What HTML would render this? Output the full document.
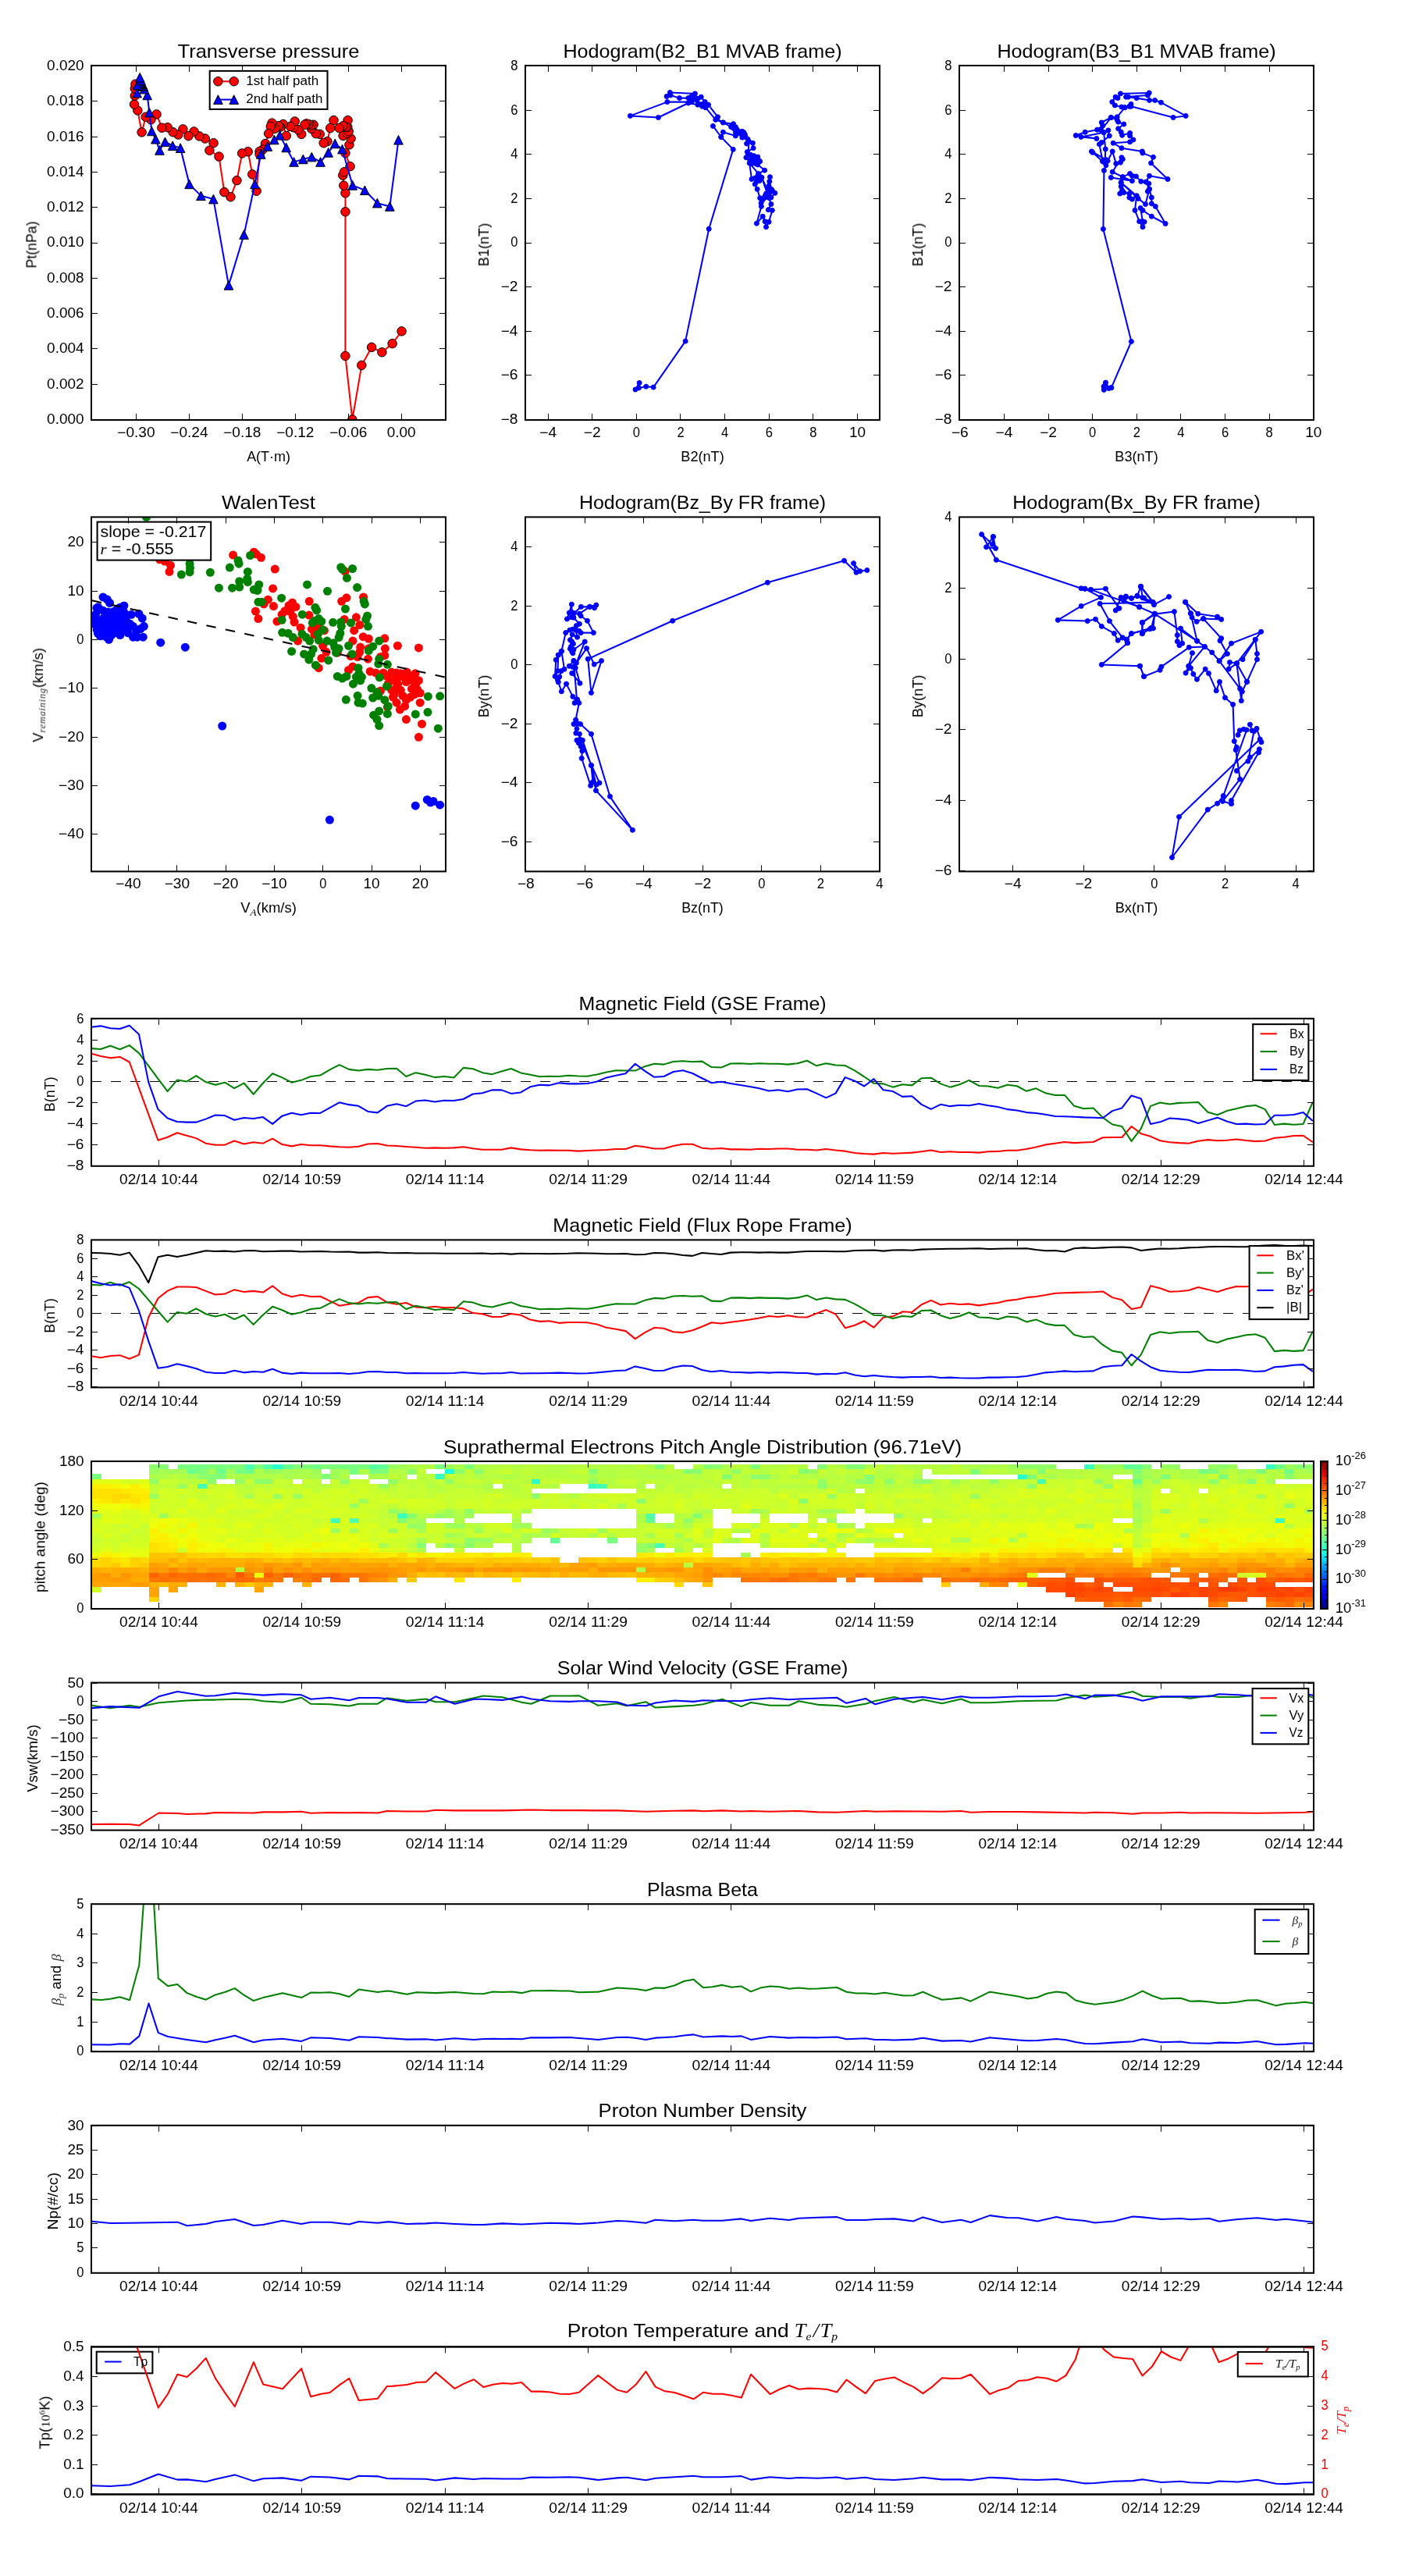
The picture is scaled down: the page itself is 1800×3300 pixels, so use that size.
<!DOCTYPE html>
<html><head><meta charset="utf-8"><title>figure</title>
<style>html,body{margin:0;padding:0;background:#fff}svg{display:block}text{font-family:"Liberation Sans", sans-serif;}</style></head>
<body>
<svg width="1800" height="3300" viewBox="0 0 1800 3300">
<rect x="0" y="0" width="1800" height="3300" fill="#fff"/>
<clipPath id="c_a1"><rect x="117" y="84" width="454" height="454"/></clipPath>
<g clip-path="url(#c_a1)">
<polyline points="514.58,424.34 502.63,440.14 489.39,451.24 476.15,444.83 463.34,467.89 451.38,537.5 442.41,455.94 442.46,271.25 442.46,247.33 440.32,237.65 439.32,224.56 441.03,220.28 448.58,213.17 442.46,196.09 447.44,185.41 449.57,177.58 439.61,174.02 445.02,171.17 446.73,168.33 445.3,162.63 445.59,154.09 443.17,162.63 439.61,161.21 434.63,164.06 427.51,154.09 423.24,164.06 419.4,181.14 414.7,183.27 409.72,171.89 404.73,171.17 399.04,164.77 401.6,159.79 398.33,160.5 395.48,159.07 392.63,158.36 390.5,159.79 386.23,171.89 381.96,166.19 376.26,163.35 377.69,155.52 371.99,161.92 366.73,174.02 362.74,159.07 359.18,162.63 357.05,161.21 352.06,164.77 348.51,157.65 346.8,161.92 344.23,171.17 339.96,183.99 336.41,191.81 332.56,193.95 332.63,197.44 328.65,244.7 323.24,223.35 317.69,194.31 310.14,196.44 303.45,231.17 295.48,252.24 287.37,246.12 280.53,200.57 268.43,192.74 273.56,183.2 262.74,177.51 255.34,174.38 248.51,168.54 241.53,174.23 234.41,165.41 228.29,172.53 221.6,169.25 214.77,163.27 207.37,163.7 200.53,146.48 193.42,153.31 186.73,149.75 181.6,169.4 176.33,141.49 172.06,133.67 172.78,122.7 172.78,113.45 173.49,107.76" fill="none" stroke="#ff0000" stroke-width="2.05" stroke-linejoin="round"/>
<circle cx="514.58" cy="424.34" r="5.75" fill="#ff0000" stroke="#000" stroke-width="1"/>
<circle cx="502.63" cy="440.14" r="5.75" fill="#ff0000" stroke="#000" stroke-width="1"/>
<circle cx="489.39" cy="451.24" r="5.75" fill="#ff0000" stroke="#000" stroke-width="1"/>
<circle cx="476.15" cy="444.83" r="5.75" fill="#ff0000" stroke="#000" stroke-width="1"/>
<circle cx="463.34" cy="467.89" r="5.75" fill="#ff0000" stroke="#000" stroke-width="1"/>
<circle cx="451.38" cy="537.5" r="5.75" fill="#ff0000" stroke="#000" stroke-width="1"/>
<circle cx="442.41" cy="455.94" r="5.75" fill="#ff0000" stroke="#000" stroke-width="1"/>
<circle cx="442.46" cy="271.25" r="5.75" fill="#ff0000" stroke="#000" stroke-width="1"/>
<circle cx="442.46" cy="247.33" r="5.75" fill="#ff0000" stroke="#000" stroke-width="1"/>
<circle cx="440.32" cy="237.65" r="5.75" fill="#ff0000" stroke="#000" stroke-width="1"/>
<circle cx="439.32" cy="224.56" r="5.75" fill="#ff0000" stroke="#000" stroke-width="1"/>
<circle cx="441.03" cy="220.28" r="5.75" fill="#ff0000" stroke="#000" stroke-width="1"/>
<circle cx="448.58" cy="213.17" r="5.75" fill="#ff0000" stroke="#000" stroke-width="1"/>
<circle cx="442.46" cy="196.09" r="5.75" fill="#ff0000" stroke="#000" stroke-width="1"/>
<circle cx="447.44" cy="185.41" r="5.75" fill="#ff0000" stroke="#000" stroke-width="1"/>
<circle cx="449.57" cy="177.58" r="5.75" fill="#ff0000" stroke="#000" stroke-width="1"/>
<circle cx="439.61" cy="174.02" r="5.75" fill="#ff0000" stroke="#000" stroke-width="1"/>
<circle cx="445.02" cy="171.17" r="5.75" fill="#ff0000" stroke="#000" stroke-width="1"/>
<circle cx="446.73" cy="168.33" r="5.75" fill="#ff0000" stroke="#000" stroke-width="1"/>
<circle cx="445.3" cy="162.63" r="5.75" fill="#ff0000" stroke="#000" stroke-width="1"/>
<circle cx="445.59" cy="154.09" r="5.75" fill="#ff0000" stroke="#000" stroke-width="1"/>
<circle cx="443.17" cy="162.63" r="5.75" fill="#ff0000" stroke="#000" stroke-width="1"/>
<circle cx="439.61" cy="161.21" r="5.75" fill="#ff0000" stroke="#000" stroke-width="1"/>
<circle cx="434.63" cy="164.06" r="5.75" fill="#ff0000" stroke="#000" stroke-width="1"/>
<circle cx="427.51" cy="154.09" r="5.75" fill="#ff0000" stroke="#000" stroke-width="1"/>
<circle cx="423.24" cy="164.06" r="5.75" fill="#ff0000" stroke="#000" stroke-width="1"/>
<circle cx="419.4" cy="181.14" r="5.75" fill="#ff0000" stroke="#000" stroke-width="1"/>
<circle cx="414.7" cy="183.27" r="5.75" fill="#ff0000" stroke="#000" stroke-width="1"/>
<circle cx="409.72" cy="171.89" r="5.75" fill="#ff0000" stroke="#000" stroke-width="1"/>
<circle cx="404.73" cy="171.17" r="5.75" fill="#ff0000" stroke="#000" stroke-width="1"/>
<circle cx="399.04" cy="164.77" r="5.75" fill="#ff0000" stroke="#000" stroke-width="1"/>
<circle cx="401.6" cy="159.79" r="5.75" fill="#ff0000" stroke="#000" stroke-width="1"/>
<circle cx="398.33" cy="160.5" r="5.75" fill="#ff0000" stroke="#000" stroke-width="1"/>
<circle cx="395.48" cy="159.07" r="5.75" fill="#ff0000" stroke="#000" stroke-width="1"/>
<circle cx="392.63" cy="158.36" r="5.75" fill="#ff0000" stroke="#000" stroke-width="1"/>
<circle cx="390.5" cy="159.79" r="5.75" fill="#ff0000" stroke="#000" stroke-width="1"/>
<circle cx="386.23" cy="171.89" r="5.75" fill="#ff0000" stroke="#000" stroke-width="1"/>
<circle cx="381.96" cy="166.19" r="5.75" fill="#ff0000" stroke="#000" stroke-width="1"/>
<circle cx="376.26" cy="163.35" r="5.75" fill="#ff0000" stroke="#000" stroke-width="1"/>
<circle cx="377.69" cy="155.52" r="5.75" fill="#ff0000" stroke="#000" stroke-width="1"/>
<circle cx="371.99" cy="161.92" r="5.75" fill="#ff0000" stroke="#000" stroke-width="1"/>
<circle cx="366.73" cy="174.02" r="5.75" fill="#ff0000" stroke="#000" stroke-width="1"/>
<circle cx="362.74" cy="159.07" r="5.75" fill="#ff0000" stroke="#000" stroke-width="1"/>
<circle cx="359.18" cy="162.63" r="5.75" fill="#ff0000" stroke="#000" stroke-width="1"/>
<circle cx="357.05" cy="161.21" r="5.75" fill="#ff0000" stroke="#000" stroke-width="1"/>
<circle cx="352.06" cy="164.77" r="5.75" fill="#ff0000" stroke="#000" stroke-width="1"/>
<circle cx="348.51" cy="157.65" r="5.75" fill="#ff0000" stroke="#000" stroke-width="1"/>
<circle cx="346.8" cy="161.92" r="5.75" fill="#ff0000" stroke="#000" stroke-width="1"/>
<circle cx="344.23" cy="171.17" r="5.75" fill="#ff0000" stroke="#000" stroke-width="1"/>
<circle cx="339.96" cy="183.99" r="5.75" fill="#ff0000" stroke="#000" stroke-width="1"/>
<circle cx="336.41" cy="191.81" r="5.75" fill="#ff0000" stroke="#000" stroke-width="1"/>
<circle cx="332.56" cy="193.95" r="5.75" fill="#ff0000" stroke="#000" stroke-width="1"/>
<circle cx="332.63" cy="197.44" r="5.75" fill="#ff0000" stroke="#000" stroke-width="1"/>
<circle cx="328.65" cy="244.7" r="5.75" fill="#ff0000" stroke="#000" stroke-width="1"/>
<circle cx="323.24" cy="223.35" r="5.75" fill="#ff0000" stroke="#000" stroke-width="1"/>
<circle cx="317.69" cy="194.31" r="5.75" fill="#ff0000" stroke="#000" stroke-width="1"/>
<circle cx="310.14" cy="196.44" r="5.75" fill="#ff0000" stroke="#000" stroke-width="1"/>
<circle cx="303.45" cy="231.17" r="5.75" fill="#ff0000" stroke="#000" stroke-width="1"/>
<circle cx="295.48" cy="252.24" r="5.75" fill="#ff0000" stroke="#000" stroke-width="1"/>
<circle cx="287.37" cy="246.12" r="5.75" fill="#ff0000" stroke="#000" stroke-width="1"/>
<circle cx="280.53" cy="200.57" r="5.75" fill="#ff0000" stroke="#000" stroke-width="1"/>
<circle cx="268.43" cy="192.74" r="5.75" fill="#ff0000" stroke="#000" stroke-width="1"/>
<circle cx="273.56" cy="183.2" r="5.75" fill="#ff0000" stroke="#000" stroke-width="1"/>
<circle cx="262.74" cy="177.51" r="5.75" fill="#ff0000" stroke="#000" stroke-width="1"/>
<circle cx="255.34" cy="174.38" r="5.75" fill="#ff0000" stroke="#000" stroke-width="1"/>
<circle cx="248.51" cy="168.54" r="5.75" fill="#ff0000" stroke="#000" stroke-width="1"/>
<circle cx="241.53" cy="174.23" r="5.75" fill="#ff0000" stroke="#000" stroke-width="1"/>
<circle cx="234.41" cy="165.41" r="5.75" fill="#ff0000" stroke="#000" stroke-width="1"/>
<circle cx="228.29" cy="172.53" r="5.75" fill="#ff0000" stroke="#000" stroke-width="1"/>
<circle cx="221.6" cy="169.25" r="5.75" fill="#ff0000" stroke="#000" stroke-width="1"/>
<circle cx="214.77" cy="163.27" r="5.75" fill="#ff0000" stroke="#000" stroke-width="1"/>
<circle cx="207.37" cy="163.7" r="5.75" fill="#ff0000" stroke="#000" stroke-width="1"/>
<circle cx="200.53" cy="146.48" r="5.75" fill="#ff0000" stroke="#000" stroke-width="1"/>
<circle cx="193.42" cy="153.31" r="5.75" fill="#ff0000" stroke="#000" stroke-width="1"/>
<circle cx="186.73" cy="149.75" r="5.75" fill="#ff0000" stroke="#000" stroke-width="1"/>
<circle cx="181.6" cy="169.4" r="5.75" fill="#ff0000" stroke="#000" stroke-width="1"/>
<circle cx="176.33" cy="141.49" r="5.75" fill="#ff0000" stroke="#000" stroke-width="1"/>
<circle cx="172.06" cy="133.67" r="5.75" fill="#ff0000" stroke="#000" stroke-width="1"/>
<circle cx="172.78" cy="122.7" r="5.75" fill="#ff0000" stroke="#000" stroke-width="1"/>
<circle cx="172.78" cy="113.45" r="5.75" fill="#ff0000" stroke="#000" stroke-width="1"/>
<circle cx="173.49" cy="107.76" r="5.75" fill="#ff0000" stroke="#000" stroke-width="1"/>
<polyline points="510.5,179.29 499.4,264.41 483.31,260.14 467.37,243.77 451.71,237.37 438.47,191.1 429.22,183.99 420.68,195.37 410.57,207.47 399.32,201.07 388.36,203.91 376.55,207.47 366.73,188.97 358.47,173.31 351.35,179 342.81,187.54 334.27,197.51 326.51,235.87 312.59,300.49 292.95,365.4 273.42,255.09 257.47,250.82 242.53,235.87 231.14,189.61 221.17,186.76 211.49,181.78 204.52,192.46 199.4,178.22 194.41,167.97 191.28,144.06 188.72,121.99 184.88,114.16 183.88,110.6 182.74,109.18 181.6,107.76 180.46,106.76 179.32,105.62 178.19,106.33 177.05,107.76 175.91,109.18 175.62,119.15 180.6,102.78 179.18,99.22" fill="none" stroke="#0000ff" stroke-width="2.05" stroke-linejoin="round"/>
<path d="M510.5,173.49 L504.7,185.09 L516.3,185.09 Z" fill="#0000ff" stroke="#000" stroke-width="1" stroke-linejoin="miter"/>
<path d="M499.4,258.61 L493.6,270.21 L505.2,270.21 Z" fill="#0000ff" stroke="#000" stroke-width="1" stroke-linejoin="miter"/>
<path d="M483.31,254.34 L477.51,265.94 L489.11,265.94 Z" fill="#0000ff" stroke="#000" stroke-width="1" stroke-linejoin="miter"/>
<path d="M467.37,237.97 L461.57,249.57 L473.17,249.57 Z" fill="#0000ff" stroke="#000" stroke-width="1" stroke-linejoin="miter"/>
<path d="M451.71,231.57 L445.91,243.17 L457.51,243.17 Z" fill="#0000ff" stroke="#000" stroke-width="1" stroke-linejoin="miter"/>
<path d="M438.47,185.3 L432.67,196.9 L444.27,196.9 Z" fill="#0000ff" stroke="#000" stroke-width="1" stroke-linejoin="miter"/>
<path d="M429.22,178.19 L423.42,189.79 L435.02,189.79 Z" fill="#0000ff" stroke="#000" stroke-width="1" stroke-linejoin="miter"/>
<path d="M420.68,189.57 L414.88,201.17 L426.48,201.17 Z" fill="#0000ff" stroke="#000" stroke-width="1" stroke-linejoin="miter"/>
<path d="M410.57,201.67 L404.77,213.27 L416.37,213.27 Z" fill="#0000ff" stroke="#000" stroke-width="1" stroke-linejoin="miter"/>
<path d="M399.32,195.27 L393.52,206.87 L405.12,206.87 Z" fill="#0000ff" stroke="#000" stroke-width="1" stroke-linejoin="miter"/>
<path d="M388.36,198.11 L382.56,209.71 L394.16,209.71 Z" fill="#0000ff" stroke="#000" stroke-width="1" stroke-linejoin="miter"/>
<path d="M376.55,201.67 L370.75,213.27 L382.35,213.27 Z" fill="#0000ff" stroke="#000" stroke-width="1" stroke-linejoin="miter"/>
<path d="M366.73,183.17 L360.93,194.77 L372.53,194.77 Z" fill="#0000ff" stroke="#000" stroke-width="1" stroke-linejoin="miter"/>
<path d="M358.47,167.51 L352.67,179.11 L364.27,179.11 Z" fill="#0000ff" stroke="#000" stroke-width="1" stroke-linejoin="miter"/>
<path d="M351.35,173.2 L345.55,184.8 L357.15,184.8 Z" fill="#0000ff" stroke="#000" stroke-width="1" stroke-linejoin="miter"/>
<path d="M342.81,181.74 L337.01,193.34 L348.61,193.34 Z" fill="#0000ff" stroke="#000" stroke-width="1" stroke-linejoin="miter"/>
<path d="M334.27,191.71 L328.47,203.31 L340.07,203.31 Z" fill="#0000ff" stroke="#000" stroke-width="1" stroke-linejoin="miter"/>
<path d="M326.51,230.07 L320.71,241.67 L332.31,241.67 Z" fill="#0000ff" stroke="#000" stroke-width="1" stroke-linejoin="miter"/>
<path d="M312.59,294.69 L306.79,306.29 L318.39,306.29 Z" fill="#0000ff" stroke="#000" stroke-width="1" stroke-linejoin="miter"/>
<path d="M292.95,359.6 L287.15,371.2 L298.75,371.2 Z" fill="#0000ff" stroke="#000" stroke-width="1" stroke-linejoin="miter"/>
<path d="M273.42,249.29 L267.62,260.89 L279.22,260.89 Z" fill="#0000ff" stroke="#000" stroke-width="1" stroke-linejoin="miter"/>
<path d="M257.47,245.02 L251.67,256.62 L263.27,256.62 Z" fill="#0000ff" stroke="#000" stroke-width="1" stroke-linejoin="miter"/>
<path d="M242.53,230.07 L236.73,241.67 L248.33,241.67 Z" fill="#0000ff" stroke="#000" stroke-width="1" stroke-linejoin="miter"/>
<path d="M231.14,183.81 L225.34,195.41 L236.94,195.41 Z" fill="#0000ff" stroke="#000" stroke-width="1" stroke-linejoin="miter"/>
<path d="M221.17,180.96 L215.37,192.56 L226.97,192.56 Z" fill="#0000ff" stroke="#000" stroke-width="1" stroke-linejoin="miter"/>
<path d="M211.49,175.98 L205.69,187.58 L217.29,187.58 Z" fill="#0000ff" stroke="#000" stroke-width="1" stroke-linejoin="miter"/>
<path d="M204.52,186.66 L198.72,198.26 L210.32,198.26 Z" fill="#0000ff" stroke="#000" stroke-width="1" stroke-linejoin="miter"/>
<path d="M199.4,172.42 L193.6,184.02 L205.2,184.02 Z" fill="#0000ff" stroke="#000" stroke-width="1" stroke-linejoin="miter"/>
<path d="M194.41,162.17 L188.61,173.77 L200.21,173.77 Z" fill="#0000ff" stroke="#000" stroke-width="1" stroke-linejoin="miter"/>
<path d="M191.28,138.26 L185.48,149.86 L197.08,149.86 Z" fill="#0000ff" stroke="#000" stroke-width="1" stroke-linejoin="miter"/>
<path d="M188.72,116.19 L182.92,127.79 L194.52,127.79 Z" fill="#0000ff" stroke="#000" stroke-width="1" stroke-linejoin="miter"/>
<path d="M184.88,108.36 L179.08,119.96 L190.68,119.96 Z" fill="#0000ff" stroke="#000" stroke-width="1" stroke-linejoin="miter"/>
<path d="M183.88,104.8 L178.08,116.4 L189.68,116.4 Z" fill="#0000ff" stroke="#000" stroke-width="1" stroke-linejoin="miter"/>
<path d="M182.74,103.38 L176.94,114.98 L188.54,114.98 Z" fill="#0000ff" stroke="#000" stroke-width="1" stroke-linejoin="miter"/>
<path d="M181.6,101.96 L175.8,113.56 L187.4,113.56 Z" fill="#0000ff" stroke="#000" stroke-width="1" stroke-linejoin="miter"/>
<path d="M180.46,100.96 L174.66,112.56 L186.26,112.56 Z" fill="#0000ff" stroke="#000" stroke-width="1" stroke-linejoin="miter"/>
<path d="M179.32,99.82 L173.52,111.42 L185.12,111.42 Z" fill="#0000ff" stroke="#000" stroke-width="1" stroke-linejoin="miter"/>
<path d="M178.19,100.53 L172.39,112.13 L183.99,112.13 Z" fill="#0000ff" stroke="#000" stroke-width="1" stroke-linejoin="miter"/>
<path d="M177.05,101.96 L171.25,113.56 L182.85,113.56 Z" fill="#0000ff" stroke="#000" stroke-width="1" stroke-linejoin="miter"/>
<path d="M175.91,103.38 L170.11,114.98 L181.71,114.98 Z" fill="#0000ff" stroke="#000" stroke-width="1" stroke-linejoin="miter"/>
<path d="M175.62,113.35 L169.82,124.95 L181.42,124.95 Z" fill="#0000ff" stroke="#000" stroke-width="1" stroke-linejoin="miter"/>
<path d="M180.6,96.98 L174.8,108.58 L186.4,108.58 Z" fill="#0000ff" stroke="#000" stroke-width="1" stroke-linejoin="miter"/>
<path d="M179.18,93.42 L173.38,105.02 L184.98,105.02 Z" fill="#0000ff" stroke="#000" stroke-width="1" stroke-linejoin="miter"/>
</g>
<rect x="268.7" y="90.9" width="150.8" height="49" fill="#fff" stroke="#000" stroke-width="2.05"/>
<line x1="279.4" y1="104.3" x2="299.7" y2="104.3" stroke="#ff0000" stroke-width="2.05"/>
<circle cx="279.4" cy="104.3" r="5.75" fill="#ff0000" stroke="#000" stroke-width="1"/>
<circle cx="299.7" cy="104.3" r="5.75" fill="#ff0000" stroke="#000" stroke-width="1"/>
<line x1="279.4" y1="127.6" x2="299.7" y2="127.6" stroke="#0000ff" stroke-width="2.05"/>
<path d="M279.4,121.8 L273.6,133.4 L285.2,133.4 Z" fill="#0000ff" stroke="#000" stroke-width="1" stroke-linejoin="miter"/>
<path d="M299.7,121.8 L293.9,133.4 L305.5,133.4 Z" fill="#0000ff" stroke="#000" stroke-width="1" stroke-linejoin="miter"/>
<rect x="117" y="84" width="454" height="454" fill="none" stroke="#000" stroke-width="2.05"/>
<line x1="174.5" y1="538" x2="174.5" y2="530" stroke="#000" stroke-width="1"/>
<line x1="174.5" y1="84" x2="174.5" y2="92" stroke="#000" stroke-width="1"/>
<line x1="242.5" y1="538" x2="242.5" y2="530" stroke="#000" stroke-width="1"/>
<line x1="242.5" y1="84" x2="242.5" y2="92" stroke="#000" stroke-width="1"/>
<line x1="310.5" y1="538" x2="310.5" y2="530" stroke="#000" stroke-width="1"/>
<line x1="310.5" y1="84" x2="310.5" y2="92" stroke="#000" stroke-width="1"/>
<line x1="378.5" y1="538" x2="378.5" y2="530" stroke="#000" stroke-width="1"/>
<line x1="378.5" y1="84" x2="378.5" y2="92" stroke="#000" stroke-width="1"/>
<line x1="446.5" y1="538" x2="446.5" y2="530" stroke="#000" stroke-width="1"/>
<line x1="446.5" y1="84" x2="446.5" y2="92" stroke="#000" stroke-width="1"/>
<line x1="514.5" y1="538" x2="514.5" y2="530" stroke="#000" stroke-width="1"/>
<line x1="514.5" y1="84" x2="514.5" y2="92" stroke="#000" stroke-width="1"/>
<line x1="117" y1="537.5" x2="125" y2="537.5" stroke="#000" stroke-width="1"/>
<line x1="571" y1="537.5" x2="563" y2="537.5" stroke="#000" stroke-width="1"/>
<line x1="117" y1="492.5" x2="125" y2="492.5" stroke="#000" stroke-width="1"/>
<line x1="571" y1="492.5" x2="563" y2="492.5" stroke="#000" stroke-width="1"/>
<line x1="117" y1="446.5" x2="125" y2="446.5" stroke="#000" stroke-width="1"/>
<line x1="571" y1="446.5" x2="563" y2="446.5" stroke="#000" stroke-width="1"/>
<line x1="117" y1="401.5" x2="125" y2="401.5" stroke="#000" stroke-width="1"/>
<line x1="571" y1="401.5" x2="563" y2="401.5" stroke="#000" stroke-width="1"/>
<line x1="117" y1="356.5" x2="125" y2="356.5" stroke="#000" stroke-width="1"/>
<line x1="571" y1="356.5" x2="563" y2="356.5" stroke="#000" stroke-width="1"/>
<line x1="117" y1="311.5" x2="125" y2="311.5" stroke="#000" stroke-width="1"/>
<line x1="571" y1="311.5" x2="563" y2="311.5" stroke="#000" stroke-width="1"/>
<line x1="117" y1="265.5" x2="125" y2="265.5" stroke="#000" stroke-width="1"/>
<line x1="571" y1="265.5" x2="563" y2="265.5" stroke="#000" stroke-width="1"/>
<line x1="117" y1="220.5" x2="125" y2="220.5" stroke="#000" stroke-width="1"/>
<line x1="571" y1="220.5" x2="563" y2="220.5" stroke="#000" stroke-width="1"/>
<line x1="117" y1="175.5" x2="125" y2="175.5" stroke="#000" stroke-width="1"/>
<line x1="571" y1="175.5" x2="563" y2="175.5" stroke="#000" stroke-width="1"/>
<line x1="117" y1="129.5" x2="125" y2="129.5" stroke="#000" stroke-width="1"/>
<line x1="571" y1="129.5" x2="563" y2="129.5" stroke="#000" stroke-width="1"/>
<line x1="117" y1="84.5" x2="125" y2="84.5" stroke="#000" stroke-width="1"/>
<line x1="571" y1="84.5" x2="563" y2="84.5" stroke="#000" stroke-width="1"/>
<clipPath id="c_h21"><rect x="673" y="84" width="454" height="454"/></clipPath>
<g clip-path="url(#c_h21)">
<polyline points="814,499 819.1,490.5 818.3,497 827.7,495.2 837.1,496.1 878.1,437.1 908.2,293.3 939.22,191.39 923.84,175.44 926.41,169.32 942.35,174.02 948.04,171.17 940.21,164.77 939.5,158.65 926.41,156.94 918.15,151.96 919.57,149.82 907.47,134.16 903.91,137.72 899.64,136.3 894.66,133.45 903.2,130.6 898.22,124.2 893.95,126.33 890.39,119.93 858.36,118.51 854.09,123.49 859.07,122.06 870.46,125.62 881.85,125.62 886.12,123.49 886.12,130.6 854.8,130.6 807.4,148.4 843.42,150.53 881.85,132.03 893.95,134.16 903.91,137.72 916.73,153.38 926.41,156.94 936.65,162.63 942.35,169.75 950.89,168.33 954.45,172.6 950.89,176.16 958.01,178.29 956.58,183.99 964.41,183.27 965.12,189.68 957.3,194.66 955.87,201.78 961.57,198.22 965.84,199.64 970.82,201.07 960.85,205.34 966.55,206.76 973.67,206.76 970.82,211.03 979.64,218.15 971.53,222.42 960.14,208.9 962.99,229.54 969.4,228.11 975.8,227.4 972.95,231.67 967.26,235.94 970.11,242.35 973.67,253.74 977.94,254.45 980.07,250.89 983.63,246.62 985.05,238.08 986.48,226.69 985.77,232.38 987.9,242.35 992.88,247.33 987.9,253.02 975.8,227.4 987.9,261.57 984.34,268.68 989.32,269.4 985.05,284.34 981.49,290.75 980.07,283.63 977.22,277.22 969.4,286.19 975.37,264.41 975.09,260.14 977.94,254.45" fill="none" stroke="#0000ff" stroke-width="2.05" stroke-linejoin="round"/>
<polyline points="923.84,175.44 913.45,161.49" fill="none" stroke="#0000ff" stroke-width="2.05" stroke-linejoin="round"/>
<polyline points="883.99,126.33 888.26,124.91 885.41,127.76 892.53,128.47 899.64,133.45 901.78,134.16 905.34,134.88" fill="none" stroke="#0000ff" stroke-width="2.05" stroke-linejoin="round"/>
<polyline points="937.37,161.21 942.35,162.63 943.77,165.48 946.62,168.33 949.47,171.17 953.02,169.75 955.16,175.44 959.43,181.14 958.72,198.22 963.7,201.78 967.97,203.2 971.53,204.63 969.4,206.05 963.7,206.05 962.99,209.61 967.97,209.61" fill="none" stroke="#0000ff" stroke-width="2.05" stroke-linejoin="round"/>
<polyline points="972.24,223.84 970.82,225.27 967.26,228.11 973.67,228.83 969.4,232.38" fill="none" stroke="#0000ff" stroke-width="2.05" stroke-linejoin="round"/>
<polyline points="989.32,243.77 985.05,242.35 986.48,246.62 981.49,248.04 983.63,250.89 985.77,253.74 976.51,256.58" fill="none" stroke="#0000ff" stroke-width="2.05" stroke-linejoin="round"/>
<circle cx="814" cy="499" r="3" fill="#0000ff" stroke="#0000ff" stroke-width="1"/>
<circle cx="819.1" cy="490.5" r="3" fill="#0000ff" stroke="#0000ff" stroke-width="1"/>
<circle cx="818.3" cy="497" r="3" fill="#0000ff" stroke="#0000ff" stroke-width="1"/>
<circle cx="827.7" cy="495.2" r="3" fill="#0000ff" stroke="#0000ff" stroke-width="1"/>
<circle cx="837.1" cy="496.1" r="3" fill="#0000ff" stroke="#0000ff" stroke-width="1"/>
<circle cx="878.1" cy="437.1" r="3" fill="#0000ff" stroke="#0000ff" stroke-width="1"/>
<circle cx="908.2" cy="293.3" r="3" fill="#0000ff" stroke="#0000ff" stroke-width="1"/>
<circle cx="939.22" cy="191.39" r="3" fill="#0000ff" stroke="#0000ff" stroke-width="1"/>
<circle cx="923.84" cy="175.44" r="3" fill="#0000ff" stroke="#0000ff" stroke-width="1"/>
<circle cx="926.41" cy="169.32" r="3" fill="#0000ff" stroke="#0000ff" stroke-width="1"/>
<circle cx="942.35" cy="174.02" r="3" fill="#0000ff" stroke="#0000ff" stroke-width="1"/>
<circle cx="948.04" cy="171.17" r="3" fill="#0000ff" stroke="#0000ff" stroke-width="1"/>
<circle cx="940.21" cy="164.77" r="3" fill="#0000ff" stroke="#0000ff" stroke-width="1"/>
<circle cx="939.5" cy="158.65" r="3" fill="#0000ff" stroke="#0000ff" stroke-width="1"/>
<circle cx="926.41" cy="156.94" r="3" fill="#0000ff" stroke="#0000ff" stroke-width="1"/>
<circle cx="918.15" cy="151.96" r="3" fill="#0000ff" stroke="#0000ff" stroke-width="1"/>
<circle cx="919.57" cy="149.82" r="3" fill="#0000ff" stroke="#0000ff" stroke-width="1"/>
<circle cx="907.47" cy="134.16" r="3" fill="#0000ff" stroke="#0000ff" stroke-width="1"/>
<circle cx="903.91" cy="137.72" r="3" fill="#0000ff" stroke="#0000ff" stroke-width="1"/>
<circle cx="899.64" cy="136.3" r="3" fill="#0000ff" stroke="#0000ff" stroke-width="1"/>
<circle cx="894.66" cy="133.45" r="3" fill="#0000ff" stroke="#0000ff" stroke-width="1"/>
<circle cx="903.2" cy="130.6" r="3" fill="#0000ff" stroke="#0000ff" stroke-width="1"/>
<circle cx="898.22" cy="124.2" r="3" fill="#0000ff" stroke="#0000ff" stroke-width="1"/>
<circle cx="893.95" cy="126.33" r="3" fill="#0000ff" stroke="#0000ff" stroke-width="1"/>
<circle cx="890.39" cy="119.93" r="3" fill="#0000ff" stroke="#0000ff" stroke-width="1"/>
<circle cx="858.36" cy="118.51" r="3" fill="#0000ff" stroke="#0000ff" stroke-width="1"/>
<circle cx="854.09" cy="123.49" r="3" fill="#0000ff" stroke="#0000ff" stroke-width="1"/>
<circle cx="859.07" cy="122.06" r="3" fill="#0000ff" stroke="#0000ff" stroke-width="1"/>
<circle cx="870.46" cy="125.62" r="3" fill="#0000ff" stroke="#0000ff" stroke-width="1"/>
<circle cx="881.85" cy="125.62" r="3" fill="#0000ff" stroke="#0000ff" stroke-width="1"/>
<circle cx="886.12" cy="123.49" r="3" fill="#0000ff" stroke="#0000ff" stroke-width="1"/>
<circle cx="886.12" cy="130.6" r="3" fill="#0000ff" stroke="#0000ff" stroke-width="1"/>
<circle cx="854.8" cy="130.6" r="3" fill="#0000ff" stroke="#0000ff" stroke-width="1"/>
<circle cx="807.4" cy="148.4" r="3" fill="#0000ff" stroke="#0000ff" stroke-width="1"/>
<circle cx="843.42" cy="150.53" r="3" fill="#0000ff" stroke="#0000ff" stroke-width="1"/>
<circle cx="881.85" cy="132.03" r="3" fill="#0000ff" stroke="#0000ff" stroke-width="1"/>
<circle cx="893.95" cy="134.16" r="3" fill="#0000ff" stroke="#0000ff" stroke-width="1"/>
<circle cx="903.91" cy="137.72" r="3" fill="#0000ff" stroke="#0000ff" stroke-width="1"/>
<circle cx="916.73" cy="153.38" r="3" fill="#0000ff" stroke="#0000ff" stroke-width="1"/>
<circle cx="926.41" cy="156.94" r="3" fill="#0000ff" stroke="#0000ff" stroke-width="1"/>
<circle cx="936.65" cy="162.63" r="3" fill="#0000ff" stroke="#0000ff" stroke-width="1"/>
<circle cx="942.35" cy="169.75" r="3" fill="#0000ff" stroke="#0000ff" stroke-width="1"/>
<circle cx="950.89" cy="168.33" r="3" fill="#0000ff" stroke="#0000ff" stroke-width="1"/>
<circle cx="954.45" cy="172.6" r="3" fill="#0000ff" stroke="#0000ff" stroke-width="1"/>
<circle cx="950.89" cy="176.16" r="3" fill="#0000ff" stroke="#0000ff" stroke-width="1"/>
<circle cx="958.01" cy="178.29" r="3" fill="#0000ff" stroke="#0000ff" stroke-width="1"/>
<circle cx="956.58" cy="183.99" r="3" fill="#0000ff" stroke="#0000ff" stroke-width="1"/>
<circle cx="964.41" cy="183.27" r="3" fill="#0000ff" stroke="#0000ff" stroke-width="1"/>
<circle cx="965.12" cy="189.68" r="3" fill="#0000ff" stroke="#0000ff" stroke-width="1"/>
<circle cx="957.3" cy="194.66" r="3" fill="#0000ff" stroke="#0000ff" stroke-width="1"/>
<circle cx="955.87" cy="201.78" r="3" fill="#0000ff" stroke="#0000ff" stroke-width="1"/>
<circle cx="961.57" cy="198.22" r="3" fill="#0000ff" stroke="#0000ff" stroke-width="1"/>
<circle cx="965.84" cy="199.64" r="3" fill="#0000ff" stroke="#0000ff" stroke-width="1"/>
<circle cx="970.82" cy="201.07" r="3" fill="#0000ff" stroke="#0000ff" stroke-width="1"/>
<circle cx="960.85" cy="205.34" r="3" fill="#0000ff" stroke="#0000ff" stroke-width="1"/>
<circle cx="966.55" cy="206.76" r="3" fill="#0000ff" stroke="#0000ff" stroke-width="1"/>
<circle cx="973.67" cy="206.76" r="3" fill="#0000ff" stroke="#0000ff" stroke-width="1"/>
<circle cx="970.82" cy="211.03" r="3" fill="#0000ff" stroke="#0000ff" stroke-width="1"/>
<circle cx="979.64" cy="218.15" r="3" fill="#0000ff" stroke="#0000ff" stroke-width="1"/>
<circle cx="971.53" cy="222.42" r="3" fill="#0000ff" stroke="#0000ff" stroke-width="1"/>
<circle cx="960.14" cy="208.9" r="3" fill="#0000ff" stroke="#0000ff" stroke-width="1"/>
<circle cx="962.99" cy="229.54" r="3" fill="#0000ff" stroke="#0000ff" stroke-width="1"/>
<circle cx="969.4" cy="228.11" r="3" fill="#0000ff" stroke="#0000ff" stroke-width="1"/>
<circle cx="975.8" cy="227.4" r="3" fill="#0000ff" stroke="#0000ff" stroke-width="1"/>
<circle cx="972.95" cy="231.67" r="3" fill="#0000ff" stroke="#0000ff" stroke-width="1"/>
<circle cx="967.26" cy="235.94" r="3" fill="#0000ff" stroke="#0000ff" stroke-width="1"/>
<circle cx="970.11" cy="242.35" r="3" fill="#0000ff" stroke="#0000ff" stroke-width="1"/>
<circle cx="973.67" cy="253.74" r="3" fill="#0000ff" stroke="#0000ff" stroke-width="1"/>
<circle cx="977.94" cy="254.45" r="3" fill="#0000ff" stroke="#0000ff" stroke-width="1"/>
<circle cx="980.07" cy="250.89" r="3" fill="#0000ff" stroke="#0000ff" stroke-width="1"/>
<circle cx="983.63" cy="246.62" r="3" fill="#0000ff" stroke="#0000ff" stroke-width="1"/>
<circle cx="985.05" cy="238.08" r="3" fill="#0000ff" stroke="#0000ff" stroke-width="1"/>
<circle cx="986.48" cy="226.69" r="3" fill="#0000ff" stroke="#0000ff" stroke-width="1"/>
<circle cx="985.77" cy="232.38" r="3" fill="#0000ff" stroke="#0000ff" stroke-width="1"/>
<circle cx="987.9" cy="242.35" r="3" fill="#0000ff" stroke="#0000ff" stroke-width="1"/>
<circle cx="992.88" cy="247.33" r="3" fill="#0000ff" stroke="#0000ff" stroke-width="1"/>
<circle cx="987.9" cy="253.02" r="3" fill="#0000ff" stroke="#0000ff" stroke-width="1"/>
<circle cx="975.8" cy="227.4" r="3" fill="#0000ff" stroke="#0000ff" stroke-width="1"/>
<circle cx="987.9" cy="261.57" r="3" fill="#0000ff" stroke="#0000ff" stroke-width="1"/>
<circle cx="984.34" cy="268.68" r="3" fill="#0000ff" stroke="#0000ff" stroke-width="1"/>
<circle cx="989.32" cy="269.4" r="3" fill="#0000ff" stroke="#0000ff" stroke-width="1"/>
<circle cx="985.05" cy="284.34" r="3" fill="#0000ff" stroke="#0000ff" stroke-width="1"/>
<circle cx="981.49" cy="290.75" r="3" fill="#0000ff" stroke="#0000ff" stroke-width="1"/>
<circle cx="980.07" cy="283.63" r="3" fill="#0000ff" stroke="#0000ff" stroke-width="1"/>
<circle cx="977.22" cy="277.22" r="3" fill="#0000ff" stroke="#0000ff" stroke-width="1"/>
<circle cx="969.4" cy="286.19" r="3" fill="#0000ff" stroke="#0000ff" stroke-width="1"/>
<circle cx="975.37" cy="264.41" r="3" fill="#0000ff" stroke="#0000ff" stroke-width="1"/>
<circle cx="975.09" cy="260.14" r="3" fill="#0000ff" stroke="#0000ff" stroke-width="1"/>
<circle cx="977.94" cy="254.45" r="3" fill="#0000ff" stroke="#0000ff" stroke-width="1"/>
<circle cx="923.84" cy="175.44" r="3" fill="#0000ff" stroke="#0000ff" stroke-width="1"/>
<circle cx="913.45" cy="161.49" r="3" fill="#0000ff" stroke="#0000ff" stroke-width="1"/>
<circle cx="883.99" cy="126.33" r="3" fill="#0000ff" stroke="#0000ff" stroke-width="1"/>
<circle cx="888.26" cy="124.91" r="3" fill="#0000ff" stroke="#0000ff" stroke-width="1"/>
<circle cx="885.41" cy="127.76" r="3" fill="#0000ff" stroke="#0000ff" stroke-width="1"/>
<circle cx="892.53" cy="128.47" r="3" fill="#0000ff" stroke="#0000ff" stroke-width="1"/>
<circle cx="899.64" cy="133.45" r="3" fill="#0000ff" stroke="#0000ff" stroke-width="1"/>
<circle cx="901.78" cy="134.16" r="3" fill="#0000ff" stroke="#0000ff" stroke-width="1"/>
<circle cx="905.34" cy="134.88" r="3" fill="#0000ff" stroke="#0000ff" stroke-width="1"/>
<circle cx="937.37" cy="161.21" r="3" fill="#0000ff" stroke="#0000ff" stroke-width="1"/>
<circle cx="942.35" cy="162.63" r="3" fill="#0000ff" stroke="#0000ff" stroke-width="1"/>
<circle cx="943.77" cy="165.48" r="3" fill="#0000ff" stroke="#0000ff" stroke-width="1"/>
<circle cx="946.62" cy="168.33" r="3" fill="#0000ff" stroke="#0000ff" stroke-width="1"/>
<circle cx="949.47" cy="171.17" r="3" fill="#0000ff" stroke="#0000ff" stroke-width="1"/>
<circle cx="953.02" cy="169.75" r="3" fill="#0000ff" stroke="#0000ff" stroke-width="1"/>
<circle cx="955.16" cy="175.44" r="3" fill="#0000ff" stroke="#0000ff" stroke-width="1"/>
<circle cx="959.43" cy="181.14" r="3" fill="#0000ff" stroke="#0000ff" stroke-width="1"/>
<circle cx="958.72" cy="198.22" r="3" fill="#0000ff" stroke="#0000ff" stroke-width="1"/>
<circle cx="963.7" cy="201.78" r="3" fill="#0000ff" stroke="#0000ff" stroke-width="1"/>
<circle cx="967.97" cy="203.2" r="3" fill="#0000ff" stroke="#0000ff" stroke-width="1"/>
<circle cx="971.53" cy="204.63" r="3" fill="#0000ff" stroke="#0000ff" stroke-width="1"/>
<circle cx="969.4" cy="206.05" r="3" fill="#0000ff" stroke="#0000ff" stroke-width="1"/>
<circle cx="963.7" cy="206.05" r="3" fill="#0000ff" stroke="#0000ff" stroke-width="1"/>
<circle cx="962.99" cy="209.61" r="3" fill="#0000ff" stroke="#0000ff" stroke-width="1"/>
<circle cx="967.97" cy="209.61" r="3" fill="#0000ff" stroke="#0000ff" stroke-width="1"/>
<circle cx="972.24" cy="223.84" r="3" fill="#0000ff" stroke="#0000ff" stroke-width="1"/>
<circle cx="970.82" cy="225.27" r="3" fill="#0000ff" stroke="#0000ff" stroke-width="1"/>
<circle cx="967.26" cy="228.11" r="3" fill="#0000ff" stroke="#0000ff" stroke-width="1"/>
<circle cx="973.67" cy="228.83" r="3" fill="#0000ff" stroke="#0000ff" stroke-width="1"/>
<circle cx="969.4" cy="232.38" r="3" fill="#0000ff" stroke="#0000ff" stroke-width="1"/>
<circle cx="989.32" cy="243.77" r="3" fill="#0000ff" stroke="#0000ff" stroke-width="1"/>
<circle cx="985.05" cy="242.35" r="3" fill="#0000ff" stroke="#0000ff" stroke-width="1"/>
<circle cx="986.48" cy="246.62" r="3" fill="#0000ff" stroke="#0000ff" stroke-width="1"/>
<circle cx="981.49" cy="248.04" r="3" fill="#0000ff" stroke="#0000ff" stroke-width="1"/>
<circle cx="983.63" cy="250.89" r="3" fill="#0000ff" stroke="#0000ff" stroke-width="1"/>
<circle cx="985.77" cy="253.74" r="3" fill="#0000ff" stroke="#0000ff" stroke-width="1"/>
<circle cx="976.51" cy="256.58" r="3" fill="#0000ff" stroke="#0000ff" stroke-width="1"/>
</g>
<rect x="673" y="84" width="454" height="454" fill="none" stroke="#000" stroke-width="2.05"/>
<line x1="702.5" y1="538" x2="702.5" y2="530" stroke="#000" stroke-width="1"/>
<line x1="702.5" y1="84" x2="702.5" y2="92" stroke="#000" stroke-width="1"/>
<line x1="758.5" y1="538" x2="758.5" y2="530" stroke="#000" stroke-width="1"/>
<line x1="758.5" y1="84" x2="758.5" y2="92" stroke="#000" stroke-width="1"/>
<line x1="815.5" y1="538" x2="815.5" y2="530" stroke="#000" stroke-width="1"/>
<line x1="815.5" y1="84" x2="815.5" y2="92" stroke="#000" stroke-width="1"/>
<line x1="871.5" y1="538" x2="871.5" y2="530" stroke="#000" stroke-width="1"/>
<line x1="871.5" y1="84" x2="871.5" y2="92" stroke="#000" stroke-width="1"/>
<line x1="928.5" y1="538" x2="928.5" y2="530" stroke="#000" stroke-width="1"/>
<line x1="928.5" y1="84" x2="928.5" y2="92" stroke="#000" stroke-width="1"/>
<line x1="985.5" y1="538" x2="985.5" y2="530" stroke="#000" stroke-width="1"/>
<line x1="985.5" y1="84" x2="985.5" y2="92" stroke="#000" stroke-width="1"/>
<line x1="1041.5" y1="538" x2="1041.5" y2="530" stroke="#000" stroke-width="1"/>
<line x1="1041.5" y1="84" x2="1041.5" y2="92" stroke="#000" stroke-width="1"/>
<line x1="1098.5" y1="538" x2="1098.5" y2="530" stroke="#000" stroke-width="1"/>
<line x1="1098.5" y1="84" x2="1098.5" y2="92" stroke="#000" stroke-width="1"/>
<line x1="673" y1="537.5" x2="681" y2="537.5" stroke="#000" stroke-width="1"/>
<line x1="1127" y1="537.5" x2="1119" y2="537.5" stroke="#000" stroke-width="1"/>
<line x1="673" y1="480.5" x2="681" y2="480.5" stroke="#000" stroke-width="1"/>
<line x1="1127" y1="480.5" x2="1119" y2="480.5" stroke="#000" stroke-width="1"/>
<line x1="673" y1="424.5" x2="681" y2="424.5" stroke="#000" stroke-width="1"/>
<line x1="1127" y1="424.5" x2="1119" y2="424.5" stroke="#000" stroke-width="1"/>
<line x1="673" y1="367.5" x2="681" y2="367.5" stroke="#000" stroke-width="1"/>
<line x1="1127" y1="367.5" x2="1119" y2="367.5" stroke="#000" stroke-width="1"/>
<line x1="673" y1="311.5" x2="681" y2="311.5" stroke="#000" stroke-width="1"/>
<line x1="1127" y1="311.5" x2="1119" y2="311.5" stroke="#000" stroke-width="1"/>
<line x1="673" y1="254.5" x2="681" y2="254.5" stroke="#000" stroke-width="1"/>
<line x1="1127" y1="254.5" x2="1119" y2="254.5" stroke="#000" stroke-width="1"/>
<line x1="673" y1="197.5" x2="681" y2="197.5" stroke="#000" stroke-width="1"/>
<line x1="1127" y1="197.5" x2="1119" y2="197.5" stroke="#000" stroke-width="1"/>
<line x1="673" y1="141.5" x2="681" y2="141.5" stroke="#000" stroke-width="1"/>
<line x1="1127" y1="141.5" x2="1119" y2="141.5" stroke="#000" stroke-width="1"/>
<line x1="673" y1="84.5" x2="681" y2="84.5" stroke="#000" stroke-width="1"/>
<line x1="1127" y1="84.5" x2="1119" y2="84.5" stroke="#000" stroke-width="1"/>
<clipPath id="c_h31"><rect x="1229" y="84" width="454" height="454"/></clipPath>
<g clip-path="url(#c_h31)">
<polyline points="1423.8,496.6 1420.5,497.6 1416.5,490.1 1414,495.2 1414.3,499.4 1416,493 1423.8,496.6 1449.4,437.5 1413.4,293.4 1414.41,218.43 1416.98,211.74 1415.55,208.19 1412.7,206.76 1399.89,195.37 1398.47,193.95 1416.98,204.63 1419.11,206.05 1425.23,193.95 1429.79,209.61 1435.48,208.19 1438.33,203.91 1436.9,201.78 1425.23,220.28 1438.33,226.69 1447.58,222.42 1450.43,225.27 1455.41,225.98 1461.81,232.38 1468.22,233.1 1472.49,225.27 1495.98,229.54 1474.63,208.9 1477.47,201.35 1463.95,196.09 1463.24,193.95 1436.9,189.68 1426.23,183.27 1447.58,181.85 1451.85,179 1447.58,174.02 1447.58,170.46 1437.62,173.31 1436.19,169.04 1432.63,164.77 1439.75,159.07 1432.63,156.23 1431.21,153.38 1423.38,150.53 1411.28,156.94 1412.7,161.21 1405.59,166.19 1390.21,169.32 1378.26,173.59 1404.88,177.58 1384.95,175.44 1414.13,169.75 1419.82,166.9 1421.25,174.02 1411.28,182.56 1408.43,184.7 1412.7,206.76 1415.55,208.19 1416.26,191.1 1414.13,169.75 1410.57,166.9 1423.38,150.53 1431.21,149.82 1441.17,137.72 1436.9,137.01 1428.36,134.88 1424.8,130.6 1429.07,124.2 1431.92,125.62 1435.48,119.93 1472.21,118.93 1470.36,122.06 1442.6,124.2 1445.44,124.2 1456.12,125.62 1472.49,128.47 1479.61,128.47 1487.44,131.32 1519.18,148.4 1503.1,150.53 1449,136.3 1446.87,136.3 1449,133.45 1441.17,137.72" fill="none" stroke="#0000ff" stroke-width="2.05" stroke-linejoin="round"/>
<polyline points="1423.38,227.4 1450.43,231.67 1438.33,226.69 1436.19,233.81 1436.19,238.79 1437.62,243.77 1434.77,248.04 1439.75,246.62 1446.87,248.04 1446.87,253.02 1450.43,255.16 1456.12,250.89 1436.19,233.81 1458.26,254.45 1467.51,261.57 1472.49,242.35 1470.36,245.2 1471.78,235.23 1468.22,233.1 1472.49,242.35 1475.34,253.02 1475.34,260.85 1480.32,264.41 1493.13,286.48 1475.34,277.22 1463.95,269.4 1461.1,266.55 1463.95,283.63 1466.09,284.34 1463.95,290.75 1459.68,283.63 1453.99,269.4 1456.12,250.89" fill="none" stroke="#0000ff" stroke-width="2.05" stroke-linejoin="round"/>
<circle cx="1423.8" cy="496.6" r="3" fill="#0000ff" stroke="#0000ff" stroke-width="1"/>
<circle cx="1420.5" cy="497.6" r="3" fill="#0000ff" stroke="#0000ff" stroke-width="1"/>
<circle cx="1416.5" cy="490.1" r="3" fill="#0000ff" stroke="#0000ff" stroke-width="1"/>
<circle cx="1414" cy="495.2" r="3" fill="#0000ff" stroke="#0000ff" stroke-width="1"/>
<circle cx="1414.3" cy="499.4" r="3" fill="#0000ff" stroke="#0000ff" stroke-width="1"/>
<circle cx="1416" cy="493" r="3" fill="#0000ff" stroke="#0000ff" stroke-width="1"/>
<circle cx="1423.8" cy="496.6" r="3" fill="#0000ff" stroke="#0000ff" stroke-width="1"/>
<circle cx="1449.4" cy="437.5" r="3" fill="#0000ff" stroke="#0000ff" stroke-width="1"/>
<circle cx="1413.4" cy="293.4" r="3" fill="#0000ff" stroke="#0000ff" stroke-width="1"/>
<circle cx="1414.41" cy="218.43" r="3" fill="#0000ff" stroke="#0000ff" stroke-width="1"/>
<circle cx="1416.98" cy="211.74" r="3" fill="#0000ff" stroke="#0000ff" stroke-width="1"/>
<circle cx="1415.55" cy="208.19" r="3" fill="#0000ff" stroke="#0000ff" stroke-width="1"/>
<circle cx="1412.7" cy="206.76" r="3" fill="#0000ff" stroke="#0000ff" stroke-width="1"/>
<circle cx="1399.89" cy="195.37" r="3" fill="#0000ff" stroke="#0000ff" stroke-width="1"/>
<circle cx="1398.47" cy="193.95" r="3" fill="#0000ff" stroke="#0000ff" stroke-width="1"/>
<circle cx="1416.98" cy="204.63" r="3" fill="#0000ff" stroke="#0000ff" stroke-width="1"/>
<circle cx="1419.11" cy="206.05" r="3" fill="#0000ff" stroke="#0000ff" stroke-width="1"/>
<circle cx="1425.23" cy="193.95" r="3" fill="#0000ff" stroke="#0000ff" stroke-width="1"/>
<circle cx="1429.79" cy="209.61" r="3" fill="#0000ff" stroke="#0000ff" stroke-width="1"/>
<circle cx="1435.48" cy="208.19" r="3" fill="#0000ff" stroke="#0000ff" stroke-width="1"/>
<circle cx="1438.33" cy="203.91" r="3" fill="#0000ff" stroke="#0000ff" stroke-width="1"/>
<circle cx="1436.9" cy="201.78" r="3" fill="#0000ff" stroke="#0000ff" stroke-width="1"/>
<circle cx="1425.23" cy="220.28" r="3" fill="#0000ff" stroke="#0000ff" stroke-width="1"/>
<circle cx="1438.33" cy="226.69" r="3" fill="#0000ff" stroke="#0000ff" stroke-width="1"/>
<circle cx="1447.58" cy="222.42" r="3" fill="#0000ff" stroke="#0000ff" stroke-width="1"/>
<circle cx="1450.43" cy="225.27" r="3" fill="#0000ff" stroke="#0000ff" stroke-width="1"/>
<circle cx="1455.41" cy="225.98" r="3" fill="#0000ff" stroke="#0000ff" stroke-width="1"/>
<circle cx="1461.81" cy="232.38" r="3" fill="#0000ff" stroke="#0000ff" stroke-width="1"/>
<circle cx="1468.22" cy="233.1" r="3" fill="#0000ff" stroke="#0000ff" stroke-width="1"/>
<circle cx="1472.49" cy="225.27" r="3" fill="#0000ff" stroke="#0000ff" stroke-width="1"/>
<circle cx="1495.98" cy="229.54" r="3" fill="#0000ff" stroke="#0000ff" stroke-width="1"/>
<circle cx="1474.63" cy="208.9" r="3" fill="#0000ff" stroke="#0000ff" stroke-width="1"/>
<circle cx="1477.47" cy="201.35" r="3" fill="#0000ff" stroke="#0000ff" stroke-width="1"/>
<circle cx="1463.95" cy="196.09" r="3" fill="#0000ff" stroke="#0000ff" stroke-width="1"/>
<circle cx="1463.24" cy="193.95" r="3" fill="#0000ff" stroke="#0000ff" stroke-width="1"/>
<circle cx="1436.9" cy="189.68" r="3" fill="#0000ff" stroke="#0000ff" stroke-width="1"/>
<circle cx="1426.23" cy="183.27" r="3" fill="#0000ff" stroke="#0000ff" stroke-width="1"/>
<circle cx="1447.58" cy="181.85" r="3" fill="#0000ff" stroke="#0000ff" stroke-width="1"/>
<circle cx="1451.85" cy="179" r="3" fill="#0000ff" stroke="#0000ff" stroke-width="1"/>
<circle cx="1447.58" cy="174.02" r="3" fill="#0000ff" stroke="#0000ff" stroke-width="1"/>
<circle cx="1447.58" cy="170.46" r="3" fill="#0000ff" stroke="#0000ff" stroke-width="1"/>
<circle cx="1437.62" cy="173.31" r="3" fill="#0000ff" stroke="#0000ff" stroke-width="1"/>
<circle cx="1436.19" cy="169.04" r="3" fill="#0000ff" stroke="#0000ff" stroke-width="1"/>
<circle cx="1432.63" cy="164.77" r="3" fill="#0000ff" stroke="#0000ff" stroke-width="1"/>
<circle cx="1439.75" cy="159.07" r="3" fill="#0000ff" stroke="#0000ff" stroke-width="1"/>
<circle cx="1432.63" cy="156.23" r="3" fill="#0000ff" stroke="#0000ff" stroke-width="1"/>
<circle cx="1431.21" cy="153.38" r="3" fill="#0000ff" stroke="#0000ff" stroke-width="1"/>
<circle cx="1423.38" cy="150.53" r="3" fill="#0000ff" stroke="#0000ff" stroke-width="1"/>
<circle cx="1411.28" cy="156.94" r="3" fill="#0000ff" stroke="#0000ff" stroke-width="1"/>
<circle cx="1412.7" cy="161.21" r="3" fill="#0000ff" stroke="#0000ff" stroke-width="1"/>
<circle cx="1405.59" cy="166.19" r="3" fill="#0000ff" stroke="#0000ff" stroke-width="1"/>
<circle cx="1390.21" cy="169.32" r="3" fill="#0000ff" stroke="#0000ff" stroke-width="1"/>
<circle cx="1378.26" cy="173.59" r="3" fill="#0000ff" stroke="#0000ff" stroke-width="1"/>
<circle cx="1404.88" cy="177.58" r="3" fill="#0000ff" stroke="#0000ff" stroke-width="1"/>
<circle cx="1384.95" cy="175.44" r="3" fill="#0000ff" stroke="#0000ff" stroke-width="1"/>
<circle cx="1414.13" cy="169.75" r="3" fill="#0000ff" stroke="#0000ff" stroke-width="1"/>
<circle cx="1419.82" cy="166.9" r="3" fill="#0000ff" stroke="#0000ff" stroke-width="1"/>
<circle cx="1421.25" cy="174.02" r="3" fill="#0000ff" stroke="#0000ff" stroke-width="1"/>
<circle cx="1411.28" cy="182.56" r="3" fill="#0000ff" stroke="#0000ff" stroke-width="1"/>
<circle cx="1408.43" cy="184.7" r="3" fill="#0000ff" stroke="#0000ff" stroke-width="1"/>
<circle cx="1412.7" cy="206.76" r="3" fill="#0000ff" stroke="#0000ff" stroke-width="1"/>
<circle cx="1415.55" cy="208.19" r="3" fill="#0000ff" stroke="#0000ff" stroke-width="1"/>
<circle cx="1416.26" cy="191.1" r="3" fill="#0000ff" stroke="#0000ff" stroke-width="1"/>
<circle cx="1414.13" cy="169.75" r="3" fill="#0000ff" stroke="#0000ff" stroke-width="1"/>
<circle cx="1410.57" cy="166.9" r="3" fill="#0000ff" stroke="#0000ff" stroke-width="1"/>
<circle cx="1423.38" cy="150.53" r="3" fill="#0000ff" stroke="#0000ff" stroke-width="1"/>
<circle cx="1431.21" cy="149.82" r="3" fill="#0000ff" stroke="#0000ff" stroke-width="1"/>
<circle cx="1441.17" cy="137.72" r="3" fill="#0000ff" stroke="#0000ff" stroke-width="1"/>
<circle cx="1436.9" cy="137.01" r="3" fill="#0000ff" stroke="#0000ff" stroke-width="1"/>
<circle cx="1428.36" cy="134.88" r="3" fill="#0000ff" stroke="#0000ff" stroke-width="1"/>
<circle cx="1424.8" cy="130.6" r="3" fill="#0000ff" stroke="#0000ff" stroke-width="1"/>
<circle cx="1429.07" cy="124.2" r="3" fill="#0000ff" stroke="#0000ff" stroke-width="1"/>
<circle cx="1431.92" cy="125.62" r="3" fill="#0000ff" stroke="#0000ff" stroke-width="1"/>
<circle cx="1435.48" cy="119.93" r="3" fill="#0000ff" stroke="#0000ff" stroke-width="1"/>
<circle cx="1472.21" cy="118.93" r="3" fill="#0000ff" stroke="#0000ff" stroke-width="1"/>
<circle cx="1470.36" cy="122.06" r="3" fill="#0000ff" stroke="#0000ff" stroke-width="1"/>
<circle cx="1442.6" cy="124.2" r="3" fill="#0000ff" stroke="#0000ff" stroke-width="1"/>
<circle cx="1445.44" cy="124.2" r="3" fill="#0000ff" stroke="#0000ff" stroke-width="1"/>
<circle cx="1456.12" cy="125.62" r="3" fill="#0000ff" stroke="#0000ff" stroke-width="1"/>
<circle cx="1472.49" cy="128.47" r="3" fill="#0000ff" stroke="#0000ff" stroke-width="1"/>
<circle cx="1479.61" cy="128.47" r="3" fill="#0000ff" stroke="#0000ff" stroke-width="1"/>
<circle cx="1487.44" cy="131.32" r="3" fill="#0000ff" stroke="#0000ff" stroke-width="1"/>
<circle cx="1519.18" cy="148.4" r="3" fill="#0000ff" stroke="#0000ff" stroke-width="1"/>
<circle cx="1503.1" cy="150.53" r="3" fill="#0000ff" stroke="#0000ff" stroke-width="1"/>
<circle cx="1449" cy="136.3" r="3" fill="#0000ff" stroke="#0000ff" stroke-width="1"/>
<circle cx="1446.87" cy="136.3" r="3" fill="#0000ff" stroke="#0000ff" stroke-width="1"/>
<circle cx="1449" cy="133.45" r="3" fill="#0000ff" stroke="#0000ff" stroke-width="1"/>
<circle cx="1441.17" cy="137.72" r="3" fill="#0000ff" stroke="#0000ff" stroke-width="1"/>
<circle cx="1423.38" cy="227.4" r="3" fill="#0000ff" stroke="#0000ff" stroke-width="1"/>
<circle cx="1450.43" cy="231.67" r="3" fill="#0000ff" stroke="#0000ff" stroke-width="1"/>
<circle cx="1438.33" cy="226.69" r="3" fill="#0000ff" stroke="#0000ff" stroke-width="1"/>
<circle cx="1436.19" cy="233.81" r="3" fill="#0000ff" stroke="#0000ff" stroke-width="1"/>
<circle cx="1436.19" cy="238.79" r="3" fill="#0000ff" stroke="#0000ff" stroke-width="1"/>
<circle cx="1437.62" cy="243.77" r="3" fill="#0000ff" stroke="#0000ff" stroke-width="1"/>
<circle cx="1434.77" cy="248.04" r="3" fill="#0000ff" stroke="#0000ff" stroke-width="1"/>
<circle cx="1439.75" cy="246.62" r="3" fill="#0000ff" stroke="#0000ff" stroke-width="1"/>
<circle cx="1446.87" cy="248.04" r="3" fill="#0000ff" stroke="#0000ff" stroke-width="1"/>
<circle cx="1446.87" cy="253.02" r="3" fill="#0000ff" stroke="#0000ff" stroke-width="1"/>
<circle cx="1450.43" cy="255.16" r="3" fill="#0000ff" stroke="#0000ff" stroke-width="1"/>
<circle cx="1456.12" cy="250.89" r="3" fill="#0000ff" stroke="#0000ff" stroke-width="1"/>
<circle cx="1436.19" cy="233.81" r="3" fill="#0000ff" stroke="#0000ff" stroke-width="1"/>
<circle cx="1458.26" cy="254.45" r="3" fill="#0000ff" stroke="#0000ff" stroke-width="1"/>
<circle cx="1467.51" cy="261.57" r="3" fill="#0000ff" stroke="#0000ff" stroke-width="1"/>
<circle cx="1472.49" cy="242.35" r="3" fill="#0000ff" stroke="#0000ff" stroke-width="1"/>
<circle cx="1470.36" cy="245.2" r="3" fill="#0000ff" stroke="#0000ff" stroke-width="1"/>
<circle cx="1471.78" cy="235.23" r="3" fill="#0000ff" stroke="#0000ff" stroke-width="1"/>
<circle cx="1468.22" cy="233.1" r="3" fill="#0000ff" stroke="#0000ff" stroke-width="1"/>
<circle cx="1472.49" cy="242.35" r="3" fill="#0000ff" stroke="#0000ff" stroke-width="1"/>
<circle cx="1475.34" cy="253.02" r="3" fill="#0000ff" stroke="#0000ff" stroke-width="1"/>
<circle cx="1475.34" cy="260.85" r="3" fill="#0000ff" stroke="#0000ff" stroke-width="1"/>
<circle cx="1480.32" cy="264.41" r="3" fill="#0000ff" stroke="#0000ff" stroke-width="1"/>
<circle cx="1493.13" cy="286.48" r="3" fill="#0000ff" stroke="#0000ff" stroke-width="1"/>
<circle cx="1475.34" cy="277.22" r="3" fill="#0000ff" stroke="#0000ff" stroke-width="1"/>
<circle cx="1463.95" cy="269.4" r="3" fill="#0000ff" stroke="#0000ff" stroke-width="1"/>
<circle cx="1461.1" cy="266.55" r="3" fill="#0000ff" stroke="#0000ff" stroke-width="1"/>
<circle cx="1463.95" cy="283.63" r="3" fill="#0000ff" stroke="#0000ff" stroke-width="1"/>
<circle cx="1466.09" cy="284.34" r="3" fill="#0000ff" stroke="#0000ff" stroke-width="1"/>
<circle cx="1463.95" cy="290.75" r="3" fill="#0000ff" stroke="#0000ff" stroke-width="1"/>
<circle cx="1459.68" cy="283.63" r="3" fill="#0000ff" stroke="#0000ff" stroke-width="1"/>
<circle cx="1453.99" cy="269.4" r="3" fill="#0000ff" stroke="#0000ff" stroke-width="1"/>
<circle cx="1456.12" cy="250.89" r="3" fill="#0000ff" stroke="#0000ff" stroke-width="1"/>
</g>
<rect x="1229" y="84" width="454" height="454" fill="none" stroke="#000" stroke-width="2.05"/>
<line x1="1229.5" y1="538" x2="1229.5" y2="530" stroke="#000" stroke-width="1"/>
<line x1="1229.5" y1="84" x2="1229.5" y2="92" stroke="#000" stroke-width="1"/>
<line x1="1286.5" y1="538" x2="1286.5" y2="530" stroke="#000" stroke-width="1"/>
<line x1="1286.5" y1="84" x2="1286.5" y2="92" stroke="#000" stroke-width="1"/>
<line x1="1343.5" y1="538" x2="1343.5" y2="530" stroke="#000" stroke-width="1"/>
<line x1="1343.5" y1="84" x2="1343.5" y2="92" stroke="#000" stroke-width="1"/>
<line x1="1399.5" y1="538" x2="1399.5" y2="530" stroke="#000" stroke-width="1"/>
<line x1="1399.5" y1="84" x2="1399.5" y2="92" stroke="#000" stroke-width="1"/>
<line x1="1456.5" y1="538" x2="1456.5" y2="530" stroke="#000" stroke-width="1"/>
<line x1="1456.5" y1="84" x2="1456.5" y2="92" stroke="#000" stroke-width="1"/>
<line x1="1512.5" y1="538" x2="1512.5" y2="530" stroke="#000" stroke-width="1"/>
<line x1="1512.5" y1="84" x2="1512.5" y2="92" stroke="#000" stroke-width="1"/>
<line x1="1569.5" y1="538" x2="1569.5" y2="530" stroke="#000" stroke-width="1"/>
<line x1="1569.5" y1="84" x2="1569.5" y2="92" stroke="#000" stroke-width="1"/>
<line x1="1626.5" y1="538" x2="1626.5" y2="530" stroke="#000" stroke-width="1"/>
<line x1="1626.5" y1="84" x2="1626.5" y2="92" stroke="#000" stroke-width="1"/>
<line x1="1682.5" y1="538" x2="1682.5" y2="530" stroke="#000" stroke-width="1"/>
<line x1="1682.5" y1="84" x2="1682.5" y2="92" stroke="#000" stroke-width="1"/>
<line x1="1229" y1="537.5" x2="1237" y2="537.5" stroke="#000" stroke-width="1"/>
<line x1="1683" y1="537.5" x2="1675" y2="537.5" stroke="#000" stroke-width="1"/>
<line x1="1229" y1="480.5" x2="1237" y2="480.5" stroke="#000" stroke-width="1"/>
<line x1="1683" y1="480.5" x2="1675" y2="480.5" stroke="#000" stroke-width="1"/>
<line x1="1229" y1="424.5" x2="1237" y2="424.5" stroke="#000" stroke-width="1"/>
<line x1="1683" y1="424.5" x2="1675" y2="424.5" stroke="#000" stroke-width="1"/>
<line x1="1229" y1="367.5" x2="1237" y2="367.5" stroke="#000" stroke-width="1"/>
<line x1="1683" y1="367.5" x2="1675" y2="367.5" stroke="#000" stroke-width="1"/>
<line x1="1229" y1="311.5" x2="1237" y2="311.5" stroke="#000" stroke-width="1"/>
<line x1="1683" y1="311.5" x2="1675" y2="311.5" stroke="#000" stroke-width="1"/>
<line x1="1229" y1="254.5" x2="1237" y2="254.5" stroke="#000" stroke-width="1"/>
<line x1="1683" y1="254.5" x2="1675" y2="254.5" stroke="#000" stroke-width="1"/>
<line x1="1229" y1="197.5" x2="1237" y2="197.5" stroke="#000" stroke-width="1"/>
<line x1="1683" y1="197.5" x2="1675" y2="197.5" stroke="#000" stroke-width="1"/>
<line x1="1229" y1="141.5" x2="1237" y2="141.5" stroke="#000" stroke-width="1"/>
<line x1="1683" y1="141.5" x2="1675" y2="141.5" stroke="#000" stroke-width="1"/>
<line x1="1229" y1="84.5" x2="1237" y2="84.5" stroke="#000" stroke-width="1"/>
<line x1="1683" y1="84.5" x2="1675" y2="84.5" stroke="#000" stroke-width="1"/>
<clipPath id="c_a4"><rect x="117" y="662.4" width="454" height="454"/></clipPath>
<g clip-path="url(#c_a4)">
<circle cx="298.59" cy="711.11" r="5.5" fill="#ff0000" stroke="none" stroke-width="0"/>
<circle cx="325.28" cy="707.26" r="5.5" fill="#ff0000" stroke="none" stroke-width="0"/>
<circle cx="218.51" cy="724.35" r="5.5" fill="#ff0000" stroke="none" stroke-width="0"/>
<circle cx="217.02" cy="732.46" r="5.5" fill="#ff0000" stroke="none" stroke-width="0"/>
<circle cx="211.04" cy="719.01" r="5.5" fill="#ff0000" stroke="none" stroke-width="0"/>
<circle cx="204.63" cy="716.87" r="5.5" fill="#ff0000" stroke="none" stroke-width="0"/>
<circle cx="327.42" cy="783.07" r="5.5" fill="#ff0000" stroke="none" stroke-width="0"/>
<circle cx="334.45" cy="714.27" r="5.5" fill="#ff0000" stroke="none" stroke-width="0"/>
<circle cx="352.24" cy="729.04" r="5.5" fill="#ff0000" stroke="none" stroke-width="0"/>
<circle cx="349.57" cy="753.95" r="5.5" fill="#ff0000" stroke="none" stroke-width="0"/>
<circle cx="343.35" cy="768.19" r="5.5" fill="#ff0000" stroke="none" stroke-width="0"/>
<circle cx="338.01" cy="773.88" r="5.5" fill="#ff0000" stroke="none" stroke-width="0"/>
<circle cx="350.46" cy="776.55" r="5.5" fill="#ff0000" stroke="none" stroke-width="0"/>
<circle cx="330.89" cy="792.56" r="5.5" fill="#ff0000" stroke="none" stroke-width="0"/>
<circle cx="354.91" cy="796.12" r="5.5" fill="#ff0000" stroke="none" stroke-width="0"/>
<circle cx="374.48" cy="772.1" r="5.5" fill="#ff0000" stroke="none" stroke-width="0"/>
<circle cx="370.04" cy="775.66" r="5.5" fill="#ff0000" stroke="none" stroke-width="0"/>
<circle cx="378.93" cy="777.44" r="5.5" fill="#ff0000" stroke="none" stroke-width="0"/>
<circle cx="364.7" cy="782.78" r="5.5" fill="#ff0000" stroke="none" stroke-width="0"/>
<circle cx="371.81" cy="783.67" r="5.5" fill="#ff0000" stroke="none" stroke-width="0"/>
<circle cx="361.14" cy="787.22" r="5.5" fill="#ff0000" stroke="none" stroke-width="0"/>
<circle cx="375.37" cy="789.89" r="5.5" fill="#ff0000" stroke="none" stroke-width="0"/>
<circle cx="377.15" cy="797.01" r="5.5" fill="#ff0000" stroke="none" stroke-width="0"/>
<circle cx="385.16" cy="804.13" r="5.5" fill="#ff0000" stroke="none" stroke-width="0"/>
<circle cx="381.6" cy="821.03" r="5.5" fill="#ff0000" stroke="none" stroke-width="0"/>
<circle cx="396.19" cy="770.32" r="5.5" fill="#ff0000" stroke="none" stroke-width="0"/>
<circle cx="395.84" cy="788.11" r="5.5" fill="#ff0000" stroke="none" stroke-width="0"/>
<circle cx="399.4" cy="805.91" r="5.5" fill="#ff0000" stroke="none" stroke-width="0"/>
<circle cx="408.29" cy="804.13" r="5.5" fill="#ff0000" stroke="none" stroke-width="0"/>
<circle cx="415.41" cy="807.69" r="5.5" fill="#ff0000" stroke="none" stroke-width="0"/>
<circle cx="402.95" cy="813.02" r="5.5" fill="#ff0000" stroke="none" stroke-width="0"/>
<circle cx="437.65" cy="770.32" r="5.5" fill="#ff0000" stroke="none" stroke-width="0"/>
<circle cx="443.88" cy="765.87" r="5.5" fill="#ff0000" stroke="none" stroke-width="0"/>
<circle cx="442.1" cy="732.06" r="5.5" fill="#ff0000" stroke="none" stroke-width="0"/>
<circle cx="465.59" cy="764.98" r="5.5" fill="#ff0000" stroke="none" stroke-width="0"/>
<circle cx="441.21" cy="793.45" r="5.5" fill="#ff0000" stroke="none" stroke-width="0"/>
<circle cx="456.33" cy="790.78" r="5.5" fill="#ff0000" stroke="none" stroke-width="0"/>
<circle cx="460.78" cy="800.57" r="5.5" fill="#ff0000" stroke="none" stroke-width="0"/>
<circle cx="453.67" cy="807.69" r="5.5" fill="#ff0000" stroke="none" stroke-width="0"/>
<circle cx="465.23" cy="815.69" r="5.5" fill="#ff0000" stroke="none" stroke-width="0"/>
<circle cx="472.35" cy="818.36" r="5.5" fill="#ff0000" stroke="none" stroke-width="0"/>
<circle cx="451.89" cy="821.03" r="5.5" fill="#ff0000" stroke="none" stroke-width="0"/>
<circle cx="461.67" cy="829.04" r="5.5" fill="#ff0000" stroke="none" stroke-width="0"/>
<circle cx="460.78" cy="835.27" r="5.5" fill="#ff0000" stroke="none" stroke-width="0"/>
<circle cx="472.35" cy="830.82" r="5.5" fill="#ff0000" stroke="none" stroke-width="0"/>
<circle cx="411.85" cy="843.27" r="5.5" fill="#ff0000" stroke="none" stroke-width="0"/>
<circle cx="408.29" cy="855.73" r="5.5" fill="#ff0000" stroke="none" stroke-width="0"/>
<circle cx="413.63" cy="827.26" r="5.5" fill="#ff0000" stroke="none" stroke-width="0"/>
<circle cx="418.08" cy="835.27" r="5.5" fill="#ff0000" stroke="none" stroke-width="0"/>
<circle cx="432.31" cy="836.16" r="5.5" fill="#ff0000" stroke="none" stroke-width="0"/>
<circle cx="449.22" cy="840.6" r="5.5" fill="#ff0000" stroke="none" stroke-width="0"/>
<circle cx="458.11" cy="841.49" r="5.5" fill="#ff0000" stroke="none" stroke-width="0"/>
<circle cx="471.46" cy="844.16" r="5.5" fill="#ff0000" stroke="none" stroke-width="0"/>
<circle cx="451.89" cy="853.95" r="5.5" fill="#ff0000" stroke="none" stroke-width="0"/>
<circle cx="446.55" cy="858.4" r="5.5" fill="#ff0000" stroke="none" stroke-width="0"/>
<circle cx="492.81" cy="817.83" r="5.5" fill="#ff0000" stroke="none" stroke-width="0"/>
<circle cx="509.36" cy="827.26" r="5.5" fill="#ff0000" stroke="none" stroke-width="0"/>
<circle cx="536.41" cy="829.93" r="5.5" fill="#ff0000" stroke="none" stroke-width="0"/>
<circle cx="493.35" cy="830.82" r="5.5" fill="#ff0000" stroke="none" stroke-width="0"/>
<circle cx="492.81" cy="839.72" r="5.5" fill="#ff0000" stroke="none" stroke-width="0"/>
<circle cx="487.47" cy="841.49" r="5.5" fill="#ff0000" stroke="none" stroke-width="0"/>
<circle cx="474.13" cy="860.18" r="5.5" fill="#ff0000" stroke="none" stroke-width="0"/>
<circle cx="481.25" cy="861.96" r="5.5" fill="#ff0000" stroke="none" stroke-width="0"/>
<circle cx="491.03" cy="861.96" r="5.5" fill="#ff0000" stroke="none" stroke-width="0"/>
<circle cx="501.71" cy="861.07" r="5.5" fill="#ff0000" stroke="none" stroke-width="0"/>
<circle cx="507.94" cy="861.96" r="5.5" fill="#ff0000" stroke="none" stroke-width="0"/>
<circle cx="513.27" cy="862.85" r="5.5" fill="#ff0000" stroke="none" stroke-width="0"/>
<circle cx="521.28" cy="861.07" r="5.5" fill="#ff0000" stroke="none" stroke-width="0"/>
<circle cx="531.96" cy="862.85" r="5.5" fill="#ff0000" stroke="none" stroke-width="0"/>
<circle cx="525.73" cy="866.41" r="5.5" fill="#ff0000" stroke="none" stroke-width="0"/>
<circle cx="536.41" cy="871.74" r="5.5" fill="#ff0000" stroke="none" stroke-width="0"/>
<circle cx="520.39" cy="873.52" r="5.5" fill="#ff0000" stroke="none" stroke-width="0"/>
<circle cx="501.71" cy="871.74" r="5.5" fill="#ff0000" stroke="none" stroke-width="0"/>
<circle cx="513.27" cy="884.2" r="5.5" fill="#ff0000" stroke="none" stroke-width="0"/>
<circle cx="527.51" cy="882.42" r="5.5" fill="#ff0000" stroke="none" stroke-width="0"/>
<circle cx="534.63" cy="883.31" r="5.5" fill="#ff0000" stroke="none" stroke-width="0"/>
<circle cx="538.19" cy="887.76" r="5.5" fill="#ff0000" stroke="none" stroke-width="0"/>
<circle cx="501.71" cy="884.2" r="5.5" fill="#ff0000" stroke="none" stroke-width="0"/>
<circle cx="487.47" cy="885.09" r="5.5" fill="#ff0000" stroke="none" stroke-width="0"/>
<circle cx="503.49" cy="893.1" r="5.5" fill="#ff0000" stroke="none" stroke-width="0"/>
<circle cx="525.73" cy="893.1" r="5.5" fill="#ff0000" stroke="none" stroke-width="0"/>
<circle cx="520.39" cy="896.65" r="5.5" fill="#ff0000" stroke="none" stroke-width="0"/>
<circle cx="538.19" cy="900.21" r="5.5" fill="#ff0000" stroke="none" stroke-width="0"/>
<circle cx="507.94" cy="900.21" r="5.5" fill="#ff0000" stroke="none" stroke-width="0"/>
<circle cx="518.61" cy="904.66" r="5.5" fill="#ff0000" stroke="none" stroke-width="0"/>
<circle cx="512.38" cy="909.11" r="5.5" fill="#ff0000" stroke="none" stroke-width="0"/>
<circle cx="496.37" cy="905.55" r="5.5" fill="#ff0000" stroke="none" stroke-width="0"/>
<circle cx="520.39" cy="921.57" r="5.5" fill="#ff0000" stroke="none" stroke-width="0"/>
<circle cx="540.5" cy="927.44" r="5.5" fill="#ff0000" stroke="none" stroke-width="0"/>
<circle cx="536.41" cy="944.34" r="5.5" fill="#ff0000" stroke="none" stroke-width="0"/>
<circle cx="328.22" cy="709.82" r="5.5" fill="#ff0000" stroke="none" stroke-width="0"/>
<circle cx="495.48" cy="866.41" r="5.5" fill="#ff0000" stroke="none" stroke-width="0"/>
<circle cx="507.94" cy="869.07" r="5.5" fill="#ff0000" stroke="none" stroke-width="0"/>
<circle cx="516.83" cy="867.3" r="5.5" fill="#ff0000" stroke="none" stroke-width="0"/>
<circle cx="529.29" cy="872.63" r="5.5" fill="#ff0000" stroke="none" stroke-width="0"/>
<circle cx="509.72" cy="876.19" r="5.5" fill="#ff0000" stroke="none" stroke-width="0"/>
<circle cx="497.26" cy="876.19" r="5.5" fill="#ff0000" stroke="none" stroke-width="0"/>
<circle cx="505.27" cy="889.54" r="5.5" fill="#ff0000" stroke="none" stroke-width="0"/>
<circle cx="531.07" cy="889.54" r="5.5" fill="#ff0000" stroke="none" stroke-width="0"/>
<circle cx="515.94" cy="891.32" r="5.5" fill="#ff0000" stroke="none" stroke-width="0"/>
<circle cx="532.85" cy="876.19" r="5.5" fill="#ff0000" stroke="none" stroke-width="0"/>
<circle cx="507.94" cy="880.64" r="5.5" fill="#ff0000" stroke="none" stroke-width="0"/>
<circle cx="187.55" cy="662.42" r="5.5" fill="#008000" stroke="none" stroke-width="0"/>
<circle cx="232.39" cy="736.09" r="5.5" fill="#008000" stroke="none" stroke-width="0"/>
<circle cx="243.07" cy="722.21" r="5.5" fill="#008000" stroke="none" stroke-width="0"/>
<circle cx="243.5" cy="727.55" r="5.5" fill="#008000" stroke="none" stroke-width="0"/>
<circle cx="243.07" cy="732.89" r="5.5" fill="#008000" stroke="none" stroke-width="0"/>
<circle cx="269.34" cy="733.32" r="5.5" fill="#008000" stroke="none" stroke-width="0"/>
<circle cx="280.44" cy="753.18" r="5.5" fill="#008000" stroke="none" stroke-width="0"/>
<circle cx="294.32" cy="727.12" r="5.5" fill="#008000" stroke="none" stroke-width="0"/>
<circle cx="297.52" cy="753.18" r="5.5" fill="#008000" stroke="none" stroke-width="0"/>
<circle cx="305" cy="717.94" r="5.5" fill="#008000" stroke="none" stroke-width="0"/>
<circle cx="306.06" cy="722.21" r="5.5" fill="#008000" stroke="none" stroke-width="0"/>
<circle cx="320.59" cy="711.54" r="5.5" fill="#008000" stroke="none" stroke-width="0"/>
<circle cx="317.38" cy="732.46" r="5.5" fill="#008000" stroke="none" stroke-width="0"/>
<circle cx="306.71" cy="744.63" r="5.5" fill="#008000" stroke="none" stroke-width="0"/>
<circle cx="306.71" cy="752.11" r="5.5" fill="#008000" stroke="none" stroke-width="0"/>
<circle cx="316.74" cy="741.43" r="5.5" fill="#008000" stroke="none" stroke-width="0"/>
<circle cx="317.38" cy="745.7" r="5.5" fill="#008000" stroke="none" stroke-width="0"/>
<circle cx="325.28" cy="755.31" r="5.5" fill="#008000" stroke="none" stroke-width="0"/>
<circle cx="329.55" cy="756.38" r="5.5" fill="#008000" stroke="none" stroke-width="0"/>
<circle cx="331.78" cy="748.97" r="5.5" fill="#008000" stroke="none" stroke-width="0"/>
<circle cx="330" cy="756.09" r="5.5" fill="#008000" stroke="none" stroke-width="0"/>
<circle cx="330.89" cy="771.21" r="5.5" fill="#008000" stroke="none" stroke-width="0"/>
<circle cx="335.34" cy="771.21" r="5.5" fill="#008000" stroke="none" stroke-width="0"/>
<circle cx="360.6" cy="766.23" r="5.5" fill="#008000" stroke="none" stroke-width="0"/>
<circle cx="393.52" cy="748.97" r="5.5" fill="#008000" stroke="none" stroke-width="0"/>
<circle cx="419.5" cy="757.33" r="5.5" fill="#008000" stroke="none" stroke-width="0"/>
<circle cx="436.76" cy="726.73" r="5.5" fill="#008000" stroke="none" stroke-width="0"/>
<circle cx="438.9" cy="729.4" r="5.5" fill="#008000" stroke="none" stroke-width="0"/>
<circle cx="451.53" cy="728.51" r="5.5" fill="#008000" stroke="none" stroke-width="0"/>
<circle cx="444.41" cy="740.43" r="5.5" fill="#008000" stroke="none" stroke-width="0"/>
<circle cx="457.58" cy="752.53" r="5.5" fill="#008000" stroke="none" stroke-width="0"/>
<circle cx="466.12" cy="770.32" r="5.5" fill="#008000" stroke="none" stroke-width="0"/>
<circle cx="467.37" cy="773.88" r="5.5" fill="#008000" stroke="none" stroke-width="0"/>
<circle cx="442.46" cy="780.11" r="5.5" fill="#008000" stroke="none" stroke-width="0"/>
<circle cx="403.84" cy="778.33" r="5.5" fill="#008000" stroke="none" stroke-width="0"/>
<circle cx="405.62" cy="781.89" r="5.5" fill="#008000" stroke="none" stroke-width="0"/>
<circle cx="387.3" cy="787.22" r="5.5" fill="#008000" stroke="none" stroke-width="0"/>
<circle cx="361.14" cy="794.34" r="5.5" fill="#008000" stroke="none" stroke-width="0"/>
<circle cx="408.29" cy="792.56" r="5.5" fill="#008000" stroke="none" stroke-width="0"/>
<circle cx="411.85" cy="796.12" r="5.5" fill="#008000" stroke="none" stroke-width="0"/>
<circle cx="402.95" cy="795.23" r="5.5" fill="#008000" stroke="none" stroke-width="0"/>
<circle cx="400.28" cy="797.9" r="5.5" fill="#008000" stroke="none" stroke-width="0"/>
<circle cx="426.62" cy="797.37" r="5.5" fill="#008000" stroke="none" stroke-width="0"/>
<circle cx="436.76" cy="797.01" r="5.5" fill="#008000" stroke="none" stroke-width="0"/>
<circle cx="437.3" cy="802.35" r="5.5" fill="#008000" stroke="none" stroke-width="0"/>
<circle cx="449.57" cy="797.9" r="5.5" fill="#008000" stroke="none" stroke-width="0"/>
<circle cx="470.57" cy="789" r="5.5" fill="#008000" stroke="none" stroke-width="0"/>
<circle cx="468.79" cy="793.45" r="5.5" fill="#008000" stroke="none" stroke-width="0"/>
<circle cx="471.46" cy="802.35" r="5.5" fill="#008000" stroke="none" stroke-width="0"/>
<circle cx="413.63" cy="806.8" r="5.5" fill="#008000" stroke="none" stroke-width="0"/>
<circle cx="407.4" cy="812.14" r="5.5" fill="#008000" stroke="none" stroke-width="0"/>
<circle cx="408.29" cy="820.14" r="5.5" fill="#008000" stroke="none" stroke-width="0"/>
<circle cx="361.67" cy="810.36" r="5.5" fill="#008000" stroke="none" stroke-width="0"/>
<circle cx="369.15" cy="811.25" r="5.5" fill="#008000" stroke="none" stroke-width="0"/>
<circle cx="375.37" cy="816.58" r="5.5" fill="#008000" stroke="none" stroke-width="0"/>
<circle cx="386.94" cy="812.14" r="5.5" fill="#008000" stroke="none" stroke-width="0"/>
<circle cx="392.28" cy="816.58" r="5.5" fill="#008000" stroke="none" stroke-width="0"/>
<circle cx="396.73" cy="821.03" r="5.5" fill="#008000" stroke="none" stroke-width="0"/>
<circle cx="418.97" cy="821.03" r="5.5" fill="#008000" stroke="none" stroke-width="0"/>
<circle cx="426.98" cy="823.7" r="5.5" fill="#008000" stroke="none" stroke-width="0"/>
<circle cx="428.75" cy="829.04" r="5.5" fill="#008000" stroke="none" stroke-width="0"/>
<circle cx="434.09" cy="830.82" r="5.5" fill="#008000" stroke="none" stroke-width="0"/>
<circle cx="430.53" cy="836.16" r="5.5" fill="#008000" stroke="none" stroke-width="0"/>
<circle cx="435.87" cy="811.25" r="5.5" fill="#008000" stroke="none" stroke-width="0"/>
<circle cx="434.09" cy="816.58" r="5.5" fill="#008000" stroke="none" stroke-width="0"/>
<circle cx="446.55" cy="827.26" r="5.5" fill="#008000" stroke="none" stroke-width="0"/>
<circle cx="451" cy="837.94" r="5.5" fill="#008000" stroke="none" stroke-width="0"/>
<circle cx="485.69" cy="821.03" r="5.5" fill="#008000" stroke="none" stroke-width="0"/>
<circle cx="477.69" cy="828.15" r="5.5" fill="#008000" stroke="none" stroke-width="0"/>
<circle cx="472.35" cy="833.49" r="5.5" fill="#008000" stroke="none" stroke-width="0"/>
<circle cx="401.17" cy="831.71" r="5.5" fill="#008000" stroke="none" stroke-width="0"/>
<circle cx="398.51" cy="837.94" r="5.5" fill="#008000" stroke="none" stroke-width="0"/>
<circle cx="389.61" cy="837.94" r="5.5" fill="#008000" stroke="none" stroke-width="0"/>
<circle cx="373.59" cy="834.38" r="5.5" fill="#008000" stroke="none" stroke-width="0"/>
<circle cx="395.84" cy="845.05" r="5.5" fill="#008000" stroke="none" stroke-width="0"/>
<circle cx="404.38" cy="852.17" r="5.5" fill="#008000" stroke="none" stroke-width="0"/>
<circle cx="420.75" cy="845.94" r="5.5" fill="#008000" stroke="none" stroke-width="0"/>
<circle cx="485.69" cy="844.16" r="5.5" fill="#008000" stroke="none" stroke-width="0"/>
<circle cx="484.8" cy="850.39" r="5.5" fill="#008000" stroke="none" stroke-width="0"/>
<circle cx="496.37" cy="851.28" r="5.5" fill="#008000" stroke="none" stroke-width="0"/>
<circle cx="459" cy="855.73" r="5.5" fill="#008000" stroke="none" stroke-width="0"/>
<circle cx="459.89" cy="862.85" r="5.5" fill="#008000" stroke="none" stroke-width="0"/>
<circle cx="463.45" cy="867.3" r="5.5" fill="#008000" stroke="none" stroke-width="0"/>
<circle cx="456.33" cy="867.3" r="5.5" fill="#008000" stroke="none" stroke-width="0"/>
<circle cx="461.67" cy="871.74" r="5.5" fill="#008000" stroke="none" stroke-width="0"/>
<circle cx="452.42" cy="876.19" r="5.5" fill="#008000" stroke="none" stroke-width="0"/>
<circle cx="432.31" cy="866.41" r="5.5" fill="#008000" stroke="none" stroke-width="0"/>
<circle cx="438.54" cy="869.07" r="5.5" fill="#008000" stroke="none" stroke-width="0"/>
<circle cx="443.88" cy="866.41" r="5.5" fill="#008000" stroke="none" stroke-width="0"/>
<circle cx="486.23" cy="867.83" r="5.5" fill="#008000" stroke="none" stroke-width="0"/>
<circle cx="495.48" cy="879.22" r="5.5" fill="#008000" stroke="none" stroke-width="0"/>
<circle cx="475.91" cy="881.53" r="5.5" fill="#008000" stroke="none" stroke-width="0"/>
<circle cx="483.02" cy="886.87" r="5.5" fill="#008000" stroke="none" stroke-width="0"/>
<circle cx="484.8" cy="891.32" r="5.5" fill="#008000" stroke="none" stroke-width="0"/>
<circle cx="477.69" cy="893.99" r="5.5" fill="#008000" stroke="none" stroke-width="0"/>
<circle cx="492.81" cy="896.65" r="5.5" fill="#008000" stroke="none" stroke-width="0"/>
<circle cx="497.26" cy="904.66" r="5.5" fill="#008000" stroke="none" stroke-width="0"/>
<circle cx="458.11" cy="891.32" r="5.5" fill="#008000" stroke="none" stroke-width="0"/>
<circle cx="443.35" cy="896.3" r="5.5" fill="#008000" stroke="none" stroke-width="0"/>
<circle cx="459" cy="900.21" r="5.5" fill="#008000" stroke="none" stroke-width="0"/>
<circle cx="464.34" cy="901.1" r="5.5" fill="#008000" stroke="none" stroke-width="0"/>
<circle cx="485.69" cy="910.89" r="5.5" fill="#008000" stroke="none" stroke-width="0"/>
<circle cx="478.58" cy="916.23" r="5.5" fill="#008000" stroke="none" stroke-width="0"/>
<circle cx="483.02" cy="921.57" r="5.5" fill="#008000" stroke="none" stroke-width="0"/>
<circle cx="485.69" cy="929.57" r="5.5" fill="#008000" stroke="none" stroke-width="0"/>
<circle cx="496.37" cy="914.45" r="5.5" fill="#008000" stroke="none" stroke-width="0"/>
<circle cx="532.31" cy="914.98" r="5.5" fill="#008000" stroke="none" stroke-width="0"/>
<circle cx="547.97" cy="912.31" r="5.5" fill="#008000" stroke="none" stroke-width="0"/>
<circle cx="548.33" cy="892.21" r="5.5" fill="#008000" stroke="none" stroke-width="0"/>
<circle cx="563.63" cy="891.85" r="5.5" fill="#008000" stroke="none" stroke-width="0"/>
<circle cx="561.32" cy="933.13" r="5.5" fill="#008000" stroke="none" stroke-width="0"/>
<circle cx="140.77" cy="803.05" r="5.5" fill="#0000ff" stroke="none" stroke-width="0"/>
<circle cx="141.12" cy="794.23" r="5.5" fill="#0000ff" stroke="none" stroke-width="0"/>
<circle cx="132.85" cy="795.31" r="5.5" fill="#0000ff" stroke="none" stroke-width="0"/>
<circle cx="156.83" cy="802.12" r="5.5" fill="#0000ff" stroke="none" stroke-width="0"/>
<circle cx="155.95" cy="800.25" r="5.5" fill="#0000ff" stroke="none" stroke-width="0"/>
<circle cx="148.41" cy="799.57" r="5.5" fill="#0000ff" stroke="none" stroke-width="0"/>
<circle cx="124.21" cy="806.72" r="5.5" fill="#0000ff" stroke="none" stroke-width="0"/>
<circle cx="149.72" cy="802.92" r="5.5" fill="#0000ff" stroke="none" stroke-width="0"/>
<circle cx="123.91" cy="778.97" r="5.5" fill="#0000ff" stroke="none" stroke-width="0"/>
<circle cx="133.33" cy="792.59" r="5.5" fill="#0000ff" stroke="none" stroke-width="0"/>
<circle cx="147.36" cy="797.1" r="5.5" fill="#0000ff" stroke="none" stroke-width="0"/>
<circle cx="149.89" cy="790.73" r="5.5" fill="#0000ff" stroke="none" stroke-width="0"/>
<circle cx="147.4" cy="801.8" r="5.5" fill="#0000ff" stroke="none" stroke-width="0"/>
<circle cx="136.01" cy="815.93" r="5.5" fill="#0000ff" stroke="none" stroke-width="0"/>
<circle cx="150.31" cy="810.37" r="5.5" fill="#0000ff" stroke="none" stroke-width="0"/>
<circle cx="136.49" cy="789.7" r="5.5" fill="#0000ff" stroke="none" stroke-width="0"/>
<circle cx="139.73" cy="796.46" r="5.5" fill="#0000ff" stroke="none" stroke-width="0"/>
<circle cx="151.2" cy="800.24" r="5.5" fill="#0000ff" stroke="none" stroke-width="0"/>
<circle cx="138.52" cy="787.37" r="5.5" fill="#0000ff" stroke="none" stroke-width="0"/>
<circle cx="137.66" cy="810.63" r="5.5" fill="#0000ff" stroke="none" stroke-width="0"/>
<circle cx="134.29" cy="800.2" r="5.5" fill="#0000ff" stroke="none" stroke-width="0"/>
<circle cx="148.78" cy="781.69" r="5.5" fill="#0000ff" stroke="none" stroke-width="0"/>
<circle cx="144.34" cy="811.54" r="5.5" fill="#0000ff" stroke="none" stroke-width="0"/>
<circle cx="120.12" cy="794.16" r="5.5" fill="#0000ff" stroke="none" stroke-width="0"/>
<circle cx="142.53" cy="788.87" r="5.5" fill="#0000ff" stroke="none" stroke-width="0"/>
<circle cx="149.62" cy="796.93" r="5.5" fill="#0000ff" stroke="none" stroke-width="0"/>
<circle cx="126.57" cy="806.43" r="5.5" fill="#0000ff" stroke="none" stroke-width="0"/>
<circle cx="151.64" cy="807.69" r="5.5" fill="#0000ff" stroke="none" stroke-width="0"/>
<circle cx="160.69" cy="801.46" r="5.5" fill="#0000ff" stroke="none" stroke-width="0"/>
<circle cx="145.18" cy="783.72" r="5.5" fill="#0000ff" stroke="none" stroke-width="0"/>
<circle cx="151" cy="791.06" r="5.5" fill="#0000ff" stroke="none" stroke-width="0"/>
<circle cx="138.46" cy="784.09" r="5.5" fill="#0000ff" stroke="none" stroke-width="0"/>
<circle cx="132.41" cy="791.92" r="5.5" fill="#0000ff" stroke="none" stroke-width="0"/>
<circle cx="158.91" cy="775.9" r="5.5" fill="#0000ff" stroke="none" stroke-width="0"/>
<circle cx="126.66" cy="800.15" r="5.5" fill="#0000ff" stroke="none" stroke-width="0"/>
<circle cx="160.73" cy="803.77" r="5.5" fill="#0000ff" stroke="none" stroke-width="0"/>
<circle cx="147.97" cy="789.73" r="5.5" fill="#0000ff" stroke="none" stroke-width="0"/>
<circle cx="130.62" cy="808.03" r="5.5" fill="#0000ff" stroke="none" stroke-width="0"/>
<circle cx="156.72" cy="799.27" r="5.5" fill="#0000ff" stroke="none" stroke-width="0"/>
<circle cx="146.66" cy="802.23" r="5.5" fill="#0000ff" stroke="none" stroke-width="0"/>
<circle cx="162.5" cy="804.2" r="5.5" fill="#0000ff" stroke="none" stroke-width="0"/>
<circle cx="149.87" cy="803.44" r="5.5" fill="#0000ff" stroke="none" stroke-width="0"/>
<circle cx="125.36" cy="811.28" r="5.5" fill="#0000ff" stroke="none" stroke-width="0"/>
<circle cx="154.99" cy="803.25" r="5.5" fill="#0000ff" stroke="none" stroke-width="0"/>
<circle cx="120.59" cy="790.83" r="5.5" fill="#0000ff" stroke="none" stroke-width="0"/>
<circle cx="153.67" cy="778.25" r="5.5" fill="#0000ff" stroke="none" stroke-width="0"/>
<circle cx="141.61" cy="808.48" r="5.5" fill="#0000ff" stroke="none" stroke-width="0"/>
<circle cx="128.38" cy="814.78" r="5.5" fill="#0000ff" stroke="none" stroke-width="0"/>
<circle cx="150.26" cy="795.99" r="5.5" fill="#0000ff" stroke="none" stroke-width="0"/>
<circle cx="147.59" cy="804.53" r="5.5" fill="#0000ff" stroke="none" stroke-width="0"/>
<circle cx="145.19" cy="809.82" r="5.5" fill="#0000ff" stroke="none" stroke-width="0"/>
<circle cx="136.01" cy="793.16" r="5.5" fill="#0000ff" stroke="none" stroke-width="0"/>
<circle cx="156.01" cy="797.88" r="5.5" fill="#0000ff" stroke="none" stroke-width="0"/>
<circle cx="133.43" cy="807.7" r="5.5" fill="#0000ff" stroke="none" stroke-width="0"/>
<circle cx="160.99" cy="792.84" r="5.5" fill="#0000ff" stroke="none" stroke-width="0"/>
<circle cx="127.57" cy="796.15" r="5.5" fill="#0000ff" stroke="none" stroke-width="0"/>
<circle cx="142.03" cy="794.41" r="5.5" fill="#0000ff" stroke="none" stroke-width="0"/>
<circle cx="160.27" cy="786.63" r="5.5" fill="#0000ff" stroke="none" stroke-width="0"/>
<circle cx="158.58" cy="784.05" r="5.5" fill="#0000ff" stroke="none" stroke-width="0"/>
<circle cx="134.53" cy="804.33" r="5.5" fill="#0000ff" stroke="none" stroke-width="0"/>
<circle cx="157.03" cy="806.76" r="5.5" fill="#0000ff" stroke="none" stroke-width="0"/>
<circle cx="147.83" cy="799.11" r="5.5" fill="#0000ff" stroke="none" stroke-width="0"/>
<circle cx="145.57" cy="803.73" r="5.5" fill="#0000ff" stroke="none" stroke-width="0"/>
<circle cx="141.71" cy="800.55" r="5.5" fill="#0000ff" stroke="none" stroke-width="0"/>
<circle cx="150.5" cy="797.6" r="5.5" fill="#0000ff" stroke="none" stroke-width="0"/>
<circle cx="152.75" cy="803.63" r="5.5" fill="#0000ff" stroke="none" stroke-width="0"/>
<circle cx="138.75" cy="793.61" r="5.5" fill="#0000ff" stroke="none" stroke-width="0"/>
<circle cx="143.62" cy="807.45" r="5.5" fill="#0000ff" stroke="none" stroke-width="0"/>
<circle cx="139.82" cy="801.71" r="5.5" fill="#0000ff" stroke="none" stroke-width="0"/>
<circle cx="130.58" cy="800.2" r="5.5" fill="#0000ff" stroke="none" stroke-width="0"/>
<circle cx="148.45" cy="800.14" r="5.5" fill="#0000ff" stroke="none" stroke-width="0"/>
<circle cx="138.71" cy="804.59" r="5.5" fill="#0000ff" stroke="none" stroke-width="0"/>
<circle cx="147.09" cy="792.02" r="5.5" fill="#0000ff" stroke="none" stroke-width="0"/>
<circle cx="137.27" cy="796.53" r="5.5" fill="#0000ff" stroke="none" stroke-width="0"/>
<circle cx="141.13" cy="796.92" r="5.5" fill="#0000ff" stroke="none" stroke-width="0"/>
<circle cx="155.62" cy="785.11" r="5.5" fill="#0000ff" stroke="none" stroke-width="0"/>
<circle cx="142.99" cy="807.77" r="5.5" fill="#0000ff" stroke="none" stroke-width="0"/>
<circle cx="153.83" cy="813.51" r="5.5" fill="#0000ff" stroke="none" stroke-width="0"/>
<circle cx="123.79" cy="793.82" r="5.5" fill="#0000ff" stroke="none" stroke-width="0"/>
<circle cx="139.77" cy="804.25" r="5.5" fill="#0000ff" stroke="none" stroke-width="0"/>
<circle cx="156.56" cy="782.14" r="5.5" fill="#0000ff" stroke="none" stroke-width="0"/>
<circle cx="151.8" cy="781.66" r="5.5" fill="#0000ff" stroke="none" stroke-width="0"/>
<circle cx="145.84" cy="810.35" r="5.5" fill="#0000ff" stroke="none" stroke-width="0"/>
<circle cx="142.02" cy="799.63" r="5.5" fill="#0000ff" stroke="none" stroke-width="0"/>
<circle cx="153.14" cy="799.1" r="5.5" fill="#0000ff" stroke="none" stroke-width="0"/>
<circle cx="142.74" cy="813.96" r="5.5" fill="#0000ff" stroke="none" stroke-width="0"/>
<circle cx="156.09" cy="794.45" r="5.5" fill="#0000ff" stroke="none" stroke-width="0"/>
<circle cx="154.52" cy="794.75" r="5.5" fill="#0000ff" stroke="none" stroke-width="0"/>
<circle cx="145.33" cy="805.12" r="5.5" fill="#0000ff" stroke="none" stroke-width="0"/>
<circle cx="146.39" cy="804.41" r="5.5" fill="#0000ff" stroke="none" stroke-width="0"/>
<circle cx="125.84" cy="781.47" r="5.5" fill="#0000ff" stroke="none" stroke-width="0"/>
<circle cx="151" cy="787.31" r="5.5" fill="#0000ff" stroke="none" stroke-width="0"/>
<circle cx="131.72" cy="781.89" r="5.5" fill="#0000ff" stroke="none" stroke-width="0"/>
<circle cx="158.65" cy="805.56" r="5.5" fill="#0000ff" stroke="none" stroke-width="0"/>
<circle cx="161.08" cy="787.58" r="5.5" fill="#0000ff" stroke="none" stroke-width="0"/>
<circle cx="132.03" cy="764.92" r="5.5" fill="#0000ff" stroke="none" stroke-width="0"/>
<circle cx="137.37" cy="768.12" r="5.5" fill="#0000ff" stroke="none" stroke-width="0"/>
<circle cx="125.62" cy="777.73" r="5.5" fill="#0000ff" stroke="none" stroke-width="0"/>
<circle cx="155.52" cy="780.94" r="5.5" fill="#0000ff" stroke="none" stroke-width="0"/>
<circle cx="168.33" cy="787.34" r="5.5" fill="#0000ff" stroke="none" stroke-width="0"/>
<circle cx="177.94" cy="786.27" r="5.5" fill="#0000ff" stroke="none" stroke-width="0"/>
<circle cx="182.21" cy="792.04" r="5.5" fill="#0000ff" stroke="none" stroke-width="0"/>
<circle cx="184.35" cy="802.29" r="5.5" fill="#0000ff" stroke="none" stroke-width="0"/>
<circle cx="183.28" cy="816.17" r="5.5" fill="#0000ff" stroke="none" stroke-width="0"/>
<circle cx="175.81" cy="816.17" r="5.5" fill="#0000ff" stroke="none" stroke-width="0"/>
<circle cx="139.5" cy="819.37" r="5.5" fill="#0000ff" stroke="none" stroke-width="0"/>
<circle cx="129.9" cy="814.03" r="5.5" fill="#0000ff" stroke="none" stroke-width="0"/>
<circle cx="118.15" cy="799.09" r="5.5" fill="#0000ff" stroke="none" stroke-width="0"/>
<circle cx="170.47" cy="802.29" r="5.5" fill="#0000ff" stroke="none" stroke-width="0"/>
<circle cx="174.74" cy="808.7" r="5.5" fill="#0000ff" stroke="none" stroke-width="0"/>
<circle cx="164.06" cy="810.83" r="5.5" fill="#0000ff" stroke="none" stroke-width="0"/>
<circle cx="170.47" cy="816.17" r="5.5" fill="#0000ff" stroke="none" stroke-width="0"/>
<circle cx="166.2" cy="799.09" r="5.5" fill="#0000ff" stroke="none" stroke-width="0"/>
<circle cx="180.08" cy="805.49" r="5.5" fill="#0000ff" stroke="none" stroke-width="0"/>
<circle cx="205.7" cy="823.22" r="5.5" fill="#0000ff" stroke="none" stroke-width="0"/>
<circle cx="237.31" cy="829.19" r="5.5" fill="#0000ff" stroke="none" stroke-width="0"/>
<circle cx="284.71" cy="929.99" r="5.5" fill="#0000ff" stroke="none" stroke-width="0"/>
<circle cx="140.57" cy="772.39" r="5.5" fill="#0000ff" stroke="none" stroke-width="0"/>
<circle cx="122.42" cy="787.34" r="5.5" fill="#0000ff" stroke="none" stroke-width="0"/>
<circle cx="422.4" cy="1050.3" r="5.5" fill="#0000ff" stroke="none" stroke-width="0"/>
<circle cx="532.3" cy="1032.2" r="5.5" fill="#0000ff" stroke="none" stroke-width="0"/>
<circle cx="547.3" cy="1024.4" r="5.5" fill="#0000ff" stroke="none" stroke-width="0"/>
<circle cx="551.5" cy="1028" r="5.5" fill="#0000ff" stroke="none" stroke-width="0"/>
<circle cx="555.1" cy="1026.5" r="5.5" fill="#0000ff" stroke="none" stroke-width="0"/>
<circle cx="563.6" cy="1031.2" r="5.5" fill="#0000ff" stroke="none" stroke-width="0"/>
<line x1="117.8" y1="769.33" x2="570.8" y2="867.63" stroke="#000" stroke-width="2.05" stroke-dasharray="12.5,12.5"/>
</g>
<rect x="124.6" y="668.6" width="145.6" height="49" fill="#fff" stroke="#000" stroke-width="2.05"/>
<rect x="117" y="662.4" width="454" height="454" fill="none" stroke="#000" stroke-width="2.05"/>
<line x1="164.5" y1="1116.4" x2="164.5" y2="1108.4" stroke="#000" stroke-width="1"/>
<line x1="164.5" y1="662.4" x2="164.5" y2="670.4" stroke="#000" stroke-width="1"/>
<line x1="226.5" y1="1116.4" x2="226.5" y2="1108.4" stroke="#000" stroke-width="1"/>
<line x1="226.5" y1="662.4" x2="226.5" y2="670.4" stroke="#000" stroke-width="1"/>
<line x1="289.5" y1="1116.4" x2="289.5" y2="1108.4" stroke="#000" stroke-width="1"/>
<line x1="289.5" y1="662.4" x2="289.5" y2="670.4" stroke="#000" stroke-width="1"/>
<line x1="351.5" y1="1116.4" x2="351.5" y2="1108.4" stroke="#000" stroke-width="1"/>
<line x1="351.5" y1="662.4" x2="351.5" y2="670.4" stroke="#000" stroke-width="1"/>
<line x1="413.5" y1="1116.4" x2="413.5" y2="1108.4" stroke="#000" stroke-width="1"/>
<line x1="413.5" y1="662.4" x2="413.5" y2="670.4" stroke="#000" stroke-width="1"/>
<line x1="476.5" y1="1116.4" x2="476.5" y2="1108.4" stroke="#000" stroke-width="1"/>
<line x1="476.5" y1="662.4" x2="476.5" y2="670.4" stroke="#000" stroke-width="1"/>
<line x1="538.5" y1="1116.4" x2="538.5" y2="1108.4" stroke="#000" stroke-width="1"/>
<line x1="538.5" y1="662.4" x2="538.5" y2="670.4" stroke="#000" stroke-width="1"/>
<line x1="117" y1="1068.5" x2="125" y2="1068.5" stroke="#000" stroke-width="1"/>
<line x1="571" y1="1068.5" x2="563" y2="1068.5" stroke="#000" stroke-width="1"/>
<line x1="117" y1="1006.5" x2="125" y2="1006.5" stroke="#000" stroke-width="1"/>
<line x1="571" y1="1006.5" x2="563" y2="1006.5" stroke="#000" stroke-width="1"/>
<line x1="117" y1="944.5" x2="125" y2="944.5" stroke="#000" stroke-width="1"/>
<line x1="571" y1="944.5" x2="563" y2="944.5" stroke="#000" stroke-width="1"/>
<line x1="117" y1="881.5" x2="125" y2="881.5" stroke="#000" stroke-width="1"/>
<line x1="571" y1="881.5" x2="563" y2="881.5" stroke="#000" stroke-width="1"/>
<line x1="117" y1="819.5" x2="125" y2="819.5" stroke="#000" stroke-width="1"/>
<line x1="571" y1="819.5" x2="563" y2="819.5" stroke="#000" stroke-width="1"/>
<line x1="117" y1="757.5" x2="125" y2="757.5" stroke="#000" stroke-width="1"/>
<line x1="571" y1="757.5" x2="563" y2="757.5" stroke="#000" stroke-width="1"/>
<line x1="117" y1="694.5" x2="125" y2="694.5" stroke="#000" stroke-width="1"/>
<line x1="571" y1="694.5" x2="563" y2="694.5" stroke="#000" stroke-width="1"/>
<clipPath id="c_zy"><rect x="673" y="662.4" width="454" height="454"/></clipPath>
<g clip-path="url(#c_zy)">
<polyline points="1110.8,730.5 1101.7,731.7 1093.5,721.6 1097,733.3 1081.5,718.3 983.4,746.3 861.7,795.3 753.21,844.21 757.43,887.49 770.52,846.49 761.18,851.05 751.5,830.55 738.41,849.34 749.23,822 734.99,832.26 733.85,836.81 732.71,834.53 730.43,831.12 731.57,828.27 734.42,824.85 732.71,822 730.43,819.73 733.28,812.89 739.54,816.31 737.84,807.2 741.82,808.34 744.1,810.62 760.39,810.62 752.41,795.24 744.1,788.97 742.39,786.13 755.49,777.36 761.53,778.72 763.8,775.08 755.49,777.36 744.44,777.36 735.56,785.56 732.71,784.42 732.37,774.17 729.29,784.99 726.45,792.96 732.14,790.68 734.99,791.25 742.39,799.23 738.41,801.5 733.85,806.06 729.86,807.2 724.74,810.62 719.38,834.31 715.28,839.09 712.21,845.35 711.07,866.42 714.49,859.59 715.28,839.09 719.38,834.31 723.03,857.31 719.04,859.59 716.77,866.99 714.49,870.98 715.28,873.83 719.38,885.79 725.54,876.1 733.85,892.39 738.97,896.04 734.99,846.49 729.29,853.33 733.85,854.46 737.27,855.6 732.71,862.44 742.96,875.31 734.99,846.49 738.97,896.04" fill="none" stroke="#0000ff" stroke-width="2.05" stroke-linejoin="round"/>
<polyline points="739.54,895.95 736.13,900.5 741.82,900.5 737.61,922.14 734.99,927.61 739.54,926.7 743.53,927.61 757.43,940.36 781.46,1020.32 810.39,1063.37 763.46,1012.69 757.43,980.46 746.38,948.34 742.96,947.2 738.97,948.34 741.25,951.75 744.1,956.31 745.81,962 745.24,971.46 756.63,1006.42 759.48,1001.87 757.43,980.46 764.03,1005.28 768.02,1003.01 742.96,947.2 742.39,940.36 737.84,939.23 738.97,933.53 739.54,926.7" fill="none" stroke="#0000ff" stroke-width="2.05" stroke-linejoin="round"/>
<circle cx="1110.8" cy="730.5" r="3" fill="#0000ff" stroke="#0000ff" stroke-width="1"/>
<circle cx="1101.7" cy="731.7" r="3" fill="#0000ff" stroke="#0000ff" stroke-width="1"/>
<circle cx="1093.5" cy="721.6" r="3" fill="#0000ff" stroke="#0000ff" stroke-width="1"/>
<circle cx="1097" cy="733.3" r="3" fill="#0000ff" stroke="#0000ff" stroke-width="1"/>
<circle cx="1081.5" cy="718.3" r="3" fill="#0000ff" stroke="#0000ff" stroke-width="1"/>
<circle cx="983.4" cy="746.3" r="3" fill="#0000ff" stroke="#0000ff" stroke-width="1"/>
<circle cx="861.7" cy="795.3" r="3" fill="#0000ff" stroke="#0000ff" stroke-width="1"/>
<circle cx="753.21" cy="844.21" r="3" fill="#0000ff" stroke="#0000ff" stroke-width="1"/>
<circle cx="757.43" cy="887.49" r="3" fill="#0000ff" stroke="#0000ff" stroke-width="1"/>
<circle cx="770.52" cy="846.49" r="3" fill="#0000ff" stroke="#0000ff" stroke-width="1"/>
<circle cx="761.18" cy="851.05" r="3" fill="#0000ff" stroke="#0000ff" stroke-width="1"/>
<circle cx="751.5" cy="830.55" r="3" fill="#0000ff" stroke="#0000ff" stroke-width="1"/>
<circle cx="738.41" cy="849.34" r="3" fill="#0000ff" stroke="#0000ff" stroke-width="1"/>
<circle cx="749.23" cy="822" r="3" fill="#0000ff" stroke="#0000ff" stroke-width="1"/>
<circle cx="734.99" cy="832.26" r="3" fill="#0000ff" stroke="#0000ff" stroke-width="1"/>
<circle cx="733.85" cy="836.81" r="3" fill="#0000ff" stroke="#0000ff" stroke-width="1"/>
<circle cx="732.71" cy="834.53" r="3" fill="#0000ff" stroke="#0000ff" stroke-width="1"/>
<circle cx="730.43" cy="831.12" r="3" fill="#0000ff" stroke="#0000ff" stroke-width="1"/>
<circle cx="731.57" cy="828.27" r="3" fill="#0000ff" stroke="#0000ff" stroke-width="1"/>
<circle cx="734.42" cy="824.85" r="3" fill="#0000ff" stroke="#0000ff" stroke-width="1"/>
<circle cx="732.71" cy="822" r="3" fill="#0000ff" stroke="#0000ff" stroke-width="1"/>
<circle cx="730.43" cy="819.73" r="3" fill="#0000ff" stroke="#0000ff" stroke-width="1"/>
<circle cx="733.28" cy="812.89" r="3" fill="#0000ff" stroke="#0000ff" stroke-width="1"/>
<circle cx="739.54" cy="816.31" r="3" fill="#0000ff" stroke="#0000ff" stroke-width="1"/>
<circle cx="737.84" cy="807.2" r="3" fill="#0000ff" stroke="#0000ff" stroke-width="1"/>
<circle cx="741.82" cy="808.34" r="3" fill="#0000ff" stroke="#0000ff" stroke-width="1"/>
<circle cx="744.1" cy="810.62" r="3" fill="#0000ff" stroke="#0000ff" stroke-width="1"/>
<circle cx="760.39" cy="810.62" r="3" fill="#0000ff" stroke="#0000ff" stroke-width="1"/>
<circle cx="752.41" cy="795.24" r="3" fill="#0000ff" stroke="#0000ff" stroke-width="1"/>
<circle cx="744.1" cy="788.97" r="3" fill="#0000ff" stroke="#0000ff" stroke-width="1"/>
<circle cx="742.39" cy="786.13" r="3" fill="#0000ff" stroke="#0000ff" stroke-width="1"/>
<circle cx="755.49" cy="777.36" r="3" fill="#0000ff" stroke="#0000ff" stroke-width="1"/>
<circle cx="761.53" cy="778.72" r="3" fill="#0000ff" stroke="#0000ff" stroke-width="1"/>
<circle cx="763.8" cy="775.08" r="3" fill="#0000ff" stroke="#0000ff" stroke-width="1"/>
<circle cx="755.49" cy="777.36" r="3" fill="#0000ff" stroke="#0000ff" stroke-width="1"/>
<circle cx="744.44" cy="777.36" r="3" fill="#0000ff" stroke="#0000ff" stroke-width="1"/>
<circle cx="735.56" cy="785.56" r="3" fill="#0000ff" stroke="#0000ff" stroke-width="1"/>
<circle cx="732.71" cy="784.42" r="3" fill="#0000ff" stroke="#0000ff" stroke-width="1"/>
<circle cx="732.37" cy="774.17" r="3" fill="#0000ff" stroke="#0000ff" stroke-width="1"/>
<circle cx="729.29" cy="784.99" r="3" fill="#0000ff" stroke="#0000ff" stroke-width="1"/>
<circle cx="726.45" cy="792.96" r="3" fill="#0000ff" stroke="#0000ff" stroke-width="1"/>
<circle cx="732.14" cy="790.68" r="3" fill="#0000ff" stroke="#0000ff" stroke-width="1"/>
<circle cx="734.99" cy="791.25" r="3" fill="#0000ff" stroke="#0000ff" stroke-width="1"/>
<circle cx="742.39" cy="799.23" r="3" fill="#0000ff" stroke="#0000ff" stroke-width="1"/>
<circle cx="738.41" cy="801.5" r="3" fill="#0000ff" stroke="#0000ff" stroke-width="1"/>
<circle cx="733.85" cy="806.06" r="3" fill="#0000ff" stroke="#0000ff" stroke-width="1"/>
<circle cx="729.86" cy="807.2" r="3" fill="#0000ff" stroke="#0000ff" stroke-width="1"/>
<circle cx="724.74" cy="810.62" r="3" fill="#0000ff" stroke="#0000ff" stroke-width="1"/>
<circle cx="719.38" cy="834.31" r="3" fill="#0000ff" stroke="#0000ff" stroke-width="1"/>
<circle cx="715.28" cy="839.09" r="3" fill="#0000ff" stroke="#0000ff" stroke-width="1"/>
<circle cx="712.21" cy="845.35" r="3" fill="#0000ff" stroke="#0000ff" stroke-width="1"/>
<circle cx="711.07" cy="866.42" r="3" fill="#0000ff" stroke="#0000ff" stroke-width="1"/>
<circle cx="714.49" cy="859.59" r="3" fill="#0000ff" stroke="#0000ff" stroke-width="1"/>
<circle cx="715.28" cy="839.09" r="3" fill="#0000ff" stroke="#0000ff" stroke-width="1"/>
<circle cx="719.38" cy="834.31" r="3" fill="#0000ff" stroke="#0000ff" stroke-width="1"/>
<circle cx="723.03" cy="857.31" r="3" fill="#0000ff" stroke="#0000ff" stroke-width="1"/>
<circle cx="719.04" cy="859.59" r="3" fill="#0000ff" stroke="#0000ff" stroke-width="1"/>
<circle cx="716.77" cy="866.99" r="3" fill="#0000ff" stroke="#0000ff" stroke-width="1"/>
<circle cx="714.49" cy="870.98" r="3" fill="#0000ff" stroke="#0000ff" stroke-width="1"/>
<circle cx="715.28" cy="873.83" r="3" fill="#0000ff" stroke="#0000ff" stroke-width="1"/>
<circle cx="719.38" cy="885.79" r="3" fill="#0000ff" stroke="#0000ff" stroke-width="1"/>
<circle cx="725.54" cy="876.1" r="3" fill="#0000ff" stroke="#0000ff" stroke-width="1"/>
<circle cx="733.85" cy="892.39" r="3" fill="#0000ff" stroke="#0000ff" stroke-width="1"/>
<circle cx="738.97" cy="896.04" r="3" fill="#0000ff" stroke="#0000ff" stroke-width="1"/>
<circle cx="734.99" cy="846.49" r="3" fill="#0000ff" stroke="#0000ff" stroke-width="1"/>
<circle cx="729.29" cy="853.33" r="3" fill="#0000ff" stroke="#0000ff" stroke-width="1"/>
<circle cx="733.85" cy="854.46" r="3" fill="#0000ff" stroke="#0000ff" stroke-width="1"/>
<circle cx="737.27" cy="855.6" r="3" fill="#0000ff" stroke="#0000ff" stroke-width="1"/>
<circle cx="732.71" cy="862.44" r="3" fill="#0000ff" stroke="#0000ff" stroke-width="1"/>
<circle cx="742.96" cy="875.31" r="3" fill="#0000ff" stroke="#0000ff" stroke-width="1"/>
<circle cx="734.99" cy="846.49" r="3" fill="#0000ff" stroke="#0000ff" stroke-width="1"/>
<circle cx="738.97" cy="896.04" r="3" fill="#0000ff" stroke="#0000ff" stroke-width="1"/>
<circle cx="739.54" cy="895.95" r="3" fill="#0000ff" stroke="#0000ff" stroke-width="1"/>
<circle cx="736.13" cy="900.5" r="3" fill="#0000ff" stroke="#0000ff" stroke-width="1"/>
<circle cx="741.82" cy="900.5" r="3" fill="#0000ff" stroke="#0000ff" stroke-width="1"/>
<circle cx="737.61" cy="922.14" r="3" fill="#0000ff" stroke="#0000ff" stroke-width="1"/>
<circle cx="734.99" cy="927.61" r="3" fill="#0000ff" stroke="#0000ff" stroke-width="1"/>
<circle cx="739.54" cy="926.7" r="3" fill="#0000ff" stroke="#0000ff" stroke-width="1"/>
<circle cx="743.53" cy="927.61" r="3" fill="#0000ff" stroke="#0000ff" stroke-width="1"/>
<circle cx="757.43" cy="940.36" r="3" fill="#0000ff" stroke="#0000ff" stroke-width="1"/>
<circle cx="781.46" cy="1020.32" r="3" fill="#0000ff" stroke="#0000ff" stroke-width="1"/>
<circle cx="810.39" cy="1063.37" r="3" fill="#0000ff" stroke="#0000ff" stroke-width="1"/>
<circle cx="763.46" cy="1012.69" r="3" fill="#0000ff" stroke="#0000ff" stroke-width="1"/>
<circle cx="757.43" cy="980.46" r="3" fill="#0000ff" stroke="#0000ff" stroke-width="1"/>
<circle cx="746.38" cy="948.34" r="3" fill="#0000ff" stroke="#0000ff" stroke-width="1"/>
<circle cx="742.96" cy="947.2" r="3" fill="#0000ff" stroke="#0000ff" stroke-width="1"/>
<circle cx="738.97" cy="948.34" r="3" fill="#0000ff" stroke="#0000ff" stroke-width="1"/>
<circle cx="741.25" cy="951.75" r="3" fill="#0000ff" stroke="#0000ff" stroke-width="1"/>
<circle cx="744.1" cy="956.31" r="3" fill="#0000ff" stroke="#0000ff" stroke-width="1"/>
<circle cx="745.81" cy="962" r="3" fill="#0000ff" stroke="#0000ff" stroke-width="1"/>
<circle cx="745.24" cy="971.46" r="3" fill="#0000ff" stroke="#0000ff" stroke-width="1"/>
<circle cx="756.63" cy="1006.42" r="3" fill="#0000ff" stroke="#0000ff" stroke-width="1"/>
<circle cx="759.48" cy="1001.87" r="3" fill="#0000ff" stroke="#0000ff" stroke-width="1"/>
<circle cx="757.43" cy="980.46" r="3" fill="#0000ff" stroke="#0000ff" stroke-width="1"/>
<circle cx="764.03" cy="1005.28" r="3" fill="#0000ff" stroke="#0000ff" stroke-width="1"/>
<circle cx="768.02" cy="1003.01" r="3" fill="#0000ff" stroke="#0000ff" stroke-width="1"/>
<circle cx="742.96" cy="947.2" r="3" fill="#0000ff" stroke="#0000ff" stroke-width="1"/>
<circle cx="742.39" cy="940.36" r="3" fill="#0000ff" stroke="#0000ff" stroke-width="1"/>
<circle cx="737.84" cy="939.23" r="3" fill="#0000ff" stroke="#0000ff" stroke-width="1"/>
<circle cx="738.97" cy="933.53" r="3" fill="#0000ff" stroke="#0000ff" stroke-width="1"/>
<circle cx="739.54" cy="926.7" r="3" fill="#0000ff" stroke="#0000ff" stroke-width="1"/>
</g>
<rect x="673" y="662.4" width="454" height="454" fill="none" stroke="#000" stroke-width="2.05"/>
<line x1="673.5" y1="1116.4" x2="673.5" y2="1108.4" stroke="#000" stroke-width="1"/>
<line x1="673.5" y1="662.4" x2="673.5" y2="670.4" stroke="#000" stroke-width="1"/>
<line x1="749.5" y1="1116.4" x2="749.5" y2="1108.4" stroke="#000" stroke-width="1"/>
<line x1="749.5" y1="662.4" x2="749.5" y2="670.4" stroke="#000" stroke-width="1"/>
<line x1="824.5" y1="1116.4" x2="824.5" y2="1108.4" stroke="#000" stroke-width="1"/>
<line x1="824.5" y1="662.4" x2="824.5" y2="670.4" stroke="#000" stroke-width="1"/>
<line x1="900.5" y1="1116.4" x2="900.5" y2="1108.4" stroke="#000" stroke-width="1"/>
<line x1="900.5" y1="662.4" x2="900.5" y2="670.4" stroke="#000" stroke-width="1"/>
<line x1="975.5" y1="1116.4" x2="975.5" y2="1108.4" stroke="#000" stroke-width="1"/>
<line x1="975.5" y1="662.4" x2="975.5" y2="670.4" stroke="#000" stroke-width="1"/>
<line x1="1051.5" y1="1116.4" x2="1051.5" y2="1108.4" stroke="#000" stroke-width="1"/>
<line x1="1051.5" y1="662.4" x2="1051.5" y2="670.4" stroke="#000" stroke-width="1"/>
<line x1="1126.5" y1="1116.4" x2="1126.5" y2="1108.4" stroke="#000" stroke-width="1"/>
<line x1="1126.5" y1="662.4" x2="1126.5" y2="670.4" stroke="#000" stroke-width="1"/>
<line x1="673" y1="1078.5" x2="681" y2="1078.5" stroke="#000" stroke-width="1"/>
<line x1="1127" y1="1078.5" x2="1119" y2="1078.5" stroke="#000" stroke-width="1"/>
<line x1="673" y1="1002.5" x2="681" y2="1002.5" stroke="#000" stroke-width="1"/>
<line x1="1127" y1="1002.5" x2="1119" y2="1002.5" stroke="#000" stroke-width="1"/>
<line x1="673" y1="927.5" x2="681" y2="927.5" stroke="#000" stroke-width="1"/>
<line x1="1127" y1="927.5" x2="1119" y2="927.5" stroke="#000" stroke-width="1"/>
<line x1="673" y1="851.5" x2="681" y2="851.5" stroke="#000" stroke-width="1"/>
<line x1="1127" y1="851.5" x2="1119" y2="851.5" stroke="#000" stroke-width="1"/>
<line x1="673" y1="776.5" x2="681" y2="776.5" stroke="#000" stroke-width="1"/>
<line x1="1127" y1="776.5" x2="1119" y2="776.5" stroke="#000" stroke-width="1"/>
<line x1="673" y1="700.5" x2="681" y2="700.5" stroke="#000" stroke-width="1"/>
<line x1="1127" y1="700.5" x2="1119" y2="700.5" stroke="#000" stroke-width="1"/>
<clipPath id="c_xy"><rect x="1229" y="662.4" width="454" height="454"/></clipPath>
<g clip-path="url(#c_xy)">
<polyline points="1272.46,687.59 1263.57,700.75 1275.53,702.46 1272.46,687.59 1271.26,697.33 1257.59,684.52 1276.39,717.32 1385.2,753.7 1389.98,754.22 1397.5,755.41 1416.46,754.22 1433.88,779.33 1429.27,781.89 1436.11,765.32 1442.43,763.95 1449.6,766.52 1456.95,763.1 1463.78,765.66 1461.56,751.14 1477.44,771.64 1409.12,773.35 1421.41,795.56 1438.16,816.91 1443.28,819.47 1449.6,811.44 1473.17,805.8 1477.44,804.95 1479.15,786.16 1463.44,797.26 1463.44,811.44" fill="none" stroke="#0000ff" stroke-width="2.05" stroke-linejoin="round"/>
<polyline points="1389.98,754.22 1410.48,765.32 1385.2,776.42 1355.31,794.36 1393.23,795.56 1403.48,793.33 1411.34,802.39 1427.39,811.44 1432.18,820.32 1438.16,816.91 1444.65,823.74 1411.34,851.41 1460.36,853.29 1465.49,866.45 1460.5,853.24 1465.62,866.57 1486.12,858.37 1487.83,854.1 1523.36,829.33 1543.35,828.47 1522.85,853.24 1527.46,836.5" fill="none" stroke="#0000ff" stroke-width="2.05" stroke-linejoin="round"/>
<polyline points="1397.5,755.41 1459.51,777.62 1479.15,786.16 1479.63,786.62 1463.4,797.72 1463.4,811.73 1475.02,804.56 1479.63,786.62 1504.4,783.55 1508.33,813.61 1508.33,821.64 1510.89,826.76 1514.65,824.2 1512.6,805.07 1533.61,821.13 1479.63,786.62 1459.64,777.57 1440,769.54" fill="none" stroke="#0000ff" stroke-width="2.05" stroke-linejoin="round"/>
<polyline points="1442.56,764.76 1449.4,766.12 1457.08,763.56 1461.35,751.6 1476.73,771.25 1465.62,766.12 1457.08,763.56 1478.44,774.66 1497.57,764.41" fill="none" stroke="#0000ff" stroke-width="2.05" stroke-linejoin="round"/>
<polyline points="1475.02,804.56 1449.4,811.73 1443.42,819.08 1444.27,823.35" fill="none" stroke="#0000ff" stroke-width="2.05" stroke-linejoin="round"/>
<polyline points="1518.58,771.25 1534.81,786.28 1559.58,790.04 1564.7,793.45 1541.64,792.6 1533.1,796.36 1527.12,790.89 1525.41,785.77 1518.58,771.25 1525.41,785.77 1533.61,821.13 1543.35,828.47 1552.74,835.82 1562.14,846.75 1577.51,824.2 1615.61,809.34 1584.35,849.83 1608.26,819.42 1610.48,837.53 1610.48,844.7 1597.5,873.4 1591.18,886.04 1590.32,897.66 1584.35,849.83 1575.46,848.46 1574.1,857.17 1584.35,849.83 1597.5,873.4" fill="none" stroke="#0000ff" stroke-width="2.05" stroke-linejoin="round"/>
<polyline points="1541.64,792.6 1564.7,817.71 1562.99,820.79 1572.39,837.53 1562.14,846.75 1588.62,882.28 1591.18,886.04" fill="none" stroke="#0000ff" stroke-width="2.05" stroke-linejoin="round"/>
<polyline points="1592.03,844.7 1608.26,819.42" fill="none" stroke="#0000ff" stroke-width="2.05" stroke-linejoin="round"/>
<polyline points="1522.85,853.24 1519.09,862.13 1525.41,855.8 1528.83,863.49 1533.44,870.32 1544.2,857.17 1548.47,862.64 1558.21,884.84 1562.48,873.4 1569.48,893.73 1579.56,902.44 1581.27,949.54 1584.35,957.23 1583.15,960.64 1588.62,998.22 1566.41,1026.41 1577.51,1029.83 1577.51,1025.56 1612.53,964.06 1613.39,959.79 1584.35,987.46" fill="none" stroke="#0000ff" stroke-width="2.05" stroke-linejoin="round"/>
<polyline points="1586.05,941.51 1588.27,935.87 1593.4,934.16 1597.16,935.02 1567.26,1019.58 1559.58,1029.31 1547.28,1037.17 1501.5,1098.5 1510.55,1046.4 1614.24,946.98 1615.95,950.73 1609.97,933.31 1603.99,935.87 1601.43,928.19" fill="none" stroke="#0000ff" stroke-width="2.05" stroke-linejoin="round"/>
<polyline points="1606.55,936.73 1598.87,975.16 1601.43,970.04" fill="none" stroke="#0000ff" stroke-width="2.05" stroke-linejoin="round"/>
<circle cx="1272.46" cy="687.59" r="3" fill="#0000ff" stroke="#0000ff" stroke-width="1"/>
<circle cx="1263.57" cy="700.75" r="3" fill="#0000ff" stroke="#0000ff" stroke-width="1"/>
<circle cx="1275.53" cy="702.46" r="3" fill="#0000ff" stroke="#0000ff" stroke-width="1"/>
<circle cx="1272.46" cy="687.59" r="3" fill="#0000ff" stroke="#0000ff" stroke-width="1"/>
<circle cx="1271.26" cy="697.33" r="3" fill="#0000ff" stroke="#0000ff" stroke-width="1"/>
<circle cx="1257.59" cy="684.52" r="3" fill="#0000ff" stroke="#0000ff" stroke-width="1"/>
<circle cx="1276.39" cy="717.32" r="3" fill="#0000ff" stroke="#0000ff" stroke-width="1"/>
<circle cx="1385.2" cy="753.7" r="3" fill="#0000ff" stroke="#0000ff" stroke-width="1"/>
<circle cx="1389.98" cy="754.22" r="3" fill="#0000ff" stroke="#0000ff" stroke-width="1"/>
<circle cx="1397.5" cy="755.41" r="3" fill="#0000ff" stroke="#0000ff" stroke-width="1"/>
<circle cx="1416.46" cy="754.22" r="3" fill="#0000ff" stroke="#0000ff" stroke-width="1"/>
<circle cx="1433.88" cy="779.33" r="3" fill="#0000ff" stroke="#0000ff" stroke-width="1"/>
<circle cx="1429.27" cy="781.89" r="3" fill="#0000ff" stroke="#0000ff" stroke-width="1"/>
<circle cx="1436.11" cy="765.32" r="3" fill="#0000ff" stroke="#0000ff" stroke-width="1"/>
<circle cx="1442.43" cy="763.95" r="3" fill="#0000ff" stroke="#0000ff" stroke-width="1"/>
<circle cx="1449.6" cy="766.52" r="3" fill="#0000ff" stroke="#0000ff" stroke-width="1"/>
<circle cx="1456.95" cy="763.1" r="3" fill="#0000ff" stroke="#0000ff" stroke-width="1"/>
<circle cx="1463.78" cy="765.66" r="3" fill="#0000ff" stroke="#0000ff" stroke-width="1"/>
<circle cx="1461.56" cy="751.14" r="3" fill="#0000ff" stroke="#0000ff" stroke-width="1"/>
<circle cx="1477.44" cy="771.64" r="3" fill="#0000ff" stroke="#0000ff" stroke-width="1"/>
<circle cx="1409.12" cy="773.35" r="3" fill="#0000ff" stroke="#0000ff" stroke-width="1"/>
<circle cx="1421.41" cy="795.56" r="3" fill="#0000ff" stroke="#0000ff" stroke-width="1"/>
<circle cx="1438.16" cy="816.91" r="3" fill="#0000ff" stroke="#0000ff" stroke-width="1"/>
<circle cx="1443.28" cy="819.47" r="3" fill="#0000ff" stroke="#0000ff" stroke-width="1"/>
<circle cx="1449.6" cy="811.44" r="3" fill="#0000ff" stroke="#0000ff" stroke-width="1"/>
<circle cx="1473.17" cy="805.8" r="3" fill="#0000ff" stroke="#0000ff" stroke-width="1"/>
<circle cx="1477.44" cy="804.95" r="3" fill="#0000ff" stroke="#0000ff" stroke-width="1"/>
<circle cx="1479.15" cy="786.16" r="3" fill="#0000ff" stroke="#0000ff" stroke-width="1"/>
<circle cx="1463.44" cy="797.26" r="3" fill="#0000ff" stroke="#0000ff" stroke-width="1"/>
<circle cx="1463.44" cy="811.44" r="3" fill="#0000ff" stroke="#0000ff" stroke-width="1"/>
<circle cx="1389.98" cy="754.22" r="3" fill="#0000ff" stroke="#0000ff" stroke-width="1"/>
<circle cx="1410.48" cy="765.32" r="3" fill="#0000ff" stroke="#0000ff" stroke-width="1"/>
<circle cx="1385.2" cy="776.42" r="3" fill="#0000ff" stroke="#0000ff" stroke-width="1"/>
<circle cx="1355.31" cy="794.36" r="3" fill="#0000ff" stroke="#0000ff" stroke-width="1"/>
<circle cx="1393.23" cy="795.56" r="3" fill="#0000ff" stroke="#0000ff" stroke-width="1"/>
<circle cx="1403.48" cy="793.33" r="3" fill="#0000ff" stroke="#0000ff" stroke-width="1"/>
<circle cx="1411.34" cy="802.39" r="3" fill="#0000ff" stroke="#0000ff" stroke-width="1"/>
<circle cx="1427.39" cy="811.44" r="3" fill="#0000ff" stroke="#0000ff" stroke-width="1"/>
<circle cx="1432.18" cy="820.32" r="3" fill="#0000ff" stroke="#0000ff" stroke-width="1"/>
<circle cx="1438.16" cy="816.91" r="3" fill="#0000ff" stroke="#0000ff" stroke-width="1"/>
<circle cx="1444.65" cy="823.74" r="3" fill="#0000ff" stroke="#0000ff" stroke-width="1"/>
<circle cx="1411.34" cy="851.41" r="3" fill="#0000ff" stroke="#0000ff" stroke-width="1"/>
<circle cx="1460.36" cy="853.29" r="3" fill="#0000ff" stroke="#0000ff" stroke-width="1"/>
<circle cx="1465.49" cy="866.45" r="3" fill="#0000ff" stroke="#0000ff" stroke-width="1"/>
<circle cx="1460.5" cy="853.24" r="3" fill="#0000ff" stroke="#0000ff" stroke-width="1"/>
<circle cx="1465.62" cy="866.57" r="3" fill="#0000ff" stroke="#0000ff" stroke-width="1"/>
<circle cx="1486.12" cy="858.37" r="3" fill="#0000ff" stroke="#0000ff" stroke-width="1"/>
<circle cx="1487.83" cy="854.1" r="3" fill="#0000ff" stroke="#0000ff" stroke-width="1"/>
<circle cx="1523.36" cy="829.33" r="3" fill="#0000ff" stroke="#0000ff" stroke-width="1"/>
<circle cx="1543.35" cy="828.47" r="3" fill="#0000ff" stroke="#0000ff" stroke-width="1"/>
<circle cx="1522.85" cy="853.24" r="3" fill="#0000ff" stroke="#0000ff" stroke-width="1"/>
<circle cx="1527.46" cy="836.5" r="3" fill="#0000ff" stroke="#0000ff" stroke-width="1"/>
<circle cx="1397.5" cy="755.41" r="3" fill="#0000ff" stroke="#0000ff" stroke-width="1"/>
<circle cx="1459.51" cy="777.62" r="3" fill="#0000ff" stroke="#0000ff" stroke-width="1"/>
<circle cx="1479.15" cy="786.16" r="3" fill="#0000ff" stroke="#0000ff" stroke-width="1"/>
<circle cx="1479.63" cy="786.62" r="3" fill="#0000ff" stroke="#0000ff" stroke-width="1"/>
<circle cx="1463.4" cy="797.72" r="3" fill="#0000ff" stroke="#0000ff" stroke-width="1"/>
<circle cx="1463.4" cy="811.73" r="3" fill="#0000ff" stroke="#0000ff" stroke-width="1"/>
<circle cx="1475.02" cy="804.56" r="3" fill="#0000ff" stroke="#0000ff" stroke-width="1"/>
<circle cx="1479.63" cy="786.62" r="3" fill="#0000ff" stroke="#0000ff" stroke-width="1"/>
<circle cx="1504.4" cy="783.55" r="3" fill="#0000ff" stroke="#0000ff" stroke-width="1"/>
<circle cx="1508.33" cy="813.61" r="3" fill="#0000ff" stroke="#0000ff" stroke-width="1"/>
<circle cx="1508.33" cy="821.64" r="3" fill="#0000ff" stroke="#0000ff" stroke-width="1"/>
<circle cx="1510.89" cy="826.76" r="3" fill="#0000ff" stroke="#0000ff" stroke-width="1"/>
<circle cx="1514.65" cy="824.2" r="3" fill="#0000ff" stroke="#0000ff" stroke-width="1"/>
<circle cx="1512.6" cy="805.07" r="3" fill="#0000ff" stroke="#0000ff" stroke-width="1"/>
<circle cx="1533.61" cy="821.13" r="3" fill="#0000ff" stroke="#0000ff" stroke-width="1"/>
<circle cx="1479.63" cy="786.62" r="3" fill="#0000ff" stroke="#0000ff" stroke-width="1"/>
<circle cx="1459.64" cy="777.57" r="3" fill="#0000ff" stroke="#0000ff" stroke-width="1"/>
<circle cx="1440" cy="769.54" r="3" fill="#0000ff" stroke="#0000ff" stroke-width="1"/>
<circle cx="1442.56" cy="764.76" r="3" fill="#0000ff" stroke="#0000ff" stroke-width="1"/>
<circle cx="1449.4" cy="766.12" r="3" fill="#0000ff" stroke="#0000ff" stroke-width="1"/>
<circle cx="1457.08" cy="763.56" r="3" fill="#0000ff" stroke="#0000ff" stroke-width="1"/>
<circle cx="1461.35" cy="751.6" r="3" fill="#0000ff" stroke="#0000ff" stroke-width="1"/>
<circle cx="1476.73" cy="771.25" r="3" fill="#0000ff" stroke="#0000ff" stroke-width="1"/>
<circle cx="1465.62" cy="766.12" r="3" fill="#0000ff" stroke="#0000ff" stroke-width="1"/>
<circle cx="1457.08" cy="763.56" r="3" fill="#0000ff" stroke="#0000ff" stroke-width="1"/>
<circle cx="1478.44" cy="774.66" r="3" fill="#0000ff" stroke="#0000ff" stroke-width="1"/>
<circle cx="1497.57" cy="764.41" r="3" fill="#0000ff" stroke="#0000ff" stroke-width="1"/>
<circle cx="1475.02" cy="804.56" r="3" fill="#0000ff" stroke="#0000ff" stroke-width="1"/>
<circle cx="1449.4" cy="811.73" r="3" fill="#0000ff" stroke="#0000ff" stroke-width="1"/>
<circle cx="1443.42" cy="819.08" r="3" fill="#0000ff" stroke="#0000ff" stroke-width="1"/>
<circle cx="1444.27" cy="823.35" r="3" fill="#0000ff" stroke="#0000ff" stroke-width="1"/>
<circle cx="1518.58" cy="771.25" r="3" fill="#0000ff" stroke="#0000ff" stroke-width="1"/>
<circle cx="1534.81" cy="786.28" r="3" fill="#0000ff" stroke="#0000ff" stroke-width="1"/>
<circle cx="1559.58" cy="790.04" r="3" fill="#0000ff" stroke="#0000ff" stroke-width="1"/>
<circle cx="1564.7" cy="793.45" r="3" fill="#0000ff" stroke="#0000ff" stroke-width="1"/>
<circle cx="1541.64" cy="792.6" r="3" fill="#0000ff" stroke="#0000ff" stroke-width="1"/>
<circle cx="1533.1" cy="796.36" r="3" fill="#0000ff" stroke="#0000ff" stroke-width="1"/>
<circle cx="1527.12" cy="790.89" r="3" fill="#0000ff" stroke="#0000ff" stroke-width="1"/>
<circle cx="1525.41" cy="785.77" r="3" fill="#0000ff" stroke="#0000ff" stroke-width="1"/>
<circle cx="1518.58" cy="771.25" r="3" fill="#0000ff" stroke="#0000ff" stroke-width="1"/>
<circle cx="1525.41" cy="785.77" r="3" fill="#0000ff" stroke="#0000ff" stroke-width="1"/>
<circle cx="1533.61" cy="821.13" r="3" fill="#0000ff" stroke="#0000ff" stroke-width="1"/>
<circle cx="1543.35" cy="828.47" r="3" fill="#0000ff" stroke="#0000ff" stroke-width="1"/>
<circle cx="1552.74" cy="835.82" r="3" fill="#0000ff" stroke="#0000ff" stroke-width="1"/>
<circle cx="1562.14" cy="846.75" r="3" fill="#0000ff" stroke="#0000ff" stroke-width="1"/>
<circle cx="1577.51" cy="824.2" r="3" fill="#0000ff" stroke="#0000ff" stroke-width="1"/>
<circle cx="1615.61" cy="809.34" r="3" fill="#0000ff" stroke="#0000ff" stroke-width="1"/>
<circle cx="1584.35" cy="849.83" r="3" fill="#0000ff" stroke="#0000ff" stroke-width="1"/>
<circle cx="1608.26" cy="819.42" r="3" fill="#0000ff" stroke="#0000ff" stroke-width="1"/>
<circle cx="1610.48" cy="837.53" r="3" fill="#0000ff" stroke="#0000ff" stroke-width="1"/>
<circle cx="1610.48" cy="844.7" r="3" fill="#0000ff" stroke="#0000ff" stroke-width="1"/>
<circle cx="1597.5" cy="873.4" r="3" fill="#0000ff" stroke="#0000ff" stroke-width="1"/>
<circle cx="1591.18" cy="886.04" r="3" fill="#0000ff" stroke="#0000ff" stroke-width="1"/>
<circle cx="1590.32" cy="897.66" r="3" fill="#0000ff" stroke="#0000ff" stroke-width="1"/>
<circle cx="1584.35" cy="849.83" r="3" fill="#0000ff" stroke="#0000ff" stroke-width="1"/>
<circle cx="1575.46" cy="848.46" r="3" fill="#0000ff" stroke="#0000ff" stroke-width="1"/>
<circle cx="1574.1" cy="857.17" r="3" fill="#0000ff" stroke="#0000ff" stroke-width="1"/>
<circle cx="1584.35" cy="849.83" r="3" fill="#0000ff" stroke="#0000ff" stroke-width="1"/>
<circle cx="1597.5" cy="873.4" r="3" fill="#0000ff" stroke="#0000ff" stroke-width="1"/>
<circle cx="1541.64" cy="792.6" r="3" fill="#0000ff" stroke="#0000ff" stroke-width="1"/>
<circle cx="1564.7" cy="817.71" r="3" fill="#0000ff" stroke="#0000ff" stroke-width="1"/>
<circle cx="1562.99" cy="820.79" r="3" fill="#0000ff" stroke="#0000ff" stroke-width="1"/>
<circle cx="1572.39" cy="837.53" r="3" fill="#0000ff" stroke="#0000ff" stroke-width="1"/>
<circle cx="1562.14" cy="846.75" r="3" fill="#0000ff" stroke="#0000ff" stroke-width="1"/>
<circle cx="1588.62" cy="882.28" r="3" fill="#0000ff" stroke="#0000ff" stroke-width="1"/>
<circle cx="1591.18" cy="886.04" r="3" fill="#0000ff" stroke="#0000ff" stroke-width="1"/>
<circle cx="1592.03" cy="844.7" r="3" fill="#0000ff" stroke="#0000ff" stroke-width="1"/>
<circle cx="1608.26" cy="819.42" r="3" fill="#0000ff" stroke="#0000ff" stroke-width="1"/>
<circle cx="1522.85" cy="853.24" r="3" fill="#0000ff" stroke="#0000ff" stroke-width="1"/>
<circle cx="1519.09" cy="862.13" r="3" fill="#0000ff" stroke="#0000ff" stroke-width="1"/>
<circle cx="1525.41" cy="855.8" r="3" fill="#0000ff" stroke="#0000ff" stroke-width="1"/>
<circle cx="1528.83" cy="863.49" r="3" fill="#0000ff" stroke="#0000ff" stroke-width="1"/>
<circle cx="1533.44" cy="870.32" r="3" fill="#0000ff" stroke="#0000ff" stroke-width="1"/>
<circle cx="1544.2" cy="857.17" r="3" fill="#0000ff" stroke="#0000ff" stroke-width="1"/>
<circle cx="1548.47" cy="862.64" r="3" fill="#0000ff" stroke="#0000ff" stroke-width="1"/>
<circle cx="1558.21" cy="884.84" r="3" fill="#0000ff" stroke="#0000ff" stroke-width="1"/>
<circle cx="1562.48" cy="873.4" r="3" fill="#0000ff" stroke="#0000ff" stroke-width="1"/>
<circle cx="1569.48" cy="893.73" r="3" fill="#0000ff" stroke="#0000ff" stroke-width="1"/>
<circle cx="1579.56" cy="902.44" r="3" fill="#0000ff" stroke="#0000ff" stroke-width="1"/>
<circle cx="1581.27" cy="949.54" r="3" fill="#0000ff" stroke="#0000ff" stroke-width="1"/>
<circle cx="1584.35" cy="957.23" r="3" fill="#0000ff" stroke="#0000ff" stroke-width="1"/>
<circle cx="1583.15" cy="960.64" r="3" fill="#0000ff" stroke="#0000ff" stroke-width="1"/>
<circle cx="1588.62" cy="998.22" r="3" fill="#0000ff" stroke="#0000ff" stroke-width="1"/>
<circle cx="1566.41" cy="1026.41" r="3" fill="#0000ff" stroke="#0000ff" stroke-width="1"/>
<circle cx="1577.51" cy="1029.83" r="3" fill="#0000ff" stroke="#0000ff" stroke-width="1"/>
<circle cx="1577.51" cy="1025.56" r="3" fill="#0000ff" stroke="#0000ff" stroke-width="1"/>
<circle cx="1612.53" cy="964.06" r="3" fill="#0000ff" stroke="#0000ff" stroke-width="1"/>
<circle cx="1613.39" cy="959.79" r="3" fill="#0000ff" stroke="#0000ff" stroke-width="1"/>
<circle cx="1584.35" cy="987.46" r="3" fill="#0000ff" stroke="#0000ff" stroke-width="1"/>
<circle cx="1586.05" cy="941.51" r="3" fill="#0000ff" stroke="#0000ff" stroke-width="1"/>
<circle cx="1588.27" cy="935.87" r="3" fill="#0000ff" stroke="#0000ff" stroke-width="1"/>
<circle cx="1593.4" cy="934.16" r="3" fill="#0000ff" stroke="#0000ff" stroke-width="1"/>
<circle cx="1597.16" cy="935.02" r="3" fill="#0000ff" stroke="#0000ff" stroke-width="1"/>
<circle cx="1567.26" cy="1019.58" r="3" fill="#0000ff" stroke="#0000ff" stroke-width="1"/>
<circle cx="1559.58" cy="1029.31" r="3" fill="#0000ff" stroke="#0000ff" stroke-width="1"/>
<circle cx="1547.28" cy="1037.17" r="3" fill="#0000ff" stroke="#0000ff" stroke-width="1"/>
<circle cx="1501.5" cy="1098.5" r="3" fill="#0000ff" stroke="#0000ff" stroke-width="1"/>
<circle cx="1510.55" cy="1046.4" r="3" fill="#0000ff" stroke="#0000ff" stroke-width="1"/>
<circle cx="1614.24" cy="946.98" r="3" fill="#0000ff" stroke="#0000ff" stroke-width="1"/>
<circle cx="1615.95" cy="950.73" r="3" fill="#0000ff" stroke="#0000ff" stroke-width="1"/>
<circle cx="1609.97" cy="933.31" r="3" fill="#0000ff" stroke="#0000ff" stroke-width="1"/>
<circle cx="1603.99" cy="935.87" r="3" fill="#0000ff" stroke="#0000ff" stroke-width="1"/>
<circle cx="1601.43" cy="928.19" r="3" fill="#0000ff" stroke="#0000ff" stroke-width="1"/>
<circle cx="1606.55" cy="936.73" r="3" fill="#0000ff" stroke="#0000ff" stroke-width="1"/>
<circle cx="1598.87" cy="975.16" r="3" fill="#0000ff" stroke="#0000ff" stroke-width="1"/>
<circle cx="1601.43" cy="970.04" r="3" fill="#0000ff" stroke="#0000ff" stroke-width="1"/>
</g>
<rect x="1229" y="662.4" width="454" height="454" fill="none" stroke="#000" stroke-width="2.05"/>
<line x1="1297.5" y1="1116.4" x2="1297.5" y2="1108.4" stroke="#000" stroke-width="1"/>
<line x1="1297.5" y1="662.4" x2="1297.5" y2="670.4" stroke="#000" stroke-width="1"/>
<line x1="1388.5" y1="1116.4" x2="1388.5" y2="1108.4" stroke="#000" stroke-width="1"/>
<line x1="1388.5" y1="662.4" x2="1388.5" y2="670.4" stroke="#000" stroke-width="1"/>
<line x1="1478.5" y1="1116.4" x2="1478.5" y2="1108.4" stroke="#000" stroke-width="1"/>
<line x1="1478.5" y1="662.4" x2="1478.5" y2="670.4" stroke="#000" stroke-width="1"/>
<line x1="1569.5" y1="1116.4" x2="1569.5" y2="1108.4" stroke="#000" stroke-width="1"/>
<line x1="1569.5" y1="662.4" x2="1569.5" y2="670.4" stroke="#000" stroke-width="1"/>
<line x1="1660.5" y1="1116.4" x2="1660.5" y2="1108.4" stroke="#000" stroke-width="1"/>
<line x1="1660.5" y1="662.4" x2="1660.5" y2="670.4" stroke="#000" stroke-width="1"/>
<line x1="1229" y1="1115.5" x2="1237" y2="1115.5" stroke="#000" stroke-width="1"/>
<line x1="1683" y1="1115.5" x2="1675" y2="1115.5" stroke="#000" stroke-width="1"/>
<line x1="1229" y1="1025.5" x2="1237" y2="1025.5" stroke="#000" stroke-width="1"/>
<line x1="1683" y1="1025.5" x2="1675" y2="1025.5" stroke="#000" stroke-width="1"/>
<line x1="1229" y1="934.5" x2="1237" y2="934.5" stroke="#000" stroke-width="1"/>
<line x1="1683" y1="934.5" x2="1675" y2="934.5" stroke="#000" stroke-width="1"/>
<line x1="1229" y1="844.5" x2="1237" y2="844.5" stroke="#000" stroke-width="1"/>
<line x1="1683" y1="844.5" x2="1675" y2="844.5" stroke="#000" stroke-width="1"/>
<line x1="1229" y1="753.5" x2="1237" y2="753.5" stroke="#000" stroke-width="1"/>
<line x1="1683" y1="753.5" x2="1675" y2="753.5" stroke="#000" stroke-width="1"/>
<line x1="1229" y1="662.5" x2="1237" y2="662.5" stroke="#000" stroke-width="1"/>
<line x1="1683" y1="662.5" x2="1675" y2="662.5" stroke="#000" stroke-width="1"/>
<g shape-rendering="crispEdges">
<path fill="#1cffdb" d="M570.18,1881.93H582.71V1888.53H570.18Z"/>
<path fill="#29ffce" d="M350.1,1875.63H362.63V1882.23H350.1ZM680.22,1894.53H692.75V1901.13H680.22ZM1303.78,1888.23H1316.3V1894.83H1303.78Z"/>
<path fill="#36ffc0" d="M509.05,1938.63H521.58V1945.23H509.05ZM557.96,1888.23H570.48V1894.83H557.96ZM753.58,1900.83H766.11V1907.43H753.58ZM1389.36,1875.63H1401.89V1882.23H1389.36ZM1621.67,1875.63H1634.19V1882.23H1621.67ZM1633.89,1944.93H1646.42V1951.53H1633.89Z"/>
<path fill="#43ffb3" d="M252.29,1900.83H264.82V1907.43H252.29ZM423.46,1944.93H435.99V1951.53H423.46ZM765.81,1900.83H778.33V1907.43H765.81ZM839.17,1976.43H851.69V1983.03H839.17ZM1328.23,1894.53H1340.76V1901.13H1328.23Z"/>
<path fill="#4affad" d="M313.43,1875.63H325.95V1882.23H313.43Z"/>
<path fill="#51ffa6" d="M337.88,1875.63H350.4V1882.23H337.88ZM447.92,1944.93H460.44V1951.53H447.92ZM826.94,1938.63H839.47V1945.23H826.94Z"/>
<path fill="#57ffa0" d="M472.37,1875.63H484.9V1882.23H472.37Z"/>
<path fill="#64ff92" d="M362.33,1875.63H374.86V1882.23H362.33ZM484.6,1875.63H497.12V1882.23H484.6ZM826.94,1944.93H839.47V1951.53H826.94ZM1438.27,1875.63H1450.8V1882.23H1438.27ZM1450.5,1875.63H1463.02V1882.23H1450.5ZM1450.5,1894.53H1463.02V1901.13H1450.5ZM704.67,1970.13H717.2V1976.73H704.67Z"/>
<path fill="#6bff8c" d="M240.07,1881.93H252.59V1888.53H240.07ZM276.75,1881.93H289.27V1888.53H276.75ZM313.43,1881.93H325.95V1888.53H313.43ZM1633.89,1875.63H1646.42V1882.23H1633.89Z"/>
<path fill="#72ff85" d="M252.29,1875.63H264.82V1882.23H252.29ZM399.01,1875.63H411.54V1882.23H399.01ZM1646.12,1881.93H1658.65V1888.53H1646.12Z"/>
<path fill="#78ff7f" d="M227.84,1875.63H240.37V1882.23H227.84ZM240.07,1875.63H252.59V1882.23H240.07ZM276.75,1875.63H289.27V1882.23H276.75ZM301.2,1881.93H313.73V1888.53H301.2ZM435.69,1875.63H448.22V1882.23H435.69ZM447.92,1875.63H460.44V1882.23H447.92ZM447.92,1881.93H460.44V1888.53H447.92ZM460.14,1875.63H472.67V1882.23H460.14ZM472.37,1881.93H484.9V1888.53H472.37ZM557.96,1875.63H570.48V1882.23H557.96ZM1536.08,1881.93H1548.61V1888.53H1536.08ZM778.03,1970.13H790.56V1976.73H778.03ZM117.8,1888.23H130.33V1894.83H117.8Z"/>
<path fill="#7fff78" d="M252.29,1881.93H264.82V1888.53H252.29ZM264.52,1875.63H277.05V1882.23H264.52ZM276.75,1888.23H289.27V1894.83H276.75ZM288.97,1875.63H301.5V1882.23H288.97ZM325.65,1875.63H338.18V1882.23H325.65ZM386.78,1875.63H399.31V1882.23H386.78ZM411.24,1875.63H423.76V1882.23H411.24ZM411.24,1888.23H423.76V1894.83H411.24ZM423.46,1875.63H435.99V1882.23H423.46ZM484.6,1881.93H497.12V1888.53H484.6ZM594.64,1875.63H607.16V1882.23H594.64ZM839.17,1875.63H851.69V1882.23H839.17ZM961.43,1875.63H973.96V1882.23H961.43ZM1242.64,1881.93H1255.17V1888.53H1242.64ZM1316,1888.23H1328.53V1894.83H1316ZM1487.17,1888.23H1499.7V1894.83H1487.17ZM1548.31,1881.93H1560.83V1888.53H1548.31ZM1560.53,1888.23H1573.06V1894.83H1560.53ZM1609.44,1881.93H1621.97V1888.53H1609.44Z"/>
<path fill="#85ff72" d="M203.39,1875.63H215.91V1882.23H203.39ZM264.52,1888.23H277.05V1894.83H264.52ZM301.2,1875.63H313.73V1882.23H301.2ZM374.56,1875.63H387.08V1882.23H374.56ZM509.05,1944.93H521.58V1951.53H509.05ZM521.28,1938.63H533.8V1945.23H521.28ZM533.5,1976.43H546.03V1983.03H533.5ZM753.58,1881.93H766.11V1888.53H753.58ZM826.94,1976.43H839.47V1983.03H826.94ZM875.85,1881.93H888.37V1888.53H875.85ZM888.07,1938.63H900.6V1945.23H888.07ZM900.3,1875.63H912.83V1882.23H900.3ZM924.75,1888.23H937.28V1894.83H924.75ZM1022.57,1881.93H1035.09V1888.53H1022.57ZM1047.02,1875.63H1059.55V1882.23H1047.02ZM1083.7,1875.63H1096.22V1882.23H1083.7ZM1095.92,1875.63H1108.45V1882.23H1095.92ZM1108.15,1888.23H1120.68V1894.83H1108.15ZM1328.23,1881.93H1340.76V1888.53H1328.23ZM1450.5,1881.93H1463.02V1888.53H1450.5ZM1462.72,1875.63H1475.25V1882.23H1462.72ZM1597.21,1894.53H1609.74V1901.13H1597.21ZM1658.35,1875.63H1670.87V1882.23H1658.35Z"/>
<path fill="#8cff6b" d="M191.16,1875.63H203.69V1882.23H191.16ZM252.29,1888.23H264.82V1894.83H252.29ZM264.52,1894.53H277.05V1901.13H264.52ZM325.65,1894.53H338.18V1901.13H325.65ZM337.88,1894.53H350.4V1901.13H337.88ZM521.28,1881.93H533.8V1888.53H521.28ZM570.18,1976.43H582.71V1983.03H570.18ZM582.41,1881.93H594.94V1888.53H582.41ZM594.64,1976.43H607.16V1983.03H594.64ZM606.86,1881.93H619.39V1888.53H606.86ZM680.22,1913.43H692.75V1920.03H680.22ZM814.71,1919.73H827.24V1926.33H814.71ZM888.07,1881.93H900.6V1888.53H888.07ZM912.53,1875.63H925.05V1882.23H912.53ZM961.43,1888.23H973.96V1894.83H961.43ZM973.66,1888.23H986.19V1894.83H973.66ZM1022.57,1919.73H1035.09V1926.33H1022.57ZM1047.02,1900.83H1059.55V1907.43H1047.02ZM1108.15,1894.53H1120.68V1901.13H1108.15ZM1132.6,1894.53H1145.13V1901.13H1132.6ZM1181.51,1894.53H1194.04V1901.13H1181.51ZM1316,1875.63H1328.53V1882.23H1316ZM1548.31,1894.53H1560.83V1901.13H1548.31ZM1560.53,1875.63H1573.06V1882.23H1560.53ZM1646.12,1888.23H1658.65V1894.83H1646.12ZM1670.57,1875.63H1683.1V1882.23H1670.57Z"/>
<path fill="#92ff64" d="M191.16,1894.53H203.69V1901.13H191.16ZM301.2,1894.53H313.73V1901.13H301.2ZM435.69,1894.53H448.22V1901.13H435.69ZM496.82,1894.53H509.35V1901.13H496.82ZM521.28,1951.23H533.8V1957.83H521.28ZM557.96,1938.63H570.48V1945.23H557.96ZM570.18,1894.53H582.71V1901.13H570.18ZM594.64,1932.33H607.16V1938.93H594.64ZM594.64,1970.13H607.16V1976.73H594.64ZM753.58,1894.53H766.11V1901.13H753.58ZM814.71,1982.73H827.24V1989.33H814.71ZM875.85,1944.93H888.37V1951.53H875.85ZM936.98,1881.93H949.51V1888.53H936.98ZM1047.02,1894.53H1059.55V1901.13H1047.02ZM1095.92,1894.53H1108.45V1901.13H1095.92ZM1169.28,1894.53H1181.81V1901.13H1169.28ZM1267.1,1894.53H1279.62V1901.13H1267.1ZM1303.78,1875.63H1316.3V1882.23H1303.78ZM1316,1900.83H1328.53V1907.43H1316ZM1328.23,1875.63H1340.76V1882.23H1328.23ZM1340.46,1875.63H1352.98V1882.23H1340.46ZM1401.59,1894.53H1414.12V1901.13H1401.59ZM1413.82,1875.63H1426.34V1882.23H1413.82ZM1413.82,1900.83H1426.34V1907.43H1413.82ZM1450.5,1888.23H1463.02V1894.83H1450.5ZM1499.4,1875.63H1511.93V1882.23H1499.4ZM1646.12,1926.03H1658.65V1932.63H1646.12Z"/>
<path fill="#99ff5e" d="M191.16,1881.93H203.69V1888.53H191.16ZM191.16,1913.43H203.69V1920.03H191.16ZM227.84,1900.83H240.37V1907.43H227.84ZM337.88,1881.93H350.4V1888.53H337.88ZM350.1,1881.93H362.63V1888.53H350.1ZM350.1,1913.43H362.63V1920.03H350.1ZM374.56,1913.43H387.08V1920.03H374.56ZM447.92,1926.03H460.44V1932.63H447.92ZM484.6,1900.83H497.12V1907.43H484.6ZM496.82,1875.63H509.35V1882.23H496.82ZM496.82,1932.33H509.35V1938.93H496.82ZM533.5,1951.23H546.03V1957.83H533.5ZM582.41,1951.23H594.94V1957.83H582.41ZM606.86,1970.13H619.39V1976.73H606.86ZM619.09,1970.13H631.62V1976.73H619.09ZM692.45,1957.53H704.97V1964.13H692.45ZM814.71,1976.43H827.24V1983.03H814.71ZM1034.79,1881.93H1047.32V1888.53H1034.79ZM1059.25,1913.43H1071.77V1920.03H1059.25ZM1144.83,1938.63H1157.36V1945.23H1144.83ZM1242.64,1913.43H1255.17V1920.03H1242.64ZM1474.95,1894.53H1487.47V1901.13H1474.95ZM1487.17,1875.63H1499.7V1882.23H1487.17ZM1487.17,1932.33H1499.7V1938.93H1487.17ZM1548.31,1875.63H1560.83V1882.23H1548.31Z"/>
<path fill="#a0ff57" d="M117.8,1938.63H130.33V1945.23H117.8ZM203.39,1938.63H215.91V1945.23H203.39ZM215.61,1881.93H228.14V1888.53H215.61ZM264.52,1881.93H277.05V1888.53H264.52ZM288.97,1881.93H301.5V1888.53H288.97ZM399.01,1881.93H411.54V1888.53H399.01ZM423.46,1881.93H435.99V1888.53H423.46ZM423.46,1888.23H435.99V1894.83H423.46ZM423.46,1957.53H435.99V1964.13H423.46ZM460.14,1919.73H472.67V1926.33H460.14ZM496.82,1957.53H509.35V1964.13H496.82ZM509.05,1875.63H521.58V1882.23H509.05ZM570.18,1875.63H582.71V1882.23H570.18ZM570.18,1932.33H582.71V1938.93H570.18ZM570.18,1938.63H582.71V1945.23H570.18ZM570.18,1951.23H582.71V1957.83H570.18ZM570.18,1963.83H582.71V1970.43H570.18ZM594.64,1938.63H607.16V1945.23H594.64ZM606.86,1957.53H619.39V1964.13H606.86ZM655.77,1951.23H668.3V1957.83H655.77ZM668,1951.23H680.52V1957.83H668ZM765.81,1957.53H778.33V1964.13H765.81ZM961.43,1932.33H973.96V1938.93H961.43ZM1059.25,1944.93H1071.77V1951.53H1059.25ZM1218.19,1894.53H1230.72V1901.13H1218.19ZM1291.55,1875.63H1304.08V1882.23H1291.55ZM1401.59,1875.63H1414.12V1882.23H1401.59ZM1426.04,1875.63H1438.57V1882.23H1426.04ZM1450.5,1900.83H1463.02V1907.43H1450.5ZM1450.5,1926.03H1463.02V1932.63H1450.5ZM1462.72,1888.23H1475.25V1894.83H1462.72ZM1572.76,1875.63H1585.29V1882.23H1572.76ZM1584.99,1881.93H1597.51V1888.53H1584.99ZM1646.12,1875.63H1658.65V1882.23H1646.12Z"/>
<path fill="#a6ff51" d="M203.39,1881.93H215.91V1888.53H203.39ZM227.84,1881.93H240.37V1888.53H227.84ZM240.07,1888.23H252.59V1894.83H240.07ZM313.43,1913.43H325.95V1920.03H313.43ZM362.33,1881.93H374.86V1888.53H362.33ZM362.33,1888.23H374.86V1894.83H362.33ZM374.56,1881.93H387.08V1888.53H374.56ZM399.01,1888.23H411.54V1894.83H399.01ZM435.69,1881.93H448.22V1888.53H435.69ZM447.92,1957.53H460.44V1964.13H447.92ZM484.6,1976.43H497.12V1983.03H484.6ZM509.05,1932.33H521.58V1938.93H509.05ZM533.5,1944.93H546.03V1951.53H533.5ZM533.5,1957.53H546.03V1964.13H533.5ZM533.5,1970.13H546.03V1976.73H533.5ZM668,1963.83H680.52V1970.43H668ZM692.45,1963.83H704.97V1970.43H692.45ZM704.67,1957.53H717.2V1964.13H704.67ZM753.58,1888.23H766.11V1894.83H753.58ZM790.26,1926.03H802.79V1932.63H790.26ZM826.94,1963.83H839.47V1970.43H826.94ZM826.94,1982.73H839.47V1989.33H826.94ZM851.39,1951.23H863.92V1957.83H851.39ZM863.62,1963.83H876.15V1970.43H863.62ZM863.62,1982.73H876.15V1989.33H863.62ZM949.21,1989.03H961.73V1995.63H949.21ZM1047.02,1932.33H1059.55V1938.93H1047.02ZM1059.25,1932.33H1071.77V1938.93H1059.25ZM1071.47,1951.23H1084V1957.83H1071.47ZM1230.42,1970.13H1242.94V1976.73H1230.42ZM1254.87,1875.63H1267.4V1882.23H1254.87ZM1340.46,1888.23H1352.98V1894.83H1340.46ZM1377.14,1951.23H1389.66V1957.83H1377.14ZM1450.5,1944.93H1463.02V1951.53H1450.5ZM1462.72,1881.93H1475.25V1888.53H1462.72ZM1609.44,1913.43H1621.97V1920.03H1609.44ZM1621.67,1894.53H1634.19V1901.13H1621.67ZM1670.57,1881.93H1683.1V1888.53H1670.57ZM1670.57,1932.33H1683.1V1938.93H1670.57Z"/>
<path fill="#adff4a" d="M191.16,1888.23H203.69V1894.83H191.16ZM203.39,1888.23H215.91V1894.83H203.39ZM288.97,1888.23H301.5V1894.83H288.97ZM301.2,1888.23H313.73V1894.83H301.2ZM313.43,1888.23H325.95V1894.83H313.43ZM325.65,1881.93H338.18V1888.53H325.65ZM325.65,1888.23H338.18V1894.83H325.65ZM374.56,1888.23H387.08V1894.83H374.56ZM386.78,1881.93H399.31V1888.53H386.78ZM386.78,1888.23H399.31V1894.83H386.78ZM472.37,1888.23H484.9V1894.83H472.37ZM484.6,1888.23H497.12V1894.83H484.6ZM521.28,1875.63H533.8V1882.23H521.28ZM521.28,1944.93H533.8V1951.53H521.28ZM545.73,1938.63H558.26V1945.23H545.73ZM582.41,1875.63H594.94V1882.23H582.41ZM582.41,1938.63H594.94V1945.23H582.41ZM582.41,1963.83H594.94V1970.43H582.41ZM582.41,1976.43H594.94V1983.03H582.41ZM606.86,1875.63H619.39V1882.23H606.86ZM606.86,1888.23H619.39V1894.83H606.86ZM606.86,1976.43H619.39V1983.03H606.86ZM619.09,1900.83H631.62V1907.43H619.09ZM619.09,1976.43H631.62V1983.03H619.09ZM643.54,1888.23H656.07V1894.83H643.54ZM655.77,1944.93H668.3V1951.53H655.77ZM668,1932.33H680.52V1938.93H668ZM668,1970.13H680.52V1976.73H668ZM680.22,1963.83H692.75V1970.43H680.22ZM753.58,1963.83H766.11V1970.43H753.58ZM814.71,1938.63H827.24V1945.23H814.71ZM826.94,1888.23H839.47V1894.83H826.94ZM875.85,1951.23H888.37V1957.83H875.85ZM875.85,1970.13H888.37V1976.73H875.85ZM900.3,1932.33H912.83V1938.93H900.3ZM924.75,1875.63H937.28V1882.23H924.75ZM936.98,1970.13H949.51V1976.73H936.98ZM949.21,1957.53H961.73V1964.13H949.21ZM973.66,1932.33H986.19V1938.93H973.66ZM973.66,1963.83H986.19V1970.43H973.66ZM985.89,1888.23H998.41V1894.83H985.89ZM1071.47,1932.33H1084V1938.93H1071.47ZM1071.47,1963.83H1084V1970.43H1071.47ZM1108.15,1875.63H1120.68V1882.23H1108.15ZM1108.15,1970.13H1120.68V1976.73H1108.15ZM1132.6,1875.63H1145.13V1882.23H1132.6ZM1169.28,1888.23H1181.81V1894.83H1169.28ZM1205.96,1875.63H1218.49V1882.23H1205.96ZM1230.42,1875.63H1242.94V1882.23H1230.42ZM1242.64,1875.63H1255.17V1882.23H1242.64ZM1267.1,1875.63H1279.62V1882.23H1267.1ZM1279.32,1875.63H1291.85V1882.23H1279.32ZM1291.55,1881.93H1304.08V1888.53H1291.55ZM1291.55,1970.13H1304.08V1976.73H1291.55ZM1389.36,1951.23H1401.89V1957.83H1389.36ZM1438.27,1881.93H1450.8V1888.53H1438.27ZM1450.5,1919.73H1463.02V1926.33H1450.5ZM1450.5,1932.33H1463.02V1938.93H1450.5ZM1450.5,1938.63H1463.02V1945.23H1450.5ZM1474.95,1881.93H1487.47V1888.53H1474.95ZM1474.95,1888.23H1487.47V1894.83H1474.95ZM1511.63,1881.93H1524.15V1888.53H1511.63ZM1511.63,1888.23H1524.15V1894.83H1511.63ZM1511.63,1963.83H1524.15V1970.43H1511.63ZM1523.85,1881.93H1536.38V1888.53H1523.85ZM1523.85,1888.23H1536.38V1894.83H1523.85ZM1536.08,1944.93H1548.61V1951.53H1536.08ZM1560.53,1881.93H1573.06V1888.53H1560.53ZM1658.35,1881.93H1670.87V1888.53H1658.35Z"/>
<path fill="#b3ff43" d="M227.84,1888.23H240.37V1894.83H227.84ZM337.88,1888.23H350.4V1894.83H337.88ZM350.1,1888.23H362.63V1894.83H350.1ZM435.69,1888.23H448.22V1894.83H435.69ZM460.14,1881.93H472.67V1888.53H460.14ZM496.82,1881.93H509.35V1888.53H496.82ZM509.05,1881.93H521.58V1888.53H509.05ZM533.5,1875.63H546.03V1882.23H533.5ZM533.5,1982.73H546.03V1989.33H533.5ZM545.73,1875.63H558.26V1882.23H545.73ZM545.73,1900.83H558.26V1907.43H545.73ZM557.96,1976.43H570.48V1983.03H557.96ZM582.41,1900.83H594.94V1907.43H582.41ZM582.41,1944.93H594.94V1951.53H582.41ZM606.86,1951.23H619.39V1957.83H606.86ZM619.09,1875.63H631.62V1882.23H619.09ZM631.32,1875.63H643.84V1882.23H631.32ZM631.32,1888.23H643.84V1894.83H631.32ZM631.32,1963.83H643.84V1970.43H631.32ZM643.54,1900.83H656.07V1907.43H643.54ZM643.54,1963.83H656.07V1970.43H643.54ZM655.77,1875.63H668.3V1882.23H655.77ZM655.77,1888.23H668.3V1894.83H655.77ZM655.77,1976.43H668.3V1983.03H655.77ZM692.45,1881.93H704.97V1888.53H692.45ZM704.67,1875.63H717.2V1882.23H704.67ZM704.67,1881.93H717.2V1888.53H704.67ZM704.67,1900.83H717.2V1907.43H704.67ZM716.9,1875.63H729.43V1882.23H716.9ZM729.13,1888.23H741.65V1894.83H729.13ZM729.13,1913.43H741.65V1920.03H729.13ZM753.58,1875.63H766.11V1882.23H753.58ZM765.81,1875.63H778.33V1882.23H765.81ZM765.81,1881.93H778.33V1888.53H765.81ZM765.81,1888.23H778.33V1894.83H765.81ZM778.03,1881.93H790.56V1888.53H778.03ZM778.03,1888.23H790.56V1894.83H778.03ZM778.03,1894.53H790.56V1901.13H778.03ZM778.03,1963.83H790.56V1970.43H778.03ZM790.26,1875.63H802.79V1882.23H790.26ZM802.49,1875.63H815.01V1882.23H802.49ZM814.71,1881.93H827.24V1888.53H814.71ZM814.71,1888.23H827.24V1894.83H814.71ZM814.71,1900.83H827.24V1907.43H814.71ZM814.71,1944.93H827.24V1951.53H814.71ZM814.71,2007.93H827.24V2014.53H814.71ZM826.94,1875.63H839.47V1882.23H826.94ZM839.17,1888.23H851.69V1894.83H839.17ZM839.17,1900.83H851.69V1907.43H839.17ZM851.39,1888.23H863.92V1894.83H851.39ZM863.62,1938.63H876.15V1945.23H863.62ZM888.07,1875.63H900.6V1882.23H888.07ZM888.07,1888.23H900.6V1894.83H888.07ZM888.07,1976.43H900.6V1983.03H888.07ZM924.75,1881.93H937.28V1888.53H924.75ZM949.21,1888.23H961.73V1894.83H949.21ZM973.66,1881.93H986.19V1888.53H973.66ZM973.66,1976.43H986.19V1983.03H973.66ZM985.89,1875.63H998.41V1882.23H985.89ZM998.11,1900.83H1010.64V1907.43H998.11ZM1010.34,1888.23H1022.87V1894.83H1010.34ZM1010.34,1900.83H1022.87V1907.43H1010.34ZM1010.34,1951.23H1022.87V1957.83H1010.34ZM1022.57,1875.63H1035.09V1882.23H1022.57ZM1034.79,1888.23H1047.32V1894.83H1034.79ZM1047.02,1970.13H1059.55V1976.73H1047.02ZM1059.25,1900.83H1071.77V1907.43H1059.25ZM1071.47,1875.63H1084V1882.23H1071.47ZM1071.47,1907.13H1084V1913.73H1071.47ZM1083.7,1888.23H1096.22V1894.83H1083.7ZM1083.7,1894.53H1096.22V1901.13H1083.7ZM1083.7,1951.23H1096.22V1957.83H1083.7ZM1095.92,1957.53H1108.45V1964.13H1095.92ZM1120.38,1881.93H1132.9V1888.53H1120.38ZM1120.38,1888.23H1132.9V1894.83H1120.38ZM1120.38,1970.13H1132.9V1976.73H1120.38ZM1132.6,1888.23H1145.13V1894.83H1132.6ZM1132.6,1900.83H1145.13V1907.43H1132.6ZM1132.6,1970.13H1145.13V1976.73H1132.6ZM1157.06,1875.63H1169.58V1882.23H1157.06ZM1169.28,1875.63H1181.81V1882.23H1169.28ZM1218.19,1970.13H1230.72V1976.73H1218.19ZM1303.78,1881.93H1316.3V1888.53H1303.78ZM1303.78,1963.83H1316.3V1970.43H1303.78ZM1352.68,1881.93H1365.21V1888.53H1352.68ZM1364.91,1881.93H1377.44V1888.53H1364.91ZM1364.91,1888.23H1377.44V1894.83H1364.91ZM1377.14,1888.23H1389.66V1894.83H1377.14ZM1413.82,1881.93H1426.34V1888.53H1413.82ZM1426.04,1881.93H1438.57V1888.53H1426.04ZM1438.27,1957.53H1450.8V1964.13H1438.27ZM1450.5,1951.23H1463.02V1957.83H1450.5ZM1487.17,1881.93H1499.7V1888.53H1487.17ZM1499.4,1881.93H1511.93V1888.53H1499.4ZM1536.08,1888.23H1548.61V1894.83H1536.08ZM1584.99,1888.23H1597.51V1894.83H1584.99ZM1584.99,1894.53H1597.51V1901.13H1584.99ZM1597.21,1881.93H1609.74V1888.53H1597.21ZM1597.21,1888.23H1609.74V1894.83H1597.21ZM1621.67,1881.93H1634.19V1888.53H1621.67ZM1621.67,1888.23H1634.19V1894.83H1621.67ZM1633.89,1881.93H1646.42V1888.53H1633.89ZM1658.35,1888.23H1670.87V1894.83H1658.35Z"/>
<path fill="#baff3d" d="M215.61,1888.23H228.14V1894.83H215.61ZM240.07,1894.53H252.59V1901.13H240.07ZM301.2,2007.93H313.73V2014.53H301.2ZM313.43,1900.83H325.95V1907.43H313.43ZM411.24,1900.83H423.76V1907.43H411.24ZM496.82,1900.83H509.35V1907.43H496.82ZM496.82,1938.63H509.35V1945.23H496.82ZM509.05,1888.23H521.58V1894.83H509.05ZM509.05,1894.53H521.58V1901.13H509.05ZM521.28,1900.83H533.8V1907.43H521.28ZM521.28,1976.43H533.8V1983.03H521.28ZM533.5,1888.23H546.03V1894.83H533.5ZM533.5,1938.63H546.03V1945.23H533.5ZM545.73,1888.23H558.26V1894.83H545.73ZM545.73,1894.53H558.26V1901.13H545.73ZM557.96,1900.83H570.48V1907.43H557.96ZM557.96,1907.13H570.48V1913.73H557.96ZM557.96,1932.33H570.48V1938.93H557.96ZM582.41,1888.23H594.94V1894.83H582.41ZM582.41,1932.33H594.94V1938.93H582.41ZM594.64,1900.83H607.16V1907.43H594.64ZM594.64,1951.23H607.16V1957.83H594.64ZM606.86,1900.83H619.39V1907.43H606.86ZM619.09,1881.93H631.62V1888.53H619.09ZM619.09,1888.23H631.62V1894.83H619.09ZM619.09,1894.53H631.62V1901.13H619.09ZM619.09,1907.13H631.62V1913.73H619.09ZM643.54,1875.63H656.07V1882.23H643.54ZM655.77,1881.93H668.3V1888.53H655.77ZM655.77,1900.83H668.3V1907.43H655.77ZM655.77,1907.13H668.3V1913.73H655.77ZM655.77,1970.13H668.3V1976.73H655.77ZM655.77,1982.73H668.3V1989.33H655.77ZM668,1875.63H680.52V1882.23H668ZM668,1888.23H680.52V1894.83H668ZM668,1894.53H680.52V1901.13H668ZM680.22,1875.63H692.75V1882.23H680.22ZM680.22,1881.93H692.75V1888.53H680.22ZM680.22,1888.23H692.75V1894.83H680.22ZM692.45,1875.63H704.97V1882.23H692.45ZM692.45,1888.23H704.97V1894.83H692.45ZM692.45,1900.83H704.97V1907.43H692.45ZM704.67,1888.23H717.2V1894.83H704.67ZM716.9,1881.93H729.43V1888.53H716.9ZM716.9,1888.23H729.43V1894.83H716.9ZM729.13,1875.63H741.65V1882.23H729.13ZM741.35,1875.63H753.88V1882.23H741.35ZM741.35,1888.23H753.88V1894.83H741.35ZM778.03,1875.63H790.56V1882.23H778.03ZM778.03,1900.83H790.56V1907.43H778.03ZM790.26,1881.93H802.79V1888.53H790.26ZM790.26,1888.23H802.79V1894.83H790.26ZM790.26,1900.83H802.79V1907.43H790.26ZM802.49,1881.93H815.01V1888.53H802.49ZM802.49,1888.23H815.01V1894.83H802.49ZM814.71,1894.53H827.24V1901.13H814.71ZM826.94,1881.93H839.47V1888.53H826.94ZM839.17,1881.93H851.69V1888.53H839.17ZM851.39,1875.63H863.92V1882.23H851.39ZM851.39,1894.53H863.92V1901.13H851.39ZM863.62,1881.93H876.15V1888.53H863.62ZM863.62,1888.23H876.15V1894.83H863.62ZM863.62,1900.83H876.15V1907.43H863.62ZM863.62,1907.13H876.15V1913.73H863.62ZM863.62,1976.43H876.15V1983.03H863.62ZM875.85,1900.83H888.37V1907.43H875.85ZM875.85,1938.63H888.37V1945.23H875.85ZM875.85,2001.63H888.37V2008.23H875.85ZM888.07,1900.83H900.6V1907.43H888.07ZM888.07,1932.33H900.6V1938.93H888.07ZM900.3,1894.53H912.83V1901.13H900.3ZM900.3,1957.53H912.83V1964.13H900.3ZM900.3,1963.83H912.83V1970.43H900.3ZM912.53,1900.83H925.05V1907.43H912.53ZM924.75,1970.13H937.28V1976.73H924.75ZM936.98,1957.53H949.51V1964.13H936.98ZM949.21,1875.63H961.73V1882.23H949.21ZM949.21,1894.53H961.73V1901.13H949.21ZM949.21,1900.83H961.73V1907.43H949.21ZM961.43,1951.23H973.96V1957.83H961.43ZM973.66,1875.63H986.19V1882.23H973.66ZM973.66,1894.53H986.19V1901.13H973.66ZM973.66,1900.83H986.19V1907.43H973.66ZM973.66,1970.13H986.19V1976.73H973.66ZM985.89,1900.83H998.41V1907.43H985.89ZM985.89,1907.13H998.41V1913.73H985.89ZM998.11,1875.63H1010.64V1882.23H998.11ZM1022.57,1888.23H1035.09V1894.83H1022.57ZM1022.57,1900.83H1035.09V1907.43H1022.57ZM1034.79,1900.83H1047.32V1907.43H1034.79ZM1047.02,1888.23H1059.55V1894.83H1047.02ZM1047.02,1938.63H1059.55V1945.23H1047.02ZM1059.25,1875.63H1071.77V1882.23H1059.25ZM1059.25,1881.93H1071.77V1888.53H1059.25ZM1059.25,1888.23H1071.77V1894.83H1059.25ZM1059.25,1976.43H1071.77V1983.03H1059.25ZM1071.47,1888.23H1084V1894.83H1071.47ZM1071.47,1900.83H1084V1907.43H1071.47ZM1071.47,1970.13H1084V1976.73H1071.47ZM1083.7,1907.13H1096.22V1913.73H1083.7ZM1083.7,1963.83H1096.22V1970.43H1083.7ZM1095.92,1881.93H1108.45V1888.53H1095.92ZM1095.92,1888.23H1108.45V1894.83H1095.92ZM1095.92,1900.83H1108.45V1907.43H1095.92ZM1095.92,1970.13H1108.45V1976.73H1095.92ZM1108.15,1900.83H1120.68V1907.43H1108.15ZM1132.6,1881.93H1145.13V1888.53H1132.6ZM1144.83,1888.23H1157.36V1894.83H1144.83ZM1144.83,1900.83H1157.36V1907.43H1144.83ZM1157.06,1894.53H1169.58V1901.13H1157.06ZM1169.28,1881.93H1181.81V1888.53H1169.28ZM1169.28,1900.83H1181.81V1907.43H1169.28ZM1181.51,1875.63H1194.04V1882.23H1181.51ZM1193.74,1875.63H1206.26V1882.23H1193.74ZM1193.74,1881.93H1206.26V1888.53H1193.74ZM1193.74,1894.53H1206.26V1901.13H1193.74ZM1193.74,1900.83H1206.26V1907.43H1193.74ZM1193.74,1907.13H1206.26V1913.73H1193.74ZM1218.19,1900.83H1230.72V1907.43H1218.19ZM1230.42,1894.53H1242.94V1901.13H1230.42ZM1242.64,1900.83H1255.17V1907.43H1242.64ZM1254.87,1881.93H1267.4V1888.53H1254.87ZM1279.32,1881.93H1291.85V1888.53H1279.32ZM1316,1881.93H1328.53V1888.53H1316ZM1328.23,1888.23H1340.76V1894.83H1328.23ZM1340.46,1881.93H1352.98V1888.53H1340.46ZM1352.68,1888.23H1365.21V1894.83H1352.68ZM1377.14,1881.93H1389.66V1888.53H1377.14ZM1389.36,1881.93H1401.89V1888.53H1389.36ZM1401.59,1881.93H1414.12V1888.53H1401.59ZM1401.59,1888.23H1414.12V1894.83H1401.59ZM1413.82,1888.23H1426.34V1894.83H1413.82ZM1450.5,1907.13H1463.02V1913.73H1450.5ZM1450.5,1913.43H1463.02V1920.03H1450.5ZM1450.5,1976.43H1463.02V1983.03H1450.5ZM1462.72,1894.53H1475.25V1901.13H1462.72ZM1462.72,1907.13H1475.25V1913.73H1462.72ZM1462.72,1932.33H1475.25V1938.93H1462.72ZM1499.4,1888.23H1511.93V1894.83H1499.4ZM1536.08,1894.53H1548.61V1901.13H1536.08ZM1572.76,1881.93H1585.29V1888.53H1572.76ZM1633.89,1888.23H1646.42V1894.83H1633.89ZM1646.12,1951.23H1658.65V1957.83H1646.12ZM1670.57,1888.23H1683.1V1894.83H1670.57Z"/>
<path fill="#c0ff36" d="M191.16,1900.83H203.69V1907.43H191.16ZM191.16,1907.13H203.69V1913.73H191.16ZM203.39,1900.83H215.91V1907.43H203.39ZM215.61,1900.83H228.14V1907.43H215.61ZM227.84,1894.53H240.37V1901.13H227.84ZM252.29,1894.53H264.82V1901.13H252.29ZM252.29,1913.43H264.82V1920.03H252.29ZM301.2,1900.83H313.73V1907.43H301.2ZM301.2,1907.13H313.73V1913.73H301.2ZM313.43,1907.13H325.95V1913.73H313.43ZM325.65,1900.83H338.18V1907.43H325.65ZM337.88,1900.83H350.4V1907.43H337.88ZM362.33,1900.83H374.86V1907.43H362.33ZM386.78,1900.83H399.31V1907.43H386.78ZM399.01,1894.53H411.54V1901.13H399.01ZM399.01,1900.83H411.54V1907.43H399.01ZM399.01,1907.13H411.54V1913.73H399.01ZM435.69,1900.83H448.22V1907.43H435.69ZM484.6,1907.13H497.12V1913.73H484.6ZM484.6,1938.63H497.12V1945.23H484.6ZM496.82,1888.23H509.35V1894.83H496.82ZM496.82,1907.13H509.35V1913.73H496.82ZM496.82,1926.03H509.35V1932.63H496.82ZM521.28,1894.53H533.8V1901.13H521.28ZM521.28,1913.43H533.8V1920.03H521.28ZM533.5,1881.93H546.03V1888.53H533.5ZM533.5,1894.53H546.03V1901.13H533.5ZM545.73,1907.13H558.26V1913.73H545.73ZM545.73,1913.43H558.26V1920.03H545.73ZM570.18,1888.23H582.71V1894.83H570.18ZM570.18,1900.83H582.71V1907.43H570.18ZM570.18,1907.13H582.71V1913.73H570.18ZM570.18,1970.13H582.71V1976.73H570.18ZM582.41,1894.53H594.94V1901.13H582.41ZM582.41,1957.53H594.94V1964.13H582.41ZM582.41,1970.13H594.94V1976.73H582.41ZM594.64,1881.93H607.16V1888.53H594.64ZM594.64,1888.23H607.16V1894.83H594.64ZM606.86,1907.13H619.39V1913.73H606.86ZM606.86,1932.33H619.39V1938.93H606.86ZM631.32,1881.93H643.84V1888.53H631.32ZM631.32,1907.13H643.84V1913.73H631.32ZM631.32,1932.33H643.84V1938.93H631.32ZM631.32,1970.13H643.84V1976.73H631.32ZM643.54,1894.53H656.07V1901.13H643.54ZM643.54,1907.13H656.07V1913.73H643.54ZM643.54,1932.33H656.07V1938.93H643.54ZM655.77,1894.53H668.3V1901.13H655.77ZM655.77,1913.43H668.3V1920.03H655.77ZM655.77,1938.63H668.3V1945.23H655.77ZM655.77,1957.53H668.3V1964.13H655.77ZM668,1881.93H680.52V1888.53H668ZM668,1907.13H680.52V1913.73H668ZM668,1913.43H680.52V1920.03H668ZM680.22,1900.83H692.75V1907.43H680.22ZM716.9,1913.43H729.43V1920.03H716.9ZM716.9,1963.83H729.43V1970.43H716.9ZM729.13,1881.93H741.65V1888.53H729.13ZM729.13,1894.53H741.65V1901.13H729.13ZM729.13,1926.03H741.65V1932.63H729.13ZM741.35,1894.53H753.88V1901.13H741.35ZM765.81,1894.53H778.33V1901.13H765.81ZM765.81,1919.73H778.33V1926.33H765.81ZM802.49,1900.83H815.01V1907.43H802.49ZM814.71,1875.63H827.24V1882.23H814.71ZM814.71,1907.13H827.24V1913.73H814.71ZM814.71,1951.23H827.24V1957.83H814.71ZM826.94,1913.43H839.47V1920.03H826.94ZM839.17,1894.53H851.69V1901.13H839.17ZM839.17,1907.13H851.69V1913.73H839.17ZM839.17,1951.23H851.69V1957.83H839.17ZM851.39,1881.93H863.92V1888.53H851.39ZM851.39,1976.43H863.92V1983.03H851.39ZM863.62,1894.53H876.15V1901.13H863.62ZM863.62,1944.93H876.15V1951.53H863.62ZM863.62,1951.23H876.15V1957.83H863.62ZM863.62,1970.13H876.15V1976.73H863.62ZM875.85,1888.23H888.37V1894.83H875.85ZM875.85,1894.53H888.37V1901.13H875.85ZM875.85,1907.13H888.37V1913.73H875.85ZM875.85,1913.43H888.37V1920.03H875.85ZM888.07,1894.53H900.6V1901.13H888.07ZM888.07,1944.93H900.6V1951.53H888.07ZM900.3,1881.93H912.83V1888.53H900.3ZM900.3,1888.23H912.83V1894.83H900.3ZM900.3,1900.83H912.83V1907.43H900.3ZM900.3,1938.63H912.83V1945.23H900.3ZM912.53,1881.93H925.05V1888.53H912.53ZM912.53,1894.53H925.05V1901.13H912.53ZM924.75,1907.13H937.28V1913.73H924.75ZM936.98,1875.63H949.51V1882.23H936.98ZM936.98,1888.23H949.51V1894.83H936.98ZM936.98,1894.53H949.51V1901.13H936.98ZM936.98,1900.83H949.51V1907.43H936.98ZM949.21,1881.93H961.73V1888.53H949.21ZM961.43,1881.93H973.96V1888.53H961.43ZM961.43,1900.83H973.96V1907.43H961.43ZM973.66,1938.63H986.19V1945.23H973.66ZM985.89,1881.93H998.41V1888.53H985.89ZM985.89,1894.53H998.41V1901.13H985.89ZM998.11,1881.93H1010.64V1888.53H998.11ZM998.11,1888.23H1010.64V1894.83H998.11ZM998.11,1957.53H1010.64V1964.13H998.11ZM1010.34,1875.63H1022.87V1882.23H1010.34ZM1010.34,1913.43H1022.87V1920.03H1010.34ZM1022.57,1894.53H1035.09V1901.13H1022.57ZM1022.57,1907.13H1035.09V1913.73H1022.57ZM1034.79,1951.23H1047.32V1957.83H1034.79ZM1034.79,1976.43H1047.32V1983.03H1034.79ZM1047.02,1907.13H1059.55V1913.73H1047.02ZM1059.25,1894.53H1071.77V1901.13H1059.25ZM1059.25,1938.63H1071.77V1945.23H1059.25ZM1071.47,1894.53H1084V1901.13H1071.47ZM1083.7,1881.93H1096.22V1888.53H1083.7ZM1083.7,1900.83H1096.22V1907.43H1083.7ZM1095.92,1926.03H1108.45V1932.63H1095.92ZM1108.15,1907.13H1120.68V1913.73H1108.15ZM1108.15,1957.53H1120.68V1964.13H1108.15ZM1120.38,1875.63H1132.9V1882.23H1120.38ZM1120.38,1894.53H1132.9V1901.13H1120.38ZM1120.38,1900.83H1132.9V1907.43H1120.38ZM1132.6,1907.13H1145.13V1913.73H1132.6ZM1144.83,1875.63H1157.36V1882.23H1144.83ZM1144.83,1881.93H1157.36V1888.53H1144.83ZM1144.83,1907.13H1157.36V1913.73H1144.83ZM1144.83,1919.73H1157.36V1926.33H1144.83ZM1157.06,1888.23H1169.58V1894.83H1157.06ZM1157.06,1900.83H1169.58V1907.43H1157.06ZM1169.28,1919.73H1181.81V1926.33H1169.28ZM1169.28,1938.63H1181.81V1945.23H1169.28ZM1193.74,1932.33H1206.26V1938.93H1193.74ZM1193.74,1938.63H1206.26V1945.23H1193.74ZM1205.96,1881.93H1218.49V1888.53H1205.96ZM1205.96,1900.83H1218.49V1907.43H1205.96ZM1205.96,1938.63H1218.49V1945.23H1205.96ZM1218.19,1875.63H1230.72V1882.23H1218.19ZM1218.19,1881.93H1230.72V1888.53H1218.19ZM1230.42,1881.93H1242.94V1888.53H1230.42ZM1254.87,1894.53H1267.4V1901.13H1254.87ZM1254.87,1900.83H1267.4V1907.43H1254.87ZM1254.87,1907.13H1267.4V1913.73H1254.87ZM1267.1,1881.93H1279.62V1888.53H1267.1ZM1267.1,1900.83H1279.62V1907.43H1267.1ZM1279.32,1894.53H1291.85V1901.13H1279.32ZM1279.32,1900.83H1291.85V1907.43H1279.32ZM1279.32,1938.63H1291.85V1945.23H1279.32ZM1291.55,1894.53H1304.08V1901.13H1291.55ZM1316,1894.53H1328.53V1901.13H1316ZM1389.36,1888.23H1401.89V1894.83H1389.36ZM1413.82,1894.53H1426.34V1901.13H1413.82ZM1450.5,1957.53H1463.02V1964.13H1450.5ZM1450.5,1963.83H1463.02V1970.43H1450.5ZM1462.72,1900.83H1475.25V1907.43H1462.72ZM1462.72,1913.43H1475.25V1920.03H1462.72ZM1462.72,1919.73H1475.25V1926.33H1462.72ZM1462.72,1926.03H1475.25V1932.63H1462.72ZM1462.72,1938.63H1475.25V1945.23H1462.72ZM1462.72,1944.93H1475.25V1951.53H1462.72ZM1523.85,1894.53H1536.38V1901.13H1523.85ZM1572.76,1888.23H1585.29V1894.83H1572.76ZM1572.76,1894.53H1585.29V1901.13H1572.76ZM1609.44,1888.23H1621.97V1894.83H1609.44Z"/>
<path fill="#c7ff30" d="M117.8,1970.13H130.33V1976.73H117.8ZM154.48,1951.23H167.01V1957.83H154.48ZM154.48,1963.83H167.01V1970.43H154.48ZM154.48,1970.13H167.01V1976.73H154.48ZM166.71,1957.53H179.23V1964.13H166.71ZM178.93,1951.23H191.46V1957.83H178.93ZM215.61,1894.53H228.14V1901.13H215.61ZM227.84,1913.43H240.37V1920.03H227.84ZM240.07,1900.83H252.59V1907.43H240.07ZM264.52,1900.83H277.05V1907.43H264.52ZM264.52,1926.03H277.05V1932.63H264.52ZM288.97,1900.83H301.5V1907.43H288.97ZM301.2,1913.43H313.73V1920.03H301.2ZM313.43,1894.53H325.95V1901.13H313.43ZM313.43,1932.33H325.95V1938.93H313.43ZM337.88,1907.13H350.4V1913.73H337.88ZM337.88,1919.73H350.4V1926.33H337.88ZM350.1,1894.53H362.63V1901.13H350.1ZM350.1,1900.83H362.63V1907.43H350.1ZM362.33,1894.53H374.86V1901.13H362.33ZM362.33,1932.33H374.86V1938.93H362.33ZM374.56,1907.13H387.08V1913.73H374.56ZM386.78,1894.53H399.31V1901.13H386.78ZM399.01,1944.93H411.54V1951.53H399.01ZM423.46,1894.53H435.99V1901.13H423.46ZM423.46,1900.83H435.99V1907.43H423.46ZM447.92,1894.53H460.44V1901.13H447.92ZM447.92,1907.13H460.44V1913.73H447.92ZM460.14,1894.53H472.67V1901.13H460.14ZM472.37,1900.83H484.9V1907.43H472.37ZM472.37,1907.13H484.9V1913.73H472.37ZM472.37,1932.33H484.9V1938.93H472.37ZM472.37,1944.93H484.9V1951.53H472.37ZM484.6,1926.03H497.12V1932.63H484.6ZM484.6,1932.33H497.12V1938.93H484.6ZM484.6,1944.93H497.12V1951.53H484.6ZM484.6,1951.23H497.12V1957.83H484.6ZM496.82,1913.43H509.35V1920.03H496.82ZM496.82,1944.93H509.35V1951.53H496.82ZM509.05,1900.83H521.58V1907.43H509.05ZM509.05,1907.13H521.58V1913.73H509.05ZM509.05,1913.43H521.58V1920.03H509.05ZM521.28,1907.13H533.8V1913.73H521.28ZM521.28,1932.33H533.8V1938.93H521.28ZM521.28,1957.53H533.8V1964.13H521.28ZM521.28,1970.13H533.8V1976.73H521.28ZM521.28,1982.73H533.8V1989.33H521.28ZM533.5,1900.83H546.03V1907.43H533.5ZM533.5,1907.13H546.03V1913.73H533.5ZM533.5,1913.43H546.03V1920.03H533.5ZM533.5,1932.33H546.03V1938.93H533.5ZM545.73,1963.83H558.26V1970.43H545.73ZM545.73,1970.13H558.26V1976.73H545.73ZM557.96,1894.53H570.48V1901.13H557.96ZM557.96,1963.83H570.48V1970.43H557.96ZM570.18,1913.43H582.71V1920.03H570.18ZM570.18,1919.73H582.71V1926.33H570.18ZM570.18,1926.03H582.71V1932.63H570.18ZM570.18,1957.53H582.71V1964.13H570.18ZM582.41,1907.13H594.94V1913.73H582.41ZM582.41,1913.43H594.94V1920.03H582.41ZM582.41,1982.73H594.94V1989.33H582.41ZM594.64,1894.53H607.16V1901.13H594.64ZM594.64,1907.13H607.16V1913.73H594.64ZM594.64,1913.43H607.16V1920.03H594.64ZM594.64,1957.53H607.16V1964.13H594.64ZM594.64,1963.83H607.16V1970.43H594.64ZM606.86,1894.53H619.39V1901.13H606.86ZM606.86,1913.43H619.39V1920.03H606.86ZM619.09,1932.33H631.62V1938.93H619.09ZM619.09,1957.53H631.62V1964.13H619.09ZM619.09,1963.83H631.62V1970.43H619.09ZM631.32,1919.73H643.84V1926.33H631.32ZM631.32,1957.53H643.84V1964.13H631.32ZM643.54,1881.93H656.07V1888.53H643.54ZM643.54,1913.43H656.07V1920.03H643.54ZM643.54,1919.73H656.07V1926.33H643.54ZM643.54,1970.13H656.07V1976.73H643.54ZM655.77,1932.33H668.3V1938.93H655.77ZM655.77,1963.83H668.3V1970.43H655.77ZM668,1900.83H680.52V1907.43H668ZM692.45,1894.53H704.97V1901.13H692.45ZM692.45,1919.73H704.97V1926.33H692.45ZM692.45,1926.03H704.97V1932.63H692.45ZM704.67,1894.53H717.2V1901.13H704.67ZM716.9,1894.53H729.43V1901.13H716.9ZM716.9,1919.73H729.43V1926.33H716.9ZM716.9,1957.53H729.43V1964.13H716.9ZM729.13,1957.53H741.65V1964.13H729.13ZM729.13,1963.83H741.65V1970.43H729.13ZM741.35,1881.93H753.88V1888.53H741.35ZM741.35,1913.43H753.88V1920.03H741.35ZM741.35,1919.73H753.88V1926.33H741.35ZM741.35,1963.83H753.88V1970.43H741.35ZM753.58,1919.73H766.11V1926.33H753.58ZM753.58,1926.03H766.11V1932.63H753.58ZM778.03,1926.03H790.56V1932.63H778.03ZM790.26,1894.53H802.79V1901.13H790.26ZM790.26,1957.53H802.79V1964.13H790.26ZM802.49,1894.53H815.01V1901.13H802.49ZM802.49,1957.53H815.01V1964.13H802.49ZM802.49,1963.83H815.01V1970.43H802.49ZM814.71,1932.33H827.24V1938.93H814.71ZM814.71,1957.53H827.24V1964.13H814.71ZM814.71,1963.83H827.24V1970.43H814.71ZM814.71,1970.13H827.24V1976.73H814.71ZM826.94,1894.53H839.47V1901.13H826.94ZM826.94,1907.13H839.47V1913.73H826.94ZM826.94,1919.73H839.47V1926.33H826.94ZM826.94,1932.33H839.47V1938.93H826.94ZM826.94,1951.23H839.47V1957.83H826.94ZM826.94,1970.13H839.47V1976.73H826.94ZM839.17,1970.13H851.69V1976.73H839.17ZM851.39,1900.83H863.92V1907.43H851.39ZM851.39,1907.13H863.92V1913.73H851.39ZM851.39,1932.33H863.92V1938.93H851.39ZM875.85,1926.03H888.37V1932.63H875.85ZM875.85,1957.53H888.37V1964.13H875.85ZM875.85,1976.43H888.37V1983.03H875.85ZM875.85,1982.73H888.37V1989.33H875.85ZM888.07,1907.13H900.6V1913.73H888.07ZM888.07,1919.73H900.6V1926.33H888.07ZM888.07,1926.03H900.6V1932.63H888.07ZM900.3,1907.13H912.83V1913.73H900.3ZM900.3,1944.93H912.83V1951.53H900.3ZM900.3,1976.43H912.83V1983.03H900.3ZM912.53,1888.23H925.05V1894.83H912.53ZM912.53,1907.13H925.05V1913.73H912.53ZM912.53,1913.43H925.05V1920.03H912.53ZM924.75,1894.53H937.28V1901.13H924.75ZM936.98,1926.03H949.51V1932.63H936.98ZM949.21,1907.13H961.73V1913.73H949.21ZM961.43,1894.53H973.96V1901.13H961.43ZM985.89,1926.03H998.41V1932.63H985.89ZM998.11,1894.53H1010.64V1901.13H998.11ZM998.11,1907.13H1010.64V1913.73H998.11ZM998.11,1919.73H1010.64V1926.33H998.11ZM998.11,1926.03H1010.64V1932.63H998.11ZM1010.34,1894.53H1022.87V1901.13H1010.34ZM1010.34,1907.13H1022.87V1913.73H1010.34ZM1022.57,1926.03H1035.09V1932.63H1022.57ZM1022.57,1932.33H1035.09V1938.93H1022.57ZM1034.79,1907.13H1047.32V1913.73H1034.79ZM1034.79,1932.33H1047.32V1938.93H1034.79ZM1034.79,1938.63H1047.32V1945.23H1034.79ZM1047.02,1881.93H1059.55V1888.53H1047.02ZM1071.47,1881.93H1084V1888.53H1071.47ZM1095.92,1913.43H1108.45V1920.03H1095.92ZM1095.92,1919.73H1108.45V1926.33H1095.92ZM1108.15,1932.33H1120.68V1938.93H1108.15ZM1120.38,1907.13H1132.9V1913.73H1120.38ZM1120.38,1926.03H1132.9V1932.63H1120.38ZM1120.38,1932.33H1132.9V1938.93H1120.38ZM1132.6,1913.43H1145.13V1920.03H1132.6ZM1144.83,1894.53H1157.36V1901.13H1144.83ZM1144.83,1926.03H1157.36V1932.63H1144.83ZM1157.06,1881.93H1169.58V1888.53H1157.06ZM1157.06,1919.73H1169.58V1926.33H1157.06ZM1157.06,1932.33H1169.58V1938.93H1157.06ZM1157.06,1938.63H1169.58V1945.23H1157.06ZM1169.28,1907.13H1181.81V1913.73H1169.28ZM1169.28,1944.93H1181.81V1951.53H1169.28ZM1181.51,1907.13H1194.04V1913.73H1181.51ZM1181.51,1938.63H1194.04V1945.23H1181.51ZM1193.74,1913.43H1206.26V1920.03H1193.74ZM1205.96,1894.53H1218.49V1901.13H1205.96ZM1205.96,1907.13H1218.49V1913.73H1205.96ZM1205.96,1913.43H1218.49V1920.03H1205.96ZM1205.96,1919.73H1218.49V1926.33H1205.96ZM1205.96,1932.33H1218.49V1938.93H1205.96ZM1218.19,1907.13H1230.72V1913.73H1218.19ZM1218.19,1926.03H1230.72V1932.63H1218.19ZM1218.19,1944.93H1230.72V1951.53H1218.19ZM1230.42,1900.83H1242.94V1907.43H1230.42ZM1230.42,1907.13H1242.94V1913.73H1230.42ZM1230.42,1938.63H1242.94V1945.23H1230.42ZM1242.64,1894.53H1255.17V1901.13H1242.64ZM1242.64,1907.13H1255.17V1913.73H1242.64ZM1267.1,1913.43H1279.62V1920.03H1267.1ZM1267.1,1926.03H1279.62V1932.63H1267.1ZM1303.78,1894.53H1316.3V1901.13H1303.78ZM1303.78,1900.83H1316.3V1907.43H1303.78ZM1328.23,1926.03H1340.76V1932.63H1328.23ZM1340.46,1900.83H1352.98V1907.43H1340.46ZM1352.68,1894.53H1365.21V1901.13H1352.68ZM1364.91,1894.53H1377.44V1901.13H1364.91ZM1364.91,1900.83H1377.44V1907.43H1364.91ZM1364.91,1907.13H1377.44V1913.73H1364.91ZM1389.36,1907.13H1401.89V1913.73H1389.36ZM1401.59,1900.83H1414.12V1907.43H1401.59ZM1401.59,1919.73H1414.12V1926.33H1401.59ZM1413.82,1919.73H1426.34V1926.33H1413.82ZM1426.04,1894.53H1438.57V1901.13H1426.04ZM1426.04,1919.73H1438.57V1926.33H1426.04ZM1426.04,1932.33H1438.57V1938.93H1426.04ZM1438.27,1900.83H1450.8V1907.43H1438.27ZM1450.5,1970.13H1463.02V1976.73H1450.5ZM1474.95,1900.83H1487.47V1907.43H1474.95ZM1487.17,1894.53H1499.7V1901.13H1487.17ZM1487.17,1900.83H1499.7V1907.43H1487.17ZM1499.4,1907.13H1511.93V1913.73H1499.4ZM1511.63,1894.53H1524.15V1901.13H1511.63ZM1523.85,1900.83H1536.38V1907.43H1523.85ZM1548.31,1888.23H1560.83V1894.83H1548.31ZM1548.31,1900.83H1560.83V1907.43H1548.31ZM1560.53,1900.83H1573.06V1907.43H1560.53ZM1584.99,1907.13H1597.51V1913.73H1584.99ZM1646.12,1900.83H1658.65V1907.43H1646.12Z"/>
<path fill="#ceff29" d="M117.8,1963.83H130.33V1970.43H117.8ZM117.8,1976.43H130.33V1983.03H117.8ZM130.03,1970.13H142.55V1976.73H130.03ZM142.25,1951.23H154.78V1957.83H142.25ZM142.25,1957.53H154.78V1964.13H142.25ZM142.25,1970.13H154.78V1976.73H142.25ZM142.25,1976.43H154.78V1983.03H142.25ZM166.71,1963.83H179.23V1970.43H166.71ZM178.93,1957.53H191.46V1964.13H178.93ZM178.93,1963.83H191.46V1970.43H178.93ZM178.93,1970.13H191.46V1976.73H178.93ZM191.16,1926.03H203.69V1932.63H191.16ZM191.16,1932.33H203.69V1938.93H191.16ZM203.39,1894.53H215.91V1901.13H203.39ZM203.39,1919.73H215.91V1926.33H203.39ZM215.61,1907.13H228.14V1913.73H215.61ZM215.61,1926.03H228.14V1932.63H215.61ZM227.84,1919.73H240.37V1926.33H227.84ZM227.84,1926.03H240.37V1932.63H227.84ZM227.84,1982.73H240.37V1989.33H227.84ZM240.07,1907.13H252.59V1913.73H240.07ZM240.07,1913.43H252.59V1920.03H240.07ZM240.07,1932.33H252.59V1938.93H240.07ZM252.29,1907.13H264.82V1913.73H252.29ZM252.29,1919.73H264.82V1926.33H252.29ZM252.29,1938.63H264.82V1945.23H252.29ZM264.52,1913.43H277.05V1920.03H264.52ZM264.52,1919.73H277.05V1926.33H264.52ZM264.52,1932.33H277.05V1938.93H264.52ZM276.75,1900.83H289.27V1907.43H276.75ZM276.75,1907.13H289.27V1913.73H276.75ZM276.75,1919.73H289.27V1926.33H276.75ZM276.75,1938.63H289.27V1945.23H276.75ZM288.97,1932.33H301.5V1938.93H288.97ZM288.97,1944.93H301.5V1951.53H288.97ZM301.2,1932.33H313.73V1938.93H301.2ZM301.2,1938.63H313.73V1945.23H301.2ZM325.65,1907.13H338.18V1913.73H325.65ZM325.65,1913.43H338.18V1920.03H325.65ZM325.65,1919.73H338.18V1926.33H325.65ZM325.65,1932.33H338.18V1938.93H325.65ZM325.65,1951.23H338.18V1957.83H325.65ZM337.88,1944.93H350.4V1951.53H337.88ZM350.1,1919.73H362.63V1926.33H350.1ZM350.1,1938.63H362.63V1945.23H350.1ZM350.1,1944.93H362.63V1951.53H350.1ZM362.33,1907.13H374.86V1913.73H362.33ZM362.33,1913.43H374.86V1920.03H362.33ZM362.33,1926.03H374.86V1932.63H362.33ZM362.33,1951.23H374.86V1957.83H362.33ZM374.56,1900.83H387.08V1907.43H374.56ZM374.56,1919.73H387.08V1926.33H374.56ZM374.56,1926.03H387.08V1932.63H374.56ZM374.56,1938.63H387.08V1945.23H374.56ZM386.78,1913.43H399.31V1920.03H386.78ZM386.78,1926.03H399.31V1932.63H386.78ZM386.78,1938.63H399.31V1945.23H386.78ZM399.01,1932.33H411.54V1938.93H399.01ZM399.01,1951.23H411.54V1957.83H399.01ZM411.24,1907.13H423.76V1913.73H411.24ZM411.24,1913.43H423.76V1920.03H411.24ZM411.24,1944.93H423.76V1951.53H411.24ZM423.46,1926.03H435.99V1932.63H423.46ZM435.69,1913.43H448.22V1920.03H435.69ZM435.69,1919.73H448.22V1926.33H435.69ZM435.69,1938.63H448.22V1945.23H435.69ZM447.92,1900.83H460.44V1907.43H447.92ZM447.92,1919.73H460.44V1926.33H447.92ZM447.92,1932.33H460.44V1938.93H447.92ZM460.14,1900.83H472.67V1907.43H460.14ZM460.14,1913.43H472.67V1920.03H460.14ZM460.14,1926.03H472.67V1932.63H460.14ZM460.14,1932.33H472.67V1938.93H460.14ZM460.14,1944.93H472.67V1951.53H460.14ZM472.37,1913.43H484.9V1920.03H472.37ZM472.37,1919.73H484.9V1926.33H472.37ZM472.37,1938.63H484.9V1945.23H472.37ZM472.37,1957.53H484.9V1964.13H472.37ZM472.37,1970.13H484.9V1976.73H472.37ZM484.6,1913.43H497.12V1920.03H484.6ZM496.82,1951.23H509.35V1957.83H496.82ZM496.82,1970.13H509.35V1976.73H496.82ZM496.82,1976.43H509.35V1983.03H496.82ZM509.05,1919.73H521.58V1926.33H509.05ZM509.05,1926.03H521.58V1932.63H509.05ZM509.05,1951.23H521.58V1957.83H509.05ZM509.05,1957.53H521.58V1964.13H509.05ZM509.05,1970.13H521.58V1976.73H509.05ZM509.05,1976.43H521.58V1983.03H509.05ZM521.28,1963.83H533.8V1970.43H521.28ZM533.5,1963.83H546.03V1970.43H533.5ZM545.73,1926.03H558.26V1932.63H545.73ZM545.73,1932.33H558.26V1938.93H545.73ZM545.73,1951.23H558.26V1957.83H545.73ZM557.96,1913.43H570.48V1920.03H557.96ZM557.96,1919.73H570.48V1926.33H557.96ZM557.96,1951.23H570.48V1957.83H557.96ZM557.96,1957.53H570.48V1964.13H557.96ZM557.96,1970.13H570.48V1976.73H557.96ZM582.41,1919.73H594.94V1926.33H582.41ZM582.41,1926.03H594.94V1932.63H582.41ZM594.64,1919.73H607.16V1926.33H594.64ZM606.86,1919.73H619.39V1926.33H606.86ZM606.86,1926.03H619.39V1932.63H606.86ZM606.86,1963.83H619.39V1970.43H606.86ZM619.09,1913.43H631.62V1920.03H619.09ZM619.09,1951.23H631.62V1957.83H619.09ZM631.32,1894.53H643.84V1901.13H631.32ZM631.32,1926.03H643.84V1932.63H631.32ZM643.54,1951.23H656.07V1957.83H643.54ZM655.77,1919.73H668.3V1926.33H655.77ZM668,1919.73H680.52V1926.33H668ZM668,1926.03H680.52V1932.63H668ZM680.22,1919.73H692.75V1926.33H680.22ZM680.22,1926.03H692.75V1932.63H680.22ZM680.22,1957.53H692.75V1964.13H680.22ZM692.45,1913.43H704.97V1920.03H692.45ZM704.67,1913.43H717.2V1920.03H704.67ZM704.67,1919.73H717.2V1926.33H704.67ZM704.67,1926.03H717.2V1932.63H704.67ZM716.9,1926.03H729.43V1932.63H716.9ZM729.13,1919.73H741.65V1926.33H729.13ZM741.35,1957.53H753.88V1964.13H741.35ZM753.58,1913.43H766.11V1920.03H753.58ZM778.03,1919.73H790.56V1926.33H778.03ZM778.03,1957.53H790.56V1964.13H778.03ZM790.26,1913.43H802.79V1920.03H790.26ZM790.26,1919.73H802.79V1926.33H790.26ZM790.26,1963.83H802.79V1970.43H790.26ZM802.49,1913.43H815.01V1920.03H802.49ZM802.49,1919.73H815.01V1926.33H802.49ZM802.49,1926.03H815.01V1932.63H802.49ZM814.71,1913.43H827.24V1920.03H814.71ZM814.71,1926.03H827.24V1932.63H814.71ZM826.94,1926.03H839.47V1932.63H826.94ZM826.94,1957.53H839.47V1964.13H826.94ZM839.17,1913.43H851.69V1920.03H839.17ZM839.17,1926.03H851.69V1932.63H839.17ZM839.17,1932.33H851.69V1938.93H839.17ZM851.39,1913.43H863.92V1920.03H851.39ZM851.39,1919.73H863.92V1926.33H851.39ZM851.39,1926.03H863.92V1932.63H851.39ZM851.39,1970.13H863.92V1976.73H851.39ZM863.62,1913.43H876.15V1920.03H863.62ZM863.62,1957.53H876.15V1964.13H863.62ZM875.85,1919.73H888.37V1926.33H875.85ZM875.85,1932.33H888.37V1938.93H875.85ZM900.3,1913.43H912.83V1920.03H900.3ZM900.3,1919.73H912.83V1926.33H900.3ZM900.3,1926.03H912.83V1932.63H900.3ZM912.53,1926.03H925.05V1932.63H912.53ZM924.75,1913.43H937.28V1920.03H924.75ZM924.75,1919.73H937.28V1926.33H924.75ZM924.75,1926.03H937.28V1932.63H924.75ZM936.98,1907.13H949.51V1913.73H936.98ZM936.98,1913.43H949.51V1920.03H936.98ZM936.98,1919.73H949.51V1926.33H936.98ZM936.98,1932.33H949.51V1938.93H936.98ZM949.21,1913.43H961.73V1920.03H949.21ZM949.21,1932.33H961.73V1938.93H949.21ZM961.43,1907.13H973.96V1913.73H961.43ZM961.43,1913.43H973.96V1920.03H961.43ZM973.66,1907.13H986.19V1913.73H973.66ZM973.66,1913.43H986.19V1920.03H973.66ZM973.66,1919.73H986.19V1926.33H973.66ZM973.66,1926.03H986.19V1932.63H973.66ZM985.89,1913.43H998.41V1920.03H985.89ZM985.89,1919.73H998.41V1926.33H985.89ZM998.11,1932.33H1010.64V1938.93H998.11ZM1010.34,1881.93H1022.87V1888.53H1010.34ZM1034.79,1894.53H1047.32V1901.13H1034.79ZM1034.79,1913.43H1047.32V1920.03H1034.79ZM1034.79,1926.03H1047.32V1932.63H1034.79ZM1034.79,1944.93H1047.32V1951.53H1034.79ZM1047.02,1926.03H1059.55V1932.63H1047.02ZM1059.25,1919.73H1071.77V1926.33H1059.25ZM1059.25,1926.03H1071.77V1932.63H1059.25ZM1071.47,1913.43H1084V1920.03H1071.47ZM1083.7,1913.43H1096.22V1920.03H1083.7ZM1083.7,1919.73H1096.22V1926.33H1083.7ZM1083.7,1932.33H1096.22V1938.93H1083.7ZM1108.15,1881.93H1120.68V1888.53H1108.15ZM1120.38,1913.43H1132.9V1920.03H1120.38ZM1120.38,1919.73H1132.9V1926.33H1120.38ZM1132.6,1932.33H1145.13V1938.93H1132.6ZM1144.83,1932.33H1157.36V1938.93H1144.83ZM1157.06,1907.13H1169.58V1913.73H1157.06ZM1157.06,1926.03H1169.58V1932.63H1157.06ZM1169.28,1932.33H1181.81V1938.93H1169.28ZM1169.28,1951.23H1181.81V1957.83H1169.28ZM1181.51,1900.83H1194.04V1907.43H1181.51ZM1181.51,1919.73H1194.04V1926.33H1181.51ZM1181.51,1926.03H1194.04V1932.63H1181.51ZM1181.51,1932.33H1194.04V1938.93H1181.51ZM1193.74,1919.73H1206.26V1926.33H1193.74ZM1193.74,1926.03H1206.26V1932.63H1193.74ZM1193.74,1944.93H1206.26V1951.53H1193.74ZM1205.96,1926.03H1218.49V1932.63H1205.96ZM1218.19,1938.63H1230.72V1945.23H1218.19ZM1230.42,1913.43H1242.94V1920.03H1230.42ZM1230.42,1919.73H1242.94V1926.33H1230.42ZM1242.64,1944.93H1255.17V1951.53H1242.64ZM1254.87,1913.43H1267.4V1920.03H1254.87ZM1254.87,1938.63H1267.4V1945.23H1254.87ZM1267.1,1907.13H1279.62V1913.73H1267.1ZM1267.1,1938.63H1279.62V1945.23H1267.1ZM1279.32,1907.13H1291.85V1913.73H1279.32ZM1279.32,1919.73H1291.85V1926.33H1279.32ZM1279.32,1926.03H1291.85V1932.63H1279.32ZM1291.55,1900.83H1304.08V1907.43H1291.55ZM1291.55,1907.13H1304.08V1913.73H1291.55ZM1291.55,1926.03H1304.08V1932.63H1291.55ZM1303.78,1919.73H1316.3V1926.33H1303.78ZM1303.78,1926.03H1316.3V1932.63H1303.78ZM1303.78,1938.63H1316.3V1945.23H1303.78ZM1316,1907.13H1328.53V1913.73H1316ZM1316,1919.73H1328.53V1926.33H1316ZM1328.23,1913.43H1340.76V1920.03H1328.23ZM1328.23,1919.73H1340.76V1926.33H1328.23ZM1328.23,1932.33H1340.76V1938.93H1328.23ZM1340.46,1894.53H1352.98V1901.13H1340.46ZM1340.46,1919.73H1352.98V1926.33H1340.46ZM1340.46,1926.03H1352.98V1932.63H1340.46ZM1352.68,1900.83H1365.21V1907.43H1352.68ZM1352.68,1919.73H1365.21V1926.33H1352.68ZM1352.68,1932.33H1365.21V1938.93H1352.68ZM1352.68,1938.63H1365.21V1945.23H1352.68ZM1364.91,1919.73H1377.44V1926.33H1364.91ZM1377.14,1900.83H1389.66V1907.43H1377.14ZM1389.36,1894.53H1401.89V1901.13H1389.36ZM1389.36,1926.03H1401.89V1932.63H1389.36ZM1389.36,1944.93H1401.89V1951.53H1389.36ZM1401.59,1907.13H1414.12V1913.73H1401.59ZM1401.59,1913.43H1414.12V1920.03H1401.59ZM1426.04,1907.13H1438.57V1913.73H1426.04ZM1426.04,1938.63H1438.57V1945.23H1426.04ZM1426.04,1976.43H1438.57V1983.03H1426.04ZM1438.27,1894.53H1450.8V1901.13H1438.27ZM1438.27,1907.13H1450.8V1913.73H1438.27ZM1438.27,1913.43H1450.8V1920.03H1438.27ZM1462.72,1951.23H1475.25V1957.83H1462.72ZM1462.72,1957.53H1475.25V1964.13H1462.72ZM1462.72,1970.13H1475.25V1976.73H1462.72ZM1474.95,1932.33H1487.47V1938.93H1474.95ZM1499.4,1894.53H1511.93V1901.13H1499.4ZM1499.4,1900.83H1511.93V1907.43H1499.4ZM1499.4,1926.03H1511.93V1932.63H1499.4ZM1511.63,1913.43H1524.15V1920.03H1511.63ZM1511.63,1926.03H1524.15V1932.63H1511.63ZM1523.85,1907.13H1536.38V1913.73H1523.85ZM1536.08,1900.83H1548.61V1907.43H1536.08ZM1548.31,1907.13H1560.83V1913.73H1548.31ZM1548.31,1932.33H1560.83V1938.93H1548.31ZM1560.53,1894.53H1573.06V1901.13H1560.53ZM1560.53,1919.73H1573.06V1926.33H1560.53ZM1584.99,2014.23H1597.51V2020.83H1584.99ZM1597.21,1900.83H1609.74V1907.43H1597.21ZM1597.21,1926.03H1609.74V1932.63H1597.21ZM1609.44,1894.53H1621.97V1901.13H1609.44ZM1621.67,1900.83H1634.19V1907.43H1621.67ZM1633.89,1907.13H1646.42V1913.73H1633.89ZM1633.89,1913.43H1646.42V1920.03H1633.89ZM1633.89,1932.33H1646.42V1938.93H1633.89ZM1646.12,1919.73H1658.65V1926.33H1646.12ZM1658.35,1900.83H1670.87V1907.43H1658.35Z"/>
<path fill="#d4ff23" d="M117.8,1944.93H130.33V1951.53H117.8ZM117.8,1951.23H130.33V1957.83H117.8ZM117.8,1982.73H130.33V1989.33H117.8ZM117.8,2033.13H130.33V2039.73H117.8ZM130.03,1951.23H142.55V1957.83H130.03ZM130.03,1957.53H142.55V1964.13H130.03ZM130.03,1976.43H142.55V1983.03H130.03ZM142.25,1963.83H154.78V1970.43H142.25ZM142.25,1982.73H154.78V1989.33H142.25ZM154.48,1894.53H167.01V1901.13H154.48ZM154.48,1938.63H167.01V1945.23H154.48ZM166.71,1894.53H179.23V1901.13H166.71ZM166.71,1938.63H179.23V1945.23H166.71ZM166.71,1944.93H179.23V1951.53H166.71ZM166.71,1970.13H179.23V1976.73H166.71ZM166.71,1976.43H179.23V1983.03H166.71ZM178.93,1976.43H191.46V1983.03H178.93ZM191.16,1919.73H203.69V1926.33H191.16ZM203.39,1907.13H215.91V1913.73H203.39ZM203.39,1913.43H215.91V1920.03H203.39ZM203.39,1926.03H215.91V1932.63H203.39ZM203.39,1932.33H215.91V1938.93H203.39ZM215.61,1913.43H228.14V1920.03H215.61ZM215.61,1919.73H228.14V1926.33H215.61ZM215.61,1932.33H228.14V1938.93H215.61ZM215.61,1938.63H228.14V1945.23H215.61ZM227.84,1907.13H240.37V1913.73H227.84ZM227.84,1938.63H240.37V1945.23H227.84ZM240.07,1938.63H252.59V1945.23H240.07ZM252.29,1932.33H264.82V1938.93H252.29ZM264.52,1907.13H277.05V1913.73H264.52ZM264.52,1938.63H277.05V1945.23H264.52ZM276.75,1913.43H289.27V1920.03H276.75ZM276.75,1926.03H289.27V1932.63H276.75ZM276.75,1951.23H289.27V1957.83H276.75ZM288.97,1907.13H301.5V1913.73H288.97ZM288.97,1919.73H301.5V1926.33H288.97ZM288.97,1938.63H301.5V1945.23H288.97ZM288.97,1951.23H301.5V1957.83H288.97ZM288.97,1963.83H301.5V1970.43H288.97ZM301.2,1919.73H313.73V1926.33H301.2ZM301.2,1926.03H313.73V1932.63H301.2ZM301.2,1963.83H313.73V1970.43H301.2ZM313.43,1938.63H325.95V1945.23H313.43ZM313.43,1944.93H325.95V1951.53H313.43ZM313.43,1957.53H325.95V1964.13H313.43ZM313.43,1970.13H325.95V1976.73H313.43ZM325.65,1944.93H338.18V1951.53H325.65ZM325.65,1957.53H338.18V1964.13H325.65ZM325.65,1963.83H338.18V1970.43H325.65ZM337.88,1913.43H350.4V1920.03H337.88ZM337.88,1926.03H350.4V1932.63H337.88ZM350.1,1907.13H362.63V1913.73H350.1ZM350.1,1932.33H362.63V1938.93H350.1ZM350.1,1951.23H362.63V1957.83H350.1ZM350.1,1957.53H362.63V1964.13H350.1ZM362.33,1919.73H374.86V1926.33H362.33ZM362.33,1938.63H374.86V1945.23H362.33ZM362.33,1944.93H374.86V1951.53H362.33ZM362.33,1957.53H374.86V1964.13H362.33ZM362.33,1963.83H374.86V1970.43H362.33ZM374.56,1944.93H387.08V1951.53H374.56ZM374.56,1957.53H387.08V1964.13H374.56ZM374.56,1963.83H387.08V1970.43H374.56ZM386.78,1907.13H399.31V1913.73H386.78ZM386.78,1919.73H399.31V1926.33H386.78ZM386.78,1944.93H399.31V1951.53H386.78ZM386.78,1951.23H399.31V1957.83H386.78ZM386.78,1957.53H399.31V1964.13H386.78ZM399.01,1913.43H411.54V1920.03H399.01ZM399.01,1919.73H411.54V1926.33H399.01ZM399.01,1938.63H411.54V1945.23H399.01ZM411.24,1919.73H423.76V1926.33H411.24ZM411.24,1926.03H423.76V1932.63H411.24ZM411.24,1932.33H423.76V1938.93H411.24ZM411.24,1938.63H423.76V1945.23H411.24ZM423.46,1907.13H435.99V1913.73H423.46ZM423.46,1913.43H435.99V1920.03H423.46ZM423.46,1919.73H435.99V1926.33H423.46ZM423.46,1938.63H435.99V1945.23H423.46ZM423.46,1951.23H435.99V1957.83H423.46ZM435.69,1907.13H448.22V1913.73H435.69ZM435.69,1926.03H448.22V1932.63H435.69ZM435.69,1932.33H448.22V1938.93H435.69ZM435.69,1951.23H448.22V1957.83H435.69ZM447.92,1913.43H460.44V1920.03H447.92ZM447.92,1938.63H460.44V1945.23H447.92ZM460.14,1907.13H472.67V1913.73H460.14ZM460.14,1938.63H472.67V1945.23H460.14ZM460.14,1951.23H472.67V1957.83H460.14ZM472.37,1926.03H484.9V1932.63H472.37ZM472.37,1963.83H484.9V1970.43H472.37ZM484.6,1919.73H497.12V1926.33H484.6ZM484.6,1957.53H497.12V1964.13H484.6ZM484.6,1970.13H497.12V1976.73H484.6ZM509.05,1963.83H521.58V1970.43H509.05ZM521.28,1926.03H533.8V1932.63H521.28ZM533.5,1919.73H546.03V1926.33H533.5ZM533.5,1926.03H546.03V1932.63H533.5ZM545.73,1919.73H558.26V1926.33H545.73ZM545.73,1957.53H558.26V1964.13H545.73ZM557.96,1926.03H570.48V1932.63H557.96ZM594.64,1926.03H607.16V1932.63H594.64ZM619.09,1919.73H631.62V1926.33H619.09ZM619.09,1926.03H631.62V1932.63H619.09ZM631.32,1913.43H643.84V1920.03H631.32ZM631.32,1951.23H643.84V1957.83H631.32ZM643.54,1926.03H656.07V1932.63H643.54ZM655.77,1926.03H668.3V1932.63H655.77ZM668,1957.53H680.52V1964.13H668ZM704.67,1963.83H717.2V1970.43H704.67ZM741.35,1926.03H753.88V1932.63H741.35ZM753.58,1957.53H766.11V1964.13H753.58ZM765.81,1913.43H778.33V1920.03H765.81ZM765.81,1963.83H778.33V1970.43H765.81ZM778.03,1913.43H790.56V1920.03H778.03ZM839.17,1919.73H851.69V1926.33H839.17ZM839.17,1957.53H851.69V1964.13H839.17ZM839.17,1963.83H851.69V1970.43H839.17ZM851.39,1957.53H863.92V1964.13H851.39ZM851.39,1963.83H863.92V1970.43H851.39ZM863.62,1919.73H876.15V1926.33H863.62ZM863.62,1932.33H876.15V1938.93H863.62ZM875.85,1963.83H888.37V1970.43H875.85ZM888.07,1913.43H900.6V1920.03H888.07ZM888.07,1951.23H900.6V1957.83H888.07ZM888.07,1970.13H900.6V1976.73H888.07ZM900.3,1951.23H912.83V1957.83H900.3ZM900.3,1970.13H912.83V1976.73H900.3ZM912.53,1919.73H925.05V1926.33H912.53ZM936.98,1951.23H949.51V1957.83H936.98ZM949.21,1919.73H961.73V1926.33H949.21ZM961.43,1919.73H973.96V1926.33H961.43ZM961.43,1926.03H973.96V1932.63H961.43ZM973.66,1944.93H986.19V1951.53H973.66ZM985.89,1932.33H998.41V1938.93H985.89ZM985.89,1957.53H998.41V1964.13H985.89ZM1010.34,1926.03H1022.87V1932.63H1010.34ZM1010.34,1932.33H1022.87V1938.93H1010.34ZM1010.34,1963.83H1022.87V1970.43H1010.34ZM1022.57,1913.43H1035.09V1920.03H1022.57ZM1034.79,1919.73H1047.32V1926.33H1034.79ZM1047.02,1919.73H1059.55V1926.33H1047.02ZM1059.25,1907.13H1071.77V1913.73H1059.25ZM1071.47,1919.73H1084V1926.33H1071.47ZM1071.47,1926.03H1084V1932.63H1071.47ZM1083.7,1926.03H1096.22V1932.63H1083.7ZM1108.15,1913.43H1120.68V1920.03H1108.15ZM1108.15,1919.73H1120.68V1926.33H1108.15ZM1108.15,1951.23H1120.68V1957.83H1108.15ZM1108.15,1963.83H1120.68V1970.43H1108.15ZM1120.38,1963.83H1132.9V1970.43H1120.38ZM1120.38,1976.43H1132.9V1983.03H1120.38ZM1132.6,1919.73H1145.13V1926.33H1132.6ZM1132.6,1926.03H1145.13V1932.63H1132.6ZM1132.6,1951.23H1145.13V1957.83H1132.6ZM1132.6,1976.43H1145.13V1983.03H1132.6ZM1144.83,1913.43H1157.36V1920.03H1144.83ZM1144.83,1944.93H1157.36V1951.53H1144.83ZM1144.83,1970.13H1157.36V1976.73H1144.83ZM1144.83,1976.43H1157.36V1983.03H1144.83ZM1157.06,1913.43H1169.58V1920.03H1157.06ZM1157.06,1944.93H1169.58V1951.53H1157.06ZM1157.06,1976.43H1169.58V1983.03H1157.06ZM1169.28,1913.43H1181.81V1920.03H1169.28ZM1169.28,1926.03H1181.81V1932.63H1169.28ZM1181.51,1951.23H1194.04V1957.83H1181.51ZM1181.51,1976.43H1194.04V1983.03H1181.51ZM1205.96,1944.93H1218.49V1951.53H1205.96ZM1205.96,1976.43H1218.49V1983.03H1205.96ZM1218.19,1913.43H1230.72V1920.03H1218.19ZM1218.19,1919.73H1230.72V1926.33H1218.19ZM1218.19,1932.33H1230.72V1938.93H1218.19ZM1218.19,1963.83H1230.72V1970.43H1218.19ZM1230.42,1926.03H1242.94V1932.63H1230.42ZM1230.42,1932.33H1242.94V1938.93H1230.42ZM1242.64,1919.73H1255.17V1926.33H1242.64ZM1242.64,1932.33H1255.17V1938.93H1242.64ZM1242.64,1938.63H1255.17V1945.23H1242.64ZM1242.64,1951.23H1255.17V1957.83H1242.64ZM1254.87,1919.73H1267.4V1926.33H1254.87ZM1254.87,1926.03H1267.4V1932.63H1254.87ZM1267.1,1919.73H1279.62V1926.33H1267.1ZM1267.1,1932.33H1279.62V1938.93H1267.1ZM1267.1,1944.93H1279.62V1951.53H1267.1ZM1279.32,1913.43H1291.85V1920.03H1279.32ZM1279.32,1932.33H1291.85V1938.93H1279.32ZM1279.32,1944.93H1291.85V1951.53H1279.32ZM1291.55,1913.43H1304.08V1920.03H1291.55ZM1291.55,1932.33H1304.08V1938.93H1291.55ZM1291.55,1938.63H1304.08V1945.23H1291.55ZM1291.55,1944.93H1304.08V1951.53H1291.55ZM1303.78,1932.33H1316.3V1938.93H1303.78ZM1316,1926.03H1328.53V1932.63H1316ZM1316,1938.63H1328.53V1945.23H1316ZM1316,1944.93H1328.53V1951.53H1316ZM1328.23,1900.83H1340.76V1907.43H1328.23ZM1328.23,1938.63H1340.76V1945.23H1328.23ZM1340.46,1907.13H1352.98V1913.73H1340.46ZM1340.46,1913.43H1352.98V1920.03H1340.46ZM1340.46,1938.63H1352.98V1945.23H1340.46ZM1340.46,1944.93H1352.98V1951.53H1340.46ZM1352.68,1907.13H1365.21V1913.73H1352.68ZM1352.68,1913.43H1365.21V1920.03H1352.68ZM1364.91,1926.03H1377.44V1932.63H1364.91ZM1364.91,1932.33H1377.44V1938.93H1364.91ZM1364.91,1938.63H1377.44V1945.23H1364.91ZM1377.14,1894.53H1389.66V1901.13H1377.14ZM1377.14,1926.03H1389.66V1932.63H1377.14ZM1377.14,1932.33H1389.66V1938.93H1377.14ZM1389.36,1900.83H1401.89V1907.43H1389.36ZM1389.36,1919.73H1401.89V1926.33H1389.36ZM1389.36,1932.33H1401.89V1938.93H1389.36ZM1401.59,1932.33H1414.12V1938.93H1401.59ZM1401.59,1938.63H1414.12V1945.23H1401.59ZM1401.59,1944.93H1414.12V1951.53H1401.59ZM1413.82,1907.13H1426.34V1913.73H1413.82ZM1413.82,1938.63H1426.34V1945.23H1413.82ZM1426.04,1913.43H1438.57V1920.03H1426.04ZM1426.04,1926.03H1438.57V1932.63H1426.04ZM1438.27,1932.33H1450.8V1938.93H1438.27ZM1438.27,1938.63H1450.8V1945.23H1438.27ZM1474.95,1907.13H1487.47V1913.73H1474.95ZM1474.95,1913.43H1487.47V1920.03H1474.95ZM1474.95,1938.63H1487.47V1945.23H1474.95ZM1474.95,1957.53H1487.47V1964.13H1474.95ZM1499.4,1932.33H1511.93V1938.93H1499.4ZM1511.63,1900.83H1524.15V1907.43H1511.63ZM1511.63,1907.13H1524.15V1913.73H1511.63ZM1511.63,1919.73H1524.15V1926.33H1511.63ZM1511.63,1932.33H1524.15V1938.93H1511.63ZM1523.85,1913.43H1536.38V1920.03H1523.85ZM1536.08,1913.43H1548.61V1920.03H1536.08ZM1536.08,1919.73H1548.61V1926.33H1536.08ZM1536.08,1926.03H1548.61V1932.63H1536.08ZM1536.08,1932.33H1548.61V1938.93H1536.08ZM1548.31,1926.03H1560.83V1932.63H1548.31ZM1548.31,1938.63H1560.83V1945.23H1548.31ZM1548.31,1944.93H1560.83V1951.53H1548.31ZM1560.53,1907.13H1573.06V1913.73H1560.53ZM1560.53,1913.43H1573.06V1920.03H1560.53ZM1560.53,1932.33H1573.06V1938.93H1560.53ZM1560.53,1938.63H1573.06V1945.23H1560.53ZM1572.76,1900.83H1585.29V1907.43H1572.76ZM1572.76,1913.43H1585.29V1920.03H1572.76ZM1572.76,1926.03H1585.29V1932.63H1572.76ZM1584.99,1900.83H1597.51V1907.43H1584.99ZM1584.99,1913.43H1597.51V1920.03H1584.99ZM1597.21,1907.13H1609.74V1913.73H1597.21ZM1597.21,1913.43H1609.74V1920.03H1597.21ZM1597.21,1932.33H1609.74V1938.93H1597.21ZM1597.21,2014.23H1609.74V2020.83H1597.21ZM1609.44,1900.83H1621.97V1907.43H1609.44ZM1609.44,1919.73H1621.97V1926.33H1609.44ZM1609.44,1932.33H1621.97V1938.93H1609.44ZM1621.67,1907.13H1634.19V1913.73H1621.67ZM1621.67,1938.63H1634.19V1945.23H1621.67ZM1621.67,1944.93H1634.19V1951.53H1621.67ZM1621.67,1963.83H1634.19V1970.43H1621.67ZM1633.89,1919.73H1646.42V1926.33H1633.89ZM1633.89,1926.03H1646.42V1932.63H1633.89ZM1658.35,1919.73H1670.87V1926.33H1658.35ZM1658.35,1926.03H1670.87V1932.63H1658.35ZM1670.57,1900.83H1683.1V1907.43H1670.57ZM1670.57,1944.93H1683.1V1951.53H1670.57Z"/>
<path fill="#dbff1c" d="M117.8,1957.53H130.33V1964.13H117.8ZM130.03,1938.63H142.55V1945.23H130.03ZM130.03,1963.83H142.55V1970.43H130.03ZM142.25,1938.63H154.78V1945.23H142.25ZM154.48,1932.33H167.01V1938.93H154.48ZM154.48,1944.93H167.01V1951.53H154.48ZM154.48,1957.53H167.01V1964.13H154.48ZM154.48,1976.43H167.01V1983.03H154.48ZM166.71,1932.33H179.23V1938.93H166.71ZM166.71,1951.23H179.23V1957.83H166.71ZM178.93,1938.63H191.46V1945.23H178.93ZM178.93,1944.93H191.46V1951.53H178.93ZM191.16,1938.63H203.69V1945.23H191.16ZM227.84,1951.23H240.37V1957.83H227.84ZM240.07,1926.03H252.59V1932.63H240.07ZM252.29,1926.03H264.82V1932.63H252.29ZM252.29,1944.93H264.82V1951.53H252.29ZM252.29,1951.23H264.82V1957.83H252.29ZM276.75,1944.93H289.27V1951.53H276.75ZM276.75,1963.83H289.27V1970.43H276.75ZM276.75,1970.13H289.27V1976.73H276.75ZM288.97,1913.43H301.5V1920.03H288.97ZM288.97,1926.03H301.5V1932.63H288.97ZM288.97,1957.53H301.5V1964.13H288.97ZM288.97,1976.43H301.5V1983.03H288.97ZM301.2,1944.93H313.73V1951.53H301.2ZM301.2,1957.53H313.73V1964.13H301.2ZM313.43,1919.73H325.95V1926.33H313.43ZM313.43,1926.03H325.95V1932.63H313.43ZM313.43,1963.83H325.95V1970.43H313.43ZM325.65,1926.03H338.18V1932.63H325.65ZM325.65,1938.63H338.18V1945.23H325.65ZM337.88,1932.33H350.4V1938.93H337.88ZM337.88,1938.63H350.4V1945.23H337.88ZM337.88,1951.23H350.4V1957.83H337.88ZM337.88,1963.83H350.4V1970.43H337.88ZM350.1,1963.83H362.63V1970.43H350.1ZM362.33,1970.13H374.86V1976.73H362.33ZM374.56,1932.33H387.08V1938.93H374.56ZM374.56,1951.23H387.08V1957.83H374.56ZM386.78,1932.33H399.31V1938.93H386.78ZM399.01,1926.03H411.54V1932.63H399.01ZM399.01,1963.83H411.54V1970.43H399.01ZM399.01,1970.13H411.54V1976.73H399.01ZM411.24,1951.23H423.76V1957.83H411.24ZM423.46,1932.33H435.99V1938.93H423.46ZM423.46,1963.83H435.99V1970.43H423.46ZM435.69,1944.93H448.22V1951.53H435.69ZM435.69,1957.53H448.22V1964.13H435.69ZM447.92,1951.23H460.44V1957.83H447.92ZM460.14,1957.53H472.67V1964.13H460.14ZM460.14,1963.83H472.67V1970.43H460.14ZM460.14,1970.13H472.67V1976.73H460.14ZM472.37,1951.23H484.9V1957.83H472.37ZM484.6,1963.83H497.12V1970.43H484.6ZM484.6,1982.73H497.12V1989.33H484.6ZM496.82,1919.73H509.35V1926.33H496.82ZM496.82,1963.83H509.35V1970.43H496.82ZM496.82,1982.73H509.35V1989.33H496.82ZM509.05,1982.73H521.58V1989.33H509.05ZM521.28,1919.73H533.8V1926.33H521.28ZM643.54,1957.53H656.07V1964.13H643.54ZM765.81,1926.03H778.33V1932.63H765.81ZM863.62,1926.03H876.15V1932.63H863.62ZM888.07,1963.83H900.6V1970.43H888.07ZM900.3,1982.73H912.83V1989.33H900.3ZM912.53,1957.53H925.05V1964.13H912.53ZM924.75,1957.53H937.28V1964.13H924.75ZM924.75,1963.83H937.28V1970.43H924.75ZM949.21,1951.23H961.73V1957.83H949.21ZM961.43,1970.13H973.96V1976.73H961.43ZM973.66,1951.23H986.19V1957.83H973.66ZM985.89,1951.23H998.41V1957.83H985.89ZM985.89,1963.83H998.41V1970.43H985.89ZM985.89,1976.43H998.41V1983.03H985.89ZM998.11,1913.43H1010.64V1920.03H998.11ZM998.11,1951.23H1010.64V1957.83H998.11ZM998.11,1963.83H1010.64V1970.43H998.11ZM998.11,1976.43H1010.64V1983.03H998.11ZM1010.34,1919.73H1022.87V1926.33H1010.34ZM1022.57,1957.53H1035.09V1964.13H1022.57ZM1022.57,1970.13H1035.09V1976.73H1022.57ZM1034.79,1957.53H1047.32V1964.13H1034.79ZM1047.02,1913.43H1059.55V1920.03H1047.02ZM1047.02,1951.23H1059.55V1957.83H1047.02ZM1047.02,1957.53H1059.55V1964.13H1047.02ZM1047.02,1976.43H1059.55V1983.03H1047.02ZM1059.25,1963.83H1071.77V1970.43H1059.25ZM1059.25,1970.13H1071.77V1976.73H1059.25ZM1083.7,1970.13H1096.22V1976.73H1083.7ZM1108.15,1926.03H1120.68V1932.63H1108.15ZM1120.38,1951.23H1132.9V1957.83H1120.38ZM1132.6,1963.83H1145.13V1970.43H1132.6ZM1144.83,1951.23H1157.36V1957.83H1144.83ZM1157.06,1951.23H1169.58V1957.83H1157.06ZM1157.06,1970.13H1169.58V1976.73H1157.06ZM1169.28,1957.53H1181.81V1964.13H1169.28ZM1169.28,1963.83H1181.81V1970.43H1169.28ZM1169.28,1976.43H1181.81V1983.03H1169.28ZM1181.51,1913.43H1194.04V1920.03H1181.51ZM1181.51,1963.83H1194.04V1970.43H1181.51ZM1181.51,1970.13H1194.04V1976.73H1181.51ZM1193.74,1951.23H1206.26V1957.83H1193.74ZM1193.74,1957.53H1206.26V1964.13H1193.74ZM1193.74,1963.83H1206.26V1970.43H1193.74ZM1193.74,1976.43H1206.26V1983.03H1193.74ZM1205.96,1951.23H1218.49V1957.83H1205.96ZM1205.96,1957.53H1218.49V1964.13H1205.96ZM1205.96,1963.83H1218.49V1970.43H1205.96ZM1218.19,1957.53H1230.72V1964.13H1218.19ZM1218.19,1976.43H1230.72V1983.03H1218.19ZM1230.42,1944.93H1242.94V1951.53H1230.42ZM1230.42,1957.53H1242.94V1964.13H1230.42ZM1230.42,1963.83H1242.94V1970.43H1230.42ZM1230.42,1976.43H1242.94V1983.03H1230.42ZM1242.64,1963.83H1255.17V1970.43H1242.64ZM1242.64,1976.43H1255.17V1983.03H1242.64ZM1254.87,1932.33H1267.4V1938.93H1254.87ZM1254.87,1944.93H1267.4V1951.53H1254.87ZM1254.87,1957.53H1267.4V1964.13H1254.87ZM1267.1,1951.23H1279.62V1957.83H1267.1ZM1267.1,1963.83H1279.62V1970.43H1267.1ZM1291.55,1919.73H1304.08V1926.33H1291.55ZM1291.55,1963.83H1304.08V1970.43H1291.55ZM1303.78,1907.13H1316.3V1913.73H1303.78ZM1303.78,1913.43H1316.3V1920.03H1303.78ZM1303.78,1944.93H1316.3V1951.53H1303.78ZM1316,1913.43H1328.53V1920.03H1316ZM1316,1932.33H1328.53V1938.93H1316ZM1328.23,1907.13H1340.76V1913.73H1328.23ZM1328.23,1944.93H1340.76V1951.53H1328.23ZM1340.46,1951.23H1352.98V1957.83H1340.46ZM1352.68,1926.03H1365.21V1932.63H1352.68ZM1364.91,1913.43H1377.44V1920.03H1364.91ZM1364.91,1944.93H1377.44V1951.53H1364.91ZM1377.14,1907.13H1389.66V1913.73H1377.14ZM1377.14,1913.43H1389.66V1920.03H1377.14ZM1377.14,1938.63H1389.66V1945.23H1377.14ZM1377.14,1944.93H1389.66V1951.53H1377.14ZM1389.36,1913.43H1401.89V1920.03H1389.36ZM1389.36,1938.63H1401.89V1945.23H1389.36ZM1401.59,1926.03H1414.12V1932.63H1401.59ZM1413.82,1913.43H1426.34V1920.03H1413.82ZM1413.82,1926.03H1426.34V1932.63H1413.82ZM1413.82,1932.33H1426.34V1938.93H1413.82ZM1413.82,1944.93H1426.34V1951.53H1413.82ZM1426.04,1900.83H1438.57V1907.43H1426.04ZM1426.04,1951.23H1438.57V1957.83H1426.04ZM1438.27,1919.73H1450.8V1926.33H1438.27ZM1462.72,1976.43H1475.25V1983.03H1462.72ZM1474.95,1919.73H1487.47V1926.33H1474.95ZM1474.95,1926.03H1487.47V1932.63H1474.95ZM1487.17,1913.43H1499.7V1920.03H1487.17ZM1487.17,1919.73H1499.7V1926.33H1487.17ZM1487.17,1926.03H1499.7V1932.63H1487.17ZM1499.4,1913.43H1511.93V1920.03H1499.4ZM1499.4,1919.73H1511.93V1926.33H1499.4ZM1499.4,1938.63H1511.93V1945.23H1499.4ZM1499.4,1944.93H1511.93V1951.53H1499.4ZM1511.63,1938.63H1524.15V1945.23H1511.63ZM1511.63,1944.93H1524.15V1951.53H1511.63ZM1523.85,1919.73H1536.38V1926.33H1523.85ZM1523.85,1932.33H1536.38V1938.93H1523.85ZM1523.85,1938.63H1536.38V1945.23H1523.85ZM1536.08,1938.63H1548.61V1945.23H1536.08ZM1536.08,1951.23H1548.61V1957.83H1536.08ZM1548.31,1913.43H1560.83V1920.03H1548.31ZM1560.53,1926.03H1573.06V1932.63H1560.53ZM1560.53,1944.93H1573.06V1951.53H1560.53ZM1572.76,1919.73H1585.29V1926.33H1572.76ZM1572.76,1938.63H1585.29V1945.23H1572.76ZM1584.99,1919.73H1597.51V1926.33H1584.99ZM1584.99,1944.93H1597.51V1951.53H1584.99ZM1597.21,1919.73H1609.74V1926.33H1597.21ZM1597.21,1944.93H1609.74V1951.53H1597.21ZM1609.44,1907.13H1621.97V1913.73H1609.44ZM1609.44,1926.03H1621.97V1932.63H1609.44ZM1609.44,1938.63H1621.97V1945.23H1609.44ZM1609.44,1944.93H1621.97V1951.53H1609.44ZM1621.67,1913.43H1634.19V1920.03H1621.67ZM1621.67,1919.73H1634.19V1926.33H1621.67ZM1621.67,1926.03H1634.19V1932.63H1621.67ZM1633.89,1900.83H1646.42V1907.43H1633.89ZM1646.12,1907.13H1658.65V1913.73H1646.12ZM1646.12,1932.33H1658.65V1938.93H1646.12ZM1646.12,1938.63H1658.65V1945.23H1646.12ZM1658.35,1907.13H1670.87V1913.73H1658.35ZM1658.35,1913.43H1670.87V1920.03H1658.35ZM1658.35,1938.63H1670.87V1945.23H1658.35ZM1658.35,1944.93H1670.87V1951.53H1658.35ZM1658.35,1951.23H1670.87V1957.83H1658.35ZM1670.57,1907.13H1683.1V1913.73H1670.57ZM1670.57,1919.73H1683.1V1926.33H1670.57ZM1670.57,1926.03H1683.1V1932.63H1670.57ZM1670.57,1938.63H1683.1V1945.23H1670.57Z"/>
<path fill="#e1ff15" d="M117.8,1894.53H130.33V1901.13H117.8ZM117.8,1932.33H130.33V1938.93H117.8ZM130.03,1894.53H142.55V1901.13H130.03ZM130.03,1932.33H142.55V1938.93H130.03ZM130.03,1944.93H142.55V1951.53H130.03ZM130.03,1982.73H142.55V1989.33H130.03ZM142.25,1894.53H154.78V1901.13H142.25ZM142.25,1944.93H154.78V1951.53H142.25ZM154.48,1982.73H167.01V1989.33H154.48ZM166.71,1982.73H179.23V1989.33H166.71ZM178.93,1894.53H191.46V1901.13H178.93ZM178.93,1982.73H191.46V1989.33H178.93ZM215.61,1957.53H228.14V1964.13H215.61ZM227.84,1932.33H240.37V1938.93H227.84ZM227.84,1963.83H240.37V1970.43H227.84ZM240.07,1919.73H252.59V1926.33H240.07ZM240.07,1944.93H252.59V1951.53H240.07ZM252.29,1957.53H264.82V1964.13H252.29ZM252.29,1963.83H264.82V1970.43H252.29ZM264.52,1944.93H277.05V1951.53H264.52ZM264.52,1951.23H277.05V1957.83H264.52ZM264.52,1957.53H277.05V1964.13H264.52ZM264.52,1963.83H277.05V1970.43H264.52ZM264.52,1970.13H277.05V1976.73H264.52ZM276.75,1932.33H289.27V1938.93H276.75ZM301.2,1951.23H313.73V1957.83H301.2ZM301.2,1970.13H313.73V1976.73H301.2ZM301.2,1976.43H313.73V1983.03H301.2ZM313.43,1951.23H325.95V1957.83H313.43ZM325.65,1970.13H338.18V1976.73H325.65ZM337.88,1957.53H350.4V1964.13H337.88ZM337.88,1970.13H350.4V1976.73H337.88ZM350.1,1926.03H362.63V1932.63H350.1ZM350.1,1970.13H362.63V1976.73H350.1ZM350.1,1976.43H362.63V1983.03H350.1ZM374.56,1970.13H387.08V1976.73H374.56ZM386.78,1963.83H399.31V1970.43H386.78ZM386.78,1970.13H399.31V1976.73H386.78ZM399.01,1957.53H411.54V1964.13H399.01ZM411.24,1963.83H423.76V1970.43H411.24ZM411.24,1970.13H423.76V1976.73H411.24ZM411.24,1982.73H423.76V1989.33H411.24ZM423.46,1970.13H435.99V1976.73H423.46ZM435.69,1963.83H448.22V1970.43H435.69ZM435.69,1970.13H448.22V1976.73H435.69ZM447.92,1963.83H460.44V1970.43H447.92ZM447.92,1976.43H460.44V1983.03H447.92ZM472.37,1976.43H484.9V1983.03H472.37ZM888.07,1957.53H900.6V1964.13H888.07ZM912.53,1963.83H925.05V1970.43H912.53ZM912.53,1970.13H925.05V1976.73H912.53ZM949.21,1926.03H961.73V1932.63H949.21ZM949.21,1970.13H961.73V1976.73H949.21ZM961.43,1957.53H973.96V1964.13H961.43ZM961.43,1963.83H973.96V1970.43H961.43ZM973.66,1957.53H986.19V1964.13H973.66ZM985.89,1970.13H998.41V1976.73H985.89ZM998.11,1970.13H1010.64V1976.73H998.11ZM1010.34,1970.13H1022.87V1976.73H1010.34ZM1010.34,1976.43H1022.87V1983.03H1010.34ZM1022.57,1951.23H1035.09V1957.83H1022.57ZM1022.57,1963.83H1035.09V1970.43H1022.57ZM1022.57,1976.43H1035.09V1983.03H1022.57ZM1047.02,1963.83H1059.55V1970.43H1047.02ZM1059.25,1951.23H1071.77V1957.83H1059.25ZM1071.47,1976.43H1084V1983.03H1071.47ZM1157.06,1963.83H1169.58V1970.43H1157.06ZM1181.51,1957.53H1194.04V1964.13H1181.51ZM1193.74,1970.13H1206.26V1976.73H1193.74ZM1218.19,1951.23H1230.72V1957.83H1218.19ZM1218.19,1982.73H1230.72V1989.33H1218.19ZM1230.42,1951.23H1242.94V1957.83H1230.42ZM1230.42,1982.73H1242.94V1989.33H1230.42ZM1242.64,1926.03H1255.17V1932.63H1242.64ZM1242.64,1957.53H1255.17V1964.13H1242.64ZM1254.87,1963.83H1267.4V1970.43H1254.87ZM1254.87,1970.13H1267.4V1976.73H1254.87ZM1254.87,1976.43H1267.4V1983.03H1254.87ZM1267.1,1957.53H1279.62V1964.13H1267.1ZM1267.1,1976.43H1279.62V1983.03H1267.1ZM1279.32,1957.53H1291.85V1964.13H1279.32ZM1279.32,1963.83H1291.85V1970.43H1279.32ZM1291.55,1951.23H1304.08V1957.83H1291.55ZM1291.55,1957.53H1304.08V1964.13H1291.55ZM1303.78,1951.23H1316.3V1957.83H1303.78ZM1303.78,1957.53H1316.3V1964.13H1303.78ZM1316,2014.23H1328.53V2020.83H1316ZM1340.46,1932.33H1352.98V1938.93H1340.46ZM1352.68,1944.93H1365.21V1951.53H1352.68ZM1352.68,1957.53H1365.21V1964.13H1352.68ZM1377.14,1919.73H1389.66V1926.33H1377.14ZM1389.36,1957.53H1401.89V1964.13H1389.36ZM1389.36,1970.13H1401.89V1976.73H1389.36ZM1401.59,1963.83H1414.12V1970.43H1401.59ZM1413.82,1951.23H1426.34V1957.83H1413.82ZM1413.82,1957.53H1426.34V1964.13H1413.82ZM1426.04,1957.53H1438.57V1964.13H1426.04ZM1426.04,1963.83H1438.57V1970.43H1426.04ZM1438.27,1926.03H1450.8V1932.63H1438.27ZM1450.5,1982.73H1463.02V1989.33H1450.5ZM1462.72,1963.83H1475.25V1970.43H1462.72ZM1474.95,1944.93H1487.47V1951.53H1474.95ZM1474.95,1951.23H1487.47V1957.83H1474.95ZM1487.17,1938.63H1499.7V1945.23H1487.17ZM1487.17,1944.93H1499.7V1951.53H1487.17ZM1487.17,1951.23H1499.7V1957.83H1487.17ZM1487.17,1957.53H1499.7V1964.13H1487.17ZM1499.4,1951.23H1511.93V1957.83H1499.4ZM1499.4,1957.53H1511.93V1964.13H1499.4ZM1511.63,1957.53H1524.15V1964.13H1511.63ZM1511.63,1970.13H1524.15V1976.73H1511.63ZM1523.85,1926.03H1536.38V1932.63H1523.85ZM1523.85,1944.93H1536.38V1951.53H1523.85ZM1523.85,1951.23H1536.38V1957.83H1523.85ZM1523.85,1957.53H1536.38V1964.13H1523.85ZM1548.31,1919.73H1560.83V1926.33H1548.31ZM1548.31,1951.23H1560.83V1957.83H1548.31ZM1560.53,1951.23H1573.06V1957.83H1560.53ZM1572.76,1907.13H1585.29V1913.73H1572.76ZM1572.76,1932.33H1585.29V1938.93H1572.76ZM1572.76,1944.93H1585.29V1951.53H1572.76ZM1584.99,1926.03H1597.51V1932.63H1584.99ZM1584.99,1932.33H1597.51V1938.93H1584.99ZM1584.99,1938.63H1597.51V1945.23H1584.99ZM1584.99,1951.23H1597.51V1957.83H1584.99ZM1597.21,1938.63H1609.74V1945.23H1597.21ZM1597.21,1951.23H1609.74V1957.83H1597.21ZM1597.21,1963.83H1609.74V1970.43H1597.21ZM1609.44,1957.53H1621.97V1964.13H1609.44ZM1609.44,2014.23H1621.97V2020.83H1609.44ZM1621.67,1932.33H1634.19V1938.93H1621.67ZM1621.67,1951.23H1634.19V1957.83H1621.67ZM1633.89,1938.63H1646.42V1945.23H1633.89ZM1633.89,1957.53H1646.42V1964.13H1633.89ZM1646.12,1944.93H1658.65V1951.53H1646.12ZM1658.35,1932.33H1670.87V1938.93H1658.35ZM1670.57,1913.43H1683.1V1920.03H1670.57ZM1670.57,1951.23H1683.1V1957.83H1670.57Z"/>
<path fill="#e8ff0f" d="M142.25,1932.33H154.78V1938.93H142.25ZM166.71,1989.03H179.23V1995.63H166.71ZM178.93,1932.33H191.46V1938.93H178.93ZM178.93,1989.03H191.46V1995.63H178.93ZM191.16,1944.93H203.69V1951.53H191.16ZM203.39,1957.53H215.91V1964.13H203.39ZM215.61,1951.23H228.14V1957.83H215.61ZM227.84,1944.93H240.37V1951.53H227.84ZM240.07,1957.53H252.59V1964.13H240.07ZM252.29,1970.13H264.82V1976.73H252.29ZM276.75,1957.53H289.27V1964.13H276.75ZM288.97,1970.13H301.5V1976.73H288.97ZM301.2,1982.73H313.73V1989.33H301.2ZM313.43,1976.43H325.95V1983.03H313.43ZM313.43,1982.73H325.95V1989.33H313.43ZM325.65,1976.43H338.18V1983.03H325.65ZM362.33,1976.43H374.86V1983.03H362.33ZM374.56,1976.43H387.08V1983.03H374.56ZM386.78,1976.43H399.31V1983.03H386.78ZM399.01,1982.73H411.54V1989.33H399.01ZM423.46,1976.43H435.99V1983.03H423.46ZM423.46,1982.73H435.99V1989.33H423.46ZM447.92,1970.13H460.44V1976.73H447.92ZM472.37,1982.73H484.9V1989.33H472.37ZM1010.34,1957.53H1022.87V1964.13H1010.34ZM1034.79,1970.13H1047.32V1976.73H1034.79ZM1059.25,1982.73H1071.77V1989.33H1059.25ZM1071.47,1957.53H1084V1964.13H1071.47ZM1083.7,1957.53H1096.22V1964.13H1083.7ZM1095.92,1963.83H1108.45V1970.43H1095.92ZM1120.38,1957.53H1132.9V1964.13H1120.38ZM1157.06,1957.53H1169.58V1964.13H1157.06ZM1169.28,1970.13H1181.81V1976.73H1169.28ZM1193.74,1982.73H1206.26V1989.33H1193.74ZM1205.96,1970.13H1218.49V1976.73H1205.96ZM1205.96,1982.73H1218.49V1989.33H1205.96ZM1242.64,1970.13H1255.17V1976.73H1242.64ZM1254.87,1951.23H1267.4V1957.83H1254.87ZM1279.32,1951.23H1291.85V1957.83H1279.32ZM1279.32,1976.43H1291.85V1983.03H1279.32ZM1291.55,1976.43H1304.08V1983.03H1291.55ZM1303.78,1970.13H1316.3V1976.73H1303.78ZM1303.78,1976.43H1316.3V1983.03H1303.78ZM1303.78,2026.83H1316.3V2033.43H1303.78ZM1316,1951.23H1328.53V1957.83H1316ZM1316,1957.53H1328.53V1964.13H1316ZM1316,1963.83H1328.53V1970.43H1316ZM1316,1970.13H1328.53V1976.73H1316ZM1328.23,1951.23H1340.76V1957.83H1328.23ZM1328.23,1957.53H1340.76V1964.13H1328.23ZM1328.23,1963.83H1340.76V1970.43H1328.23ZM1328.23,1970.13H1340.76V1976.73H1328.23ZM1340.46,1957.53H1352.98V1964.13H1340.46ZM1340.46,1970.13H1352.98V1976.73H1340.46ZM1352.68,1951.23H1365.21V1957.83H1352.68ZM1352.68,1963.83H1365.21V1970.43H1352.68ZM1364.91,1951.23H1377.44V1957.83H1364.91ZM1364.91,1957.53H1377.44V1964.13H1364.91ZM1364.91,1976.43H1377.44V1983.03H1364.91ZM1377.14,1963.83H1389.66V1970.43H1377.14ZM1377.14,1970.13H1389.66V1976.73H1377.14ZM1401.59,1957.53H1414.12V1964.13H1401.59ZM1438.27,1951.23H1450.8V1957.83H1438.27ZM1462.72,1982.73H1475.25V1989.33H1462.72ZM1487.17,1970.13H1499.7V1976.73H1487.17ZM1499.4,1963.83H1511.93V1970.43H1499.4ZM1499.4,1970.13H1511.93V1976.73H1499.4ZM1511.63,1976.43H1524.15V1983.03H1511.63ZM1548.31,1957.53H1560.83V1964.13H1548.31ZM1560.53,1976.43H1573.06V1983.03H1560.53ZM1572.76,1951.23H1585.29V1957.83H1572.76ZM1572.76,1957.53H1585.29V1964.13H1572.76ZM1597.21,1970.13H1609.74V1976.73H1597.21ZM1609.44,1951.23H1621.97V1957.83H1609.44ZM1609.44,1963.83H1621.97V1970.43H1609.44ZM1621.67,1957.53H1634.19V1964.13H1621.67ZM1633.89,1963.83H1646.42V1970.43H1633.89ZM1646.12,1913.43H1658.65V1920.03H1646.12ZM1646.12,1957.53H1658.65V1964.13H1646.12ZM1646.12,1963.83H1658.65V1970.43H1646.12ZM1646.12,1970.13H1658.65V1976.73H1646.12ZM1658.35,1963.83H1670.87V1970.43H1658.35Z"/>
<path fill="#efff08" d="M117.8,1926.03H130.33V1932.63H117.8ZM117.8,1989.03H130.33V1995.63H117.8ZM130.03,1926.03H142.55V1932.63H130.03ZM142.25,1926.03H154.78V1932.63H142.25ZM154.48,1900.83H167.01V1907.43H154.48ZM154.48,1926.03H167.01V1932.63H154.48ZM154.48,1989.03H167.01V1995.63H154.48ZM178.93,1900.83H191.46V1907.43H178.93ZM191.16,1951.23H203.69V1957.83H191.16ZM203.39,1944.93H215.91V1951.53H203.39ZM215.61,1944.93H228.14V1951.53H215.61ZM215.61,1963.83H228.14V1970.43H215.61ZM227.84,1970.13H240.37V1976.73H227.84ZM227.84,1976.43H240.37V1983.03H227.84ZM240.07,1963.83H252.59V1970.43H240.07ZM252.29,1982.73H264.82V1989.33H252.29ZM264.52,1976.43H277.05V1983.03H264.52ZM264.52,1982.73H277.05V1989.33H264.52ZM276.75,1976.43H289.27V1983.03H276.75ZM325.65,1982.73H338.18V1989.33H325.65ZM325.65,2014.23H338.18V2020.83H325.65ZM350.1,1982.73H362.63V1989.33H350.1ZM362.33,1982.73H374.86V1989.33H362.33ZM411.24,1957.53H423.76V1964.13H411.24ZM411.24,1976.43H423.76V1983.03H411.24ZM435.69,1976.43H448.22V1983.03H435.69ZM435.69,1982.73H448.22V1989.33H435.69ZM447.92,1982.73H460.44V1989.33H447.92ZM460.14,1976.43H472.67V1983.03H460.14ZM839.17,1989.03H851.69V1995.63H839.17ZM1059.25,1957.53H1071.77V1964.13H1059.25ZM1132.6,1957.53H1145.13V1964.13H1132.6ZM1144.83,1957.53H1157.36V1964.13H1144.83ZM1242.64,1982.73H1255.17V1989.33H1242.64ZM1254.87,1982.73H1267.4V1989.33H1254.87ZM1267.1,1982.73H1279.62V1989.33H1267.1ZM1279.32,1970.13H1291.85V1976.73H1279.32ZM1340.46,1963.83H1352.98V1970.43H1340.46ZM1340.46,1976.43H1352.98V1983.03H1340.46ZM1364.91,1963.83H1377.44V1970.43H1364.91ZM1377.14,1957.53H1389.66V1964.13H1377.14ZM1389.36,1963.83H1401.89V1970.43H1389.36ZM1401.59,1951.23H1414.12V1957.83H1401.59ZM1401.59,1970.13H1414.12V1976.73H1401.59ZM1401.59,1976.43H1414.12V1983.03H1401.59ZM1413.82,1963.83H1426.34V1970.43H1413.82ZM1413.82,1970.13H1426.34V1976.73H1413.82ZM1413.82,1976.43H1426.34V1983.03H1413.82ZM1426.04,1970.13H1438.57V1976.73H1426.04ZM1438.27,1963.83H1450.8V1970.43H1438.27ZM1438.27,1970.13H1450.8V1976.73H1438.27ZM1438.27,1976.43H1450.8V1983.03H1438.27ZM1450.5,1989.03H1463.02V1995.63H1450.5ZM1474.95,1963.83H1487.47V1970.43H1474.95ZM1474.95,1970.13H1487.47V1976.73H1474.95ZM1474.95,1976.43H1487.47V1983.03H1474.95ZM1487.17,1963.83H1499.7V1970.43H1487.17ZM1499.4,1976.43H1511.93V1983.03H1499.4ZM1511.63,1951.23H1524.15V1957.83H1511.63ZM1523.85,1976.43H1536.38V1983.03H1523.85ZM1536.08,1963.83H1548.61V1970.43H1536.08ZM1548.31,1963.83H1560.83V1970.43H1548.31ZM1548.31,1970.13H1560.83V1976.73H1548.31ZM1560.53,1963.83H1573.06V1970.43H1560.53ZM1560.53,1970.13H1573.06V1976.73H1560.53ZM1572.76,1963.83H1585.29V1970.43H1572.76ZM1572.76,1976.43H1585.29V1983.03H1572.76ZM1584.99,1957.53H1597.51V1964.13H1584.99ZM1584.99,1963.83H1597.51V1970.43H1584.99ZM1584.99,1970.13H1597.51V1976.73H1584.99ZM1597.21,1957.53H1609.74V1964.13H1597.21ZM1609.44,1970.13H1621.97V1976.73H1609.44ZM1633.89,1951.23H1646.42V1957.83H1633.89ZM1633.89,1970.13H1646.42V1976.73H1633.89ZM1646.12,1976.43H1658.65V1983.03H1646.12ZM1658.35,1957.53H1670.87V1964.13H1658.35ZM1670.57,1957.53H1683.1V1964.13H1670.57ZM1670.57,1970.13H1683.1V1976.73H1670.57Z"/>
<path fill="#f5f702" d="M142.25,1900.83H154.78V1907.43H142.25ZM142.25,1989.03H154.78V1995.63H142.25ZM166.71,1926.03H179.23V1932.63H166.71ZM178.93,1926.03H191.46V1932.63H178.93ZM191.16,1963.83H203.69V1970.43H191.16ZM203.39,1951.23H215.91V1957.83H203.39ZM215.61,1970.13H228.14V1976.73H215.61ZM227.84,1957.53H240.37V1964.13H227.84ZM240.07,1951.23H252.59V1957.83H240.07ZM240.07,1970.13H252.59V1976.73H240.07ZM252.29,1976.43H264.82V1983.03H252.29ZM276.75,1982.73H289.27V1989.33H276.75ZM288.97,1982.73H301.5V1989.33H288.97ZM337.88,1976.43H350.4V1983.03H337.88ZM337.88,1982.73H350.4V1989.33H337.88ZM374.56,1982.73H387.08V1989.33H374.56ZM386.78,1982.73H399.31V1989.33H386.78ZM399.01,1976.43H411.54V1983.03H399.01ZM521.28,1989.03H533.8V1995.63H521.28ZM545.73,1989.03H558.26V1995.63H545.73ZM557.96,1989.03H570.48V1995.63H557.96ZM631.32,1989.03H643.84V1995.63H631.32ZM863.62,1989.03H876.15V1995.63H863.62ZM1010.34,1989.03H1022.87V1995.63H1010.34ZM1047.02,1989.03H1059.55V1995.63H1047.02ZM1059.25,1989.03H1071.77V1995.63H1059.25ZM1157.06,1989.03H1169.58V1995.63H1157.06ZM1169.28,1989.03H1181.81V1995.63H1169.28ZM1205.96,1989.03H1218.49V1995.63H1205.96ZM1267.1,1970.13H1279.62V1976.73H1267.1ZM1291.55,1982.73H1304.08V1989.33H1291.55ZM1303.78,1982.73H1316.3V1989.33H1303.78ZM1316,1976.43H1328.53V1983.03H1316ZM1328.23,1976.43H1340.76V1983.03H1328.23ZM1352.68,1970.13H1365.21V1976.73H1352.68ZM1352.68,1976.43H1365.21V1983.03H1352.68ZM1364.91,1970.13H1377.44V1976.73H1364.91ZM1377.14,1976.43H1389.66V1983.03H1377.14ZM1389.36,1976.43H1401.89V1983.03H1389.36ZM1487.17,1976.43H1499.7V1983.03H1487.17ZM1523.85,1963.83H1536.38V1970.43H1523.85ZM1523.85,1970.13H1536.38V1976.73H1523.85ZM1536.08,1957.53H1548.61V1964.13H1536.08ZM1536.08,1976.43H1548.61V1983.03H1536.08ZM1560.53,1957.53H1573.06V1964.13H1560.53ZM1560.53,1982.73H1573.06V1989.33H1560.53ZM1572.76,1970.13H1585.29V1976.73H1572.76ZM1584.99,1976.43H1597.51V1983.03H1584.99ZM1621.67,1970.13H1634.19V1976.73H1621.67ZM1621.67,1976.43H1634.19V1983.03H1621.67ZM1633.89,1976.43H1646.42V1983.03H1633.89ZM1658.35,1970.13H1670.87V1976.73H1658.35ZM1658.35,1976.43H1670.87V1983.03H1658.35ZM1670.57,1963.83H1683.1V1970.43H1670.57ZM1670.57,1976.43H1683.1V1983.03H1670.57Z"/>
<path fill="#fcf000" d="M117.8,1900.83H130.33V1907.43H117.8ZM117.8,1919.73H130.33V1926.33H117.8ZM130.03,1900.83H142.55V1907.43H130.03ZM130.03,1989.03H142.55V1995.63H130.03ZM166.71,1900.83H179.23V1907.43H166.71ZM166.71,1907.13H179.23V1913.73H166.71ZM178.93,1907.13H191.46V1913.73H178.93ZM178.93,1919.73H191.46V1926.33H178.93ZM191.16,1957.53H203.69V1964.13H191.16ZM191.16,1970.13H203.69V1976.73H191.16ZM203.39,1963.83H215.91V1970.43H203.39ZM203.39,1970.13H215.91V1976.73H203.39ZM215.61,1976.43H228.14V1983.03H215.61ZM240.07,1976.43H252.59V1983.03H240.07ZM240.07,1982.73H252.59V1989.33H240.07ZM460.14,1982.73H472.67V1989.33H460.14ZM496.82,1989.03H509.35V1995.63H496.82ZM594.64,1989.03H607.16V1995.63H594.64ZM606.86,1989.03H619.39V1995.63H606.86ZM643.54,1989.03H656.07V1995.63H643.54ZM655.77,1989.03H668.3V1995.63H655.77ZM655.77,2020.53H668.3V2027.13H655.77ZM668,1989.03H680.52V1995.63H668ZM814.71,2020.53H827.24V2027.13H814.71ZM826.94,1989.03H839.47V1995.63H826.94ZM826.94,2020.53H839.47V2027.13H826.94ZM875.85,1989.03H888.37V1995.63H875.85ZM888.07,1989.03H900.6V1995.63H888.07ZM900.3,1989.03H912.83V1995.63H900.3ZM973.66,1989.03H986.19V1995.63H973.66ZM998.11,1989.03H1010.64V1995.63H998.11ZM1022.57,1989.03H1035.09V1995.63H1022.57ZM1071.47,1989.03H1084V1995.63H1071.47ZM1120.38,1989.03H1132.9V1995.63H1120.38ZM1132.6,1989.03H1145.13V1995.63H1132.6ZM1144.83,1989.03H1157.36V1995.63H1144.83ZM1181.51,1989.03H1194.04V1995.63H1181.51ZM1193.74,1989.03H1206.26V1995.63H1193.74ZM1218.19,1989.03H1230.72V1995.63H1218.19ZM1242.64,1989.03H1255.17V1995.63H1242.64ZM1267.1,1989.03H1279.62V1995.63H1267.1ZM1279.32,1982.73H1291.85V1989.33H1279.32ZM1316,1982.73H1328.53V1989.33H1316ZM1328.23,1982.73H1340.76V1989.33H1328.23ZM1340.46,1982.73H1352.98V1989.33H1340.46ZM1377.14,1982.73H1389.66V1989.33H1377.14ZM1401.59,1982.73H1414.12V1989.33H1401.59ZM1487.17,1982.73H1499.7V1989.33H1487.17ZM1511.63,1982.73H1524.15V1989.33H1511.63ZM1523.85,1982.73H1536.38V1989.33H1523.85ZM1536.08,1970.13H1548.61V1976.73H1536.08ZM1597.21,1976.43H1609.74V1983.03H1597.21ZM1609.44,1976.43H1621.97V1983.03H1609.44ZM1670.57,1982.73H1683.1V1989.33H1670.57Z"/>
<path fill="#ff3b00" d="M1499.4,2039.43H1511.93V2046.03H1499.4ZM1560.53,2033.13H1573.06V2039.73H1560.53ZM1572.76,2033.13H1585.29V2039.73H1572.76ZM1609.44,2033.13H1621.97V2039.73H1609.44Z"/>
<path fill="#ff4200" d="M1364.91,2026.83H1377.44V2033.43H1364.91ZM1364.91,2033.13H1377.44V2039.73H1364.91ZM1364.91,2039.43H1377.44V2046.03H1364.91ZM1377.14,2033.13H1389.66V2039.73H1377.14ZM1401.59,2033.13H1414.12V2039.73H1401.59ZM1474.95,2033.13H1487.47V2039.73H1474.95ZM1511.63,2039.43H1524.15V2046.03H1511.63ZM1523.85,2026.83H1536.38V2033.43H1523.85ZM1536.08,2033.13H1548.61V2039.73H1536.08ZM1536.08,2039.43H1548.61V2046.03H1536.08ZM1584.99,2033.13H1597.51V2039.73H1584.99ZM1621.67,2033.13H1634.19V2039.73H1621.67ZM1633.89,2039.43H1646.42V2046.03H1633.89ZM1646.12,2033.13H1658.65V2039.73H1646.12ZM1658.35,2039.43H1670.87V2046.03H1658.35ZM1670.57,2033.13H1683.1V2039.73H1670.57Z"/>
<path fill="#ff4a00" d="M1340.46,2026.83H1352.98V2033.43H1340.46ZM1340.46,2033.13H1352.98V2039.73H1340.46ZM1352.68,2033.13H1365.21V2039.73H1352.68ZM1377.14,2026.83H1389.66V2033.43H1377.14ZM1377.14,2039.43H1389.66V2046.03H1377.14ZM1389.36,2033.13H1401.89V2039.73H1389.36ZM1413.82,2033.13H1426.34V2039.73H1413.82ZM1426.04,2026.83H1438.57V2033.43H1426.04ZM1438.27,2026.83H1450.8V2033.43H1438.27ZM1450.5,2033.13H1463.02V2039.73H1450.5ZM1462.72,2033.13H1475.25V2039.73H1462.72ZM1474.95,2026.83H1487.47V2033.43H1474.95ZM1474.95,2039.43H1487.47V2046.03H1474.95ZM1487.17,2033.13H1499.7V2039.73H1487.17ZM1499.4,2026.83H1511.93V2033.43H1499.4ZM1511.63,2033.13H1524.15V2039.73H1511.63ZM1523.85,2033.13H1536.38V2039.73H1523.85ZM1548.31,2033.13H1560.83V2039.73H1548.31ZM1548.31,2039.43H1560.83V2046.03H1548.31ZM1572.76,2026.83H1585.29V2033.43H1572.76ZM1609.44,2026.83H1621.97V2033.43H1609.44ZM1609.44,2039.43H1621.97V2046.03H1609.44ZM1621.67,2026.83H1634.19V2033.43H1621.67ZM1621.67,2039.43H1634.19V2046.03H1621.67ZM1633.89,2033.13H1646.42V2039.73H1633.89ZM1646.12,2039.43H1658.65V2046.03H1646.12ZM1670.57,2039.43H1683.1V2046.03H1670.57Z"/>
<path fill="#ff5100" d="M1328.23,2026.83H1340.76V2033.43H1328.23ZM1352.68,2026.83H1365.21V2033.43H1352.68ZM1364.91,2020.53H1377.44V2027.13H1364.91ZM1389.36,2039.43H1401.89V2046.03H1389.36ZM1401.59,2020.53H1414.12V2027.13H1401.59ZM1401.59,2026.83H1414.12V2033.43H1401.59ZM1401.59,2039.43H1414.12V2046.03H1401.59ZM1413.82,2039.43H1426.34V2046.03H1413.82ZM1438.27,2039.43H1450.8V2046.03H1438.27ZM1450.5,2026.83H1463.02V2033.43H1450.5ZM1450.5,2039.43H1463.02V2046.03H1450.5ZM1462.72,2020.53H1475.25V2027.13H1462.72ZM1462.72,2026.83H1475.25V2033.43H1462.72ZM1462.72,2039.43H1475.25V2046.03H1462.72ZM1474.95,2020.53H1487.47V2027.13H1474.95ZM1487.17,2026.83H1499.7V2033.43H1487.17ZM1511.63,2026.83H1524.15V2033.43H1511.63ZM1523.85,2039.43H1536.38V2046.03H1523.85ZM1548.31,2026.83H1560.83V2033.43H1548.31ZM1560.53,2039.43H1573.06V2046.03H1560.53ZM1584.99,2026.83H1597.51V2033.43H1584.99ZM1597.21,2026.83H1609.74V2033.43H1597.21ZM1597.21,2033.13H1609.74V2039.73H1597.21ZM1597.21,2039.43H1609.74V2046.03H1597.21ZM1609.44,2020.53H1621.97V2027.13H1609.44ZM1646.12,2020.53H1658.65V2027.13H1646.12ZM1658.35,2033.13H1670.87V2039.73H1658.35ZM1670.57,2020.53H1683.1V2027.13H1670.57Z"/>
<path fill="#ff5900" d="M301.2,2014.23H313.73V2020.83H301.2ZM1340.46,2020.53H1352.98V2027.13H1340.46ZM1352.68,2020.53H1365.21V2027.13H1352.68ZM1389.36,2045.73H1401.89V2052.33H1389.36ZM1401.59,2045.73H1414.12V2052.33H1401.59ZM1413.82,2020.53H1426.34V2027.13H1413.82ZM1413.82,2045.73H1426.34V2052.33H1413.82ZM1426.04,2020.53H1438.57V2027.13H1426.04ZM1426.04,2039.43H1438.57V2046.03H1426.04ZM1438.27,2020.53H1450.8V2027.13H1438.27ZM1438.27,2045.73H1450.8V2052.33H1438.27ZM1450.5,2020.53H1463.02V2027.13H1450.5ZM1487.17,2020.53H1499.7V2027.13H1487.17ZM1487.17,2039.43H1499.7V2046.03H1487.17ZM1499.4,2033.13H1511.93V2039.73H1499.4ZM1536.08,2020.53H1548.61V2027.13H1536.08ZM1548.31,2020.53H1560.83V2027.13H1548.31ZM1548.31,2045.73H1560.83V2052.33H1548.31ZM1572.76,2039.43H1585.29V2046.03H1572.76ZM1584.99,2020.53H1597.51V2027.13H1584.99ZM1584.99,2039.43H1597.51V2046.03H1584.99ZM1584.99,2045.73H1597.51V2052.33H1584.99ZM1633.89,2020.53H1646.42V2027.13H1633.89ZM1633.89,2045.73H1646.42V2052.33H1633.89ZM1658.35,2020.53H1670.87V2027.13H1658.35Z"/>
<path fill="#ff6000" d="M191.16,2014.23H203.69V2020.83H191.16ZM337.88,2014.23H350.4V2020.83H337.88ZM362.33,2014.23H374.86V2020.83H362.33ZM423.46,2014.23H435.99V2020.83H423.46ZM1291.55,2020.53H1304.08V2027.13H1291.55ZM1303.78,2020.53H1316.3V2027.13H1303.78ZM1316,2020.53H1328.53V2027.13H1316ZM1316,2026.83H1328.53V2033.43H1316ZM1328.23,2020.53H1340.76V2027.13H1328.23ZM1377.14,2045.73H1389.66V2052.33H1377.14ZM1389.36,2026.83H1401.89V2033.43H1389.36ZM1426.04,2045.73H1438.57V2052.33H1426.04ZM1572.76,2045.73H1585.29V2052.33H1572.76ZM1621.67,2020.53H1634.19V2027.13H1621.67ZM1621.67,2045.73H1634.19V2052.33H1621.67ZM1646.12,2045.73H1658.65V2052.33H1646.12Z"/>
<path fill="#ff6800" d="M215.61,2014.23H228.14V2020.83H215.61ZM264.52,2014.23H277.05V2020.83H264.52ZM301.2,2020.53H313.73V2027.13H301.2ZM313.43,2020.53H325.95V2027.13H313.43ZM399.01,2020.53H411.54V2027.13H399.01ZM423.46,2020.53H435.99V2027.13H423.46ZM998.11,2020.53H1010.64V2027.13H998.11ZM1157.06,2020.53H1169.58V2027.13H1157.06ZM1242.64,2020.53H1255.17V2027.13H1242.64ZM1279.32,2020.53H1291.85V2027.13H1279.32ZM1462.72,2045.73H1475.25V2052.33H1462.72ZM1523.85,2014.23H1536.38V2020.83H1523.85ZM1523.85,2020.53H1536.38V2027.13H1523.85ZM1560.53,2014.23H1573.06V2020.83H1560.53ZM1560.53,2020.53H1573.06V2027.13H1560.53ZM1560.53,2045.73H1573.06V2052.33H1560.53ZM1646.12,2052.03H1658.65V2058.63H1646.12ZM1670.57,2014.23H1683.1V2020.83H1670.57ZM1670.57,2045.73H1683.1V2052.33H1670.57Z"/>
<path fill="#ff6f00" d="M203.39,2020.53H215.91V2027.13H203.39ZM227.84,2014.23H240.37V2020.83H227.84ZM240.07,2014.23H252.59V2020.83H240.07ZM240.07,2020.53H252.59V2027.13H240.07ZM252.29,2014.23H264.82V2020.83H252.29ZM264.52,2020.53H277.05V2027.13H264.52ZM276.75,2014.23H289.27V2020.83H276.75ZM288.97,2020.53H301.5V2027.13H288.97ZM374.56,2014.23H387.08V2020.83H374.56ZM399.01,2014.23H411.54V2020.83H399.01ZM411.24,2014.23H423.76V2020.83H411.24ZM435.69,2020.53H448.22V2027.13H435.69ZM985.89,2020.53H998.41V2027.13H985.89ZM1169.28,2020.53H1181.81V2027.13H1169.28ZM1205.96,2020.53H1218.49V2027.13H1205.96ZM1254.87,2020.53H1267.4V2027.13H1254.87ZM1267.1,2020.53H1279.62V2027.13H1267.1ZM1364.91,2014.23H1377.44V2020.83H1364.91ZM1401.59,2014.23H1414.12V2020.83H1401.59ZM1413.82,2052.03H1426.34V2058.63H1413.82ZM1426.04,2014.23H1438.57V2020.83H1426.04ZM1438.27,2014.23H1450.8V2020.83H1438.27ZM1450.5,2045.73H1463.02V2052.33H1450.5ZM1548.31,2014.23H1560.83V2020.83H1548.31ZM1572.76,2014.23H1585.29V2020.83H1572.76ZM1633.89,2014.23H1646.42V2020.83H1633.89ZM1658.35,2045.73H1670.87V2052.33H1658.35Z"/>
<path fill="#ff7700" d="M191.16,2020.53H203.69V2027.13H191.16ZM203.39,2014.23H215.91V2020.83H203.39ZM215.61,2020.53H228.14V2027.13H215.61ZM227.84,2020.53H240.37V2027.13H227.84ZM252.29,2020.53H264.82V2027.13H252.29ZM276.75,2020.53H289.27V2027.13H276.75ZM313.43,2014.23H325.95V2020.83H313.43ZM337.88,2020.53H350.4V2027.13H337.88ZM350.1,2014.23H362.63V2020.83H350.1ZM350.1,2020.53H362.63V2027.13H350.1ZM386.78,2014.23H399.31V2020.83H386.78ZM386.78,2020.53H399.31V2027.13H386.78ZM435.69,2014.23H448.22V2020.83H435.69ZM447.92,2014.23H460.44V2020.83H447.92ZM460.14,2014.23H472.67V2020.83H460.14ZM460.14,2020.53H472.67V2027.13H460.14ZM949.21,2020.53H961.73V2027.13H949.21ZM961.43,2020.53H973.96V2027.13H961.43ZM1010.34,2014.23H1022.87V2020.83H1010.34ZM1010.34,2020.53H1022.87V2027.13H1010.34ZM1034.79,2014.23H1047.32V2020.83H1034.79ZM1047.02,2020.53H1059.55V2027.13H1047.02ZM1059.25,2020.53H1071.77V2027.13H1059.25ZM1083.7,2020.53H1096.22V2027.13H1083.7ZM1095.92,2014.23H1108.45V2020.83H1095.92ZM1120.38,2020.53H1132.9V2027.13H1120.38ZM1132.6,2020.53H1145.13V2027.13H1132.6ZM1144.83,2020.53H1157.36V2027.13H1144.83ZM1218.19,2020.53H1230.72V2027.13H1218.19ZM1230.42,2020.53H1242.94V2027.13H1230.42ZM1303.78,2014.23H1316.3V2020.83H1303.78ZM1377.14,2014.23H1389.66V2020.83H1377.14ZM1389.36,2014.23H1401.89V2020.83H1389.36ZM1438.27,2052.03H1450.8V2058.63H1438.27ZM1450.5,2014.23H1463.02V2020.83H1450.5ZM1499.4,2014.23H1511.93V2020.83H1499.4ZM1511.63,2014.23H1524.15V2020.83H1511.63ZM1548.31,2052.03H1560.83V2058.63H1548.31ZM1633.89,2052.03H1646.42V2058.63H1633.89ZM1646.12,2014.23H1658.65V2020.83H1646.12Z"/>
<path fill="#ff7f00" d="M325.65,2020.53H338.18V2027.13H325.65ZM374.56,2020.53H387.08V2027.13H374.56ZM472.37,2014.23H484.9V2020.83H472.37ZM973.66,2020.53H986.19V2027.13H973.66ZM1022.57,2014.23H1035.09V2020.83H1022.57ZM1022.57,2020.53H1035.09V2027.13H1022.57ZM1169.28,2014.23H1181.81V2020.83H1169.28ZM1230.42,2007.93H1242.94V2014.53H1230.42ZM1279.32,2026.83H1291.85V2033.43H1279.32ZM1291.55,2014.23H1304.08V2020.83H1291.55ZM1328.23,2007.93H1340.76V2014.53H1328.23ZM1340.46,2007.93H1352.98V2014.53H1340.46ZM1352.68,2007.93H1365.21V2014.53H1352.68ZM1377.14,2007.93H1389.66V2014.53H1377.14ZM1413.82,2014.23H1426.34V2020.83H1413.82ZM1450.5,2052.03H1463.02V2058.63H1450.5ZM1462.72,2014.23H1475.25V2020.83H1462.72ZM1584.99,2007.93H1597.51V2014.53H1584.99ZM1621.67,2007.93H1634.19V2014.53H1621.67ZM1621.67,2014.23H1634.19V2020.83H1621.67ZM1621.67,2052.03H1634.19V2058.63H1621.67ZM1658.35,2007.93H1670.87V2014.53H1658.35ZM1658.35,2014.23H1670.87V2020.83H1658.35ZM1670.57,2007.93H1683.1V2014.53H1670.57Z"/>
<path fill="#ff8600" d="M215.61,2007.93H228.14V2014.53H215.61ZM288.97,2014.23H301.5V2020.83H288.97ZM337.88,2007.93H350.4V2014.53H337.88ZM484.6,2014.23H497.12V2020.83H484.6ZM912.53,2014.23H925.05V2020.83H912.53ZM936.98,2014.23H949.51V2020.83H936.98ZM949.21,2014.23H961.73V2020.83H949.21ZM961.43,2014.23H973.96V2020.83H961.43ZM973.66,2014.23H986.19V2020.83H973.66ZM1034.79,2020.53H1047.32V2027.13H1034.79ZM1047.02,2014.23H1059.55V2020.83H1047.02ZM1120.38,2014.23H1132.9V2020.83H1120.38ZM1144.83,2014.23H1157.36V2020.83H1144.83ZM1181.51,2014.23H1194.04V2020.83H1181.51ZM1193.74,2014.23H1206.26V2020.83H1193.74ZM1254.87,2014.23H1267.4V2020.83H1254.87ZM1267.1,2026.83H1279.62V2033.43H1267.1ZM1279.32,2014.23H1291.85V2020.83H1279.32ZM1389.36,2007.93H1401.89V2014.53H1389.36ZM1426.04,2007.93H1438.57V2014.53H1426.04ZM1426.04,2052.03H1438.57V2058.63H1426.04ZM1438.27,2007.93H1450.8V2014.53H1438.27ZM1450.5,2007.93H1463.02V2014.53H1450.5ZM1560.53,2007.93H1573.06V2014.53H1560.53ZM1560.53,2052.03H1573.06V2058.63H1560.53ZM1609.44,2007.93H1621.97V2014.53H1609.44ZM1670.57,2052.03H1683.1V2058.63H1670.57Z"/>
<path fill="#ff8e00" d="M240.07,2007.93H252.59V2014.53H240.07ZM362.33,2007.93H374.86V2014.53H362.33ZM386.78,2007.93H399.31V2014.53H386.78ZM472.37,2020.53H484.9V2027.13H472.37ZM594.64,2007.93H607.16V2014.53H594.64ZM643.54,2007.93H656.07V2014.53H643.54ZM900.3,2007.93H912.83V2014.53H900.3ZM900.3,2014.23H912.83V2020.83H900.3ZM985.89,2014.23H998.41V2020.83H985.89ZM998.11,2014.23H1010.64V2020.83H998.11ZM1059.25,2014.23H1071.77V2020.83H1059.25ZM1108.15,2014.23H1120.68V2020.83H1108.15ZM1132.6,2014.23H1145.13V2020.83H1132.6ZM1157.06,2014.23H1169.58V2020.83H1157.06ZM1218.19,2014.23H1230.72V2020.83H1218.19ZM1242.64,2014.23H1255.17V2020.83H1242.64ZM1267.1,2014.23H1279.62V2020.83H1267.1ZM1303.78,2007.93H1316.3V2014.53H1303.78ZM1316,2007.93H1328.53V2014.53H1316ZM1401.59,2007.93H1414.12V2014.53H1401.59ZM1413.82,2007.93H1426.34V2014.53H1413.82ZM1462.72,2007.93H1475.25V2014.53H1462.72ZM1487.17,2001.63H1499.7V2008.23H1487.17ZM1536.08,2007.93H1548.61V2014.53H1536.08ZM1548.31,2007.93H1560.83V2014.53H1548.31ZM1597.21,2007.93H1609.74V2014.53H1597.21ZM1633.89,2007.93H1646.42V2014.53H1633.89ZM1646.12,2007.93H1658.65V2014.53H1646.12ZM1658.35,2052.03H1670.87V2058.63H1658.35Z"/>
<path fill="#ff9500" d="M130.03,2014.23H142.55V2020.83H130.03ZM142.25,2020.53H154.78V2027.13H142.25ZM154.48,2014.23H167.01V2020.83H154.48ZM191.16,2007.93H203.69V2014.53H191.16ZM264.52,2007.93H277.05V2014.53H264.52ZM276.75,2007.93H289.27V2014.53H276.75ZM288.97,2007.93H301.5V2014.53H288.97ZM313.43,2007.93H325.95V2014.53H313.43ZM337.88,2001.63H350.4V2008.23H337.88ZM374.56,2001.63H387.08V2008.23H374.56ZM411.24,2007.93H423.76V2014.53H411.24ZM423.46,2007.93H435.99V2014.53H423.46ZM460.14,2007.93H472.67V2014.53H460.14ZM472.37,2007.93H484.9V2014.53H472.37ZM484.6,2007.93H497.12V2014.53H484.6ZM484.6,2020.53H497.12V2027.13H484.6ZM496.82,2007.93H509.35V2014.53H496.82ZM496.82,2014.23H509.35V2020.83H496.82ZM509.05,2014.23H521.58V2020.83H509.05ZM533.5,2007.93H546.03V2014.53H533.5ZM582.41,2007.93H594.94V2014.53H582.41ZM619.09,2007.93H631.62V2014.53H619.09ZM631.32,2007.93H643.84V2014.53H631.32ZM668,2007.93H680.52V2014.53H668ZM765.81,2007.93H778.33V2014.53H765.81ZM778.03,2007.93H790.56V2014.53H778.03ZM790.26,2007.93H802.79V2014.53H790.26ZM802.49,2007.93H815.01V2014.53H802.49ZM851.39,2007.93H863.92V2014.53H851.39ZM863.62,2007.93H876.15V2014.53H863.62ZM900.3,2020.53H912.83V2027.13H900.3ZM924.75,2014.23H937.28V2020.83H924.75ZM936.98,2007.93H949.51V2014.53H936.98ZM1034.79,2007.93H1047.32V2014.53H1034.79ZM1071.47,2014.23H1084V2020.83H1071.47ZM1083.7,2014.23H1096.22V2020.83H1083.7ZM1205.96,2014.23H1218.49V2020.83H1205.96ZM1218.19,2007.93H1230.72V2014.53H1218.19ZM1230.42,2014.23H1242.94V2020.83H1230.42ZM1291.55,2007.93H1304.08V2014.53H1291.55ZM1364.91,2007.93H1377.44V2014.53H1364.91ZM1487.17,2007.93H1499.7V2014.53H1487.17ZM1511.63,2007.93H1524.15V2014.53H1511.63ZM1523.85,2007.93H1536.38V2014.53H1523.85ZM1584.99,2001.63H1597.51V2008.23H1584.99ZM1597.21,2001.63H1609.74V2008.23H1597.21ZM1609.44,2001.63H1621.97V2008.23H1609.44Z"/>
<path fill="#ff9d00" d="M117.8,2014.23H130.33V2020.83H117.8ZM117.8,2020.53H130.33V2027.13H117.8ZM130.03,2020.53H142.55V2027.13H130.03ZM154.48,2020.53H167.01V2027.13H154.48ZM166.71,2026.83H179.23V2033.43H166.71ZM178.93,2026.83H191.46V2033.43H178.93ZM191.16,2001.63H203.69V2008.23H191.16ZM203.39,2007.93H215.91V2014.53H203.39ZM227.84,2007.93H240.37V2014.53H227.84ZM313.43,2001.63H325.95V2008.23H313.43ZM325.65,2007.93H338.18V2014.53H325.65ZM350.1,2001.63H362.63V2008.23H350.1ZM350.1,2007.93H362.63V2014.53H350.1ZM374.56,2007.93H387.08V2014.53H374.56ZM399.01,2001.63H411.54V2008.23H399.01ZM399.01,2007.93H411.54V2014.53H399.01ZM435.69,2007.93H448.22V2014.53H435.69ZM447.92,2001.63H460.44V2008.23H447.92ZM447.92,2007.93H460.44V2014.53H447.92ZM484.6,2001.63H497.12V2008.23H484.6ZM509.05,2007.93H521.58V2014.53H509.05ZM557.96,2007.93H570.48V2014.53H557.96ZM570.18,2007.93H582.71V2014.53H570.18ZM655.77,2007.93H668.3V2014.53H655.77ZM680.22,2007.93H692.75V2014.53H680.22ZM692.45,2007.93H704.97V2014.53H692.45ZM729.13,2007.93H741.65V2014.53H729.13ZM741.35,2007.93H753.88V2014.53H741.35ZM753.58,2001.63H766.11V2008.23H753.58ZM826.94,2007.93H839.47V2014.53H826.94ZM839.17,2007.93H851.69V2014.53H839.17ZM888.07,2014.23H900.6V2020.83H888.07ZM924.75,2007.93H937.28V2014.53H924.75ZM973.66,2007.93H986.19V2014.53H973.66ZM1010.34,2007.93H1022.87V2014.53H1010.34ZM1022.57,2007.93H1035.09V2014.53H1022.57ZM1059.25,2007.93H1071.77V2014.53H1059.25ZM1071.47,2007.93H1084V2014.53H1071.47ZM1083.7,2007.93H1096.22V2014.53H1083.7ZM1144.83,2007.93H1157.36V2014.53H1144.83ZM1157.06,2007.93H1169.58V2014.53H1157.06ZM1193.74,2007.93H1206.26V2014.53H1193.74ZM1205.96,2007.93H1218.49V2014.53H1205.96ZM1254.87,2007.93H1267.4V2014.53H1254.87ZM1377.14,2001.63H1389.66V2008.23H1377.14ZM1389.36,2001.63H1401.89V2008.23H1389.36ZM1413.82,2001.63H1426.34V2008.23H1413.82ZM1426.04,2001.63H1438.57V2008.23H1426.04ZM1438.27,2001.63H1450.8V2008.23H1438.27ZM1474.95,2007.93H1487.47V2014.53H1474.95ZM1499.4,2001.63H1511.93V2008.23H1499.4ZM1548.31,2001.63H1560.83V2008.23H1548.31ZM1572.76,2007.93H1585.29V2014.53H1572.76ZM1658.35,2001.63H1670.87V2008.23H1658.35ZM1670.57,2001.63H1683.1V2008.23H1670.57Z"/>
<path fill="#ffa400" d="M117.8,2026.83H130.33V2033.43H117.8ZM130.03,2026.83H142.55V2033.43H130.03ZM142.25,2026.83H154.78V2033.43H142.25ZM154.48,2026.83H167.01V2033.43H154.48ZM166.71,2014.23H179.23V2020.83H166.71ZM178.93,2014.23H191.46V2020.83H178.93ZM191.16,2033.13H203.69V2039.73H191.16ZM191.16,2039.43H203.69V2046.03H191.16ZM203.39,2001.63H215.91V2008.23H203.39ZM215.61,2033.13H228.14V2039.73H215.61ZM240.07,2001.63H252.59V2008.23H240.07ZM252.29,2001.63H264.82V2008.23H252.29ZM252.29,2007.93H264.82V2014.53H252.29ZM325.65,2001.63H338.18V2008.23H325.65ZM325.65,2033.13H338.18V2039.73H325.65ZM362.33,2001.63H374.86V2008.23H362.33ZM411.24,2001.63H423.76V2008.23H411.24ZM423.46,2001.63H435.99V2008.23H423.46ZM435.69,2001.63H448.22V2008.23H435.69ZM460.14,2001.63H472.67V2008.23H460.14ZM472.37,2001.63H484.9V2008.23H472.37ZM509.05,2001.63H521.58V2008.23H509.05ZM521.28,2001.63H533.8V2008.23H521.28ZM521.28,2007.93H533.8V2014.53H521.28ZM533.5,2001.63H546.03V2008.23H533.5ZM545.73,2007.93H558.26V2014.53H545.73ZM557.96,2001.63H570.48V2008.23H557.96ZM606.86,2007.93H619.39V2014.53H606.86ZM704.67,2007.93H717.2V2014.53H704.67ZM716.9,2007.93H729.43V2014.53H716.9ZM729.13,2001.63H741.65V2008.23H729.13ZM741.35,2001.63H753.88V2008.23H741.35ZM790.26,2001.63H802.79V2008.23H790.26ZM802.49,2001.63H815.01V2008.23H802.49ZM863.62,2014.23H876.15V2020.83H863.62ZM875.85,2014.23H888.37V2020.83H875.85ZM888.07,2001.63H900.6V2008.23H888.07ZM888.07,2007.93H900.6V2014.53H888.07ZM888.07,2020.53H900.6V2027.13H888.07ZM900.3,2001.63H912.83V2008.23H900.3ZM912.53,2007.93H925.05V2014.53H912.53ZM949.21,2007.93H961.73V2014.53H949.21ZM961.43,2007.93H973.96V2014.53H961.43ZM985.89,2007.93H998.41V2014.53H985.89ZM1095.92,2007.93H1108.45V2014.53H1095.92ZM1108.15,2007.93H1120.68V2014.53H1108.15ZM1120.38,2007.93H1132.9V2014.53H1120.38ZM1169.28,2007.93H1181.81V2014.53H1169.28ZM1242.64,2007.93H1255.17V2014.53H1242.64ZM1267.1,2007.93H1279.62V2014.53H1267.1ZM1279.32,2001.63H1291.85V2008.23H1279.32ZM1279.32,2007.93H1291.85V2014.53H1279.32ZM1291.55,2001.63H1304.08V2008.23H1291.55ZM1340.46,2001.63H1352.98V2008.23H1340.46ZM1352.68,2001.63H1365.21V2008.23H1352.68ZM1401.59,2001.63H1414.12V2008.23H1401.59ZM1474.95,2001.63H1487.47V2008.23H1474.95ZM1536.08,2001.63H1548.61V2008.23H1536.08ZM1572.76,2001.63H1585.29V2008.23H1572.76ZM1621.67,2001.63H1634.19V2008.23H1621.67ZM1633.89,2001.63H1646.42V2008.23H1633.89ZM1670.57,1995.33H1683.1V2001.93H1670.57Z"/>
<path fill="#ffac00" d="M117.8,2007.93H130.33V2014.53H117.8ZM142.25,2007.93H154.78V2014.53H142.25ZM142.25,2014.23H154.78V2020.83H142.25ZM154.48,2007.93H167.01V2014.53H154.48ZM166.71,2007.93H179.23V2014.53H166.71ZM166.71,2020.53H179.23V2027.13H166.71ZM178.93,2020.53H191.46V2027.13H178.93ZM215.61,1995.33H228.14V2001.93H215.61ZM215.61,2026.83H228.14V2033.43H215.61ZM227.84,2001.63H240.37V2008.23H227.84ZM264.52,2001.63H277.05V2008.23H264.52ZM276.75,2001.63H289.27V2008.23H276.75ZM288.97,2001.63H301.5V2008.23H288.97ZM301.2,2001.63H313.73V2008.23H301.2ZM313.43,1995.33H325.95V2001.93H313.43ZM411.24,1995.33H423.76V2001.93H411.24ZM435.69,1995.33H448.22V2001.93H435.69ZM496.82,2020.53H509.35V2027.13H496.82ZM521.28,2014.23H533.8V2020.83H521.28ZM570.18,2001.63H582.71V2008.23H570.18ZM631.32,2001.63H643.84V2008.23H631.32ZM655.77,2001.63H668.3V2008.23H655.77ZM668,2001.63H680.52V2008.23H668ZM680.22,2001.63H692.75V2008.23H680.22ZM716.9,2014.23H729.43V2020.83H716.9ZM753.58,2007.93H766.11V2014.53H753.58ZM753.58,2014.23H766.11V2020.83H753.58ZM765.81,2014.23H778.33V2020.83H765.81ZM778.03,2001.63H790.56V2008.23H778.03ZM814.71,2001.63H827.24V2008.23H814.71ZM826.94,2001.63H839.47V2008.23H826.94ZM839.17,2014.23H851.69V2020.83H839.17ZM863.62,2001.63H876.15V2008.23H863.62ZM875.85,2007.93H888.37V2014.53H875.85ZM875.85,2020.53H888.37V2027.13H875.85ZM912.53,2001.63H925.05V2008.23H912.53ZM924.75,2001.63H937.28V2008.23H924.75ZM961.43,2001.63H973.96V2008.23H961.43ZM985.89,2001.63H998.41V2008.23H985.89ZM998.11,2007.93H1010.64V2014.53H998.11ZM1095.92,2001.63H1108.45V2008.23H1095.92ZM1132.6,2007.93H1145.13V2014.53H1132.6ZM1144.83,2001.63H1157.36V2008.23H1144.83ZM1157.06,2001.63H1169.58V2008.23H1157.06ZM1181.51,2001.63H1194.04V2008.23H1181.51ZM1181.51,2007.93H1194.04V2014.53H1181.51ZM1193.74,2001.63H1206.26V2008.23H1193.74ZM1254.87,2026.83H1267.4V2033.43H1254.87ZM1267.1,2001.63H1279.62V2008.23H1267.1ZM1291.55,1995.33H1304.08V2001.93H1291.55ZM1303.78,2001.63H1316.3V2008.23H1303.78ZM1316,2001.63H1328.53V2008.23H1316ZM1328.23,2001.63H1340.76V2008.23H1328.23ZM1340.46,1995.33H1352.98V2001.93H1340.46ZM1364.91,1995.33H1377.44V2001.93H1364.91ZM1364.91,2001.63H1377.44V2008.23H1364.91ZM1389.36,1995.33H1401.89V2001.93H1389.36ZM1401.59,1995.33H1414.12V2001.93H1401.59ZM1487.17,1995.33H1499.7V2001.93H1487.17ZM1511.63,2001.63H1524.15V2008.23H1511.63ZM1523.85,2001.63H1536.38V2008.23H1523.85ZM1548.31,1995.33H1560.83V2001.93H1548.31ZM1560.53,2001.63H1573.06V2008.23H1560.53ZM1584.99,1995.33H1597.51V2001.93H1584.99ZM1597.21,1995.33H1609.74V2001.93H1597.21ZM1633.89,1995.33H1646.42V2001.93H1633.89Z"/>
<path fill="#ffb300" d="M130.03,2007.93H142.55V2014.53H130.03ZM178.93,2007.93H191.46V2014.53H178.93ZM191.16,2026.83H203.69V2033.43H191.16ZM227.84,2026.83H240.37V2033.43H227.84ZM240.07,1995.33H252.59V2001.93H240.07ZM264.52,1995.33H277.05V2001.93H264.52ZM276.75,1995.33H289.27V2001.93H276.75ZM276.75,2026.83H289.27V2033.43H276.75ZM288.97,1995.33H301.5V2001.93H288.97ZM301.2,1995.33H313.73V2001.93H301.2ZM301.2,2026.83H313.73V2033.43H301.2ZM325.65,1995.33H338.18V2001.93H325.65ZM325.65,2026.83H338.18V2033.43H325.65ZM337.88,2026.83H350.4V2033.43H337.88ZM374.56,1995.33H387.08V2001.93H374.56ZM386.78,2001.63H399.31V2008.23H386.78ZM386.78,2026.83H399.31V2033.43H386.78ZM399.01,1995.33H411.54V2001.93H399.01ZM496.82,2001.63H509.35V2008.23H496.82ZM533.5,1995.33H546.03V2001.93H533.5ZM545.73,2001.63H558.26V2008.23H545.73ZM570.18,2014.23H582.71V2020.83H570.18ZM582.41,2001.63H594.94V2008.23H582.41ZM594.64,2001.63H607.16V2008.23H594.64ZM594.64,2014.23H607.16V2020.83H594.64ZM619.09,2014.23H631.62V2020.83H619.09ZM643.54,2001.63H656.07V2008.23H643.54ZM692.45,2001.63H704.97V2008.23H692.45ZM692.45,2014.23H704.97V2020.83H692.45ZM704.67,2001.63H717.2V2008.23H704.67ZM765.81,2001.63H778.33V2008.23H765.81ZM814.71,2014.23H827.24V2020.83H814.71ZM826.94,2014.23H839.47V2020.83H826.94ZM851.39,2001.63H863.92V2008.23H851.39ZM851.39,2014.23H863.92V2020.83H851.39ZM1022.57,2001.63H1035.09V2008.23H1022.57ZM1034.79,2001.63H1047.32V2008.23H1034.79ZM1047.02,2001.63H1059.55V2008.23H1047.02ZM1047.02,2007.93H1059.55V2014.53H1047.02ZM1071.47,2001.63H1084V2008.23H1071.47ZM1120.38,2001.63H1132.9V2008.23H1120.38ZM1132.6,2001.63H1145.13V2008.23H1132.6ZM1169.28,2001.63H1181.81V2008.23H1169.28ZM1205.96,2001.63H1218.49V2008.23H1205.96ZM1218.19,2001.63H1230.72V2008.23H1218.19ZM1230.42,2001.63H1242.94V2008.23H1230.42ZM1254.87,1995.33H1267.4V2001.93H1254.87ZM1254.87,2001.63H1267.4V2008.23H1254.87ZM1316,1995.33H1328.53V2001.93H1316ZM1352.68,1995.33H1365.21V2001.93H1352.68ZM1377.14,1995.33H1389.66V2001.93H1377.14ZM1413.82,1995.33H1426.34V2001.93H1413.82ZM1426.04,1995.33H1438.57V2001.93H1426.04ZM1462.72,2001.63H1475.25V2008.23H1462.72ZM1474.95,1995.33H1487.47V2001.93H1474.95ZM1511.63,1995.33H1524.15V2001.93H1511.63ZM1523.85,1995.33H1536.38V2001.93H1523.85ZM1536.08,1995.33H1548.61V2001.93H1536.08ZM1621.67,1989.03H1634.19V1995.63H1621.67ZM1621.67,1995.33H1634.19V2001.93H1621.67ZM1646.12,2001.63H1658.65V2008.23H1646.12ZM1658.35,1995.33H1670.87V2001.93H1658.35Z"/>
<path fill="#ffbb00" d="M191.16,1995.33H203.69V2001.93H191.16ZM203.39,1995.33H215.91V2001.93H203.39ZM203.39,2026.83H215.91V2033.43H203.39ZM215.61,2001.63H228.14V2008.23H215.61ZM252.29,1995.33H264.82V2001.93H252.29ZM350.1,1995.33H362.63V2001.93H350.1ZM386.78,1995.33H399.31V2001.93H386.78ZM423.46,1995.33H435.99V2001.93H423.46ZM447.92,1995.33H460.44V2001.93H447.92ZM472.37,1995.33H484.9V2001.93H472.37ZM484.6,1995.33H497.12V2001.93H484.6ZM496.82,1995.33H509.35V2001.93H496.82ZM545.73,1995.33H558.26V2001.93H545.73ZM545.73,2014.23H558.26V2020.83H545.73ZM582.41,2014.23H594.94V2020.83H582.41ZM606.86,2001.63H619.39V2008.23H606.86ZM619.09,2001.63H631.62V2008.23H619.09ZM631.32,2014.23H643.84V2020.83H631.32ZM643.54,2014.23H656.07V2020.83H643.54ZM668,2014.23H680.52V2020.83H668ZM680.22,2014.23H692.75V2020.83H680.22ZM716.9,2001.63H729.43V2008.23H716.9ZM729.13,2014.23H741.65V2020.83H729.13ZM741.35,2014.23H753.88V2020.83H741.35ZM778.03,2014.23H790.56V2020.83H778.03ZM790.26,2014.23H802.79V2020.83H790.26ZM839.17,2001.63H851.69V2008.23H839.17ZM863.62,2020.53H876.15V2027.13H863.62ZM936.98,2001.63H949.51V2008.23H936.98ZM961.43,1995.33H973.96V2001.93H961.43ZM973.66,2001.63H986.19V2008.23H973.66ZM1010.34,2001.63H1022.87V2008.23H1010.34ZM1059.25,2001.63H1071.77V2008.23H1059.25ZM1083.7,2001.63H1096.22V2008.23H1083.7ZM1108.15,2001.63H1120.68V2008.23H1108.15ZM1120.38,1995.33H1132.9V2001.93H1120.38ZM1157.06,1995.33H1169.58V2001.93H1157.06ZM1205.96,1995.33H1218.49V2001.93H1205.96ZM1242.64,2001.63H1255.17V2008.23H1242.64ZM1279.32,1995.33H1291.85V2001.93H1279.32ZM1303.78,1995.33H1316.3V2001.93H1303.78ZM1328.23,1995.33H1340.76V2001.93H1328.23ZM1438.27,1995.33H1450.8V2001.93H1438.27ZM1499.4,1995.33H1511.93V2001.93H1499.4ZM1560.53,1995.33H1573.06V2001.93H1560.53ZM1572.76,1995.33H1585.29V2001.93H1572.76ZM1609.44,1995.33H1621.97V2001.93H1609.44Z"/>
<path fill="#ffc300" d="M191.16,1989.03H203.69V1995.63H191.16ZM203.39,1989.03H215.91V1995.63H203.39ZM227.84,1989.03H240.37V1995.63H227.84ZM227.84,1995.33H240.37V2001.93H227.84ZM337.88,1995.33H350.4V2001.93H337.88ZM362.33,1995.33H374.86V2001.93H362.33ZM460.14,1995.33H472.67V2001.93H460.14ZM509.05,1995.33H521.58V2001.93H509.05ZM533.5,2014.23H546.03V2020.83H533.5ZM557.96,2014.23H570.48V2020.83H557.96ZM606.86,2014.23H619.39V2020.83H606.86ZM619.09,1995.33H631.62V2001.93H619.09ZM655.77,2014.23H668.3V2020.83H655.77ZM704.67,1995.33H717.2V2001.93H704.67ZM704.67,2014.23H717.2V2020.83H704.67ZM741.35,1995.33H753.88V2001.93H741.35ZM778.03,1995.33H790.56V2001.93H778.03ZM802.49,2014.23H815.01V2020.83H802.49ZM900.3,2026.83H912.83V2033.43H900.3ZM924.75,1995.33H937.28V2001.93H924.75ZM936.98,1995.33H949.51V2001.93H936.98ZM949.21,2001.63H961.73V2008.23H949.21ZM973.66,1995.33H986.19V2001.93H973.66ZM985.89,1995.33H998.41V2001.93H985.89ZM998.11,2001.63H1010.64V2008.23H998.11ZM1010.34,1995.33H1022.87V2001.93H1010.34ZM1034.79,1995.33H1047.32V2001.93H1034.79ZM1047.02,1995.33H1059.55V2001.93H1047.02ZM1059.25,1995.33H1071.77V2001.93H1059.25ZM1071.47,1995.33H1084V2001.93H1071.47ZM1083.7,1995.33H1096.22V2001.93H1083.7ZM1132.6,1995.33H1145.13V2001.93H1132.6ZM1144.83,1995.33H1157.36V2001.93H1144.83ZM1169.28,1995.33H1181.81V2001.93H1169.28ZM1352.68,1989.03H1365.21V1995.63H1352.68ZM1364.91,1989.03H1377.44V1995.63H1364.91ZM1377.14,1989.03H1389.66V1995.63H1377.14ZM1413.82,1989.03H1426.34V1995.63H1413.82ZM1499.4,1989.03H1511.93V1995.63H1499.4ZM1511.63,1989.03H1524.15V1995.63H1511.63ZM1560.53,1989.03H1573.06V1995.63H1560.53ZM1584.99,1989.03H1597.51V1995.63H1584.99ZM1609.44,1989.03H1621.97V1995.63H1609.44ZM1646.12,1989.03H1658.65V1995.63H1646.12ZM1646.12,1995.33H1658.65V2001.93H1646.12Z"/>
<path fill="#ffca00" d="M142.25,2001.63H154.78V2008.23H142.25ZM178.93,2001.63H191.46V2008.23H178.93ZM215.61,1989.03H228.14V1995.63H215.61ZM313.43,2026.83H325.95V2033.43H313.43ZM521.28,2020.53H533.8V2027.13H521.28ZM606.86,1995.33H619.39V2001.93H606.86ZM631.32,1995.33H643.84V2001.93H631.32ZM643.54,1995.33H656.07V2001.93H643.54ZM655.77,1995.33H668.3V2001.93H655.77ZM680.22,1995.33H692.75V2001.93H680.22ZM753.58,1995.33H766.11V2001.93H753.58ZM814.71,1995.33H827.24V2001.93H814.71ZM826.94,1995.33H839.47V2001.93H826.94ZM851.39,1995.33H863.92V2001.93H851.39ZM851.39,2020.53H863.92V2027.13H851.39ZM863.62,1995.33H876.15V2001.93H863.62ZM875.85,1995.33H888.37V2001.93H875.85ZM900.3,1995.33H912.83V2001.93H900.3ZM912.53,1995.33H925.05V2001.93H912.53ZM949.21,1995.33H961.73V2001.93H949.21ZM998.11,1995.33H1010.64V2001.93H998.11ZM1022.57,1995.33H1035.09V2001.93H1022.57ZM1095.92,1995.33H1108.45V2001.93H1095.92ZM1108.15,1995.33H1120.68V2001.93H1108.15ZM1193.74,1995.33H1206.26V2001.93H1193.74ZM1205.96,2026.83H1218.49V2033.43H1205.96ZM1230.42,1995.33H1242.94V2001.93H1230.42ZM1242.64,1995.33H1255.17V2001.93H1242.64ZM1426.04,1989.03H1438.57V1995.63H1426.04ZM1438.27,1989.03H1450.8V1995.63H1438.27ZM1572.76,1989.03H1585.29V1995.63H1572.76ZM1597.21,1989.03H1609.74V1995.63H1597.21ZM1633.89,1989.03H1646.42V1995.63H1633.89ZM1658.35,1989.03H1670.87V1995.63H1658.35ZM1670.57,1989.03H1683.1V1995.63H1670.57Z"/>
<path fill="#ffd200" d="M130.03,1995.33H142.55V2001.93H130.03ZM130.03,2001.63H142.55V2008.23H130.03ZM166.71,1995.33H179.23V2001.93H166.71ZM166.71,2001.63H179.23V2008.23H166.71ZM191.16,2045.73H203.69V2052.33H191.16ZM240.07,1989.03H252.59V1995.63H240.07ZM252.29,1989.03H264.82V1995.63H252.29ZM276.75,1989.03H289.27V1995.63H276.75ZM521.28,1995.33H533.8V2001.93H521.28ZM557.96,1995.33H570.48V2001.93H557.96ZM570.18,1995.33H582.71V2001.93H570.18ZM582.41,1995.33H594.94V2001.93H582.41ZM594.64,1995.33H607.16V2001.93H594.64ZM668,1995.33H680.52V2001.93H668ZM692.45,1995.33H704.97V2001.93H692.45ZM765.81,1995.33H778.33V2001.93H765.81ZM790.26,1995.33H802.79V2001.93H790.26ZM802.49,1995.33H815.01V2001.93H802.49ZM839.17,1995.33H851.69V2001.93H839.17ZM839.17,2020.53H851.69V2027.13H839.17ZM1181.51,1995.33H1194.04V2001.93H1181.51ZM1218.19,1995.33H1230.72V2001.93H1218.19ZM1254.87,1989.03H1267.4V1995.63H1254.87ZM1267.1,1995.33H1279.62V2001.93H1267.1ZM1291.55,1989.03H1304.08V1995.63H1291.55ZM1316,1989.03H1328.53V1995.63H1316ZM1401.59,1989.03H1414.12V1995.63H1401.59ZM1474.95,1989.03H1487.47V1995.63H1474.95ZM1487.17,1989.03H1499.7V1995.63H1487.17ZM1536.08,1989.03H1548.61V1995.63H1536.08ZM1548.31,1989.03H1560.83V1995.63H1548.31Z"/>
<path fill="#ffd900" d="M117.8,1995.33H130.33V2001.93H117.8ZM117.8,2001.63H130.33V2008.23H117.8ZM142.25,1913.43H154.78V1920.03H142.25ZM142.25,1919.73H154.78V1926.33H142.25ZM154.48,1913.43H167.01V1920.03H154.48ZM178.93,1995.33H191.46V2001.93H178.93ZM264.52,1989.03H277.05V1995.63H264.52ZM313.43,1989.03H325.95V1995.63H313.43ZM325.65,1989.03H338.18V1995.63H325.65ZM337.88,1989.03H350.4V1995.63H337.88ZM374.56,1989.03H387.08V1995.63H374.56ZM386.78,1989.03H399.31V1995.63H386.78ZM411.24,1989.03H423.76V1995.63H411.24ZM423.46,1989.03H435.99V1995.63H423.46ZM435.69,1989.03H448.22V1995.63H435.69ZM447.92,1989.03H460.44V1995.63H447.92ZM509.05,1989.03H521.58V1995.63H509.05ZM863.62,2026.83H876.15V2033.43H863.62ZM888.07,1995.33H900.6V2001.93H888.07ZM1279.32,1989.03H1291.85V1995.63H1279.32ZM1303.78,1989.03H1316.3V1995.63H1303.78ZM1340.46,1989.03H1352.98V1995.63H1340.46ZM1450.5,2001.63H1463.02V2008.23H1450.5ZM1462.72,1995.33H1475.25V2001.93H1462.72ZM1523.85,1989.03H1536.38V1995.63H1523.85ZM1609.44,1982.73H1621.97V1989.33H1609.44ZM1658.35,1982.73H1670.87V1989.33H1658.35Z"/>
<path fill="#ffe100" d="M117.8,1907.13H130.33V1913.73H117.8ZM117.8,1913.43H130.33V1920.03H117.8ZM130.03,1907.13H142.55V1913.73H130.03ZM130.03,1913.43H142.55V1920.03H130.03ZM142.25,1907.13H154.78V1913.73H142.25ZM142.25,1995.33H154.78V2001.93H142.25ZM154.48,2001.63H167.01V2008.23H154.48ZM166.71,1919.73H179.23V1926.33H166.71ZM191.16,1976.43H203.69V1983.03H191.16ZM191.16,1982.73H203.69V1989.33H191.16ZM288.97,1989.03H301.5V1995.63H288.97ZM301.2,1989.03H313.73V1995.63H301.2ZM350.1,1989.03H362.63V1995.63H350.1ZM399.01,1989.03H411.54V1995.63H399.01ZM460.14,1989.03H472.67V1995.63H460.14ZM472.37,1989.03H484.9V1995.63H472.37ZM619.09,1989.03H631.62V1995.63H619.09ZM1328.23,1989.03H1340.76V1995.63H1328.23ZM1389.36,1989.03H1401.89V1995.63H1389.36ZM1438.27,1982.73H1450.8V1989.33H1438.27ZM1450.5,1995.33H1463.02V2001.93H1450.5ZM1474.95,1982.73H1487.47V1989.33H1474.95ZM1548.31,1982.73H1560.83V1989.33H1548.31ZM1621.67,1982.73H1634.19V1989.33H1621.67ZM1633.89,1982.73H1646.42V1989.33H1633.89ZM1646.12,1982.73H1658.65V1989.33H1646.12Z"/>
<path fill="#ffe800" d="M130.03,1919.73H142.55V1926.33H130.03ZM154.48,1907.13H167.01V1913.73H154.48ZM154.48,1919.73H167.01V1926.33H154.48ZM154.48,1995.33H167.01V2001.93H154.48ZM166.71,1913.43H179.23V1920.03H166.71ZM178.93,1913.43H191.46V1920.03H178.93ZM203.39,1976.43H215.91V1983.03H203.39ZM203.39,1982.73H215.91V1989.33H203.39ZM215.61,1982.73H228.14V1989.33H215.61ZM362.33,1989.03H374.86V1995.63H362.33ZM484.6,1989.03H497.12V1995.63H484.6ZM533.5,1989.03H546.03V1995.63H533.5ZM570.18,1989.03H582.71V1995.63H570.18ZM582.41,1989.03H594.94V1995.63H582.41ZM582.41,2020.53H594.94V2027.13H582.41ZM814.71,1989.03H827.24V1995.63H814.71ZM851.39,1989.03H863.92V1995.63H851.39ZM985.89,1989.03H998.41V1995.63H985.89ZM1034.79,1989.03H1047.32V1995.63H1034.79ZM1230.42,1989.03H1242.94V1995.63H1230.42ZM1352.68,1982.73H1365.21V1989.33H1352.68ZM1364.91,1982.73H1377.44V1989.33H1364.91ZM1389.36,1982.73H1401.89V1989.33H1389.36ZM1413.82,1982.73H1426.34V1989.33H1413.82ZM1462.72,1989.03H1475.25V1995.63H1462.72ZM1499.4,1982.73H1511.93V1989.33H1499.4ZM1536.08,1982.73H1548.61V1989.33H1536.08ZM1548.31,1976.43H1560.83V1983.03H1548.31ZM1572.76,1982.73H1585.29V1989.33H1572.76ZM1584.99,1982.73H1597.51V1989.33H1584.99ZM1597.21,1982.73H1609.74V1989.33H1597.21Z"/>
</g>
<defs><linearGradient id="jetbar" x1="0" y1="1" x2="0" y2="0"><stop offset="0" stop-color="#000080"/><stop offset="0.03" stop-color="#0000a4"/><stop offset="0.06" stop-color="#0000c8"/><stop offset="0.09" stop-color="#0000ec"/><stop offset="0.12" stop-color="#0000ff"/><stop offset="0.16" stop-color="#0020ff"/><stop offset="0.19" stop-color="#0040ff"/><stop offset="0.22" stop-color="#0060ff"/><stop offset="0.25" stop-color="#0080ff"/><stop offset="0.28" stop-color="#009fff"/><stop offset="0.31" stop-color="#00bfff"/><stop offset="0.34" stop-color="#00dffc"/><stop offset="0.38" stop-color="#15ffe2"/><stop offset="0.41" stop-color="#2effc9"/><stop offset="0.44" stop-color="#48ffaf"/><stop offset="0.47" stop-color="#62ff95"/><stop offset="0.5" stop-color="#7bff7b"/><stop offset="0.53" stop-color="#95ff62"/><stop offset="0.56" stop-color="#afff48"/><stop offset="0.59" stop-color="#c9ff2e"/><stop offset="0.62" stop-color="#e2ff15"/><stop offset="0.66" stop-color="#fcf000"/><stop offset="0.69" stop-color="#ffd200"/><stop offset="0.72" stop-color="#ffb500"/><stop offset="0.75" stop-color="#ff9700"/><stop offset="0.78" stop-color="#ff7a00"/><stop offset="0.81" stop-color="#ff5c00"/><stop offset="0.84" stop-color="#ff3f00"/><stop offset="0.88" stop-color="#ff2100"/><stop offset="0.91" stop-color="#ec0400"/><stop offset="0.94" stop-color="#c80000"/><stop offset="0.97" stop-color="#a40000"/><stop offset="1" stop-color="#800000"/></linearGradient></defs>
<rect x="1692" y="1872" width="8.8" height="189" fill="url(#jetbar)" stroke="#000" stroke-width="2.05"/>
<line x1="1700.8" y1="2061.5" x2="1693.8" y2="2061.5" stroke="#000" stroke-width="1"/>
<line x1="1700.8" y1="2051.5" x2="1696.8" y2="2051.5" stroke="#000" stroke-width="1"/>
<line x1="1700.8" y1="2042.5" x2="1696.8" y2="2042.5" stroke="#000" stroke-width="1"/>
<line x1="1700.8" y1="2032.5" x2="1696.8" y2="2032.5" stroke="#000" stroke-width="1"/>
<line x1="1700.8" y1="2023.5" x2="1693.8" y2="2023.5" stroke="#000" stroke-width="1"/>
<line x1="1700.8" y1="2013.5" x2="1696.8" y2="2013.5" stroke="#000" stroke-width="1"/>
<line x1="1700.8" y1="2004.5" x2="1696.8" y2="2004.5" stroke="#000" stroke-width="1"/>
<line x1="1700.8" y1="1994.5" x2="1696.8" y2="1994.5" stroke="#000" stroke-width="1"/>
<line x1="1700.8" y1="1985.5" x2="1693.8" y2="1985.5" stroke="#000" stroke-width="1"/>
<line x1="1700.8" y1="1975.5" x2="1696.8" y2="1975.5" stroke="#000" stroke-width="1"/>
<line x1="1700.8" y1="1966.5" x2="1696.8" y2="1966.5" stroke="#000" stroke-width="1"/>
<line x1="1700.8" y1="1957.5" x2="1696.8" y2="1957.5" stroke="#000" stroke-width="1"/>
<line x1="1700.8" y1="1947.5" x2="1693.8" y2="1947.5" stroke="#000" stroke-width="1"/>
<line x1="1700.8" y1="1938.5" x2="1696.8" y2="1938.5" stroke="#000" stroke-width="1"/>
<line x1="1700.8" y1="1928.5" x2="1696.8" y2="1928.5" stroke="#000" stroke-width="1"/>
<line x1="1700.8" y1="1919.5" x2="1696.8" y2="1919.5" stroke="#000" stroke-width="1"/>
<line x1="1700.8" y1="1909.5" x2="1693.8" y2="1909.5" stroke="#000" stroke-width="1"/>
<line x1="1700.8" y1="1900.5" x2="1696.8" y2="1900.5" stroke="#000" stroke-width="1"/>
<line x1="1700.8" y1="1890.5" x2="1696.8" y2="1890.5" stroke="#000" stroke-width="1"/>
<line x1="1700.8" y1="1881.5" x2="1696.8" y2="1881.5" stroke="#000" stroke-width="1"/>
<line x1="1700.8" y1="1872.5" x2="1693.8" y2="1872.5" stroke="#000" stroke-width="1"/>
<clipPath id="c_p1"><rect x="117" y="1304.8" width="1566" height="189"/></clipPath>
<g clip-path="url(#c_p1)">
<line x1="117" y1="1385.5" x2="1683" y2="1385.5" stroke="#000" stroke-width="1.15" stroke-dasharray="12.5,12.5" shape-rendering="crispEdges"/>
<polyline points="116.85,1349.66 129.08,1353.08 141.3,1355.36 153.53,1353.93 165.76,1360.48 177.98,1393.79 190.21,1427.38 202.44,1460.69 214.66,1456.71 226.89,1451.3 239.12,1454.72 251.34,1458.13 263.57,1464.68 275.8,1466.67 288.02,1466.67 300.25,1461.55 312.48,1465.53 324.7,1463.26 336.93,1464.68 349.15,1458.7 361.38,1466.1 373.61,1468.38 385.83,1466.1 398.06,1467.24 410.29,1467.24 422.51,1468.38 434.74,1469.23 446.97,1469.8 459.19,1468.67 471.42,1465.53 483.65,1464.96 495.87,1467.53 508.1,1468.1 520.33,1468.95 532.55,1469.8 544.78,1470.66 557.01,1470.37 569.23,1470.66 581.46,1470.37 593.69,1469.23 605.91,1471.23 618.14,1472.65 630.37,1472.65 642.59,1472.65 654.82,1470.37 667.05,1472.37 679.27,1473.22 691.5,1473.79 703.72,1473.51 715.95,1473.79 728.18,1473.79 740.4,1474.64 752.63,1474.07 764.86,1473.51 777.08,1472.94 789.31,1472.08 801.54,1472.08 813.76,1467.81 825.99,1469.23 838.22,1471.51 850.44,1471.51 862.67,1468.1 874.9,1465.82 887.12,1465.82 899.35,1470.66 911.58,1471.8 923.8,1470.94 936.03,1472.37 948.26,1472.37 960.48,1472.65 972.71,1471.8 984.94,1472.08 997.16,1471.51 1009.39,1471.51 1021.62,1472.65 1033.84,1472.65 1046.07,1473.51 1058.3,1472.08 1070.52,1473.51 1082.75,1474.64 1094.97,1476.92 1107.2,1478.06 1119.43,1478.63 1131.65,1476.92 1143.88,1477.78 1156.11,1477.21 1168.33,1476.64 1180.56,1475.21 1192.79,1473.51 1205.01,1476.07 1217.24,1475.21 1229.47,1476.07 1241.69,1476.07 1253.92,1476.64 1266.15,1475.21 1278.37,1474.93 1290.6,1473.79 1302.83,1473.79 1315.05,1472.08 1327.28,1469.52 1339.51,1466.39 1351.73,1464.68 1363.96,1462.97 1376.19,1464.11 1388.41,1463.54 1400.64,1462.97 1412.87,1457.28 1425.09,1456.99 1437.32,1456.99 1449.55,1443.04 1461.77,1452.15 1474,1455.85 1486.22,1461.26 1498.45,1463.26 1510.68,1464.11 1522.9,1464.68 1535.13,1461.83 1547.36,1460.12 1559.58,1461.26 1571.81,1460.69 1584.04,1459.56 1596.26,1460.98 1608.49,1462.12 1620.72,1461.55 1632.94,1457.85 1645.17,1456.71 1657.4,1455 1669.62,1454.72 1681.85,1463.26" fill="none" stroke="#ff0000" stroke-width="2.05" stroke-linejoin="round"/>
<polyline points="116.85,1343.11 129.08,1343.97 141.3,1339.7 153.53,1344.25 165.76,1339.13 177.98,1349.09 190.21,1365.32 202.44,1381.83 214.66,1398.06 226.89,1383.54 239.12,1385.53 251.34,1378.13 263.57,1386.1 275.8,1389.8 288.02,1386.67 300.25,1394.07 312.48,1387.53 324.7,1401.76 336.93,1387.53 349.15,1375.28 361.38,1380.41 373.61,1386.67 385.83,1383.83 398.06,1378.99 410.29,1377.56 422.51,1370.44 434.74,1364.18 446.97,1369.88 459.19,1371.58 471.42,1369.88 483.65,1370.73 495.87,1369.02 508.1,1368.74 520.33,1378.99 532.55,1374.15 544.78,1376.71 557.01,1380.12 569.23,1378.99 581.46,1380.41 593.69,1367.88 605.91,1369.31 618.14,1374.15 630.37,1376.14 642.59,1372.44 654.82,1369.02 667.05,1374.43 679.27,1376.71 691.5,1379.27 703.72,1378.7 715.95,1378.99 728.18,1377.85 740.4,1378.42 752.63,1378.7 764.86,1376.42 777.08,1373.58 789.31,1371.3 801.54,1371.58 813.76,1371.58 825.99,1366.17 838.22,1362.76 850.44,1363.61 862.67,1359.91 874.9,1359.34 887.12,1360.2 899.35,1359.63 911.58,1367.03 923.8,1367.6 936.03,1362.47 948.26,1362.19 960.48,1363.04 972.71,1362.19 984.94,1362.76 997.16,1362.76 1009.39,1363.61 1021.62,1362.19 1033.84,1358.77 1046.07,1365.32 1058.3,1362.19 1070.52,1364.47 1082.75,1365.04 1094.97,1371.3 1107.2,1379.27 1119.43,1387.81 1131.65,1388.38 1143.88,1392.65 1156.11,1389.23 1168.33,1390.37 1180.56,1381.26 1192.79,1380.69 1205.01,1388.38 1217.24,1392.65 1229.47,1389.23 1241.69,1383.83 1253.92,1390.94 1266.15,1391.51 1278.37,1393.79 1290.6,1389.8 1302.83,1391.23 1315.05,1397.78 1327.28,1394.36 1339.51,1400.34 1351.73,1402.9 1363.96,1402.9 1376.19,1416.85 1388.41,1420.27 1400.64,1419.41 1412.87,1431.65 1425.09,1440.48 1437.32,1443.04 1449.55,1461.83 1461.77,1445.89 1474,1416.85 1486.22,1412.58 1498.45,1414.57 1510.68,1412.86 1522.9,1412.58 1535.13,1412.01 1547.36,1424.82 1559.58,1428.24 1571.81,1423.11 1584.04,1420.27 1596.26,1417.14 1608.49,1416 1620.72,1421.12 1632.94,1441.05 1645.17,1439.63 1657.4,1440.77 1669.62,1439.91 1681.85,1411.73" fill="none" stroke="#008000" stroke-width="2.05" stroke-linejoin="round"/>
<polyline points="116.85,1315.78 129.08,1314.36 141.3,1317.21 153.53,1318.06 165.76,1313.79 177.98,1324.89 190.21,1386.1 202.44,1421.12 214.66,1432.51 226.89,1437.06 239.12,1437.63 251.34,1437.63 263.57,1433.65 275.8,1428.52 288.02,1429.09 300.25,1434.79 312.48,1431.94 324.7,1433.08 336.93,1431.09 349.15,1439.91 361.38,1429.66 373.61,1425.68 385.83,1428.24 398.06,1425.68 410.29,1425.96 422.51,1419.13 434.74,1412.3 446.97,1415.14 459.19,1416.85 471.42,1423.97 483.65,1425.39 495.87,1416.85 508.1,1414.29 520.33,1417.14 532.55,1410.59 544.78,1409.45 557.01,1411.44 569.23,1409.73 581.46,1410.02 593.69,1408.02 605.91,1401.48 618.14,1400.34 630.37,1396.35 642.59,1396.35 654.82,1400.91 667.05,1399.48 679.27,1392.37 691.5,1389.8 703.72,1390.37 715.95,1387.24 728.18,1388.38 740.4,1388.38 752.63,1388.1 764.86,1385.53 777.08,1380.41 789.31,1377.85 801.54,1375.28 813.76,1362.76 825.99,1371.87 838.22,1379.84 850.44,1378.99 862.67,1373.01 874.9,1371.3 887.12,1375 899.35,1381.26 911.58,1387.24 923.8,1385.82 936.03,1388.1 948.26,1390.09 960.48,1392.08 972.71,1394.36 984.94,1397.49 997.16,1396.35 1009.39,1398.35 1021.62,1395.5 1033.84,1395.21 1046.07,1400.62 1058.3,1406.32 1070.52,1400.62 1082.75,1380.12 1094.97,1384.68 1107.2,1391.51 1119.43,1382.12 1131.65,1396.35 1143.88,1398.06 1156.11,1404.89 1168.33,1404.32 1180.56,1414.86 1192.79,1420.84 1205.01,1414.86 1217.24,1417.14 1229.47,1415.71 1241.69,1416.28 1253.92,1414 1266.15,1416.28 1278.37,1417.99 1290.6,1421.12 1302.83,1422.54 1315.05,1425.11 1327.28,1425.96 1339.51,1427.67 1351.73,1429.95 1363.96,1430.23 1376.19,1430.8 1388.41,1431.37 1400.64,1431.65 1412.87,1432.22 1425.09,1423.11 1437.32,1419.41 1449.55,1403.47 1461.77,1407.46 1474,1439.91 1486.22,1437.35 1498.45,1432.51 1510.68,1433.36 1522.9,1434.79 1535.13,1439.06 1547.36,1435.36 1559.58,1431.65 1571.81,1436.49 1584.04,1439.91 1596.26,1439.63 1608.49,1440.48 1620.72,1439.91 1632.94,1428.81 1645.17,1428.81 1657.4,1427.95 1669.62,1425.11 1681.85,1435.93" fill="none" stroke="#0000ff" stroke-width="2.05" stroke-linejoin="round"/>
</g>
<clipPath id="c_p2"><rect x="117" y="1588.4" width="1566" height="189"/></clipPath>
<g clip-path="url(#c_p2)">
<line x1="117" y1="1682.5" x2="1683" y2="1682.5" stroke="#000" stroke-width="1.15" stroke-dasharray="12.5,12.5" shape-rendering="crispEdges"/>
<polyline points="116.85,1737.29 129.08,1739.28 141.3,1737.01 153.53,1736.15 165.76,1740.71 177.98,1735.58 190.21,1687.75 202.44,1663.27 214.66,1653.59 226.89,1648.47 239.12,1648.47 251.34,1649.04 263.57,1653.88 275.8,1658.43 288.02,1657.58 300.25,1652.17 312.48,1655.01 324.7,1653.88 336.93,1655.58 349.15,1647.33 361.38,1657.29 373.61,1661.28 385.83,1658.72 398.06,1660.99 410.29,1660.71 422.51,1666.69 434.74,1672.67 446.97,1670.67 459.19,1668.96 471.42,1662.13 483.65,1660.99 495.87,1668.4 508.1,1670.67 520.33,1668.96 532.55,1674.37 544.78,1675.23 557.01,1673.8 569.23,1675.23 581.46,1674.94 593.69,1676.37 605.91,1682.06 618.14,1683.2 630.37,1686.9 642.59,1686.9 654.82,1682.91 667.05,1684.62 679.27,1690.6 691.5,1692.88 703.72,1692.31 715.95,1694.87 728.18,1694.02 740.4,1694.02 752.63,1694.3 764.86,1696.58 777.08,1700.85 789.31,1702.84 801.54,1705.12 813.76,1715.09 825.99,1707.11 838.22,1700.85 850.44,1701.7 862.67,1706.26 874.9,1707.11 887.12,1704.27 899.35,1699.43 911.58,1694.3 923.8,1695.44 936.03,1693.73 948.26,1692.31 960.48,1690.6 972.71,1688.61 984.94,1686.05 997.16,1686.9 1009.39,1685.19 1021.62,1687.19 1033.84,1687.47 1046.07,1682.63 1058.3,1678.07 1070.52,1683.48 1082.75,1701.14 1094.97,1697.72 1107.2,1692.31 1119.43,1700.57 1131.65,1687.75 1143.88,1686.33 1156.11,1680.35 1168.33,1680.92 1180.56,1671.24 1192.79,1665.83 1205.01,1671.53 1217.24,1669.82 1229.47,1670.96 1241.69,1670.39 1253.92,1672.38 1266.15,1670.39 1278.37,1668.96 1290.6,1666.12 1302.83,1664.69 1315.05,1662.13 1327.28,1660.99 1339.51,1659 1351.73,1656.72 1363.96,1656.15 1376.19,1655.87 1388.41,1655.58 1400.64,1655.3 1412.87,1654.44 1425.09,1662.13 1437.32,1665.26 1449.55,1676.94 1461.77,1674.66 1474,1647.33 1486.22,1650.17 1498.45,1654.73 1510.68,1654.16 1522.9,1653.02 1535.13,1649.04 1547.36,1651.88 1559.58,1655.01 1571.81,1651.03 1584.04,1647.9 1596.26,1648.18 1608.49,1647.33 1620.72,1648.18 1632.94,1657.29 1645.17,1657.29 1657.4,1658.15 1669.62,1660.14 1681.85,1651.6" fill="none" stroke="#ff0000" stroke-width="2.05" stroke-linejoin="round"/>
<polyline points="116.85,1645.77 129.08,1646.51 141.3,1642.79 153.53,1646.76 165.76,1642.29 177.98,1650.98 190.21,1665.12 202.44,1679.51 214.66,1693.66 226.89,1681 239.12,1682.74 251.34,1676.29 263.57,1683.24 275.8,1686.46 288.02,1683.73 300.25,1690.18 312.48,1684.48 324.7,1696.88 336.93,1684.48 349.15,1673.81 361.38,1678.27 373.61,1683.73 385.83,1681.25 398.06,1677.03 410.29,1675.79 422.51,1669.59 434.74,1664.13 446.97,1669.09 459.19,1670.58 471.42,1669.09 483.65,1669.84 495.87,1668.35 508.1,1668.1 520.33,1677.03 532.55,1672.81 544.78,1675.05 557.01,1678.02 569.23,1677.03 581.46,1678.27 593.69,1667.35 605.91,1668.6 618.14,1672.81 630.37,1674.55 642.59,1671.33 654.82,1668.35 667.05,1673.06 679.27,1675.05 691.5,1677.28 703.72,1676.78 715.95,1677.03 728.18,1676.04 740.4,1676.54 752.63,1676.78 764.86,1674.8 777.08,1672.32 789.31,1670.33 801.54,1670.58 813.76,1670.58 825.99,1665.87 838.22,1662.89 850.44,1663.63 862.67,1660.41 874.9,1659.91 887.12,1660.65 899.35,1660.16 911.58,1666.61 923.8,1667.11 936.03,1662.64 948.26,1662.39 960.48,1663.14 972.71,1662.39 984.94,1662.89 997.16,1662.89 1009.39,1663.63 1021.62,1662.39 1033.84,1659.41 1046.07,1665.12 1058.3,1662.39 1070.52,1664.38 1082.75,1664.87 1094.97,1670.33 1107.2,1677.28 1119.43,1684.72 1131.65,1685.22 1143.88,1688.94 1156.11,1685.97 1168.33,1686.96 1180.56,1679.02 1192.79,1678.52 1205.01,1685.22 1217.24,1688.94 1229.47,1685.97 1241.69,1681.25 1253.92,1687.45 1266.15,1687.95 1278.37,1689.94 1290.6,1686.46 1302.83,1687.7 1315.05,1693.41 1327.28,1690.43 1339.51,1695.64 1351.73,1697.88 1363.96,1697.88 1376.19,1710.04 1388.41,1713.01 1400.64,1712.27 1412.87,1722.94 1425.09,1730.63 1437.32,1732.86 1449.55,1749.24 1461.77,1735.35 1474,1710.04 1486.22,1706.31 1498.45,1708.05 1510.68,1706.56 1522.9,1706.31 1535.13,1705.82 1547.36,1716.98 1559.58,1719.96 1571.81,1715.49 1584.04,1713.01 1596.26,1710.28 1608.49,1709.29 1620.72,1713.76 1632.94,1731.13 1645.17,1729.89 1657.4,1730.88 1669.62,1730.13 1681.85,1705.57" fill="none" stroke="#008000" stroke-width="2.05" stroke-linejoin="round"/>
<polyline points="116.85,1641.06 129.08,1644.2 141.3,1646.47 153.53,1645.33 165.76,1649.89 177.98,1679.21 190.21,1717.93 202.44,1752.67 214.66,1750.96 226.89,1747.26 239.12,1750.1 251.34,1753.23 263.57,1757.79 275.8,1758.93 288.02,1758.93 300.25,1755.8 312.48,1758.36 324.7,1756.94 336.93,1757.79 349.15,1753.8 361.38,1758.64 373.61,1760.07 385.83,1758.64 398.06,1759.21 410.29,1759.21 422.51,1759.21 434.74,1758.93 446.97,1760.07 459.19,1758.93 471.42,1757.22 483.65,1756.94 495.87,1758.07 508.1,1758.07 520.33,1759.21 532.55,1758.93 544.78,1759.21 557.01,1759.21 569.23,1759.21 581.46,1758.93 593.69,1758.07 605.91,1758.93 618.14,1759.78 630.37,1759.21 642.59,1759.21 654.82,1758.07 667.05,1759.5 679.27,1759.21 691.5,1759.21 703.72,1758.93 715.95,1758.64 728.18,1758.93 740.4,1759.5 752.63,1759.21 764.86,1758.36 777.08,1757.22 789.31,1756.08 801.54,1755.51 813.76,1750.39 825.99,1752.95 838.22,1756.08 850.44,1755.8 862.67,1751.81 874.9,1749.53 887.12,1750.1 899.35,1754.94 911.58,1757.22 923.8,1756.08 936.03,1757.79 948.26,1758.07 960.48,1758.64 972.71,1758.07 984.94,1758.64 997.16,1758.07 1009.39,1758.36 1021.62,1758.93 1033.84,1758.93 1046.07,1760.64 1058.3,1759.78 1070.52,1760.35 1082.75,1758.36 1094.97,1761.49 1107.2,1763.2 1119.43,1762.06 1131.65,1763.2 1143.88,1764.05 1156.11,1764.62 1168.33,1764.05 1180.56,1764.05 1192.79,1763.48 1205.01,1764.91 1217.24,1764.62 1229.47,1765.19 1241.69,1765.48 1253.92,1765.48 1266.15,1764.62 1278.37,1764.62 1290.6,1764.34 1302.83,1764.05 1315.05,1762.91 1327.28,1760.64 1339.51,1758.36 1351.73,1757.51 1363.96,1756.37 1376.19,1757.22 1388.41,1756.65 1400.64,1756.37 1412.87,1751.24 1425.09,1749.82 1437.32,1749.25 1449.55,1735.01 1461.77,1743.56 1474,1751.24 1486.22,1755.8 1498.45,1756.94 1510.68,1757.79 1522.9,1758.07 1535.13,1756.37 1547.36,1754.66 1559.58,1754.94 1571.81,1754.94 1584.04,1754.66 1596.26,1755.8 1608.49,1756.94 1620.72,1756.37 1632.94,1751.24 1645.17,1750.39 1657.4,1748.68 1669.62,1748.11 1681.85,1756.94" fill="none" stroke="#0000ff" stroke-width="2.05" stroke-linejoin="round"/>
<polyline points="116.85,1604.91 129.08,1605.19 141.3,1606.05 153.53,1607.75 165.76,1604.62 177.98,1621.14 190.21,1643.06 202.44,1610.32 214.66,1607.75 226.89,1610.03 239.12,1607.75 251.34,1604.91 263.57,1602.35 275.8,1602.91 288.02,1602.63 300.25,1603.48 312.48,1602.35 324.7,1602.06 336.93,1603.2 349.15,1602.91 361.38,1602.63 373.61,1602.63 385.83,1603.48 398.06,1603.2 410.29,1602.91 422.51,1603.48 434.74,1603.77 446.97,1603.48 459.19,1604.62 471.42,1604.62 483.65,1604.34 495.87,1604.91 508.1,1605.19 520.33,1604.91 532.55,1605.48 544.78,1605.48 557.01,1605.48 569.23,1605.76 581.46,1605.76 593.69,1605.76 605.91,1605.76 618.14,1605.48 630.37,1606.33 642.59,1605.76 654.82,1606.62 667.05,1605.76 679.27,1606.05 691.5,1606.05 703.72,1606.33 715.95,1606.05 728.18,1605.76 740.4,1605.19 752.63,1605.48 764.86,1605.76 777.08,1606.33 789.31,1606.33 801.54,1606.05 813.76,1607.19 825.99,1606.9 838.22,1604.91 850.44,1605.19 862.67,1606.33 874.9,1608.04 887.12,1608.89 899.35,1604.91 911.58,1606.05 923.8,1606.9 936.03,1604.62 948.26,1604.34 960.48,1604.34 972.71,1604.62 984.94,1604.34 997.16,1604.62 1009.39,1604.62 1021.62,1603.77 1033.84,1602.91 1046.07,1602.91 1058.3,1602.91 1070.52,1603.2 1082.75,1603.2 1094.97,1602.06 1107.2,1601.78 1119.43,1601.49 1131.65,1602.63 1143.88,1601.49 1156.11,1601.21 1168.33,1601.78 1180.56,1600.64 1192.79,1600.35 1205.01,1600.07 1217.24,1599.78 1229.47,1599.78 1241.69,1599.5 1253.92,1599.21 1266.15,1600.07 1278.37,1599.78 1290.6,1599.5 1302.83,1599.5 1315.05,1599.21 1327.28,1600.92 1339.51,1602.35 1351.73,1602.06 1363.96,1603.48 1376.19,1599.21 1388.41,1598.36 1400.64,1598.93 1412.87,1598.36 1425.09,1597.79 1437.32,1597.51 1449.55,1598.36 1461.77,1602.06 1474,1600.64 1486.22,1599.5 1498.45,1599.78 1510.68,1599.21 1522.9,1598.36 1535.13,1598.07 1547.36,1597.22 1559.58,1596.94 1571.81,1596.94 1584.04,1597.22 1596.26,1597.22 1608.49,1596.37 1620.72,1595.51 1632.94,1594.94 1645.17,1595.8 1657.4,1596.08 1669.62,1595.51 1681.85,1596.08" fill="none" stroke="#000" stroke-width="2.05" stroke-linejoin="round"/>
</g>
<clipPath id="c_p4"><rect x="117" y="2155.6" width="1566" height="189"/></clipPath>
<g clip-path="url(#c_p4)">
<polyline points="117.69,2337.03 141.32,2336.75 166.09,2337.03 178.33,2338.46 203.38,2322.51 227.3,2323.08 239.54,2323.94 263.74,2323.37 275.98,2321.94 300.75,2322.23 324.95,2322.51 337.19,2321.37 361.96,2321.37 386.16,2320.8 398.11,2322.8 422.6,2321.94 447.37,2322.23 459.61,2321.94 483.81,2322.51 495.77,2319.95 521.35,2320.52 545.84,2320.52 558.08,2318.81 582.56,2319.38 607.05,2319.38 643.77,2319.38 680.5,2318.53 704.98,2319.1 741.71,2319.1 766.19,2319.38 790.68,2319.38 827.4,2320.8 864.13,2319.67 888.61,2319.38 900.82,2320.23 925.3,2319.38 949.79,2320.52 962.03,2319.95 986.51,2320.8 1023.24,2319.95 1047.72,2321.37 1072.21,2321.66 1108.93,2319.95 1121.17,2320.8 1145.66,2320.23 1182.38,2320.52 1206.87,2320.8 1231.35,2319.95 1243.59,2321.66 1268.08,2321.09 1304.52,2321.09 1329,2321.37 1365.73,2321.94 1390.21,2322.51 1402.46,2321.66 1426.94,2322.23 1451.42,2323.65 1463.67,2322.51 1488.15,2322.51 1512.63,2321.66 1524.88,2322.51 1549.36,2322.23 1586.09,2322.51 1610.57,2322.8 1647.3,2322.23 1671.78,2321.66 1684.02,2320.8" fill="none" stroke="#ff0000" stroke-width="2.05" stroke-linejoin="round"/>
<polyline points="117.69,2184.72 141.32,2188.14 166.09,2184.72 178.33,2186.71 203.38,2181.3 239.54,2178.46 263.74,2177.6 275.98,2177.6 300.75,2176.75 324.95,2177.32 337.19,2179.31 361.96,2180.73 386.16,2174.75 398.11,2182.73 422.6,2183.3 447.37,2185.57 459.61,2182.73 483.81,2182.73 495.77,2175.32 521.35,2178.74 545.84,2176.46 558.08,2180.16 582.56,2180.16 607.05,2175.32 619.29,2172.48 643.77,2174.19 668.26,2180.73 680.5,2182.73 704.98,2172.48 729.47,2172.48 741.71,2172.19 766.19,2184.72 790.68,2182.16 802.92,2185.29 827.4,2180.16 839.64,2187.57 864.13,2186.14 888.61,2184.72 900.82,2183.3 925.3,2176.75 949.79,2186.14 962.03,2181.02 986.51,2184.72 1011,2184.72 1023.24,2179.31 1047.72,2183.86 1072.21,2185 1084.45,2186.71 1108.93,2182.73 1121.17,2179.02 1145.66,2173.9 1170.14,2180.73 1182.38,2177.32 1206.87,2182.16 1231.35,2176.46 1243.59,2181.3 1268.08,2181.3 1304.52,2179.31 1329,2178.74 1353.49,2178.46 1365.73,2175.32 1390.21,2171.62 1402.46,2173.62 1426.94,2172.19 1451.42,2167.07 1463.67,2172.76 1488.15,2173.9 1512.63,2173.9 1524.88,2175.61 1549.36,2172.19 1561.6,2173.9 1586.09,2173.9 1603.17,2171.91 1671.78,2171.05 1684.02,2175.32" fill="none" stroke="#008000" stroke-width="2.05" stroke-linejoin="round"/>
<polyline points="117.69,2188.14 141.32,2186.14 178.33,2187.85 203.38,2173.33 227.3,2167.07 263.74,2172.76 275.98,2172.19 300.75,2168.78 324.95,2170.77 337.19,2171.62 361.96,2170.2 386.16,2171.34 398.11,2176.75 422.6,2174.75 447.37,2178.17 459.61,2175.04 483.81,2175.04 495.77,2176.18 521.35,2180.73 545.84,2180.73 558.08,2173.33 582.56,2182.73 607.05,2176.75 619.29,2176.75 643.77,2177.89 668.26,2173.62 680.5,2176.46 704.98,2179.31 729.47,2179.88 741.71,2179.31 766.19,2179.31 790.68,2180.45 802.92,2184.43 827.4,2185.29 839.64,2181.59 864.13,2178.46 888.61,2179.88 900.82,2178.17 925.3,2179.02 949.79,2179.02 962.03,2177.32 986.51,2175.32 1011,2177.32 1023.24,2176.46 1072.21,2174.75 1084.45,2181.87 1108.93,2175.89 1121.17,2183.3 1145.66,2176.75 1170.14,2174.75 1182.38,2173.9 1206.87,2177.32 1231.35,2173.33 1243.59,2174.75 1268.08,2174.75 1304.52,2173.33 1329,2173.33 1353.49,2172.48 1365.73,2170.48 1390.21,2176.18 1402.46,2171.62 1426.94,2171.62 1451.42,2175.32 1463.67,2178.74 1488.15,2173.33 1512.63,2173.33 1524.88,2173.33 1549.36,2173.33 1561.6,2170.2 1586.09,2171.34 1603.17,2172.48 1671.78,2169.63 1684.02,2172.19" fill="none" stroke="#0000ff" stroke-width="2.05" stroke-linejoin="round"/>
</g>
<clipPath id="c_p5"><rect x="117" y="2439.2" width="1566" height="189"/></clipPath>
<g clip-path="url(#c_p5)">
<polyline points="117.69,2619.18 141.32,2619.46 153.56,2618.32 166.09,2618.61 178.33,2608.36 190.57,2566.51 202.81,2604.09 215.05,2608.93 239.54,2612.91 263.74,2616.33 275.98,2613.2 288.22,2610.64 300.75,2607.79 324.95,2616.33 337.19,2613.48 361.96,2611.78 386.16,2614.91 398.11,2610.35 422.6,2610.92 447.37,2613.77 459.61,2609.21 483.81,2610.07 495.77,2611.21 500,2611.21 521.35,2612.63 545.84,2612.35 558.08,2613.48 582.56,2611.21 607.05,2612.91 619.29,2612.06 631.53,2611.78 643.77,2612.06 656.01,2611.78 668.26,2612.35 680.5,2610.35 704.98,2610.35 729.47,2610.07 741.71,2610.92 766.19,2612.91 790.68,2610.07 802.92,2609.78 815.16,2610.92 827.4,2612.91 839.64,2610.64 851.89,2610.07 864.13,2609.21 876.37,2607.51 888.61,2606.37 900.82,2609.5 925.3,2608.36 937.54,2608.93 949.79,2608.36 962.03,2612.91 986.51,2608.93 1011,2610.64 1023.24,2610.07 1047.72,2610.35 1072.21,2609.5 1084.45,2612.35 1108.93,2611.21 1121.17,2612.91 1133.42,2612.91 1145.66,2613.48 1170.14,2612.63 1182.38,2610.64 1206.87,2614.62 1231.35,2614.05 1243.59,2615.48 1268.08,2610.35 1304.52,2613.48 1316.76,2614.34 1329,2614.05 1353.49,2612.06 1365.73,2613.2 1377.97,2616.05 1390.21,2618.04 1402.46,2618.32 1426.94,2616.62 1451.42,2615.19 1463.67,2612.35 1475.91,2614.34 1488.15,2616.33 1512.63,2615.48 1524.88,2617.19 1549.36,2617.75 1561.6,2616.62 1586.09,2616.9 1610.57,2614.91 1622.81,2617.19 1635.05,2619.18 1647.3,2618.89 1671.78,2617.19 1684.02,2617.75" fill="none" stroke="#0000ff" stroke-width="2.05" stroke-linejoin="round"/>
<polyline points="117.69,2561.38 129.93,2561.95 141.32,2560.81 153.56,2558.25 166.09,2562.24 178.33,2517.26 191.14,2335.05 202.81,2534.34 215.05,2544.3 227.3,2542.02 239.54,2553.13 251.78,2557.97 263.74,2561.67 275.98,2555.41 288.22,2551.99 300.75,2547.15 312.7,2555.98 324.95,2563.09 337.19,2559.11 361.96,2553.13 386.16,2559.11 398.11,2552.56 410.36,2552.84 422.6,2552.27 434.84,2554.27 447.37,2557.97 459.61,2548.57 471.57,2550.28 483.81,2551.99 495.77,2550.57 500,2550.85 521.35,2554.84 533.59,2552.27 558.08,2553.13 582.56,2551.99 607.05,2553.98 619.29,2554.27 631.53,2551.42 643.77,2551.99 656.01,2551.42 668.26,2553.13 680.5,2550.28 692.74,2550.28 704.98,2550 717.22,2550.57 729.47,2550.57 741.71,2552.27 766.19,2551.7 790.68,2546.58 802.92,2547.15 815.16,2548 827.4,2550 839.64,2546.58 851.89,2546.86 864.13,2543.45 876.37,2538.04 888.61,2535.76 900.82,2546.3 913.06,2545.16 925.3,2542.88 937.54,2545.73 949.79,2544.59 962.03,2551.42 974.27,2546.58 986.51,2544.59 998.75,2545.16 1011,2547.72 1023.24,2546.58 1035.48,2547.72 1047.72,2547.43 1072.21,2546.01 1084.45,2551.7 1096.69,2553.41 1108.93,2553.41 1121.17,2554.55 1133.42,2552.84 1145.66,2554.84 1157.9,2556.54 1170.14,2556.26 1182.38,2551.7 1194.63,2557.11 1206.87,2561.67 1219.11,2560.81 1231.35,2559.39 1243.59,2563.66 1255.84,2557.68 1268.08,2551.7 1304.52,2557.4 1316.76,2560.53 1329,2558.82 1341.25,2553.7 1353.49,2551.42 1365.73,2553.13 1377.97,2562.52 1390.21,2565.65 1402.46,2567.65 1426.94,2564.8 1439.18,2561.67 1451.42,2556.83 1463.67,2550.57 1475.91,2556.54 1488.15,2560.81 1500.39,2559.96 1512.63,2559.68 1524.88,2563.66 1537.12,2563.38 1549.36,2564.52 1561.6,2566.22 1573.84,2565.65 1586.09,2564.52 1598.33,2562.52 1610.57,2562.24 1622.81,2565.65 1635.05,2569.36 1647.3,2566.79 1659.54,2565.94 1671.78,2564.8 1684.02,2566.51" fill="none" stroke="#008000" stroke-width="2.05" stroke-linejoin="round"/>
</g>
<clipPath id="c_p6"><rect x="117" y="2722.8" width="1566" height="189"/></clipPath>
<g clip-path="url(#c_p6)">
<polyline points="117.69,2845.8 141.32,2848.08 166.09,2847.79 227.3,2846.65 239.54,2851.21 263.74,2848.93 275.98,2846.09 300.75,2842.95 324.95,2850.93 337.19,2850.07 361.96,2844.66 386.16,2848.93 398.11,2846.65 422.6,2846.65 447.37,2849.5 459.61,2846.09 483.81,2847.79 495.77,2846.37 500,2846.37 521.35,2848.93 545.84,2848.36 558.08,2847.51 582.56,2848.93 607.05,2850.07 619.29,2850.07 643.77,2848.36 668.26,2849.5 704.98,2847.79 729.47,2848.36 741.71,2848.93 766.19,2847.51 790.68,2844.95 802.92,2845.52 827.4,2847.79 839.64,2843.81 864.13,2845.23 888.61,2843.81 900.82,2844.66 925.3,2844.66 949.79,2842.38 962.03,2844.95 986.51,2841.81 1011,2844.09 1023.24,2841.81 1047.72,2840.68 1072.21,2840.11 1084.45,2844.09 1108.93,2844.09 1121.17,2842.95 1145.66,2842.38 1170.14,2845.52 1182.38,2840.39 1206.87,2846.94 1231.35,2843.81 1243.59,2846.94 1268.08,2838.11 1290,2840.96 1304.52,2841.25 1329,2845.52 1353.49,2840.11 1365.73,2842.67 1390.21,2844.95 1402.46,2847.51 1426.94,2845.52 1451.42,2839.54 1463.67,2840.39 1488.15,2842.95 1512.63,2842.1 1524.88,2843.24 1549.36,2842.1 1561.6,2845.8 1586.09,2842.95 1610.57,2841.25 1635.05,2844.09 1647.3,2842.67 1684.02,2846.94" fill="none" stroke="#0000ff" stroke-width="2.05" stroke-linejoin="round"/>
</g>
<clipPath id="c_p7"><rect x="117" y="3006.4" width="1566" height="189"/></clipPath>
<g clip-path="url(#c_p7)">
<polyline points="117.69,3184.33 141.32,3184.9 166.09,3183.19 178.33,3179.21 202.81,3169.53 227.3,3176.64 239.54,3176.36 263.74,3179.21 275.98,3176.07 300.75,3170.38 324.95,3178.35 337.19,3175.22 361.96,3174.37 386.16,3177.78 398.11,3172.66 422.6,3173.51 447.37,3176.36 459.61,3171.8 483.81,3172.37 495.77,3174.94 500,3175.22 521.35,3175.51 545.84,3175.79 558.08,3177.5 582.56,3174.37 607.05,3176.07 619.29,3174.94 643.77,3175.51 668.26,3175.51 680.5,3173.51 704.98,3173.8 729.47,3173.23 741.71,3173.8 766.19,3176.93 790.68,3174.37 802.92,3173.8 827.4,3177.21 839.64,3174.65 864.13,3173.23 888.61,3171.8 900.82,3173.23 925.3,3173.23 949.79,3172.09 962.03,3176.64 986.51,3173.23 1011,3174.94 1023.24,3174.08 1047.72,3174.65 1072.21,3173.51 1084.45,3175.79 1108.93,3173.8 1121.17,3176.07 1145.66,3176.93 1170.14,3175.22 1182.38,3173.8 1206.87,3176.36 1231.35,3176.36 1243.59,3177.21 1268.08,3173.8 1292.18,3174.86 1304.52,3176.31 1328.84,3177.04 1353.52,3175.95 1365.5,3177.4 1390.18,3181.39 1402.52,3181.03 1426.84,3178.85 1451.16,3178.13 1463.5,3176.31 1487.82,3179.94 1512.5,3178.85 1524.85,3180.3 1549.17,3181.03 1561.51,3178.49 1585.83,3179.58 1610.51,3176.67 1634.83,3181.75 1647.17,3182.12 1671.49,3180.3 1683.83,3180.3" fill="none" stroke="#0000ff" stroke-width="2.05" stroke-linejoin="round"/>
</g>
<rect x="117" y="1304.8" width="1566" height="189" fill="none" stroke="#000" stroke-width="2.05"/>
<line x1="203.5" y1="1493.8" x2="203.5" y2="1485.8" stroke="#000" stroke-width="1"/>
<line x1="203.5" y1="1304.8" x2="203.5" y2="1312.8" stroke="#000" stroke-width="1"/>
<line x1="386.5" y1="1493.8" x2="386.5" y2="1485.8" stroke="#000" stroke-width="1"/>
<line x1="386.5" y1="1304.8" x2="386.5" y2="1312.8" stroke="#000" stroke-width="1"/>
<line x1="570.5" y1="1493.8" x2="570.5" y2="1485.8" stroke="#000" stroke-width="1"/>
<line x1="570.5" y1="1304.8" x2="570.5" y2="1312.8" stroke="#000" stroke-width="1"/>
<line x1="753.5" y1="1493.8" x2="753.5" y2="1485.8" stroke="#000" stroke-width="1"/>
<line x1="753.5" y1="1304.8" x2="753.5" y2="1312.8" stroke="#000" stroke-width="1"/>
<line x1="936.5" y1="1493.8" x2="936.5" y2="1485.8" stroke="#000" stroke-width="1"/>
<line x1="936.5" y1="1304.8" x2="936.5" y2="1312.8" stroke="#000" stroke-width="1"/>
<line x1="1120.5" y1="1493.8" x2="1120.5" y2="1485.8" stroke="#000" stroke-width="1"/>
<line x1="1120.5" y1="1304.8" x2="1120.5" y2="1312.8" stroke="#000" stroke-width="1"/>
<line x1="1303.5" y1="1493.8" x2="1303.5" y2="1485.8" stroke="#000" stroke-width="1"/>
<line x1="1303.5" y1="1304.8" x2="1303.5" y2="1312.8" stroke="#000" stroke-width="1"/>
<line x1="1487.5" y1="1493.8" x2="1487.5" y2="1485.8" stroke="#000" stroke-width="1"/>
<line x1="1487.5" y1="1304.8" x2="1487.5" y2="1312.8" stroke="#000" stroke-width="1"/>
<line x1="1670.5" y1="1493.8" x2="1670.5" y2="1485.8" stroke="#000" stroke-width="1"/>
<line x1="1670.5" y1="1304.8" x2="1670.5" y2="1312.8" stroke="#000" stroke-width="1"/>
<line x1="117" y1="1493.5" x2="125" y2="1493.5" stroke="#000" stroke-width="1"/>
<line x1="1683" y1="1493.5" x2="1675" y2="1493.5" stroke="#000" stroke-width="1"/>
<line x1="117" y1="1466.5" x2="125" y2="1466.5" stroke="#000" stroke-width="1"/>
<line x1="1683" y1="1466.5" x2="1675" y2="1466.5" stroke="#000" stroke-width="1"/>
<line x1="117" y1="1439.5" x2="125" y2="1439.5" stroke="#000" stroke-width="1"/>
<line x1="1683" y1="1439.5" x2="1675" y2="1439.5" stroke="#000" stroke-width="1"/>
<line x1="117" y1="1412.5" x2="125" y2="1412.5" stroke="#000" stroke-width="1"/>
<line x1="1683" y1="1412.5" x2="1675" y2="1412.5" stroke="#000" stroke-width="1"/>
<line x1="117" y1="1385.5" x2="125" y2="1385.5" stroke="#000" stroke-width="1"/>
<line x1="1683" y1="1385.5" x2="1675" y2="1385.5" stroke="#000" stroke-width="1"/>
<line x1="117" y1="1359.5" x2="125" y2="1359.5" stroke="#000" stroke-width="1"/>
<line x1="1683" y1="1359.5" x2="1675" y2="1359.5" stroke="#000" stroke-width="1"/>
<line x1="117" y1="1332.5" x2="125" y2="1332.5" stroke="#000" stroke-width="1"/>
<line x1="1683" y1="1332.5" x2="1675" y2="1332.5" stroke="#000" stroke-width="1"/>
<line x1="117" y1="1305.5" x2="125" y2="1305.5" stroke="#000" stroke-width="1"/>
<line x1="1683" y1="1305.5" x2="1675" y2="1305.5" stroke="#000" stroke-width="1"/>
<rect x="117" y="1588.4" width="1566" height="189" fill="none" stroke="#000" stroke-width="2.05"/>
<line x1="203.5" y1="1777.4" x2="203.5" y2="1769.4" stroke="#000" stroke-width="1"/>
<line x1="203.5" y1="1588.4" x2="203.5" y2="1596.4" stroke="#000" stroke-width="1"/>
<line x1="386.5" y1="1777.4" x2="386.5" y2="1769.4" stroke="#000" stroke-width="1"/>
<line x1="386.5" y1="1588.4" x2="386.5" y2="1596.4" stroke="#000" stroke-width="1"/>
<line x1="570.5" y1="1777.4" x2="570.5" y2="1769.4" stroke="#000" stroke-width="1"/>
<line x1="570.5" y1="1588.4" x2="570.5" y2="1596.4" stroke="#000" stroke-width="1"/>
<line x1="753.5" y1="1777.4" x2="753.5" y2="1769.4" stroke="#000" stroke-width="1"/>
<line x1="753.5" y1="1588.4" x2="753.5" y2="1596.4" stroke="#000" stroke-width="1"/>
<line x1="936.5" y1="1777.4" x2="936.5" y2="1769.4" stroke="#000" stroke-width="1"/>
<line x1="936.5" y1="1588.4" x2="936.5" y2="1596.4" stroke="#000" stroke-width="1"/>
<line x1="1120.5" y1="1777.4" x2="1120.5" y2="1769.4" stroke="#000" stroke-width="1"/>
<line x1="1120.5" y1="1588.4" x2="1120.5" y2="1596.4" stroke="#000" stroke-width="1"/>
<line x1="1303.5" y1="1777.4" x2="1303.5" y2="1769.4" stroke="#000" stroke-width="1"/>
<line x1="1303.5" y1="1588.4" x2="1303.5" y2="1596.4" stroke="#000" stroke-width="1"/>
<line x1="1487.5" y1="1777.4" x2="1487.5" y2="1769.4" stroke="#000" stroke-width="1"/>
<line x1="1487.5" y1="1588.4" x2="1487.5" y2="1596.4" stroke="#000" stroke-width="1"/>
<line x1="1670.5" y1="1777.4" x2="1670.5" y2="1769.4" stroke="#000" stroke-width="1"/>
<line x1="1670.5" y1="1588.4" x2="1670.5" y2="1596.4" stroke="#000" stroke-width="1"/>
<line x1="117" y1="1776.5" x2="125" y2="1776.5" stroke="#000" stroke-width="1"/>
<line x1="1683" y1="1776.5" x2="1675" y2="1776.5" stroke="#000" stroke-width="1"/>
<line x1="117" y1="1753.5" x2="125" y2="1753.5" stroke="#000" stroke-width="1"/>
<line x1="1683" y1="1753.5" x2="1675" y2="1753.5" stroke="#000" stroke-width="1"/>
<line x1="117" y1="1729.5" x2="125" y2="1729.5" stroke="#000" stroke-width="1"/>
<line x1="1683" y1="1729.5" x2="1675" y2="1729.5" stroke="#000" stroke-width="1"/>
<line x1="117" y1="1706.5" x2="125" y2="1706.5" stroke="#000" stroke-width="1"/>
<line x1="1683" y1="1706.5" x2="1675" y2="1706.5" stroke="#000" stroke-width="1"/>
<line x1="117" y1="1682.5" x2="125" y2="1682.5" stroke="#000" stroke-width="1"/>
<line x1="1683" y1="1682.5" x2="1675" y2="1682.5" stroke="#000" stroke-width="1"/>
<line x1="117" y1="1659.5" x2="125" y2="1659.5" stroke="#000" stroke-width="1"/>
<line x1="1683" y1="1659.5" x2="1675" y2="1659.5" stroke="#000" stroke-width="1"/>
<line x1="117" y1="1635.5" x2="125" y2="1635.5" stroke="#000" stroke-width="1"/>
<line x1="1683" y1="1635.5" x2="1675" y2="1635.5" stroke="#000" stroke-width="1"/>
<line x1="117" y1="1612.5" x2="125" y2="1612.5" stroke="#000" stroke-width="1"/>
<line x1="1683" y1="1612.5" x2="1675" y2="1612.5" stroke="#000" stroke-width="1"/>
<line x1="117" y1="1588.5" x2="125" y2="1588.5" stroke="#000" stroke-width="1"/>
<line x1="1683" y1="1588.5" x2="1675" y2="1588.5" stroke="#000" stroke-width="1"/>
<rect x="117" y="1872" width="1566" height="189" fill="none" stroke="#000" stroke-width="2.05"/>
<line x1="203.5" y1="2061" x2="203.5" y2="2053" stroke="#000" stroke-width="1"/>
<line x1="203.5" y1="1872" x2="203.5" y2="1880" stroke="#000" stroke-width="1"/>
<line x1="386.5" y1="2061" x2="386.5" y2="2053" stroke="#000" stroke-width="1"/>
<line x1="386.5" y1="1872" x2="386.5" y2="1880" stroke="#000" stroke-width="1"/>
<line x1="570.5" y1="2061" x2="570.5" y2="2053" stroke="#000" stroke-width="1"/>
<line x1="570.5" y1="1872" x2="570.5" y2="1880" stroke="#000" stroke-width="1"/>
<line x1="753.5" y1="2061" x2="753.5" y2="2053" stroke="#000" stroke-width="1"/>
<line x1="753.5" y1="1872" x2="753.5" y2="1880" stroke="#000" stroke-width="1"/>
<line x1="936.5" y1="2061" x2="936.5" y2="2053" stroke="#000" stroke-width="1"/>
<line x1="936.5" y1="1872" x2="936.5" y2="1880" stroke="#000" stroke-width="1"/>
<line x1="1120.5" y1="2061" x2="1120.5" y2="2053" stroke="#000" stroke-width="1"/>
<line x1="1120.5" y1="1872" x2="1120.5" y2="1880" stroke="#000" stroke-width="1"/>
<line x1="1303.5" y1="2061" x2="1303.5" y2="2053" stroke="#000" stroke-width="1"/>
<line x1="1303.5" y1="1872" x2="1303.5" y2="1880" stroke="#000" stroke-width="1"/>
<line x1="1487.5" y1="2061" x2="1487.5" y2="2053" stroke="#000" stroke-width="1"/>
<line x1="1487.5" y1="1872" x2="1487.5" y2="1880" stroke="#000" stroke-width="1"/>
<line x1="1670.5" y1="2061" x2="1670.5" y2="2053" stroke="#000" stroke-width="1"/>
<line x1="1670.5" y1="1872" x2="1670.5" y2="1880" stroke="#000" stroke-width="1"/>
<line x1="117" y1="2060.5" x2="125" y2="2060.5" stroke="#000" stroke-width="1"/>
<line x1="1683" y1="2060.5" x2="1675" y2="2060.5" stroke="#000" stroke-width="1"/>
<line x1="117" y1="1997.5" x2="125" y2="1997.5" stroke="#000" stroke-width="1"/>
<line x1="1683" y1="1997.5" x2="1675" y2="1997.5" stroke="#000" stroke-width="1"/>
<line x1="117" y1="1935.5" x2="125" y2="1935.5" stroke="#000" stroke-width="1"/>
<line x1="1683" y1="1935.5" x2="1675" y2="1935.5" stroke="#000" stroke-width="1"/>
<line x1="117" y1="1872.5" x2="125" y2="1872.5" stroke="#000" stroke-width="1"/>
<line x1="1683" y1="1872.5" x2="1675" y2="1872.5" stroke="#000" stroke-width="1"/>
<rect x="117" y="2155.6" width="1566" height="189" fill="none" stroke="#000" stroke-width="2.05"/>
<line x1="203.5" y1="2344.6" x2="203.5" y2="2336.6" stroke="#000" stroke-width="1"/>
<line x1="203.5" y1="2155.6" x2="203.5" y2="2163.6" stroke="#000" stroke-width="1"/>
<line x1="386.5" y1="2344.6" x2="386.5" y2="2336.6" stroke="#000" stroke-width="1"/>
<line x1="386.5" y1="2155.6" x2="386.5" y2="2163.6" stroke="#000" stroke-width="1"/>
<line x1="570.5" y1="2344.6" x2="570.5" y2="2336.6" stroke="#000" stroke-width="1"/>
<line x1="570.5" y1="2155.6" x2="570.5" y2="2163.6" stroke="#000" stroke-width="1"/>
<line x1="753.5" y1="2344.6" x2="753.5" y2="2336.6" stroke="#000" stroke-width="1"/>
<line x1="753.5" y1="2155.6" x2="753.5" y2="2163.6" stroke="#000" stroke-width="1"/>
<line x1="936.5" y1="2344.6" x2="936.5" y2="2336.6" stroke="#000" stroke-width="1"/>
<line x1="936.5" y1="2155.6" x2="936.5" y2="2163.6" stroke="#000" stroke-width="1"/>
<line x1="1120.5" y1="2344.6" x2="1120.5" y2="2336.6" stroke="#000" stroke-width="1"/>
<line x1="1120.5" y1="2155.6" x2="1120.5" y2="2163.6" stroke="#000" stroke-width="1"/>
<line x1="1303.5" y1="2344.6" x2="1303.5" y2="2336.6" stroke="#000" stroke-width="1"/>
<line x1="1303.5" y1="2155.6" x2="1303.5" y2="2163.6" stroke="#000" stroke-width="1"/>
<line x1="1487.5" y1="2344.6" x2="1487.5" y2="2336.6" stroke="#000" stroke-width="1"/>
<line x1="1487.5" y1="2155.6" x2="1487.5" y2="2163.6" stroke="#000" stroke-width="1"/>
<line x1="1670.5" y1="2344.6" x2="1670.5" y2="2336.6" stroke="#000" stroke-width="1"/>
<line x1="1670.5" y1="2155.6" x2="1670.5" y2="2163.6" stroke="#000" stroke-width="1"/>
<line x1="117" y1="2344.5" x2="125" y2="2344.5" stroke="#000" stroke-width="1"/>
<line x1="1683" y1="2344.5" x2="1675" y2="2344.5" stroke="#000" stroke-width="1"/>
<line x1="117" y1="2320.5" x2="125" y2="2320.5" stroke="#000" stroke-width="1"/>
<line x1="1683" y1="2320.5" x2="1675" y2="2320.5" stroke="#000" stroke-width="1"/>
<line x1="117" y1="2297.5" x2="125" y2="2297.5" stroke="#000" stroke-width="1"/>
<line x1="1683" y1="2297.5" x2="1675" y2="2297.5" stroke="#000" stroke-width="1"/>
<line x1="117" y1="2273.5" x2="125" y2="2273.5" stroke="#000" stroke-width="1"/>
<line x1="1683" y1="2273.5" x2="1675" y2="2273.5" stroke="#000" stroke-width="1"/>
<line x1="117" y1="2250.5" x2="125" y2="2250.5" stroke="#000" stroke-width="1"/>
<line x1="1683" y1="2250.5" x2="1675" y2="2250.5" stroke="#000" stroke-width="1"/>
<line x1="117" y1="2226.5" x2="125" y2="2226.5" stroke="#000" stroke-width="1"/>
<line x1="1683" y1="2226.5" x2="1675" y2="2226.5" stroke="#000" stroke-width="1"/>
<line x1="117" y1="2203.5" x2="125" y2="2203.5" stroke="#000" stroke-width="1"/>
<line x1="1683" y1="2203.5" x2="1675" y2="2203.5" stroke="#000" stroke-width="1"/>
<line x1="117" y1="2179.5" x2="125" y2="2179.5" stroke="#000" stroke-width="1"/>
<line x1="1683" y1="2179.5" x2="1675" y2="2179.5" stroke="#000" stroke-width="1"/>
<line x1="117" y1="2156.5" x2="125" y2="2156.5" stroke="#000" stroke-width="1"/>
<line x1="1683" y1="2156.5" x2="1675" y2="2156.5" stroke="#000" stroke-width="1"/>
<rect x="117" y="2439.2" width="1566" height="189" fill="none" stroke="#000" stroke-width="2.05"/>
<line x1="203.5" y1="2628.2" x2="203.5" y2="2620.2" stroke="#000" stroke-width="1"/>
<line x1="203.5" y1="2439.2" x2="203.5" y2="2447.2" stroke="#000" stroke-width="1"/>
<line x1="386.5" y1="2628.2" x2="386.5" y2="2620.2" stroke="#000" stroke-width="1"/>
<line x1="386.5" y1="2439.2" x2="386.5" y2="2447.2" stroke="#000" stroke-width="1"/>
<line x1="570.5" y1="2628.2" x2="570.5" y2="2620.2" stroke="#000" stroke-width="1"/>
<line x1="570.5" y1="2439.2" x2="570.5" y2="2447.2" stroke="#000" stroke-width="1"/>
<line x1="753.5" y1="2628.2" x2="753.5" y2="2620.2" stroke="#000" stroke-width="1"/>
<line x1="753.5" y1="2439.2" x2="753.5" y2="2447.2" stroke="#000" stroke-width="1"/>
<line x1="936.5" y1="2628.2" x2="936.5" y2="2620.2" stroke="#000" stroke-width="1"/>
<line x1="936.5" y1="2439.2" x2="936.5" y2="2447.2" stroke="#000" stroke-width="1"/>
<line x1="1120.5" y1="2628.2" x2="1120.5" y2="2620.2" stroke="#000" stroke-width="1"/>
<line x1="1120.5" y1="2439.2" x2="1120.5" y2="2447.2" stroke="#000" stroke-width="1"/>
<line x1="1303.5" y1="2628.2" x2="1303.5" y2="2620.2" stroke="#000" stroke-width="1"/>
<line x1="1303.5" y1="2439.2" x2="1303.5" y2="2447.2" stroke="#000" stroke-width="1"/>
<line x1="1487.5" y1="2628.2" x2="1487.5" y2="2620.2" stroke="#000" stroke-width="1"/>
<line x1="1487.5" y1="2439.2" x2="1487.5" y2="2447.2" stroke="#000" stroke-width="1"/>
<line x1="1670.5" y1="2628.2" x2="1670.5" y2="2620.2" stroke="#000" stroke-width="1"/>
<line x1="1670.5" y1="2439.2" x2="1670.5" y2="2447.2" stroke="#000" stroke-width="1"/>
<line x1="117" y1="2627.5" x2="125" y2="2627.5" stroke="#000" stroke-width="1"/>
<line x1="1683" y1="2627.5" x2="1675" y2="2627.5" stroke="#000" stroke-width="1"/>
<line x1="117" y1="2590.5" x2="125" y2="2590.5" stroke="#000" stroke-width="1"/>
<line x1="1683" y1="2590.5" x2="1675" y2="2590.5" stroke="#000" stroke-width="1"/>
<line x1="117" y1="2552.5" x2="125" y2="2552.5" stroke="#000" stroke-width="1"/>
<line x1="1683" y1="2552.5" x2="1675" y2="2552.5" stroke="#000" stroke-width="1"/>
<line x1="117" y1="2514.5" x2="125" y2="2514.5" stroke="#000" stroke-width="1"/>
<line x1="1683" y1="2514.5" x2="1675" y2="2514.5" stroke="#000" stroke-width="1"/>
<line x1="117" y1="2477.5" x2="125" y2="2477.5" stroke="#000" stroke-width="1"/>
<line x1="1683" y1="2477.5" x2="1675" y2="2477.5" stroke="#000" stroke-width="1"/>
<line x1="117" y1="2439.5" x2="125" y2="2439.5" stroke="#000" stroke-width="1"/>
<line x1="1683" y1="2439.5" x2="1675" y2="2439.5" stroke="#000" stroke-width="1"/>
<rect x="117" y="2722.8" width="1566" height="189" fill="none" stroke="#000" stroke-width="2.05"/>
<line x1="203.5" y1="2911.8" x2="203.5" y2="2903.8" stroke="#000" stroke-width="1"/>
<line x1="203.5" y1="2722.8" x2="203.5" y2="2730.8" stroke="#000" stroke-width="1"/>
<line x1="386.5" y1="2911.8" x2="386.5" y2="2903.8" stroke="#000" stroke-width="1"/>
<line x1="386.5" y1="2722.8" x2="386.5" y2="2730.8" stroke="#000" stroke-width="1"/>
<line x1="570.5" y1="2911.8" x2="570.5" y2="2903.8" stroke="#000" stroke-width="1"/>
<line x1="570.5" y1="2722.8" x2="570.5" y2="2730.8" stroke="#000" stroke-width="1"/>
<line x1="753.5" y1="2911.8" x2="753.5" y2="2903.8" stroke="#000" stroke-width="1"/>
<line x1="753.5" y1="2722.8" x2="753.5" y2="2730.8" stroke="#000" stroke-width="1"/>
<line x1="936.5" y1="2911.8" x2="936.5" y2="2903.8" stroke="#000" stroke-width="1"/>
<line x1="936.5" y1="2722.8" x2="936.5" y2="2730.8" stroke="#000" stroke-width="1"/>
<line x1="1120.5" y1="2911.8" x2="1120.5" y2="2903.8" stroke="#000" stroke-width="1"/>
<line x1="1120.5" y1="2722.8" x2="1120.5" y2="2730.8" stroke="#000" stroke-width="1"/>
<line x1="1303.5" y1="2911.8" x2="1303.5" y2="2903.8" stroke="#000" stroke-width="1"/>
<line x1="1303.5" y1="2722.8" x2="1303.5" y2="2730.8" stroke="#000" stroke-width="1"/>
<line x1="1487.5" y1="2911.8" x2="1487.5" y2="2903.8" stroke="#000" stroke-width="1"/>
<line x1="1487.5" y1="2722.8" x2="1487.5" y2="2730.8" stroke="#000" stroke-width="1"/>
<line x1="1670.5" y1="2911.8" x2="1670.5" y2="2903.8" stroke="#000" stroke-width="1"/>
<line x1="1670.5" y1="2722.8" x2="1670.5" y2="2730.8" stroke="#000" stroke-width="1"/>
<line x1="117" y1="2911.5" x2="125" y2="2911.5" stroke="#000" stroke-width="1"/>
<line x1="1683" y1="2911.5" x2="1675" y2="2911.5" stroke="#000" stroke-width="1"/>
<line x1="117" y1="2879.5" x2="125" y2="2879.5" stroke="#000" stroke-width="1"/>
<line x1="1683" y1="2879.5" x2="1675" y2="2879.5" stroke="#000" stroke-width="1"/>
<line x1="117" y1="2848.5" x2="125" y2="2848.5" stroke="#000" stroke-width="1"/>
<line x1="1683" y1="2848.5" x2="1675" y2="2848.5" stroke="#000" stroke-width="1"/>
<line x1="117" y1="2817.5" x2="125" y2="2817.5" stroke="#000" stroke-width="1"/>
<line x1="1683" y1="2817.5" x2="1675" y2="2817.5" stroke="#000" stroke-width="1"/>
<line x1="117" y1="2785.5" x2="125" y2="2785.5" stroke="#000" stroke-width="1"/>
<line x1="1683" y1="2785.5" x2="1675" y2="2785.5" stroke="#000" stroke-width="1"/>
<line x1="117" y1="2754.5" x2="125" y2="2754.5" stroke="#000" stroke-width="1"/>
<line x1="1683" y1="2754.5" x2="1675" y2="2754.5" stroke="#000" stroke-width="1"/>
<line x1="117" y1="2723.5" x2="125" y2="2723.5" stroke="#000" stroke-width="1"/>
<line x1="1683" y1="2723.5" x2="1675" y2="2723.5" stroke="#000" stroke-width="1"/>
<rect x="117" y="3006.4" width="1566" height="189" fill="none" stroke="#000" stroke-width="2.05"/>
<line x1="203.5" y1="3195.4" x2="203.5" y2="3187.4" stroke="#000" stroke-width="1"/>
<line x1="203.5" y1="3006.4" x2="203.5" y2="3014.4" stroke="#000" stroke-width="1"/>
<line x1="386.5" y1="3195.4" x2="386.5" y2="3187.4" stroke="#000" stroke-width="1"/>
<line x1="386.5" y1="3006.4" x2="386.5" y2="3014.4" stroke="#000" stroke-width="1"/>
<line x1="570.5" y1="3195.4" x2="570.5" y2="3187.4" stroke="#000" stroke-width="1"/>
<line x1="570.5" y1="3006.4" x2="570.5" y2="3014.4" stroke="#000" stroke-width="1"/>
<line x1="753.5" y1="3195.4" x2="753.5" y2="3187.4" stroke="#000" stroke-width="1"/>
<line x1="753.5" y1="3006.4" x2="753.5" y2="3014.4" stroke="#000" stroke-width="1"/>
<line x1="936.5" y1="3195.4" x2="936.5" y2="3187.4" stroke="#000" stroke-width="1"/>
<line x1="936.5" y1="3006.4" x2="936.5" y2="3014.4" stroke="#000" stroke-width="1"/>
<line x1="1120.5" y1="3195.4" x2="1120.5" y2="3187.4" stroke="#000" stroke-width="1"/>
<line x1="1120.5" y1="3006.4" x2="1120.5" y2="3014.4" stroke="#000" stroke-width="1"/>
<line x1="1303.5" y1="3195.4" x2="1303.5" y2="3187.4" stroke="#000" stroke-width="1"/>
<line x1="1303.5" y1="3006.4" x2="1303.5" y2="3014.4" stroke="#000" stroke-width="1"/>
<line x1="1487.5" y1="3195.4" x2="1487.5" y2="3187.4" stroke="#000" stroke-width="1"/>
<line x1="1487.5" y1="3006.4" x2="1487.5" y2="3014.4" stroke="#000" stroke-width="1"/>
<line x1="1670.5" y1="3195.4" x2="1670.5" y2="3187.4" stroke="#000" stroke-width="1"/>
<line x1="1670.5" y1="3006.4" x2="1670.5" y2="3014.4" stroke="#000" stroke-width="1"/>
<line x1="117" y1="3194.5" x2="125" y2="3194.5" stroke="#000" stroke-width="1"/>
<line x1="117" y1="3157.5" x2="125" y2="3157.5" stroke="#000" stroke-width="1"/>
<line x1="117" y1="3119.5" x2="125" y2="3119.5" stroke="#000" stroke-width="1"/>
<line x1="117" y1="3082.5" x2="125" y2="3082.5" stroke="#000" stroke-width="1"/>
<line x1="117" y1="3044.5" x2="125" y2="3044.5" stroke="#000" stroke-width="1"/>
<line x1="117" y1="3006.5" x2="125" y2="3006.5" stroke="#000" stroke-width="1"/>
<rect x="1605.2" y="1312.1" width="71.2" height="71.8" fill="#fff" stroke="#000" stroke-width="2.05"/>
<line x1="1614.6" y1="1324.3" x2="1635.9" y2="1324.3" stroke="#ff0000" stroke-width="2.05"/>
<line x1="1614.6" y1="1347.1" x2="1635.9" y2="1347.1" stroke="#008000" stroke-width="2.05"/>
<line x1="1614.6" y1="1369.9" x2="1635.9" y2="1369.9" stroke="#0000ff" stroke-width="2.05"/>
<rect x="1600.6" y="1596.1" width="75.7" height="94" fill="#fff" stroke="#000" stroke-width="2.05"/>
<line x1="1610.3" y1="1608.3" x2="1631.6" y2="1608.3" stroke="#ff0000" stroke-width="2.05"/>
<line x1="1610.3" y1="1630.6" x2="1631.6" y2="1630.6" stroke="#008000" stroke-width="2.05"/>
<line x1="1610.3" y1="1652.9" x2="1631.6" y2="1652.9" stroke="#0000ff" stroke-width="2.05"/>
<line x1="1610.3" y1="1675.2" x2="1631.6" y2="1675.2" stroke="#000" stroke-width="2.05"/>
<rect x="1604.6" y="2163.1" width="71.7" height="71.2" fill="#fff" stroke="#000" stroke-width="2.05"/>
<line x1="1614.5" y1="2175.3" x2="1635.8" y2="2175.3" stroke="#ff0000" stroke-width="2.05"/>
<line x1="1614.5" y1="2197.6" x2="1635.8" y2="2197.6" stroke="#008000" stroke-width="2.05"/>
<line x1="1614.5" y1="2219.9" x2="1635.8" y2="2219.9" stroke="#0000ff" stroke-width="2.05"/>
<rect x="1607.7" y="2446.1" width="68.6" height="56.9" fill="#fff" stroke="#000" stroke-width="2.05"/>
<line x1="1617.4" y1="2459.7" x2="1639.6" y2="2459.7" stroke="#0000ff" stroke-width="2.05"/>
<line x1="1617.4" y1="2487.1" x2="1639.6" y2="2487.1" stroke="#008000" stroke-width="2.05"/>
<rect x="123.7" y="3012.7" width="71.7" height="27.6" fill="#fff" stroke="#000" stroke-width="2.05"/>
<line x1="134.2" y1="3025.5" x2="155.6" y2="3025.5" stroke="#0000ff" stroke-width="2.05"/>
<clipPath id="c_p7b"><rect x="117" y="3006.4" width="1566" height="189"/></clipPath>
<g clip-path="url(#c_p7b)">
<polyline points="166.09,2980.49 202.81,3084.4 215.05,3066.75 227.3,3041.7 239.54,3045.11 251.78,3034.01 263.74,3020.91 275.98,3046.82 288.22,3065.33 300.75,3082.98 312.7,3055.36 324.95,3026.04 337.19,3054.51 361.96,3060.2 386.16,3034.3 398.11,3070.17 410.36,3067.04 422.6,3065.04 434.84,3055.36 447.37,3046.82 459.61,3075.01 483.81,3072.73 495.77,3057.07 500,3057.07 521.35,3055.08 533.59,3051.95 545.84,3051.38 558.08,3039.14 582.56,3059.92 594.8,3053.37 607.05,3048.25 619.29,3057.93 631.53,3054.79 643.77,3053.09 656.01,3053.65 668.26,3051.95 680.5,3063.62 692.74,3063.62 704.98,3064.47 717.22,3066.75 729.47,3067.04 741.71,3064.76 766.19,3043.12 790.68,3061.63 802.92,3064.76 815.16,3054.22 827.4,3038 839.64,3057.64 851.89,3063.33 864.13,3065.04 876.37,3069.03 888.61,3073.3 900.82,3064.76 913.06,3066.75 925.3,3066.75 937.54,3068.74 949.79,3071.59 962.03,3041.7 986.51,3067.04 998.75,3060.77 1011,3055.93 1023.24,3060.77 1035.48,3059.63 1047.72,3059.92 1059.96,3061.06 1072.21,3064.47 1084.45,3048.53 1096.69,3057.64 1108.93,3066.18 1121.17,3049.95 1133.42,3047.39 1145.66,3045.4 1157.9,3051.95 1170.14,3057.64 1182.38,3066.18 1194.63,3057.36 1206.87,3046.25 1219.11,3047.11 1231.35,3046.82 1243.59,3041.7 1268.08,3067.04 1280.32,3061.91 1292.18,3058.71 1304.52,3049.99 1316.86,3048.91 1328.84,3045.28 1341.18,3046.73 1353.52,3050.72 1365.5,3043.1 1377.84,3022.41 1390.18,2982.48 1402.52,2993.37 1414.5,3010.07 1426.84,3019.5 1438.82,3020.96 1451.16,3022.05 1463.5,3043.46 1475.84,3031.85 1487.82,3012.25 1500.16,3019.5 1512.5,3023.86 1524.85,3002.44 1536.82,2986.11 1549.17,2998.81 1561.51,3026.04 1573.48,3021.68 1585.83,3015.15 1598.17,3018.78 1610.51,3022.41 1622.49,3011.52 1634.83,2989.74 1647.17,2989.74 1659.15,2993.37 1671.49,3007.16 1683.83,3007.89" fill="none" stroke="#ff0000" stroke-width="2.05" stroke-linejoin="round"/>
</g>
<rect x="1585.8" y="3013" width="90" height="31.5" fill="#fff" stroke="#000" stroke-width="2.05"/>
<line x1="1595.6" y1="3027.9" x2="1617.8" y2="3027.9" stroke="#ff0000" stroke-width="2.05"/>
<rect x="117" y="3006.4" width="1566" height="189" fill="none" stroke="#000" stroke-width="2.05"/>
<line x1="1683" y1="3195.5" x2="1675" y2="3195.5" stroke="#000" stroke-width="1"/>
<line x1="1683" y1="3157.5" x2="1675" y2="3157.5" stroke="#000" stroke-width="1"/>
<line x1="1683" y1="3119.5" x2="1675" y2="3119.5" stroke="#000" stroke-width="1"/>
<line x1="1683" y1="3082.5" x2="1675" y2="3082.5" stroke="#000" stroke-width="1"/>
<line x1="1683" y1="3044.5" x2="1675" y2="3044.5" stroke="#000" stroke-width="1"/>
<line x1="1683" y1="3006.5" x2="1675" y2="3006.5" stroke="#000" stroke-width="1"/>
<g style="filter:grayscale(1)">
<text transform="translate(315.2,108.8)" font-size="15.6" text-anchor="start" fill="#000" textLength="93.01" lengthAdjust="spacingAndGlyphs">1st half path</text>
<text transform="translate(315.2,131.8)" font-size="15.6" text-anchor="start" fill="#000" textLength="98.23" lengthAdjust="spacingAndGlyphs">2nd half path</text>
<text transform="translate(174.42,560)" font-size="17.6" text-anchor="middle" fill="#000" textLength="48.21" lengthAdjust="spacingAndGlyphs">−0.30</text>
<text transform="translate(242.37,560)" font-size="17.6" text-anchor="middle" fill="#000" textLength="48.21" lengthAdjust="spacingAndGlyphs">−0.24</text>
<text transform="translate(310.32,560)" font-size="17.6" text-anchor="middle" fill="#000" textLength="48.21" lengthAdjust="spacingAndGlyphs">−0.18</text>
<text transform="translate(378.27,560)" font-size="17.6" text-anchor="middle" fill="#000" textLength="48.21" lengthAdjust="spacingAndGlyphs">−0.12</text>
<text transform="translate(446.22,560)" font-size="17.6" text-anchor="middle" fill="#000" textLength="48.21" lengthAdjust="spacingAndGlyphs">−0.06</text>
<text transform="translate(514.17,560)" font-size="17.6" text-anchor="middle" fill="#000" textLength="36.88" lengthAdjust="spacingAndGlyphs">0.00</text>
<text transform="translate(107.5,542.9)" font-size="17.6" text-anchor="end" fill="#000" textLength="47.42" lengthAdjust="spacingAndGlyphs">0.000</text>
<text transform="translate(107.5,497.6)" font-size="17.6" text-anchor="end" fill="#000" textLength="47.42" lengthAdjust="spacingAndGlyphs">0.002</text>
<text transform="translate(107.5,452.3)" font-size="17.6" text-anchor="end" fill="#000" textLength="47.42" lengthAdjust="spacingAndGlyphs">0.004</text>
<text transform="translate(107.5,407)" font-size="17.6" text-anchor="end" fill="#000" textLength="47.42" lengthAdjust="spacingAndGlyphs">0.006</text>
<text transform="translate(107.5,361.7)" font-size="17.6" text-anchor="end" fill="#000" textLength="47.42" lengthAdjust="spacingAndGlyphs">0.008</text>
<text transform="translate(107.5,316.4)" font-size="17.6" text-anchor="end" fill="#000" textLength="47.42" lengthAdjust="spacingAndGlyphs">0.010</text>
<text transform="translate(107.5,271.1)" font-size="17.6" text-anchor="end" fill="#000" textLength="47.42" lengthAdjust="spacingAndGlyphs">0.012</text>
<text transform="translate(107.5,225.8)" font-size="17.6" text-anchor="end" fill="#000" textLength="47.42" lengthAdjust="spacingAndGlyphs">0.014</text>
<text transform="translate(107.5,180.5)" font-size="17.6" text-anchor="end" fill="#000" textLength="47.42" lengthAdjust="spacingAndGlyphs">0.016</text>
<text transform="translate(107.5,135.2)" font-size="17.6" text-anchor="end" fill="#000" textLength="47.42" lengthAdjust="spacingAndGlyphs">0.018</text>
<text transform="translate(107.5,89.9)" font-size="17.6" text-anchor="end" fill="#000" textLength="47.42" lengthAdjust="spacingAndGlyphs">0.020</text>
<text transform="translate(344,73.6)" font-size="24.2" text-anchor="middle" fill="#000" textLength="232.89" lengthAdjust="spacingAndGlyphs">Transverse pressure</text>
<text transform="translate(344,590.8)" font-size="17.6" text-anchor="middle" fill="#000" textLength="55.78" lengthAdjust="spacingAndGlyphs">A(T·m)</text>
<text transform="translate(46.5,313.5) rotate(-90)" font-size="17.6" text-anchor="middle" fill="#000" textLength="60.05" lengthAdjust="spacingAndGlyphs">Pt(nPa)</text>
<text transform="translate(702.11,560)" font-size="17.6" text-anchor="middle" fill="#000" textLength="21.86" lengthAdjust="spacingAndGlyphs">−4</text>
<text transform="translate(758.74,560)" font-size="17.6" text-anchor="middle" fill="#000" textLength="21.86" lengthAdjust="spacingAndGlyphs">−2</text>
<text transform="translate(815.36,560) scale(0.94,1)" font-size="17.6" text-anchor="middle" fill="#000">0</text>
<text transform="translate(871.99,560) scale(0.94,1)" font-size="17.6" text-anchor="middle" fill="#000">2</text>
<text transform="translate(928.61,560) scale(0.94,1)" font-size="17.6" text-anchor="middle" fill="#000">4</text>
<text transform="translate(985.24,560) scale(0.94,1)" font-size="17.6" text-anchor="middle" fill="#000">6</text>
<text transform="translate(1041.86,560) scale(0.94,1)" font-size="17.6" text-anchor="middle" fill="#000">8</text>
<text transform="translate(1098.49,560)" font-size="17.6" text-anchor="middle" fill="#000" textLength="21.08" lengthAdjust="spacingAndGlyphs">10</text>
<text transform="translate(663.5,542.9)" font-size="17.6" text-anchor="end" fill="#000" textLength="21.86" lengthAdjust="spacingAndGlyphs">−8</text>
<text transform="translate(663.5,486.27)" font-size="17.6" text-anchor="end" fill="#000" textLength="21.86" lengthAdjust="spacingAndGlyphs">−6</text>
<text transform="translate(663.5,429.65)" font-size="17.6" text-anchor="end" fill="#000" textLength="21.86" lengthAdjust="spacingAndGlyphs">−4</text>
<text transform="translate(663.5,373.02)" font-size="17.6" text-anchor="end" fill="#000" textLength="21.86" lengthAdjust="spacingAndGlyphs">−2</text>
<text transform="translate(663.5,316.4) scale(0.94,1)" font-size="17.6" text-anchor="end" fill="#000">0</text>
<text transform="translate(663.5,259.77) scale(0.94,1)" font-size="17.6" text-anchor="end" fill="#000">2</text>
<text transform="translate(663.5,203.15) scale(0.94,1)" font-size="17.6" text-anchor="end" fill="#000">4</text>
<text transform="translate(663.5,146.53) scale(0.94,1)" font-size="17.6" text-anchor="end" fill="#000">6</text>
<text transform="translate(663.5,89.9) scale(0.94,1)" font-size="17.6" text-anchor="end" fill="#000">8</text>
<text transform="translate(900,73.6)" font-size="24.2" text-anchor="middle" fill="#000" textLength="357.27" lengthAdjust="spacingAndGlyphs">Hodogram(B2_B1 MVAB frame)</text>
<text transform="translate(900,590.8)" font-size="17.6" text-anchor="middle" fill="#000" textLength="55.44" lengthAdjust="spacingAndGlyphs">B2(nT)</text>
<text transform="translate(626,313.5) rotate(-90)" font-size="17.6" text-anchor="middle" fill="#000" textLength="55.44" lengthAdjust="spacingAndGlyphs">B1(nT)</text>
<text transform="translate(1229.8,560)" font-size="17.6" text-anchor="middle" fill="#000" textLength="21.86" lengthAdjust="spacingAndGlyphs">−6</text>
<text transform="translate(1286.42,560)" font-size="17.6" text-anchor="middle" fill="#000" textLength="21.86" lengthAdjust="spacingAndGlyphs">−4</text>
<text transform="translate(1343.05,560)" font-size="17.6" text-anchor="middle" fill="#000" textLength="21.86" lengthAdjust="spacingAndGlyphs">−2</text>
<text transform="translate(1399.67,560) scale(0.94,1)" font-size="17.6" text-anchor="middle" fill="#000">0</text>
<text transform="translate(1456.3,560) scale(0.94,1)" font-size="17.6" text-anchor="middle" fill="#000">2</text>
<text transform="translate(1512.92,560) scale(0.94,1)" font-size="17.6" text-anchor="middle" fill="#000">4</text>
<text transform="translate(1569.55,560) scale(0.94,1)" font-size="17.6" text-anchor="middle" fill="#000">6</text>
<text transform="translate(1626.17,560) scale(0.94,1)" font-size="17.6" text-anchor="middle" fill="#000">8</text>
<text transform="translate(1682.8,560)" font-size="17.6" text-anchor="middle" fill="#000" textLength="21.08" lengthAdjust="spacingAndGlyphs">10</text>
<text transform="translate(1219.5,542.9)" font-size="17.6" text-anchor="end" fill="#000" textLength="21.86" lengthAdjust="spacingAndGlyphs">−8</text>
<text transform="translate(1219.5,486.27)" font-size="17.6" text-anchor="end" fill="#000" textLength="21.86" lengthAdjust="spacingAndGlyphs">−6</text>
<text transform="translate(1219.5,429.65)" font-size="17.6" text-anchor="end" fill="#000" textLength="21.86" lengthAdjust="spacingAndGlyphs">−4</text>
<text transform="translate(1219.5,373.02)" font-size="17.6" text-anchor="end" fill="#000" textLength="21.86" lengthAdjust="spacingAndGlyphs">−2</text>
<text transform="translate(1219.5,316.4) scale(0.94,1)" font-size="17.6" text-anchor="end" fill="#000">0</text>
<text transform="translate(1219.5,259.77) scale(0.94,1)" font-size="17.6" text-anchor="end" fill="#000">2</text>
<text transform="translate(1219.5,203.15) scale(0.94,1)" font-size="17.6" text-anchor="end" fill="#000">4</text>
<text transform="translate(1219.5,146.53) scale(0.94,1)" font-size="17.6" text-anchor="end" fill="#000">6</text>
<text transform="translate(1219.5,89.9) scale(0.94,1)" font-size="17.6" text-anchor="end" fill="#000">8</text>
<text transform="translate(1456,73.6)" font-size="24.2" text-anchor="middle" fill="#000" textLength="357.27" lengthAdjust="spacingAndGlyphs">Hodogram(B3_B1 MVAB frame)</text>
<text transform="translate(1456,590.8)" font-size="17.6" text-anchor="middle" fill="#000" textLength="55.44" lengthAdjust="spacingAndGlyphs">B3(nT)</text>
<text transform="translate(1182,313.5) rotate(-90)" font-size="17.6" text-anchor="middle" fill="#000" textLength="55.44" lengthAdjust="spacingAndGlyphs">B1(nT)</text>
<text transform="translate(128.6,687.6)" font-size="19.6" text-anchor="start" fill="#000" textLength="135.73" lengthAdjust="spacingAndGlyphs">slope = -0.217</text>
<text transform="translate(128.6,709.6) scale(1.1,1)" font-size="19.6" text-anchor="start" fill="#000"><tspan font-family="Liberation Serif" font-style="italic" font-size="19">r</tspan> = -0.555</text>
<text transform="translate(164.53,1138.4)" font-size="17.6" text-anchor="middle" fill="#000" textLength="32.4" lengthAdjust="spacingAndGlyphs">−40</text>
<text transform="translate(226.84,1138.4)" font-size="17.6" text-anchor="middle" fill="#000" textLength="32.4" lengthAdjust="spacingAndGlyphs">−30</text>
<text transform="translate(289.15,1138.4)" font-size="17.6" text-anchor="middle" fill="#000" textLength="32.4" lengthAdjust="spacingAndGlyphs">−20</text>
<text transform="translate(351.47,1138.4)" font-size="17.6" text-anchor="middle" fill="#000" textLength="32.4" lengthAdjust="spacingAndGlyphs">−10</text>
<text transform="translate(413.78,1138.4) scale(0.94,1)" font-size="17.6" text-anchor="middle" fill="#000">0</text>
<text transform="translate(476.09,1138.4)" font-size="17.6" text-anchor="middle" fill="#000" textLength="21.08" lengthAdjust="spacingAndGlyphs">10</text>
<text transform="translate(538.4,1138.4)" font-size="17.6" text-anchor="middle" fill="#000" textLength="21.08" lengthAdjust="spacingAndGlyphs">20</text>
<text transform="translate(107.5,1074.26)" font-size="17.6" text-anchor="end" fill="#000" textLength="32.4" lengthAdjust="spacingAndGlyphs">−40</text>
<text transform="translate(107.5,1011.94)" font-size="17.6" text-anchor="end" fill="#000" textLength="32.4" lengthAdjust="spacingAndGlyphs">−30</text>
<text transform="translate(107.5,949.63)" font-size="17.6" text-anchor="end" fill="#000" textLength="32.4" lengthAdjust="spacingAndGlyphs">−20</text>
<text transform="translate(107.5,887.32)" font-size="17.6" text-anchor="end" fill="#000" textLength="32.4" lengthAdjust="spacingAndGlyphs">−10</text>
<text transform="translate(107.5,825.01) scale(0.94,1)" font-size="17.6" text-anchor="end" fill="#000">0</text>
<text transform="translate(107.5,762.7)" font-size="17.6" text-anchor="end" fill="#000" textLength="21.08" lengthAdjust="spacingAndGlyphs">10</text>
<text transform="translate(107.5,700.39)" font-size="17.6" text-anchor="end" fill="#000" textLength="21.08" lengthAdjust="spacingAndGlyphs">20</text>
<text transform="translate(344,652)" font-size="24.2" text-anchor="middle" fill="#000" textLength="119.98" lengthAdjust="spacingAndGlyphs">WalenTest</text>
<text transform="translate(344,1169.2) scale(1.05,1)" font-size="17.6" text-anchor="middle" fill="#000">V<tspan font-size="12.5" dy="3.5" font-style="italic" font-family="Liberation Serif">A</tspan><tspan dy="-3.5">(km/s)</tspan></text>
<text transform="translate(55,890.4) rotate(-90) scale(1.05,1)" font-size="17.6" text-anchor="middle" fill="#000">V<tspan font-size="11.8" dy="2.6" font-style="italic" font-family="Liberation Serif" letter-spacing="0.75" fill="#2a2a2a">remaining</tspan><tspan dy="-2.6">(km/s)</tspan></text>
<text transform="translate(673.8,1138.4)" font-size="17.6" text-anchor="middle" fill="#000" textLength="21.86" lengthAdjust="spacingAndGlyphs">−8</text>
<text transform="translate(749.3,1138.4)" font-size="17.6" text-anchor="middle" fill="#000" textLength="21.86" lengthAdjust="spacingAndGlyphs">−6</text>
<text transform="translate(824.8,1138.4)" font-size="17.6" text-anchor="middle" fill="#000" textLength="21.86" lengthAdjust="spacingAndGlyphs">−4</text>
<text transform="translate(900.3,1138.4)" font-size="17.6" text-anchor="middle" fill="#000" textLength="21.86" lengthAdjust="spacingAndGlyphs">−2</text>
<text transform="translate(975.8,1138.4) scale(0.94,1)" font-size="17.6" text-anchor="middle" fill="#000">0</text>
<text transform="translate(1051.3,1138.4) scale(0.94,1)" font-size="17.6" text-anchor="middle" fill="#000">2</text>
<text transform="translate(1126.8,1138.4) scale(0.94,1)" font-size="17.6" text-anchor="middle" fill="#000">4</text>
<text transform="translate(663.5,1083.55)" font-size="17.6" text-anchor="end" fill="#000" textLength="21.86" lengthAdjust="spacingAndGlyphs">−6</text>
<text transform="translate(663.5,1008.05)" font-size="17.6" text-anchor="end" fill="#000" textLength="21.86" lengthAdjust="spacingAndGlyphs">−4</text>
<text transform="translate(663.5,932.55)" font-size="17.6" text-anchor="end" fill="#000" textLength="21.86" lengthAdjust="spacingAndGlyphs">−2</text>
<text transform="translate(663.5,857.05) scale(0.94,1)" font-size="17.6" text-anchor="end" fill="#000">0</text>
<text transform="translate(663.5,781.55) scale(0.94,1)" font-size="17.6" text-anchor="end" fill="#000">2</text>
<text transform="translate(663.5,706.05) scale(0.94,1)" font-size="17.6" text-anchor="end" fill="#000">4</text>
<text transform="translate(900,652)" font-size="24.2" text-anchor="middle" fill="#000" textLength="316.21" lengthAdjust="spacingAndGlyphs">Hodogram(Bz_By FR frame)</text>
<text transform="translate(900,1169.2)" font-size="17.6" text-anchor="middle" fill="#000" textLength="53.6" lengthAdjust="spacingAndGlyphs">Bz(nT)</text>
<text transform="translate(626,891.9) rotate(-90)" font-size="17.6" text-anchor="middle" fill="#000" textLength="54.71" lengthAdjust="spacingAndGlyphs">By(nT)</text>
<text transform="translate(1297.75,1138.4)" font-size="17.6" text-anchor="middle" fill="#000" textLength="21.86" lengthAdjust="spacingAndGlyphs">−4</text>
<text transform="translate(1388.35,1138.4)" font-size="17.6" text-anchor="middle" fill="#000" textLength="21.86" lengthAdjust="spacingAndGlyphs">−2</text>
<text transform="translate(1478.95,1138.4) scale(0.94,1)" font-size="17.6" text-anchor="middle" fill="#000">0</text>
<text transform="translate(1569.55,1138.4) scale(0.94,1)" font-size="17.6" text-anchor="middle" fill="#000">2</text>
<text transform="translate(1660.15,1138.4) scale(0.94,1)" font-size="17.6" text-anchor="middle" fill="#000">4</text>
<text transform="translate(1219.5,1121.3)" font-size="17.6" text-anchor="end" fill="#000" textLength="21.86" lengthAdjust="spacingAndGlyphs">−6</text>
<text transform="translate(1219.5,1030.7)" font-size="17.6" text-anchor="end" fill="#000" textLength="21.86" lengthAdjust="spacingAndGlyphs">−4</text>
<text transform="translate(1219.5,940.1)" font-size="17.6" text-anchor="end" fill="#000" textLength="21.86" lengthAdjust="spacingAndGlyphs">−2</text>
<text transform="translate(1219.5,849.5) scale(0.94,1)" font-size="17.6" text-anchor="end" fill="#000">0</text>
<text transform="translate(1219.5,758.9) scale(0.94,1)" font-size="17.6" text-anchor="end" fill="#000">2</text>
<text transform="translate(1219.5,668.3) scale(0.94,1)" font-size="17.6" text-anchor="end" fill="#000">4</text>
<text transform="translate(1456,652)" font-size="24.2" text-anchor="middle" fill="#000" textLength="317.74" lengthAdjust="spacingAndGlyphs">Hodogram(Bx_By FR frame)</text>
<text transform="translate(1456,1169.2)" font-size="17.6" text-anchor="middle" fill="#000" textLength="54.71" lengthAdjust="spacingAndGlyphs">Bx(nT)</text>
<text transform="translate(1182,891.9) rotate(-90)" font-size="17.6" text-anchor="middle" fill="#000" textLength="54.71" lengthAdjust="spacingAndGlyphs">By(nT)</text>
<text transform="translate(1710.7,2066.2) scale(1.05,1)" font-size="17.6" text-anchor="start" fill="#000">10<tspan font-size="12.3" dy="-8.2">-31</tspan></text>
<text transform="translate(1710.7,2028.4) scale(1.05,1)" font-size="17.6" text-anchor="start" fill="#000">10<tspan font-size="12.3" dy="-8.2">-30</tspan></text>
<text transform="translate(1710.7,1990.6) scale(1.05,1)" font-size="17.6" text-anchor="start" fill="#000">10<tspan font-size="12.3" dy="-8.2">-29</tspan></text>
<text transform="translate(1710.7,1952.8) scale(1.05,1)" font-size="17.6" text-anchor="start" fill="#000">10<tspan font-size="12.3" dy="-8.2">-28</tspan></text>
<text transform="translate(1710.7,1915) scale(1.05,1)" font-size="17.6" text-anchor="start" fill="#000">10<tspan font-size="12.3" dy="-8.2">-27</tspan></text>
<text transform="translate(1710.7,1877.2) scale(1.05,1)" font-size="17.6" text-anchor="start" fill="#000">10<tspan font-size="12.3" dy="-8.2">-26</tspan></text>
<text transform="translate(57.5,1969) rotate(-90)" font-size="17.6" text-anchor="middle" fill="#000" textLength="141.85" lengthAdjust="spacingAndGlyphs">pitch angle (deg)</text>
<text transform="translate(203.39,1517.1)" font-size="17.6" text-anchor="middle" fill="#000" textLength="100.74" lengthAdjust="spacingAndGlyphs">02/14 10:44</text>
<text transform="translate(386.78,1517.1)" font-size="17.6" text-anchor="middle" fill="#000" textLength="100.74" lengthAdjust="spacingAndGlyphs">02/14 10:59</text>
<text transform="translate(570.18,1517.1)" font-size="17.6" text-anchor="middle" fill="#000" textLength="100.74" lengthAdjust="spacingAndGlyphs">02/14 11:14</text>
<text transform="translate(753.58,1517.1)" font-size="17.6" text-anchor="middle" fill="#000" textLength="100.74" lengthAdjust="spacingAndGlyphs">02/14 11:29</text>
<text transform="translate(936.98,1517.1)" font-size="17.6" text-anchor="middle" fill="#000" textLength="100.74" lengthAdjust="spacingAndGlyphs">02/14 11:44</text>
<text transform="translate(1120.38,1517.1)" font-size="17.6" text-anchor="middle" fill="#000" textLength="100.74" lengthAdjust="spacingAndGlyphs">02/14 11:59</text>
<text transform="translate(1303.78,1517.1)" font-size="17.6" text-anchor="middle" fill="#000" textLength="100.74" lengthAdjust="spacingAndGlyphs">02/14 12:14</text>
<text transform="translate(1487.17,1517.1)" font-size="17.6" text-anchor="middle" fill="#000" textLength="100.74" lengthAdjust="spacingAndGlyphs">02/14 12:29</text>
<text transform="translate(1670.57,1517.1)" font-size="17.6" text-anchor="middle" fill="#000" textLength="100.74" lengthAdjust="spacingAndGlyphs">02/14 12:44</text>
<text transform="translate(107.5,1498.7)" font-size="17.6" text-anchor="end" fill="#000" textLength="21.86" lengthAdjust="spacingAndGlyphs">−8</text>
<text transform="translate(107.5,1471.84)" font-size="17.6" text-anchor="end" fill="#000" textLength="21.86" lengthAdjust="spacingAndGlyphs">−6</text>
<text transform="translate(107.5,1444.99)" font-size="17.6" text-anchor="end" fill="#000" textLength="21.86" lengthAdjust="spacingAndGlyphs">−4</text>
<text transform="translate(107.5,1418.13)" font-size="17.6" text-anchor="end" fill="#000" textLength="21.86" lengthAdjust="spacingAndGlyphs">−2</text>
<text transform="translate(107.5,1391.27) scale(0.94,1)" font-size="17.6" text-anchor="end" fill="#000">0</text>
<text transform="translate(107.5,1364.41) scale(0.94,1)" font-size="17.6" text-anchor="end" fill="#000">2</text>
<text transform="translate(107.5,1337.56) scale(0.94,1)" font-size="17.6" text-anchor="end" fill="#000">4</text>
<text transform="translate(107.5,1310.7) scale(0.94,1)" font-size="17.6" text-anchor="end" fill="#000">6</text>
<text transform="translate(900,1294.4)" font-size="24.2" text-anchor="middle" fill="#000" textLength="317.14" lengthAdjust="spacingAndGlyphs">Magnetic Field (GSE Frame)</text>
<text transform="translate(203.39,1800.7)" font-size="17.6" text-anchor="middle" fill="#000" textLength="100.74" lengthAdjust="spacingAndGlyphs">02/14 10:44</text>
<text transform="translate(386.78,1800.7)" font-size="17.6" text-anchor="middle" fill="#000" textLength="100.74" lengthAdjust="spacingAndGlyphs">02/14 10:59</text>
<text transform="translate(570.18,1800.7)" font-size="17.6" text-anchor="middle" fill="#000" textLength="100.74" lengthAdjust="spacingAndGlyphs">02/14 11:14</text>
<text transform="translate(753.58,1800.7)" font-size="17.6" text-anchor="middle" fill="#000" textLength="100.74" lengthAdjust="spacingAndGlyphs">02/14 11:29</text>
<text transform="translate(936.98,1800.7)" font-size="17.6" text-anchor="middle" fill="#000" textLength="100.74" lengthAdjust="spacingAndGlyphs">02/14 11:44</text>
<text transform="translate(1120.38,1800.7)" font-size="17.6" text-anchor="middle" fill="#000" textLength="100.74" lengthAdjust="spacingAndGlyphs">02/14 11:59</text>
<text transform="translate(1303.78,1800.7)" font-size="17.6" text-anchor="middle" fill="#000" textLength="100.74" lengthAdjust="spacingAndGlyphs">02/14 12:14</text>
<text transform="translate(1487.17,1800.7)" font-size="17.6" text-anchor="middle" fill="#000" textLength="100.74" lengthAdjust="spacingAndGlyphs">02/14 12:29</text>
<text transform="translate(1670.57,1800.7)" font-size="17.6" text-anchor="middle" fill="#000" textLength="100.74" lengthAdjust="spacingAndGlyphs">02/14 12:44</text>
<text transform="translate(107.5,1782.3)" font-size="17.6" text-anchor="end" fill="#000" textLength="21.86" lengthAdjust="spacingAndGlyphs">−8</text>
<text transform="translate(107.5,1758.8)" font-size="17.6" text-anchor="end" fill="#000" textLength="21.86" lengthAdjust="spacingAndGlyphs">−6</text>
<text transform="translate(107.5,1735.3)" font-size="17.6" text-anchor="end" fill="#000" textLength="21.86" lengthAdjust="spacingAndGlyphs">−4</text>
<text transform="translate(107.5,1711.8)" font-size="17.6" text-anchor="end" fill="#000" textLength="21.86" lengthAdjust="spacingAndGlyphs">−2</text>
<text transform="translate(107.5,1688.3) scale(0.94,1)" font-size="17.6" text-anchor="end" fill="#000">0</text>
<text transform="translate(107.5,1664.8) scale(0.94,1)" font-size="17.6" text-anchor="end" fill="#000">2</text>
<text transform="translate(107.5,1641.3) scale(0.94,1)" font-size="17.6" text-anchor="end" fill="#000">4</text>
<text transform="translate(107.5,1617.8) scale(0.94,1)" font-size="17.6" text-anchor="end" fill="#000">6</text>
<text transform="translate(107.5,1594.3) scale(0.94,1)" font-size="17.6" text-anchor="end" fill="#000">8</text>
<text transform="translate(900,1578)" font-size="24.2" text-anchor="middle" fill="#000" textLength="383.45" lengthAdjust="spacingAndGlyphs">Magnetic Field (Flux Rope Frame)</text>
<text transform="translate(203.39,2084.3)" font-size="17.6" text-anchor="middle" fill="#000" textLength="100.74" lengthAdjust="spacingAndGlyphs">02/14 10:44</text>
<text transform="translate(386.78,2084.3)" font-size="17.6" text-anchor="middle" fill="#000" textLength="100.74" lengthAdjust="spacingAndGlyphs">02/14 10:59</text>
<text transform="translate(570.18,2084.3)" font-size="17.6" text-anchor="middle" fill="#000" textLength="100.74" lengthAdjust="spacingAndGlyphs">02/14 11:14</text>
<text transform="translate(753.58,2084.3)" font-size="17.6" text-anchor="middle" fill="#000" textLength="100.74" lengthAdjust="spacingAndGlyphs">02/14 11:29</text>
<text transform="translate(936.98,2084.3)" font-size="17.6" text-anchor="middle" fill="#000" textLength="100.74" lengthAdjust="spacingAndGlyphs">02/14 11:44</text>
<text transform="translate(1120.38,2084.3)" font-size="17.6" text-anchor="middle" fill="#000" textLength="100.74" lengthAdjust="spacingAndGlyphs">02/14 11:59</text>
<text transform="translate(1303.78,2084.3)" font-size="17.6" text-anchor="middle" fill="#000" textLength="100.74" lengthAdjust="spacingAndGlyphs">02/14 12:14</text>
<text transform="translate(1487.17,2084.3)" font-size="17.6" text-anchor="middle" fill="#000" textLength="100.74" lengthAdjust="spacingAndGlyphs">02/14 12:29</text>
<text transform="translate(1670.57,2084.3)" font-size="17.6" text-anchor="middle" fill="#000" textLength="100.74" lengthAdjust="spacingAndGlyphs">02/14 12:44</text>
<text transform="translate(107.5,2065.9) scale(0.94,1)" font-size="17.6" text-anchor="end" fill="#000">0</text>
<text transform="translate(107.5,2003.23)" font-size="17.6" text-anchor="end" fill="#000" textLength="21.08" lengthAdjust="spacingAndGlyphs">60</text>
<text transform="translate(107.5,1940.57)" font-size="17.6" text-anchor="end" fill="#000" textLength="31.62" lengthAdjust="spacingAndGlyphs">120</text>
<text transform="translate(107.5,1877.9)" font-size="17.6" text-anchor="end" fill="#000" textLength="31.62" lengthAdjust="spacingAndGlyphs">180</text>
<text transform="translate(900,1861.6)" font-size="24.2" text-anchor="middle" fill="#000" textLength="664.09" lengthAdjust="spacingAndGlyphs">Suprathermal Electrons Pitch Angle Distribution (96.71eV)</text>
<text transform="translate(203.39,2367.9)" font-size="17.6" text-anchor="middle" fill="#000" textLength="100.74" lengthAdjust="spacingAndGlyphs">02/14 10:44</text>
<text transform="translate(386.78,2367.9)" font-size="17.6" text-anchor="middle" fill="#000" textLength="100.74" lengthAdjust="spacingAndGlyphs">02/14 10:59</text>
<text transform="translate(570.18,2367.9)" font-size="17.6" text-anchor="middle" fill="#000" textLength="100.74" lengthAdjust="spacingAndGlyphs">02/14 11:14</text>
<text transform="translate(753.58,2367.9)" font-size="17.6" text-anchor="middle" fill="#000" textLength="100.74" lengthAdjust="spacingAndGlyphs">02/14 11:29</text>
<text transform="translate(936.98,2367.9)" font-size="17.6" text-anchor="middle" fill="#000" textLength="100.74" lengthAdjust="spacingAndGlyphs">02/14 11:44</text>
<text transform="translate(1120.38,2367.9)" font-size="17.6" text-anchor="middle" fill="#000" textLength="100.74" lengthAdjust="spacingAndGlyphs">02/14 11:59</text>
<text transform="translate(1303.78,2367.9)" font-size="17.6" text-anchor="middle" fill="#000" textLength="100.74" lengthAdjust="spacingAndGlyphs">02/14 12:14</text>
<text transform="translate(1487.17,2367.9)" font-size="17.6" text-anchor="middle" fill="#000" textLength="100.74" lengthAdjust="spacingAndGlyphs">02/14 12:29</text>
<text transform="translate(1670.57,2367.9)" font-size="17.6" text-anchor="middle" fill="#000" textLength="100.74" lengthAdjust="spacingAndGlyphs">02/14 12:44</text>
<text transform="translate(107.5,2349.5)" font-size="17.6" text-anchor="end" fill="#000" textLength="42.94" lengthAdjust="spacingAndGlyphs">−350</text>
<text transform="translate(107.5,2326)" font-size="17.6" text-anchor="end" fill="#000" textLength="42.94" lengthAdjust="spacingAndGlyphs">−300</text>
<text transform="translate(107.5,2302.5)" font-size="17.6" text-anchor="end" fill="#000" textLength="42.94" lengthAdjust="spacingAndGlyphs">−250</text>
<text transform="translate(107.5,2279)" font-size="17.6" text-anchor="end" fill="#000" textLength="42.94" lengthAdjust="spacingAndGlyphs">−200</text>
<text transform="translate(107.5,2255.5)" font-size="17.6" text-anchor="end" fill="#000" textLength="42.94" lengthAdjust="spacingAndGlyphs">−150</text>
<text transform="translate(107.5,2232)" font-size="17.6" text-anchor="end" fill="#000" textLength="42.94" lengthAdjust="spacingAndGlyphs">−100</text>
<text transform="translate(107.5,2208.5)" font-size="17.6" text-anchor="end" fill="#000" textLength="32.4" lengthAdjust="spacingAndGlyphs">−50</text>
<text transform="translate(107.5,2185) scale(0.94,1)" font-size="17.6" text-anchor="end" fill="#000">0</text>
<text transform="translate(107.5,2161.5)" font-size="17.6" text-anchor="end" fill="#000" textLength="21.08" lengthAdjust="spacingAndGlyphs">50</text>
<text transform="translate(900,2145.2)" font-size="24.2" text-anchor="middle" fill="#000" textLength="372.75" lengthAdjust="spacingAndGlyphs">Solar Wind Velocity (GSE Frame)</text>
<text transform="translate(203.39,2651.5)" font-size="17.6" text-anchor="middle" fill="#000" textLength="100.74" lengthAdjust="spacingAndGlyphs">02/14 10:44</text>
<text transform="translate(386.78,2651.5)" font-size="17.6" text-anchor="middle" fill="#000" textLength="100.74" lengthAdjust="spacingAndGlyphs">02/14 10:59</text>
<text transform="translate(570.18,2651.5)" font-size="17.6" text-anchor="middle" fill="#000" textLength="100.74" lengthAdjust="spacingAndGlyphs">02/14 11:14</text>
<text transform="translate(753.58,2651.5)" font-size="17.6" text-anchor="middle" fill="#000" textLength="100.74" lengthAdjust="spacingAndGlyphs">02/14 11:29</text>
<text transform="translate(936.98,2651.5)" font-size="17.6" text-anchor="middle" fill="#000" textLength="100.74" lengthAdjust="spacingAndGlyphs">02/14 11:44</text>
<text transform="translate(1120.38,2651.5)" font-size="17.6" text-anchor="middle" fill="#000" textLength="100.74" lengthAdjust="spacingAndGlyphs">02/14 11:59</text>
<text transform="translate(1303.78,2651.5)" font-size="17.6" text-anchor="middle" fill="#000" textLength="100.74" lengthAdjust="spacingAndGlyphs">02/14 12:14</text>
<text transform="translate(1487.17,2651.5)" font-size="17.6" text-anchor="middle" fill="#000" textLength="100.74" lengthAdjust="spacingAndGlyphs">02/14 12:29</text>
<text transform="translate(1670.57,2651.5)" font-size="17.6" text-anchor="middle" fill="#000" textLength="100.74" lengthAdjust="spacingAndGlyphs">02/14 12:44</text>
<text transform="translate(107.5,2633.1) scale(0.94,1)" font-size="17.6" text-anchor="end" fill="#000">0</text>
<text transform="translate(107.5,2595.5) scale(0.94,1)" font-size="17.6" text-anchor="end" fill="#000">1</text>
<text transform="translate(107.5,2557.9) scale(0.94,1)" font-size="17.6" text-anchor="end" fill="#000">2</text>
<text transform="translate(107.5,2520.3) scale(0.94,1)" font-size="17.6" text-anchor="end" fill="#000">3</text>
<text transform="translate(107.5,2482.7) scale(0.94,1)" font-size="17.6" text-anchor="end" fill="#000">4</text>
<text transform="translate(107.5,2445.1) scale(0.94,1)" font-size="17.6" text-anchor="end" fill="#000">5</text>
<text transform="translate(900,2428.8)" font-size="24.2" text-anchor="middle" fill="#000" textLength="141.8" lengthAdjust="spacingAndGlyphs">Plasma Beta</text>
<text transform="translate(203.39,2935.1)" font-size="17.6" text-anchor="middle" fill="#000" textLength="100.74" lengthAdjust="spacingAndGlyphs">02/14 10:44</text>
<text transform="translate(386.78,2935.1)" font-size="17.6" text-anchor="middle" fill="#000" textLength="100.74" lengthAdjust="spacingAndGlyphs">02/14 10:59</text>
<text transform="translate(570.18,2935.1)" font-size="17.6" text-anchor="middle" fill="#000" textLength="100.74" lengthAdjust="spacingAndGlyphs">02/14 11:14</text>
<text transform="translate(753.58,2935.1)" font-size="17.6" text-anchor="middle" fill="#000" textLength="100.74" lengthAdjust="spacingAndGlyphs">02/14 11:29</text>
<text transform="translate(936.98,2935.1)" font-size="17.6" text-anchor="middle" fill="#000" textLength="100.74" lengthAdjust="spacingAndGlyphs">02/14 11:44</text>
<text transform="translate(1120.38,2935.1)" font-size="17.6" text-anchor="middle" fill="#000" textLength="100.74" lengthAdjust="spacingAndGlyphs">02/14 11:59</text>
<text transform="translate(1303.78,2935.1)" font-size="17.6" text-anchor="middle" fill="#000" textLength="100.74" lengthAdjust="spacingAndGlyphs">02/14 12:14</text>
<text transform="translate(1487.17,2935.1)" font-size="17.6" text-anchor="middle" fill="#000" textLength="100.74" lengthAdjust="spacingAndGlyphs">02/14 12:29</text>
<text transform="translate(1670.57,2935.1)" font-size="17.6" text-anchor="middle" fill="#000" textLength="100.74" lengthAdjust="spacingAndGlyphs">02/14 12:44</text>
<text transform="translate(107.5,2916.7) scale(0.94,1)" font-size="17.6" text-anchor="end" fill="#000">0</text>
<text transform="translate(107.5,2885.37) scale(0.94,1)" font-size="17.6" text-anchor="end" fill="#000">5</text>
<text transform="translate(107.5,2854.03)" font-size="17.6" text-anchor="end" fill="#000" textLength="21.08" lengthAdjust="spacingAndGlyphs">10</text>
<text transform="translate(107.5,2822.7)" font-size="17.6" text-anchor="end" fill="#000" textLength="21.08" lengthAdjust="spacingAndGlyphs">15</text>
<text transform="translate(107.5,2791.37)" font-size="17.6" text-anchor="end" fill="#000" textLength="21.08" lengthAdjust="spacingAndGlyphs">20</text>
<text transform="translate(107.5,2760.03)" font-size="17.6" text-anchor="end" fill="#000" textLength="21.08" lengthAdjust="spacingAndGlyphs">25</text>
<text transform="translate(107.5,2728.7)" font-size="17.6" text-anchor="end" fill="#000" textLength="21.08" lengthAdjust="spacingAndGlyphs">30</text>
<text transform="translate(900,2712.4)" font-size="24.2" text-anchor="middle" fill="#000" textLength="266.9" lengthAdjust="spacingAndGlyphs">Proton Number Density</text>
<text transform="translate(203.39,3218.7)" font-size="17.6" text-anchor="middle" fill="#000" textLength="100.74" lengthAdjust="spacingAndGlyphs">02/14 10:44</text>
<text transform="translate(386.78,3218.7)" font-size="17.6" text-anchor="middle" fill="#000" textLength="100.74" lengthAdjust="spacingAndGlyphs">02/14 10:59</text>
<text transform="translate(570.18,3218.7)" font-size="17.6" text-anchor="middle" fill="#000" textLength="100.74" lengthAdjust="spacingAndGlyphs">02/14 11:14</text>
<text transform="translate(753.58,3218.7)" font-size="17.6" text-anchor="middle" fill="#000" textLength="100.74" lengthAdjust="spacingAndGlyphs">02/14 11:29</text>
<text transform="translate(936.98,3218.7)" font-size="17.6" text-anchor="middle" fill="#000" textLength="100.74" lengthAdjust="spacingAndGlyphs">02/14 11:44</text>
<text transform="translate(1120.38,3218.7)" font-size="17.6" text-anchor="middle" fill="#000" textLength="100.74" lengthAdjust="spacingAndGlyphs">02/14 11:59</text>
<text transform="translate(1303.78,3218.7)" font-size="17.6" text-anchor="middle" fill="#000" textLength="100.74" lengthAdjust="spacingAndGlyphs">02/14 12:14</text>
<text transform="translate(1487.17,3218.7)" font-size="17.6" text-anchor="middle" fill="#000" textLength="100.74" lengthAdjust="spacingAndGlyphs">02/14 12:29</text>
<text transform="translate(1670.57,3218.7)" font-size="17.6" text-anchor="middle" fill="#000" textLength="100.74" lengthAdjust="spacingAndGlyphs">02/14 12:44</text>
<text transform="translate(107.5,3200.3)" font-size="17.6" text-anchor="end" fill="#000" textLength="26.34" lengthAdjust="spacingAndGlyphs">0.0</text>
<text transform="translate(107.5,3162.7)" font-size="17.6" text-anchor="end" fill="#000" textLength="26.34" lengthAdjust="spacingAndGlyphs">0.1</text>
<text transform="translate(107.5,3125.1)" font-size="17.6" text-anchor="end" fill="#000" textLength="26.34" lengthAdjust="spacingAndGlyphs">0.2</text>
<text transform="translate(107.5,3087.5)" font-size="17.6" text-anchor="end" fill="#000" textLength="26.34" lengthAdjust="spacingAndGlyphs">0.3</text>
<text transform="translate(107.5,3049.9)" font-size="17.6" text-anchor="end" fill="#000" textLength="26.34" lengthAdjust="spacingAndGlyphs">0.4</text>
<text transform="translate(107.5,3012.3)" font-size="17.6" text-anchor="end" fill="#000" textLength="26.34" lengthAdjust="spacingAndGlyphs">0.5</text>
<text transform="translate(1652.1,1329.5)" font-size="15.6" text-anchor="start" fill="#000" textLength="18.76" lengthAdjust="spacingAndGlyphs">Bx</text>
<text transform="translate(1652.1,1352.3)" font-size="15.6" text-anchor="start" fill="#000" textLength="18.76" lengthAdjust="spacingAndGlyphs">By</text>
<text transform="translate(1652.1,1375.1)" font-size="15.6" text-anchor="start" fill="#000" textLength="17.78" lengthAdjust="spacingAndGlyphs">Bz</text>
<text transform="translate(69.5,1401.8) rotate(-90)" font-size="17.6" text-anchor="middle" fill="#000" textLength="44.91" lengthAdjust="spacingAndGlyphs">B(nT)</text>
<text transform="translate(1648.1,1613.5)" font-size="15.6" text-anchor="start" fill="#000" textLength="22.8" lengthAdjust="spacingAndGlyphs">Bx'</text>
<text transform="translate(1648.1,1635.8)" font-size="15.6" text-anchor="start" fill="#000" textLength="22.8" lengthAdjust="spacingAndGlyphs">By'</text>
<text transform="translate(1648.1,1658.1)" font-size="15.6" text-anchor="start" fill="#000" textLength="21.82" lengthAdjust="spacingAndGlyphs">Bz'</text>
<text transform="translate(1648.1,1680.4)" font-size="15.6" text-anchor="start" fill="#000" textLength="19.97" lengthAdjust="spacingAndGlyphs">|B|</text>
<text transform="translate(69.5,1685.4) rotate(-90)" font-size="17.6" text-anchor="middle" fill="#000" textLength="44.91" lengthAdjust="spacingAndGlyphs">B(nT)</text>
<text transform="translate(1651.6,2180.5)" font-size="15.6" text-anchor="start" fill="#000" textLength="18.73" lengthAdjust="spacingAndGlyphs">Vx</text>
<text transform="translate(1651.6,2202.8)" font-size="15.6" text-anchor="start" fill="#000" textLength="18.73" lengthAdjust="spacingAndGlyphs">Vy</text>
<text transform="translate(1651.6,2225.1)" font-size="15.6" text-anchor="start" fill="#000" textLength="17.75" lengthAdjust="spacingAndGlyphs">Vz</text>
<text transform="translate(47.5,2252.6) rotate(-90)" font-size="17.6" text-anchor="middle" fill="#000" textLength="86.37" lengthAdjust="spacingAndGlyphs">Vsw(km/s)</text>
<text transform="translate(78,2536.2) rotate(-90) scale(1.05,1)" font-size="17.6" text-anchor="middle" fill="#000"><tspan font-family="Liberation Serif" font-style="italic" fill="#333">β</tspan><tspan font-family="Liberation Serif" font-style="italic" font-size="12" dy="4" fill="#333">p</tspan><tspan dy="-4"> and </tspan><tspan font-family="Liberation Serif" font-style="italic" fill="#333">β</tspan></text>
<text transform="translate(73.5,2819.8) rotate(-90)" font-size="17.6" text-anchor="middle" fill="#000" textLength="73.51" lengthAdjust="spacingAndGlyphs">Np(#/cc)</text>
<text transform="translate(171,3030.7)" font-size="15.6" text-anchor="start" fill="#000" textLength="18.29" lengthAdjust="spacingAndGlyphs">Tp</text>
<text transform="translate(63.5,3103.4) rotate(-90) scale(1.05,1)" font-size="17.6" text-anchor="middle" fill="#000">Tp(<tspan font-family="Liberation Serif" font-size="15.5">10</tspan><tspan font-family="Liberation Serif" font-size="11" dy="-6">6</tspan><tspan dy="6">K)</tspan></text>
<text transform="translate(900,2994.4) scale(1.09,1)" font-size="24.2" text-anchor="middle" fill="#000">Proton Temperature and <tspan font-family="Liberation Serif" font-style="italic">T</tspan><tspan font-family="Liberation Serif" font-style="italic" font-size="14.5" dy="3.5">e</tspan><tspan font-family="Liberation Serif" font-style="italic" dy="-3.5" dx="2">/</tspan><tspan font-family="Liberation Serif" font-style="italic" dx="1.5">T</tspan><tspan font-family="Liberation Serif" font-style="italic" font-size="14.5" dy="3.5">p</tspan></text>
</g>
<g style="filter:saturate(1)">
<text transform="translate(1655.5,2464.5) scale(1,1)" font-size="15.5" text-anchor="start" fill="#222"><tspan font-family="Liberation Serif" font-style="italic">β</tspan><tspan font-family="Liberation Serif" font-style="italic" font-size="10.5" dy="3.5">p</tspan></text>
<text transform="translate(1655.5,2491.9) scale(1,1)" font-size="15.5" text-anchor="start" fill="#222"><tspan font-family="Liberation Serif" font-style="italic">β</tspan></text>
<text transform="translate(1634,3032.5) scale(1,1)" font-size="15.5" text-anchor="start" fill="#111"><tspan font-family="Liberation Serif" font-style="italic">T</tspan><tspan font-family="Liberation Serif" font-style="italic" font-size="10.5" dy="3">e</tspan><tspan font-family="Liberation Serif" font-style="italic" dy="-3">/T</tspan><tspan font-family="Liberation Serif" font-style="italic" font-size="10.5" dy="3">p</tspan></text>
<text transform="translate(1692.5,3200.4) scale(0.94,1)" font-size="17.6" text-anchor="start" fill="#ff0000">0</text>
<text transform="translate(1692.5,3162.6) scale(0.94,1)" font-size="17.6" text-anchor="start" fill="#ff0000">1</text>
<text transform="translate(1692.5,3124.8) scale(0.94,1)" font-size="17.6" text-anchor="start" fill="#ff0000">2</text>
<text transform="translate(1692.5,3087) scale(0.94,1)" font-size="17.6" text-anchor="start" fill="#ff0000">3</text>
<text transform="translate(1692.5,3049.2) scale(0.94,1)" font-size="17.6" text-anchor="start" fill="#ff0000">4</text>
<text transform="translate(1692.5,3011.4) scale(0.94,1)" font-size="17.6" text-anchor="start" fill="#ff0000">5</text>
<text transform="translate(1724,3100.9) rotate(-90) scale(1,1)" font-size="17.5" text-anchor="middle" fill="#ff0000"><tspan font-family="Liberation Serif" font-style="italic">T</tspan><tspan font-family="Liberation Serif" font-style="italic" font-size="12" dy="3.5">e</tspan><tspan font-family="Liberation Serif" font-style="italic" dy="-3.5">/T</tspan><tspan font-family="Liberation Serif" font-style="italic" font-size="12" dy="3.5">p</tspan></text>
</g>
</svg>
</body></html>
